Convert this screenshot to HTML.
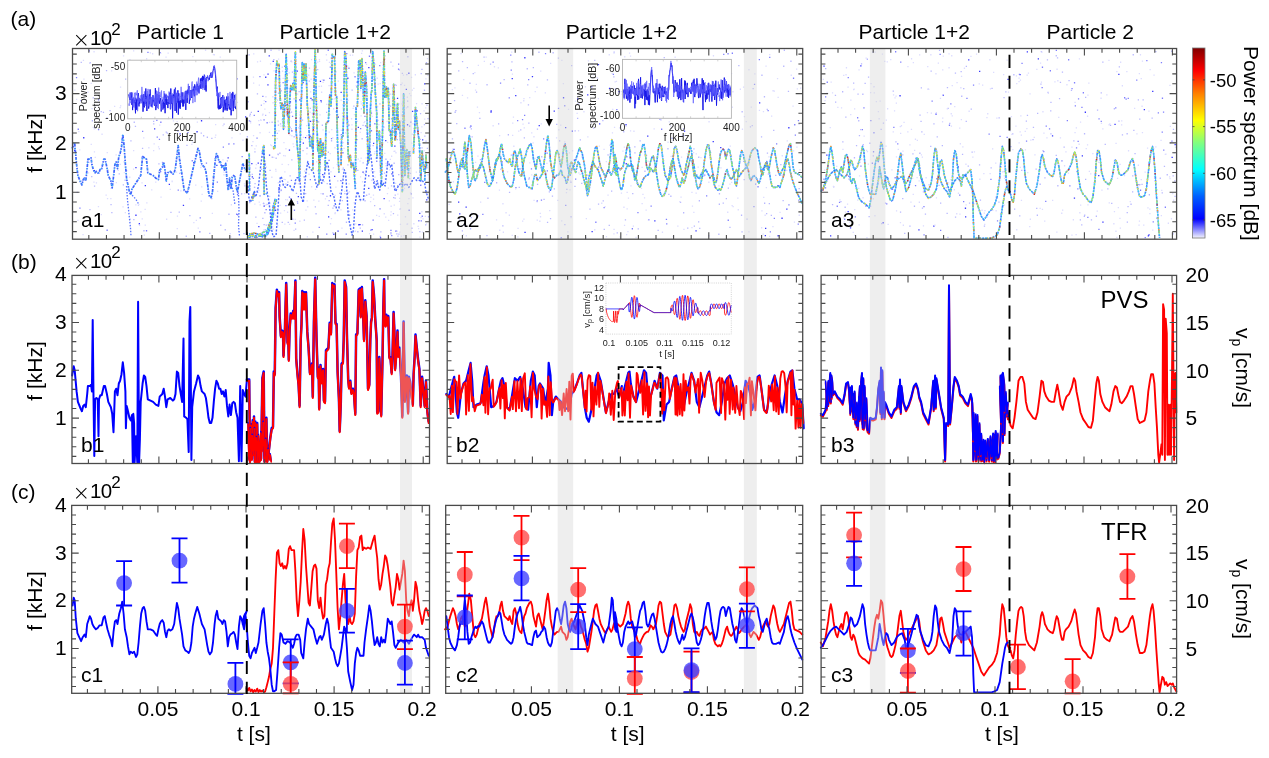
<!DOCTYPE html>
<html><head><meta charset="utf-8"><title>Figure</title>
<style>html,body{margin:0;padding:0;background:#fff;overflow:hidden}svg{display:block}</style>
</head><body>
<svg width="1269" height="758" viewBox="0 0 1269 758" font-family='"Liberation Sans", Arial, Helvetica, sans-serif'><rect width="1269" height="758" fill="#fff"/>
<path d="M196.4 131.1h1.3v1.3h-1.3zM257.6 162.5h1.3v1.3h-1.3zM416.9 127.4h1.3v1.3h-1.3zM74.0 150.0h1.3v1.3h-1.3zM328.0 216.3h1.3v1.3h-1.3zM419.1 212.7h1.3v1.3h-1.3zM411.9 110.8h1.3v1.3h-1.3zM379.9 237.2h1.3v1.3h-1.3zM200.9 120.1h1.3v1.3h-1.3zM288.8 149.5h1.3v1.3h-1.3zM268.6 55.3h1.3v1.3h-1.3zM135.3 167.0h1.3v1.3h-1.3zM245.0 116.2h1.3v1.3h-1.3zM207.4 64.5h1.3v1.3h-1.3zM83.1 137.1h1.3v1.3h-1.3zM285.1 104.8h1.3v1.3h-1.3zM216.2 164.7h1.3v1.3h-1.3zM391.3 173.2h1.3v1.3h-1.3zM193.2 162.1h1.3v1.3h-1.3zM135.3 214.6h1.3v1.3h-1.3zM319.8 80.7h1.3v1.3h-1.3zM395.0 84.8h1.3v1.3h-1.3zM349.0 155.8h1.3v1.3h-1.3zM274.9 209.6h1.3v1.3h-1.3zM356.6 81.5h1.3v1.3h-1.3zM154.0 128.2h1.3v1.3h-1.3zM368.1 175.2h1.3v1.3h-1.3zM93.8 170.0h1.3v1.3h-1.3zM291.2 130.2h1.3v1.3h-1.3zM302.7 142.5h1.3v1.3h-1.3zM179.4 133.3h1.3v1.3h-1.3zM138.7 223.1h1.3v1.3h-1.3zM227.5 157.3h1.3v1.3h-1.3zM156.7 78.9h1.3v1.3h-1.3zM267.3 84.3h1.3v1.3h-1.3zM182.8 204.8h1.3v1.3h-1.3zM368.2 66.9h1.3v1.3h-1.3zM302.5 81.9h1.3v1.3h-1.3zM304.9 137.0h1.3v1.3h-1.3zM156.1 64.4h1.3v1.3h-1.3zM168.7 183.7h1.3v1.3h-1.3zM144.7 185.0h1.3v1.3h-1.3z" fill="#3838ff"/>
<path d="M88.7 50.3h1.3v1.3h-1.3zM205.8 162.4h1.3v1.3h-1.3zM348.3 67.6h1.3v1.3h-1.3zM292.1 83.0h1.3v1.3h-1.3zM141.2 115.2h1.3v1.3h-1.3zM142.1 88.5h1.3v1.3h-1.3zM97.9 129.0h1.3v1.3h-1.3zM173.2 84.5h1.3v1.3h-1.3zM142.0 130.8h1.3v1.3h-1.3zM195.6 86.1h1.3v1.3h-1.3zM348.9 214.4h1.3v1.3h-1.3zM106.5 229.6h1.3v1.3h-1.3zM199.2 231.3h1.3v1.3h-1.3zM379.1 149.2h1.3v1.3h-1.3zM98.0 99.3h1.3v1.3h-1.3zM236.6 78.3h1.3v1.3h-1.3zM259.3 75.9h1.3v1.3h-1.3zM397.4 184.9h1.3v1.3h-1.3zM329.7 66.5h1.3v1.3h-1.3zM376.1 160.6h1.3v1.3h-1.3zM147.3 51.7h1.3v1.3h-1.3zM191.6 160.1h1.3v1.3h-1.3zM236.0 213.6h1.3v1.3h-1.3zM370.8 130.1h1.3v1.3h-1.3zM237.1 214.1h1.3v1.3h-1.3zM156.2 119.7h1.3v1.3h-1.3zM368.8 55.6h1.3v1.3h-1.3zM314.5 98.1h1.3v1.3h-1.3zM330.9 137.9h1.3v1.3h-1.3zM160.0 171.0h1.3v1.3h-1.3zM216.7 181.5h1.3v1.3h-1.3zM222.7 146.5h1.3v1.3h-1.3zM340.7 134.0h1.3v1.3h-1.3zM379.4 208.3h1.3v1.3h-1.3zM320.7 101.3h1.3v1.3h-1.3zM75.9 77.0h1.3v1.3h-1.3zM201.9 69.7h1.3v1.3h-1.3zM265.5 209.0h1.3v1.3h-1.3zM355.7 167.9h1.3v1.3h-1.3zM322.4 193.3h1.3v1.3h-1.3zM158.8 138.8h1.3v1.3h-1.3zM256.4 137.4h1.3v1.3h-1.3zM303.6 176.3h1.3v1.3h-1.3zM156.6 136.5h1.3v1.3h-1.3zM131.5 101.1h1.3v1.3h-1.3zM74.0 148.3h1.3v1.3h-1.3zM79.3 207.4h1.3v1.3h-1.3zM228.3 143.3h1.3v1.3h-1.3zM241.5 156.0h1.3v1.3h-1.3zM187.3 131.9h1.3v1.3h-1.3zM323.2 79.6h1.3v1.3h-1.3zM365.0 61.9h1.3v1.3h-1.3zM77.6 128.6h1.3v1.3h-1.3zM137.7 63.8h1.3v1.3h-1.3zM159.6 52.0h1.3v1.3h-1.3zM160.2 121.6h1.3v1.3h-1.3zM342.3 152.1h1.3v1.3h-1.3zM272.2 134.9h1.3v1.3h-1.3zM262.9 202.8h1.3v1.3h-1.3zM134.5 95.0h1.3v1.3h-1.3zM145.0 115.4h1.3v1.3h-1.3zM233.2 143.3h1.3v1.3h-1.3zM329.0 77.8h1.3v1.3h-1.3zM199.6 217.2h1.3v1.3h-1.3zM177.6 189.5h1.3v1.3h-1.3zM390.3 229.8h1.3v1.3h-1.3zM280.5 189.6h1.3v1.3h-1.3zM410.2 121.5h1.3v1.3h-1.3zM398.0 63.5h1.3v1.3h-1.3zM282.5 81.9h1.3v1.3h-1.3zM145.9 230.1h1.3v1.3h-1.3zM268.1 203.0h1.3v1.3h-1.3zM327.6 49.6h1.3v1.3h-1.3zM163.7 95.3h1.3v1.3h-1.3zM346.1 53.0h1.3v1.3h-1.3zM236.9 194.0h1.3v1.3h-1.3zM245.8 164.3h1.3v1.3h-1.3zM237.7 192.6h1.3v1.3h-1.3zM262.7 178.7h1.3v1.3h-1.3zM360.0 127.9h1.3v1.3h-1.3zM291.9 115.7h1.3v1.3h-1.3zM290.8 179.7h1.3v1.3h-1.3zM265.1 101.0h1.3v1.3h-1.3z" fill="#8080ff"/>
<path d="M287.1 121.1h1.3v1.3h-1.3zM407.1 106.3h1.3v1.3h-1.3zM372.6 78.9h1.3v1.3h-1.3zM359.6 227.4h1.3v1.3h-1.3zM220.0 95.6h1.3v1.3h-1.3zM326.0 111.8h1.3v1.3h-1.3zM246.7 136.1h1.3v1.3h-1.3zM246.9 80.6h1.3v1.3h-1.3zM105.9 69.9h1.3v1.3h-1.3zM425.4 140.5h1.3v1.3h-1.3zM228.0 143.6h1.3v1.3h-1.3zM427.9 216.1h1.3v1.3h-1.3zM92.6 97.3h1.3v1.3h-1.3zM342.6 167.5h1.3v1.3h-1.3zM166.6 132.4h1.3v1.3h-1.3zM330.9 140.1h1.3v1.3h-1.3zM328.5 199.9h1.3v1.3h-1.3zM369.9 52.6h1.3v1.3h-1.3zM141.1 156.8h1.3v1.3h-1.3zM399.9 145.4h1.3v1.3h-1.3zM214.1 158.0h1.3v1.3h-1.3zM194.9 154.4h1.3v1.3h-1.3zM88.2 161.8h1.3v1.3h-1.3zM385.3 158.6h1.3v1.3h-1.3zM255.2 216.5h1.3v1.3h-1.3zM110.9 185.0h1.3v1.3h-1.3zM277.8 124.4h1.3v1.3h-1.3zM133.7 88.1h1.3v1.3h-1.3zM364.3 95.8h1.3v1.3h-1.3zM291.2 159.2h1.3v1.3h-1.3zM420.6 72.9h1.3v1.3h-1.3zM91.7 120.1h1.3v1.3h-1.3zM246.5 182.6h1.3v1.3h-1.3zM302.4 150.0h1.3v1.3h-1.3zM181.6 179.3h1.3v1.3h-1.3zM366.0 194.6h1.3v1.3h-1.3zM211.2 137.7h1.3v1.3h-1.3zM126.0 169.9h1.3v1.3h-1.3zM406.2 73.9h1.3v1.3h-1.3zM425.0 224.2h1.3v1.3h-1.3zM203.0 135.1h1.3v1.3h-1.3zM339.1 192.8h1.3v1.3h-1.3zM158.7 78.8h1.3v1.3h-1.3zM133.6 121.6h1.3v1.3h-1.3zM179.1 172.8h1.3v1.3h-1.3zM297.0 202.6h1.3v1.3h-1.3zM234.2 115.6h1.3v1.3h-1.3zM241.0 193.3h1.3v1.3h-1.3zM244.2 185.2h1.3v1.3h-1.3zM279.2 152.6h1.3v1.3h-1.3zM130.3 140.2h1.3v1.3h-1.3zM211.1 197.9h1.3v1.3h-1.3zM223.3 92.6h1.3v1.3h-1.3zM392.8 213.0h1.3v1.3h-1.3zM93.9 185.5h1.3v1.3h-1.3zM262.9 203.0h1.3v1.3h-1.3zM228.3 213.6h1.3v1.3h-1.3zM201.0 160.7h1.3v1.3h-1.3zM191.1 62.6h1.3v1.3h-1.3zM426.3 104.4h1.3v1.3h-1.3zM421.3 68.8h1.3v1.3h-1.3zM206.7 136.6h1.3v1.3h-1.3zM263.5 224.0h1.3v1.3h-1.3zM210.6 109.8h1.3v1.3h-1.3zM269.4 169.7h1.3v1.3h-1.3zM357.2 231.1h1.3v1.3h-1.3zM243.3 233.0h1.3v1.3h-1.3zM254.4 183.0h1.3v1.3h-1.3zM332.3 207.4h1.3v1.3h-1.3zM287.6 221.7h1.3v1.3h-1.3zM361.5 138.1h1.3v1.3h-1.3zM89.6 62.1h1.3v1.3h-1.3zM89.3 209.0h1.3v1.3h-1.3zM178.1 97.2h1.3v1.3h-1.3zM270.4 49.6h1.3v1.3h-1.3zM189.2 215.0h1.3v1.3h-1.3zM106.3 117.2h1.3v1.3h-1.3zM384.5 55.2h1.3v1.3h-1.3zM266.4 203.7h1.3v1.3h-1.3zM398.1 173.9h1.3v1.3h-1.3zM413.6 115.5h1.3v1.3h-1.3zM220.1 224.6h1.3v1.3h-1.3zM179.6 159.7h1.3v1.3h-1.3zM80.6 61.7h1.3v1.3h-1.3zM344.2 192.9h1.3v1.3h-1.3zM179.2 93.4h1.3v1.3h-1.3zM118.6 173.3h1.3v1.3h-1.3zM177.3 130.7h1.3v1.3h-1.3zM390.9 128.7h1.3v1.3h-1.3zM407.0 100.5h1.3v1.3h-1.3zM161.8 161.7h1.3v1.3h-1.3zM343.3 88.5h1.3v1.3h-1.3zM223.4 123.4h1.3v1.3h-1.3zM369.0 109.0h1.3v1.3h-1.3zM133.2 218.9h1.3v1.3h-1.3zM264.6 229.0h1.3v1.3h-1.3zM289.5 126.6h1.3v1.3h-1.3zM178.6 211.4h1.3v1.3h-1.3zM368.5 193.4h1.3v1.3h-1.3zM176.6 92.1h1.3v1.3h-1.3zM317.1 69.0h1.3v1.3h-1.3zM122.7 184.3h1.3v1.3h-1.3zM159.3 67.4h1.3v1.3h-1.3zM291.8 71.5h1.3v1.3h-1.3zM165.6 131.4h1.3v1.3h-1.3zM364.4 200.1h1.3v1.3h-1.3zM331.9 98.4h1.3v1.3h-1.3zM286.0 107.0h1.3v1.3h-1.3zM200.6 132.4h1.3v1.3h-1.3zM301.9 119.5h1.3v1.3h-1.3zM273.2 58.9h1.3v1.3h-1.3zM341.1 180.3h1.3v1.3h-1.3zM170.3 211.7h1.3v1.3h-1.3zM291.0 217.4h1.3v1.3h-1.3zM185.6 235.6h1.3v1.3h-1.3zM224.1 165.2h1.3v1.3h-1.3zM393.5 162.6h1.3v1.3h-1.3zM226.7 160.3h1.3v1.3h-1.3zM374.0 205.0h1.3v1.3h-1.3zM100.6 110.9h1.3v1.3h-1.3zM389.1 134.7h1.3v1.3h-1.3zM162.6 134.3h1.3v1.3h-1.3zM345.8 221.6h1.3v1.3h-1.3zM124.5 179.6h1.3v1.3h-1.3zM235.6 188.1h1.3v1.3h-1.3zM186.3 144.8h1.3v1.3h-1.3zM76.6 191.8h1.3v1.3h-1.3zM102.8 111.8h1.3v1.3h-1.3zM111.2 211.9h1.3v1.3h-1.3zM391.1 118.1h1.3v1.3h-1.3zM397.3 235.4h1.3v1.3h-1.3zM158.3 163.3h1.3v1.3h-1.3zM141.9 147.7h1.3v1.3h-1.3zM317.9 159.0h1.3v1.3h-1.3zM224.6 229.1h1.3v1.3h-1.3zM230.1 107.5h1.3v1.3h-1.3zM362.2 104.4h1.3v1.3h-1.3zM186.4 111.6h1.3v1.3h-1.3zM109.4 109.9h1.3v1.3h-1.3zM414.0 110.2h1.3v1.3h-1.3zM309.7 107.7h1.3v1.3h-1.3zM305.0 192.9h1.3v1.3h-1.3zM209.1 232.8h1.3v1.3h-1.3zM407.2 56.1h1.3v1.3h-1.3zM143.3 230.1h1.3v1.3h-1.3zM296.8 201.0h1.3v1.3h-1.3zM277.4 153.4h1.3v1.3h-1.3zM327.6 204.8h1.3v1.3h-1.3zM134.8 125.7h1.3v1.3h-1.3zM247.5 101.1h1.3v1.3h-1.3zM91.1 176.0h1.3v1.3h-1.3zM335.5 111.1h1.3v1.3h-1.3zM110.4 203.9h1.3v1.3h-1.3zM80.0 100.0h1.3v1.3h-1.3zM351.5 89.4h1.3v1.3h-1.3zM125.0 78.4h1.3v1.3h-1.3zM248.5 54.2h1.3v1.3h-1.3zM251.2 145.0h1.3v1.3h-1.3zM153.1 123.2h1.3v1.3h-1.3zM153.0 120.8h1.3v1.3h-1.3zM222.9 71.7h1.3v1.3h-1.3zM249.9 120.7h1.3v1.3h-1.3zM425.8 62.0h1.3v1.3h-1.3zM417.9 156.8h1.3v1.3h-1.3zM318.0 121.3h1.3v1.3h-1.3z" fill="#b8b8ff"/>
<path d="M275.8 130.0h1.3v1.3h-1.3zM146.2 202.2h1.3v1.3h-1.3zM305.0 79.6h1.3v1.3h-1.3zM189.4 96.4h1.3v1.3h-1.3zM426.8 57.9h1.3v1.3h-1.3zM312.6 135.2h1.3v1.3h-1.3zM308.0 74.5h1.3v1.3h-1.3zM421.8 231.5h1.3v1.3h-1.3zM391.9 108.5h1.3v1.3h-1.3zM227.8 61.7h1.3v1.3h-1.3zM219.6 56.4h1.3v1.3h-1.3zM363.4 173.0h1.3v1.3h-1.3zM376.6 77.6h1.3v1.3h-1.3zM234.8 80.5h1.3v1.3h-1.3zM364.5 195.4h1.3v1.3h-1.3zM101.4 133.6h1.3v1.3h-1.3zM211.7 212.7h1.3v1.3h-1.3zM158.7 148.1h1.3v1.3h-1.3zM222.3 159.3h1.3v1.3h-1.3zM330.8 218.0h1.3v1.3h-1.3zM223.3 171.4h1.3v1.3h-1.3zM127.5 94.0h1.3v1.3h-1.3zM316.9 170.1h1.3v1.3h-1.3zM367.4 139.4h1.3v1.3h-1.3zM414.6 131.2h1.3v1.3h-1.3zM397.2 193.4h1.3v1.3h-1.3zM421.4 103.1h1.3v1.3h-1.3zM123.2 161.2h1.3v1.3h-1.3zM337.0 180.0h1.3v1.3h-1.3zM223.3 174.1h1.3v1.3h-1.3zM167.4 117.9h1.3v1.3h-1.3zM295.6 88.8h1.3v1.3h-1.3zM383.6 213.1h1.3v1.3h-1.3zM319.7 144.6h1.3v1.3h-1.3zM242.3 139.6h1.3v1.3h-1.3zM354.7 230.6h1.3v1.3h-1.3zM328.8 61.8h1.3v1.3h-1.3zM187.3 188.5h1.3v1.3h-1.3zM106.9 197.9h1.3v1.3h-1.3zM151.1 189.3h1.3v1.3h-1.3zM144.5 208.7h1.3v1.3h-1.3zM258.6 201.5h1.3v1.3h-1.3zM318.8 58.9h1.3v1.3h-1.3zM378.2 124.0h1.3v1.3h-1.3zM133.9 79.1h1.3v1.3h-1.3zM124.7 212.0h1.3v1.3h-1.3zM289.5 185.1h1.3v1.3h-1.3zM135.2 204.2h1.3v1.3h-1.3zM403.9 84.7h1.3v1.3h-1.3zM275.4 232.4h1.3v1.3h-1.3zM91.4 107.9h1.3v1.3h-1.3zM90.6 82.7h1.3v1.3h-1.3zM201.0 84.3h1.3v1.3h-1.3zM217.0 190.7h1.3v1.3h-1.3zM175.9 171.4h1.3v1.3h-1.3zM195.7 219.8h1.3v1.3h-1.3zM129.1 176.6h1.3v1.3h-1.3zM107.4 169.1h1.3v1.3h-1.3zM361.0 52.7h1.3v1.3h-1.3zM193.2 221.9h1.3v1.3h-1.3zM200.2 166.9h1.3v1.3h-1.3zM82.8 59.8h1.3v1.3h-1.3zM78.2 131.0h1.3v1.3h-1.3zM294.6 218.7h1.3v1.3h-1.3zM192.2 56.0h1.3v1.3h-1.3zM115.7 181.9h1.3v1.3h-1.3zM360.5 157.6h1.3v1.3h-1.3zM340.6 129.8h1.3v1.3h-1.3zM326.1 168.5h1.3v1.3h-1.3zM377.7 119.7h1.3v1.3h-1.3zM114.0 105.7h1.3v1.3h-1.3zM289.3 134.2h1.3v1.3h-1.3zM310.5 78.6h1.3v1.3h-1.3zM148.2 147.1h1.3v1.3h-1.3zM272.8 228.4h1.3v1.3h-1.3zM312.2 231.5h1.3v1.3h-1.3zM207.9 195.2h1.3v1.3h-1.3zM307.1 206.1h1.3v1.3h-1.3zM320.8 85.6h1.3v1.3h-1.3zM379.4 161.8h1.3v1.3h-1.3zM363.5 121.9h1.3v1.3h-1.3zM423.5 150.0h1.3v1.3h-1.3zM306.2 135.0h1.3v1.3h-1.3zM312.3 143.6h1.3v1.3h-1.3zM384.3 58.5h1.3v1.3h-1.3zM366.5 152.9h1.3v1.3h-1.3zM392.2 65.5h1.3v1.3h-1.3zM340.3 209.2h1.3v1.3h-1.3zM212.8 53.9h1.3v1.3h-1.3zM297.7 183.1h1.3v1.3h-1.3zM153.5 143.3h1.3v1.3h-1.3zM180.2 190.2h1.3v1.3h-1.3zM285.3 53.9h1.3v1.3h-1.3zM349.7 54.6h1.3v1.3h-1.3zM425.1 107.2h1.3v1.3h-1.3zM160.1 52.7h1.3v1.3h-1.3zM87.9 172.2h1.3v1.3h-1.3zM157.9 146.2h1.3v1.3h-1.3zM269.0 195.7h1.3v1.3h-1.3zM143.7 234.5h1.3v1.3h-1.3zM330.2 57.4h1.3v1.3h-1.3zM408.5 209.0h1.3v1.3h-1.3zM384.1 152.7h1.3v1.3h-1.3zM246.4 233.0h1.3v1.3h-1.3zM306.7 236.1h1.3v1.3h-1.3zM155.1 181.5h1.3v1.3h-1.3zM243.8 183.2h1.3v1.3h-1.3zM359.7 200.1h1.3v1.3h-1.3zM335.2 186.4h1.3v1.3h-1.3zM355.6 85.0h1.3v1.3h-1.3zM299.6 151.0h1.3v1.3h-1.3zM399.0 197.7h1.3v1.3h-1.3zM378.6 215.8h1.3v1.3h-1.3zM401.5 82.4h1.3v1.3h-1.3zM159.1 124.5h1.3v1.3h-1.3zM171.5 180.9h1.3v1.3h-1.3zM389.0 169.3h1.3v1.3h-1.3zM361.9 181.1h1.3v1.3h-1.3zM284.8 126.1h1.3v1.3h-1.3zM96.5 64.2h1.3v1.3h-1.3zM168.6 78.5h1.3v1.3h-1.3zM93.3 181.5h1.3v1.3h-1.3zM263.1 188.9h1.3v1.3h-1.3zM170.5 77.7h1.3v1.3h-1.3zM133.0 50.2h1.3v1.3h-1.3zM344.1 117.3h1.3v1.3h-1.3zM129.5 218.6h1.3v1.3h-1.3zM310.9 58.9h1.3v1.3h-1.3zM133.0 150.0h1.3v1.3h-1.3zM94.5 104.9h1.3v1.3h-1.3zM342.4 107.3h1.3v1.3h-1.3zM98.6 172.0h1.3v1.3h-1.3zM373.9 170.9h1.3v1.3h-1.3zM160.4 196.4h1.3v1.3h-1.3zM276.8 99.6h1.3v1.3h-1.3zM90.6 143.8h1.3v1.3h-1.3zM191.8 141.6h1.3v1.3h-1.3zM389.7 158.7h1.3v1.3h-1.3zM137.8 204.6h1.3v1.3h-1.3zM193.8 66.6h1.3v1.3h-1.3zM227.9 82.8h1.3v1.3h-1.3zM141.6 218.3h1.3v1.3h-1.3zM270.9 145.0h1.3v1.3h-1.3zM282.5 77.8h1.3v1.3h-1.3zM277.9 58.5h1.3v1.3h-1.3zM123.7 172.0h1.3v1.3h-1.3zM194.1 91.6h1.3v1.3h-1.3zM280.0 212.4h1.3v1.3h-1.3zM169.6 188.8h1.3v1.3h-1.3zM74.2 89.5h1.3v1.3h-1.3zM276.4 87.8h1.3v1.3h-1.3zM83.3 78.5h1.3v1.3h-1.3zM411.2 142.6h1.3v1.3h-1.3zM176.8 215.5h1.3v1.3h-1.3zM224.8 70.4h1.3v1.3h-1.3zM270.6 227.4h1.3v1.3h-1.3zM402.2 105.6h1.3v1.3h-1.3zM255.7 163.9h1.3v1.3h-1.3zM97.8 205.9h1.3v1.3h-1.3zM187.3 79.2h1.3v1.3h-1.3zM299.2 220.6h1.3v1.3h-1.3zM415.9 103.0h1.3v1.3h-1.3zM326.1 59.5h1.3v1.3h-1.3zM263.1 163.6h1.3v1.3h-1.3zM386.5 120.7h1.3v1.3h-1.3zM399.2 208.6h1.3v1.3h-1.3zM295.6 143.4h1.3v1.3h-1.3zM153.0 150.0h1.3v1.3h-1.3zM321.7 79.2h1.3v1.3h-1.3zM399.8 208.1h1.3v1.3h-1.3zM156.4 62.2h1.3v1.3h-1.3zM363.8 98.6h1.3v1.3h-1.3zM167.3 63.6h1.3v1.3h-1.3zM227.4 97.2h1.3v1.3h-1.3zM391.0 155.6h1.3v1.3h-1.3zM360.7 103.2h1.3v1.3h-1.3zM275.1 168.8h1.3v1.3h-1.3zM387.0 141.8h1.3v1.3h-1.3zM165.1 79.5h1.3v1.3h-1.3zM365.8 76.6h1.3v1.3h-1.3zM170.2 70.4h1.3v1.3h-1.3zM93.6 128.3h1.3v1.3h-1.3zM119.5 107.0h1.3v1.3h-1.3zM288.9 223.8h1.3v1.3h-1.3zM330.2 62.9h1.3v1.3h-1.3zM374.3 176.4h1.3v1.3h-1.3zM423.4 110.3h1.3v1.3h-1.3zM81.0 180.0h1.3v1.3h-1.3zM158.4 170.7h1.3v1.3h-1.3zM110.4 187.7h1.3v1.3h-1.3zM263.8 163.8h1.3v1.3h-1.3zM348.4 183.3h1.3v1.3h-1.3zM311.4 170.0h1.3v1.3h-1.3zM426.0 63.3h1.3v1.3h-1.3zM382.7 60.9h1.3v1.3h-1.3zM229.6 232.9h1.3v1.3h-1.3zM280.2 190.3h1.3v1.3h-1.3zM111.0 70.3h1.3v1.3h-1.3zM395.0 182.8h1.3v1.3h-1.3zM231.3 137.2h1.3v1.3h-1.3zM380.0 61.9h1.3v1.3h-1.3zM95.8 182.2h1.3v1.3h-1.3zM353.9 176.9h1.3v1.3h-1.3zM214.2 171.1h1.3v1.3h-1.3zM76.0 98.7h1.3v1.3h-1.3zM393.4 115.4h1.3v1.3h-1.3zM403.3 234.9h1.3v1.3h-1.3zM306.2 153.2h1.3v1.3h-1.3zM376.0 128.6h1.3v1.3h-1.3zM372.8 194.5h1.3v1.3h-1.3zM191.2 143.8h1.3v1.3h-1.3zM210.4 63.9h1.3v1.3h-1.3zM421.2 211.1h1.3v1.3h-1.3zM192.0 89.6h1.3v1.3h-1.3zM189.0 198.2h1.3v1.3h-1.3zM79.1 149.2h1.3v1.3h-1.3zM120.0 105.2h1.3v1.3h-1.3zM94.6 156.8h1.3v1.3h-1.3zM380.0 136.0h1.3v1.3h-1.3zM288.9 87.7h1.3v1.3h-1.3zM119.9 86.5h1.3v1.3h-1.3zM264.3 204.7h1.3v1.3h-1.3zM347.1 65.4h1.3v1.3h-1.3zM177.8 99.1h1.3v1.3h-1.3zM419.4 236.4h1.3v1.3h-1.3zM372.9 233.4h1.3v1.3h-1.3zM283.3 141.9h1.3v1.3h-1.3zM172.8 120.2h1.3v1.3h-1.3zM258.3 189.6h1.3v1.3h-1.3zM140.2 211.3h1.3v1.3h-1.3zM330.3 171.1h1.3v1.3h-1.3zM87.3 91.6h1.3v1.3h-1.3zM278.4 49.6h1.3v1.3h-1.3zM92.6 126.8h1.3v1.3h-1.3zM348.8 191.1h1.3v1.3h-1.3zM236.8 101.7h1.3v1.3h-1.3zM122.9 55.3h1.3v1.3h-1.3zM355.1 223.3h1.3v1.3h-1.3zM215.1 134.5h1.3v1.3h-1.3zM402.9 189.2h1.3v1.3h-1.3zM106.6 151.9h1.3v1.3h-1.3zM341.3 227.5h1.3v1.3h-1.3zM238.0 230.5h1.3v1.3h-1.3zM197.6 227.5h1.3v1.3h-1.3zM96.3 75.6h1.3v1.3h-1.3zM402.8 74.4h1.3v1.3h-1.3zM256.9 61.3h1.3v1.3h-1.3zM390.1 93.7h1.3v1.3h-1.3zM215.0 123.9h1.3v1.3h-1.3zM89.0 62.6h1.3v1.3h-1.3zM325.7 54.1h1.3v1.3h-1.3zM208.9 80.8h1.3v1.3h-1.3zM401.7 140.1h1.3v1.3h-1.3zM424.1 118.5h1.3v1.3h-1.3zM105.5 194.4h1.3v1.3h-1.3zM239.6 133.2h1.3v1.3h-1.3zM182.4 100.5h1.3v1.3h-1.3zM187.2 107.4h1.3v1.3h-1.3zM230.3 236.2h1.3v1.3h-1.3zM319.4 114.3h1.3v1.3h-1.3zM272.4 102.1h1.3v1.3h-1.3zM141.4 182.3h1.3v1.3h-1.3zM412.3 197.2h1.3v1.3h-1.3zM146.0 58.1h1.3v1.3h-1.3zM370.7 170.1h1.3v1.3h-1.3zM397.8 185.3h1.3v1.3h-1.3zM385.4 165.1h1.3v1.3h-1.3zM420.4 216.9h1.3v1.3h-1.3zM213.7 54.1h1.3v1.3h-1.3zM221.1 72.7h1.3v1.3h-1.3zM263.4 74.2h1.3v1.3h-1.3zM133.5 79.1h1.3v1.3h-1.3zM119.6 163.7h1.3v1.3h-1.3zM277.6 120.9h1.3v1.3h-1.3zM397.1 214.4h1.3v1.3h-1.3zM407.2 156.8h1.3v1.3h-1.3zM200.6 200.4h1.3v1.3h-1.3zM77.3 219.7h1.3v1.3h-1.3zM196.7 121.4h1.3v1.3h-1.3zM93.8 151.3h1.3v1.3h-1.3zM110.2 198.0h1.3v1.3h-1.3zM176.5 120.9h1.3v1.3h-1.3zM243.9 193.0h1.3v1.3h-1.3zM285.0 199.0h1.3v1.3h-1.3zM230.7 204.1h1.3v1.3h-1.3zM167.5 52.4h1.3v1.3h-1.3zM214.6 136.7h1.3v1.3h-1.3zM82.4 233.9h1.3v1.3h-1.3zM258.1 119.9h1.3v1.3h-1.3zM392.9 131.7h1.3v1.3h-1.3zM399.1 231.4h1.3v1.3h-1.3zM276.6 137.9h1.3v1.3h-1.3zM166.9 112.3h1.3v1.3h-1.3zM344.1 190.8h1.3v1.3h-1.3zM253.7 186.8h1.3v1.3h-1.3zM393.6 204.5h1.3v1.3h-1.3zM352.0 54.5h1.3v1.3h-1.3zM177.4 66.6h1.3v1.3h-1.3zM406.5 223.6h1.3v1.3h-1.3zM132.9 168.4h1.3v1.3h-1.3zM190.9 65.0h1.3v1.3h-1.3zM351.3 128.6h1.3v1.3h-1.3zM318.7 147.7h1.3v1.3h-1.3zM165.7 84.4h1.3v1.3h-1.3zM205.1 92.7h1.3v1.3h-1.3zM171.5 180.5h1.3v1.3h-1.3zM341.7 168.8h1.3v1.3h-1.3zM195.1 184.5h1.3v1.3h-1.3zM359.9 176.2h1.3v1.3h-1.3zM306.1 124.9h1.3v1.3h-1.3zM334.4 213.0h1.3v1.3h-1.3zM201.5 193.8h1.3v1.3h-1.3zM279.4 204.8h1.3v1.3h-1.3zM305.3 209.5h1.3v1.3h-1.3zM253.1 53.2h1.3v1.3h-1.3zM138.8 112.4h1.3v1.3h-1.3zM176.6 228.0h1.3v1.3h-1.3zM200.0 118.0h1.3v1.3h-1.3zM166.0 218.6h1.3v1.3h-1.3zM149.7 52.2h1.3v1.3h-1.3zM411.6 133.6h1.3v1.3h-1.3zM200.5 165.0h1.3v1.3h-1.3zM256.4 222.8h1.3v1.3h-1.3zM269.9 63.3h1.3v1.3h-1.3zM271.9 226.0h1.3v1.3h-1.3zM238.3 202.0h1.3v1.3h-1.3zM152.0 53.1h1.3v1.3h-1.3zM366.8 164.5h1.3v1.3h-1.3zM427.5 174.1h1.3v1.3h-1.3zM90.2 224.7h1.3v1.3h-1.3zM343.4 147.8h1.3v1.3h-1.3zM314.9 59.2h1.3v1.3h-1.3zM211.9 91.1h1.3v1.3h-1.3zM165.4 56.4h1.3v1.3h-1.3zM350.9 118.1h1.3v1.3h-1.3zM100.7 214.0h1.3v1.3h-1.3zM342.7 141.9h1.3v1.3h-1.3zM341.5 150.0h1.3v1.3h-1.3zM138.2 92.2h1.3v1.3h-1.3zM201.1 186.3h1.3v1.3h-1.3zM222.4 124.9h1.3v1.3h-1.3zM143.1 137.2h1.3v1.3h-1.3zM134.9 68.8h1.3v1.3h-1.3zM144.6 224.5h1.3v1.3h-1.3zM263.6 99.9h1.3v1.3h-1.3zM406.9 223.3h1.3v1.3h-1.3zM129.3 59.1h1.3v1.3h-1.3zM122.4 206.2h1.3v1.3h-1.3zM247.8 176.3h1.3v1.3h-1.3zM361.7 50.2h1.3v1.3h-1.3zM115.5 154.3h1.3v1.3h-1.3zM368.4 132.3h1.3v1.3h-1.3zM138.9 224.6h1.3v1.3h-1.3zM93.4 51.1h1.3v1.3h-1.3zM212.0 176.1h1.3v1.3h-1.3zM352.1 209.2h1.3v1.3h-1.3zM117.6 169.8h1.3v1.3h-1.3zM359.6 131.8h1.3v1.3h-1.3zM204.9 49.6h1.3v1.3h-1.3zM219.3 97.5h1.3v1.3h-1.3z" fill="#dcdcff"/>
<path d="M453.3 148.7h1.3v1.3h-1.3zM515.1 94.9h1.3v1.3h-1.3zM786.2 208.5h1.3v1.3h-1.3zM695.4 230.2h1.3v1.3h-1.3zM459.1 213.3h1.3v1.3h-1.3zM531.8 75.9h1.3v1.3h-1.3zM458.0 201.4h1.3v1.3h-1.3zM625.6 163.1h1.3v1.3h-1.3zM538.6 124.9h1.3v1.3h-1.3zM608.9 87.7h1.3v1.3h-1.3zM759.0 102.3h1.3v1.3h-1.3zM654.2 220.2h1.3v1.3h-1.3zM618.4 91.0h1.3v1.3h-1.3zM740.9 172.2h1.3v1.3h-1.3zM647.1 135.5h1.3v1.3h-1.3zM565.0 126.9h1.3v1.3h-1.3zM641.4 63.8h1.3v1.3h-1.3zM625.4 124.0h1.3v1.3h-1.3zM553.6 110.5h1.3v1.3h-1.3zM573.8 159.4h1.3v1.3h-1.3zM764.7 234.9h1.3v1.3h-1.3zM511.6 78.0h1.3v1.3h-1.3zM524.4 231.7h1.3v1.3h-1.3zM597.8 63.9h1.3v1.3h-1.3zM720.1 147.0h1.3v1.3h-1.3zM587.1 94.2h1.3v1.3h-1.3zM501.3 161.3h1.3v1.3h-1.3zM524.2 57.1h1.3v1.3h-1.3zM599.0 123.2h1.3v1.3h-1.3zM470.2 125.4h1.3v1.3h-1.3zM562.9 97.1h1.3v1.3h-1.3zM777.5 235.1h1.3v1.3h-1.3zM699.8 71.7h1.3v1.3h-1.3zM490.4 111.5h1.3v1.3h-1.3zM490.5 110.3h1.3v1.3h-1.3zM577.1 98.2h1.3v1.3h-1.3zM571.7 130.4h1.3v1.3h-1.3zM683.9 130.4h1.3v1.3h-1.3zM765.0 227.8h1.3v1.3h-1.3zM781.4 217.6h1.3v1.3h-1.3zM788.2 127.1h1.3v1.3h-1.3zM465.5 206.4h1.3v1.3h-1.3zM712.6 141.0h1.3v1.3h-1.3zM591.5 230.9h1.3v1.3h-1.3z" fill="#3838ff"/>
<path d="M678.8 165.0h1.3v1.3h-1.3zM794.1 124.1h1.3v1.3h-1.3zM515.3 186.9h1.3v1.3h-1.3zM564.1 105.1h1.3v1.3h-1.3zM753.9 83.8h1.3v1.3h-1.3zM661.0 128.6h1.3v1.3h-1.3zM658.6 104.6h1.3v1.3h-1.3zM692.0 159.2h1.3v1.3h-1.3zM560.6 237.1h1.3v1.3h-1.3zM603.5 206.9h1.3v1.3h-1.3zM687.4 87.5h1.3v1.3h-1.3zM653.8 108.9h1.3v1.3h-1.3zM794.7 134.4h1.3v1.3h-1.3zM727.4 53.1h1.3v1.3h-1.3zM727.6 219.6h1.3v1.3h-1.3zM777.2 185.1h1.3v1.3h-1.3zM726.1 75.9h1.3v1.3h-1.3zM543.0 138.3h1.3v1.3h-1.3zM616.2 109.0h1.3v1.3h-1.3zM666.1 223.2h1.3v1.3h-1.3zM723.1 53.8h1.3v1.3h-1.3zM573.4 165.8h1.3v1.3h-1.3zM704.5 98.2h1.3v1.3h-1.3zM769.7 231.3h1.3v1.3h-1.3zM690.0 85.0h1.3v1.3h-1.3zM629.7 156.3h1.3v1.3h-1.3zM797.6 223.5h1.3v1.3h-1.3zM591.1 86.1h1.3v1.3h-1.3zM517.0 120.0h1.3v1.3h-1.3zM463.9 224.1h1.3v1.3h-1.3zM707.2 94.2h1.3v1.3h-1.3zM598.1 166.5h1.3v1.3h-1.3zM639.2 63.1h1.3v1.3h-1.3zM482.2 213.8h1.3v1.3h-1.3zM693.0 102.6h1.3v1.3h-1.3zM797.8 120.0h1.3v1.3h-1.3zM595.2 221.6h1.3v1.3h-1.3zM557.9 107.8h1.3v1.3h-1.3zM575.0 178.5h1.3v1.3h-1.3zM565.1 204.7h1.3v1.3h-1.3zM743.4 160.8h1.3v1.3h-1.3zM528.0 79.0h1.3v1.3h-1.3zM669.4 86.6h1.3v1.3h-1.3zM650.5 205.4h1.3v1.3h-1.3zM731.7 52.6h1.3v1.3h-1.3zM648.1 219.1h1.3v1.3h-1.3zM773.7 217.8h1.3v1.3h-1.3zM519.3 168.2h1.3v1.3h-1.3zM758.7 58.9h1.3v1.3h-1.3zM755.0 183.4h1.3v1.3h-1.3zM698.8 86.4h1.3v1.3h-1.3zM536.6 200.3h1.3v1.3h-1.3zM546.5 152.4h1.3v1.3h-1.3zM776.0 143.3h1.3v1.3h-1.3zM631.7 228.1h1.3v1.3h-1.3zM540.8 199.4h1.3v1.3h-1.3zM727.4 94.2h1.3v1.3h-1.3zM508.6 97.3h1.3v1.3h-1.3zM524.0 114.7h1.3v1.3h-1.3zM544.9 53.0h1.3v1.3h-1.3zM704.1 174.5h1.3v1.3h-1.3zM530.8 168.2h1.3v1.3h-1.3zM540.5 174.9h1.3v1.3h-1.3zM769.1 56.7h1.3v1.3h-1.3zM792.9 77.6h1.3v1.3h-1.3zM788.3 204.2h1.3v1.3h-1.3zM492.5 61.4h1.3v1.3h-1.3zM484.1 181.8h1.3v1.3h-1.3zM684.3 92.9h1.3v1.3h-1.3zM499.9 82.4h1.3v1.3h-1.3zM510.1 54.5h1.3v1.3h-1.3zM767.5 109.9h1.3v1.3h-1.3zM510.6 69.4h1.3v1.3h-1.3zM626.2 156.1h1.3v1.3h-1.3zM637.3 212.0h1.3v1.3h-1.3zM546.7 170.3h1.3v1.3h-1.3zM753.3 206.0h1.3v1.3h-1.3zM665.8 218.8h1.3v1.3h-1.3zM757.4 186.1h1.3v1.3h-1.3zM612.7 73.7h1.3v1.3h-1.3zM521.9 118.9h1.3v1.3h-1.3zM587.3 188.7h1.3v1.3h-1.3zM706.0 195.2h1.3v1.3h-1.3zM464.3 127.6h1.3v1.3h-1.3z" fill="#8080ff"/>
<path d="M727.9 67.2h1.3v1.3h-1.3zM681.8 135.3h1.3v1.3h-1.3zM697.9 108.7h1.3v1.3h-1.3zM589.3 208.4h1.3v1.3h-1.3zM670.2 195.6h1.3v1.3h-1.3zM715.6 71.6h1.3v1.3h-1.3zM510.7 154.5h1.3v1.3h-1.3zM675.2 71.4h1.3v1.3h-1.3zM479.8 158.9h1.3v1.3h-1.3zM660.3 119.3h1.3v1.3h-1.3zM768.7 203.0h1.3v1.3h-1.3zM461.7 230.2h1.3v1.3h-1.3zM702.3 62.4h1.3v1.3h-1.3zM546.9 221.7h1.3v1.3h-1.3zM453.9 100.0h1.3v1.3h-1.3zM469.3 82.6h1.3v1.3h-1.3zM650.0 74.2h1.3v1.3h-1.3zM766.0 213.0h1.3v1.3h-1.3zM538.3 51.6h1.3v1.3h-1.3zM767.7 173.4h1.3v1.3h-1.3zM770.7 214.7h1.3v1.3h-1.3zM699.1 227.8h1.3v1.3h-1.3zM507.7 134.1h1.3v1.3h-1.3zM698.1 156.6h1.3v1.3h-1.3zM700.1 83.1h1.3v1.3h-1.3zM664.9 191.4h1.3v1.3h-1.3zM729.3 226.7h1.3v1.3h-1.3zM571.0 65.0h1.3v1.3h-1.3zM730.4 82.0h1.3v1.3h-1.3zM783.1 65.6h1.3v1.3h-1.3zM645.7 108.0h1.3v1.3h-1.3zM746.4 218.5h1.3v1.3h-1.3zM790.2 146.4h1.3v1.3h-1.3zM528.2 178.5h1.3v1.3h-1.3zM602.2 120.0h1.3v1.3h-1.3zM634.9 79.5h1.3v1.3h-1.3zM766.6 108.8h1.3v1.3h-1.3zM761.3 74.6h1.3v1.3h-1.3zM469.9 228.1h1.3v1.3h-1.3zM722.6 202.4h1.3v1.3h-1.3zM718.8 193.1h1.3v1.3h-1.3zM703.1 62.7h1.3v1.3h-1.3zM613.5 51.5h1.3v1.3h-1.3zM673.5 166.6h1.3v1.3h-1.3zM781.5 174.5h1.3v1.3h-1.3zM552.5 52.1h1.3v1.3h-1.3zM473.9 219.5h1.3v1.3h-1.3zM616.6 232.2h1.3v1.3h-1.3zM634.4 72.8h1.3v1.3h-1.3zM683.8 135.0h1.3v1.3h-1.3zM713.9 85.1h1.3v1.3h-1.3zM461.9 60.9h1.3v1.3h-1.3zM579.7 139.3h1.3v1.3h-1.3zM668.2 193.8h1.3v1.3h-1.3zM773.1 129.8h1.3v1.3h-1.3zM574.3 185.8h1.3v1.3h-1.3zM602.6 200.2h1.3v1.3h-1.3zM763.8 96.1h1.3v1.3h-1.3zM577.0 117.7h1.3v1.3h-1.3zM632.1 193.0h1.3v1.3h-1.3zM698.0 221.2h1.3v1.3h-1.3zM698.7 200.1h1.3v1.3h-1.3zM520.1 129.3h1.3v1.3h-1.3zM790.3 60.6h1.3v1.3h-1.3zM511.3 61.2h1.3v1.3h-1.3zM486.4 84.1h1.3v1.3h-1.3zM527.1 84.2h1.3v1.3h-1.3zM508.9 191.7h1.3v1.3h-1.3zM782.5 199.9h1.3v1.3h-1.3zM634.2 146.3h1.3v1.3h-1.3zM797.6 172.9h1.3v1.3h-1.3zM451.8 138.2h1.3v1.3h-1.3zM503.5 79.0h1.3v1.3h-1.3zM672.8 235.9h1.3v1.3h-1.3zM738.2 65.0h1.3v1.3h-1.3zM581.1 182.8h1.3v1.3h-1.3zM798.0 199.6h1.3v1.3h-1.3zM665.5 104.0h1.3v1.3h-1.3zM638.5 105.5h1.3v1.3h-1.3zM586.4 174.6h1.3v1.3h-1.3zM518.6 186.8h1.3v1.3h-1.3zM698.0 83.3h1.3v1.3h-1.3zM718.7 203.6h1.3v1.3h-1.3zM454.5 111.6h1.3v1.3h-1.3zM677.7 69.4h1.3v1.3h-1.3zM766.8 152.4h1.3v1.3h-1.3zM564.2 223.9h1.3v1.3h-1.3zM645.9 154.7h1.3v1.3h-1.3zM549.9 217.9h1.3v1.3h-1.3zM613.2 76.3h1.3v1.3h-1.3zM541.1 156.1h1.3v1.3h-1.3zM749.8 126.3h1.3v1.3h-1.3zM472.6 72.9h1.3v1.3h-1.3zM693.3 148.3h1.3v1.3h-1.3zM556.1 123.7h1.3v1.3h-1.3zM683.0 212.1h1.3v1.3h-1.3zM783.7 49.6h1.3v1.3h-1.3zM764.0 202.6h1.3v1.3h-1.3zM459.0 218.2h1.3v1.3h-1.3zM614.8 88.3h1.3v1.3h-1.3zM693.7 225.5h1.3v1.3h-1.3zM475.9 91.4h1.3v1.3h-1.3zM656.2 92.5h1.3v1.3h-1.3zM775.1 174.7h1.3v1.3h-1.3zM464.0 162.1h1.3v1.3h-1.3zM548.7 191.3h1.3v1.3h-1.3zM611.0 190.4h1.3v1.3h-1.3zM644.3 170.6h1.3v1.3h-1.3zM725.7 198.0h1.3v1.3h-1.3zM623.1 131.1h1.3v1.3h-1.3zM557.8 57.4h1.3v1.3h-1.3zM667.3 148.1h1.3v1.3h-1.3zM469.6 126.6h1.3v1.3h-1.3zM498.0 123.3h1.3v1.3h-1.3zM663.6 56.9h1.3v1.3h-1.3zM677.4 60.5h1.3v1.3h-1.3zM760.9 136.3h1.3v1.3h-1.3zM642.0 80.3h1.3v1.3h-1.3zM523.7 137.3h1.3v1.3h-1.3zM752.5 87.9h1.3v1.3h-1.3zM473.7 179.3h1.3v1.3h-1.3zM700.5 99.9h1.3v1.3h-1.3zM502.2 225.3h1.3v1.3h-1.3zM455.2 110.0h1.3v1.3h-1.3zM477.4 215.1h1.3v1.3h-1.3zM496.0 182.1h1.3v1.3h-1.3zM527.8 104.3h1.3v1.3h-1.3zM546.8 79.3h1.3v1.3h-1.3zM532.7 67.0h1.3v1.3h-1.3zM456.1 123.0h1.3v1.3h-1.3zM593.1 127.5h1.3v1.3h-1.3zM740.9 214.6h1.3v1.3h-1.3zM627.0 107.4h1.3v1.3h-1.3zM528.7 177.2h1.3v1.3h-1.3zM448.3 151.6h1.3v1.3h-1.3zM741.4 231.3h1.3v1.3h-1.3zM570.4 215.9h1.3v1.3h-1.3zM636.5 94.0h1.3v1.3h-1.3zM536.9 183.8h1.3v1.3h-1.3zM740.5 156.0h1.3v1.3h-1.3zM730.8 73.0h1.3v1.3h-1.3zM596.0 168.0h1.3v1.3h-1.3zM639.5 140.2h1.3v1.3h-1.3zM718.2 233.6h1.3v1.3h-1.3zM470.7 217.0h1.3v1.3h-1.3zM679.9 166.4h1.3v1.3h-1.3zM489.9 63.5h1.3v1.3h-1.3zM727.7 187.5h1.3v1.3h-1.3zM590.0 181.9h1.3v1.3h-1.3zM528.2 122.4h1.3v1.3h-1.3zM679.9 201.7h1.3v1.3h-1.3zM673.2 116.0h1.3v1.3h-1.3zM566.2 188.7h1.3v1.3h-1.3zM625.4 125.2h1.3v1.3h-1.3zM637.6 228.2h1.3v1.3h-1.3zM486.3 234.9h1.3v1.3h-1.3zM787.8 90.7h1.3v1.3h-1.3zM697.2 82.9h1.3v1.3h-1.3zM687.1 227.4h1.3v1.3h-1.3zM500.3 168.6h1.3v1.3h-1.3zM743.6 179.0h1.3v1.3h-1.3zM682.9 128.2h1.3v1.3h-1.3zM798.5 188.0h1.3v1.3h-1.3zM708.1 235.2h1.3v1.3h-1.3zM536.5 201.0h1.3v1.3h-1.3zM729.3 78.0h1.3v1.3h-1.3zM483.4 56.4h1.3v1.3h-1.3zM780.2 164.0h1.3v1.3h-1.3zM707.9 117.1h1.3v1.3h-1.3zM597.9 203.4h1.3v1.3h-1.3zM570.3 181.6h1.3v1.3h-1.3zM608.6 224.8h1.3v1.3h-1.3zM710.4 162.4h1.3v1.3h-1.3zM470.7 128.2h1.3v1.3h-1.3zM603.6 228.7h1.3v1.3h-1.3zM693.3 175.6h1.3v1.3h-1.3zM536.8 128.5h1.3v1.3h-1.3zM479.2 117.7h1.3v1.3h-1.3zM703.2 175.1h1.3v1.3h-1.3zM671.4 137.6h1.3v1.3h-1.3zM471.5 136.3h1.3v1.3h-1.3zM487.3 197.6h1.3v1.3h-1.3zM551.8 195.4h1.3v1.3h-1.3zM594.1 59.7h1.3v1.3h-1.3zM607.4 154.3h1.3v1.3h-1.3zM458.1 70.2h1.3v1.3h-1.3zM624.8 219.2h1.3v1.3h-1.3zM553.7 188.3h1.3v1.3h-1.3zM574.5 130.3h1.3v1.3h-1.3zM634.3 152.3h1.3v1.3h-1.3zM526.6 68.1h1.3v1.3h-1.3zM559.0 140.3h1.3v1.3h-1.3zM657.5 229.8h1.3v1.3h-1.3zM659.1 118.7h1.3v1.3h-1.3zM663.0 160.1h1.3v1.3h-1.3zM466.7 66.9h1.3v1.3h-1.3zM543.4 198.8h1.3v1.3h-1.3zM751.6 125.0h1.3v1.3h-1.3zM741.5 111.1h1.3v1.3h-1.3z" fill="#b8b8ff"/>
<path d="M607.7 154.6h1.3v1.3h-1.3zM612.4 144.8h1.3v1.3h-1.3zM513.2 145.6h1.3v1.3h-1.3zM480.0 201.5h1.3v1.3h-1.3zM462.8 233.9h1.3v1.3h-1.3zM611.8 132.2h1.3v1.3h-1.3zM631.3 169.7h1.3v1.3h-1.3zM800.2 236.4h1.3v1.3h-1.3zM550.0 62.7h1.3v1.3h-1.3zM522.0 220.4h1.3v1.3h-1.3zM478.8 111.9h1.3v1.3h-1.3zM483.7 60.7h1.3v1.3h-1.3zM523.1 100.1h1.3v1.3h-1.3zM731.6 106.6h1.3v1.3h-1.3zM522.4 123.5h1.3v1.3h-1.3zM674.6 68.3h1.3v1.3h-1.3zM523.3 98.0h1.3v1.3h-1.3zM786.6 140.3h1.3v1.3h-1.3zM515.0 188.3h1.3v1.3h-1.3zM517.4 227.8h1.3v1.3h-1.3zM696.7 97.7h1.3v1.3h-1.3zM645.5 209.5h1.3v1.3h-1.3zM762.5 233.5h1.3v1.3h-1.3zM460.4 52.9h1.3v1.3h-1.3zM672.6 140.0h1.3v1.3h-1.3zM640.8 187.8h1.3v1.3h-1.3zM708.2 181.6h1.3v1.3h-1.3zM771.0 115.5h1.3v1.3h-1.3zM727.1 211.6h1.3v1.3h-1.3zM668.6 121.3h1.3v1.3h-1.3zM662.9 64.6h1.3v1.3h-1.3zM798.6 214.6h1.3v1.3h-1.3zM585.1 187.5h1.3v1.3h-1.3zM712.8 55.1h1.3v1.3h-1.3zM617.8 92.7h1.3v1.3h-1.3zM623.5 164.8h1.3v1.3h-1.3zM762.8 110.9h1.3v1.3h-1.3zM518.1 130.4h1.3v1.3h-1.3zM623.3 206.6h1.3v1.3h-1.3zM523.6 127.2h1.3v1.3h-1.3zM622.3 108.7h1.3v1.3h-1.3zM608.6 54.1h1.3v1.3h-1.3zM670.1 133.3h1.3v1.3h-1.3zM679.2 201.0h1.3v1.3h-1.3zM689.6 86.9h1.3v1.3h-1.3zM511.1 51.5h1.3v1.3h-1.3zM570.0 180.4h1.3v1.3h-1.3zM608.1 166.9h1.3v1.3h-1.3zM581.0 156.3h1.3v1.3h-1.3zM677.9 88.0h1.3v1.3h-1.3zM736.9 169.9h1.3v1.3h-1.3zM523.3 218.4h1.3v1.3h-1.3zM793.0 150.3h1.3v1.3h-1.3zM561.1 220.3h1.3v1.3h-1.3zM642.3 193.7h1.3v1.3h-1.3zM630.3 185.3h1.3v1.3h-1.3zM691.3 227.0h1.3v1.3h-1.3zM633.9 104.0h1.3v1.3h-1.3zM673.5 147.6h1.3v1.3h-1.3zM748.3 231.3h1.3v1.3h-1.3zM650.3 87.2h1.3v1.3h-1.3zM730.8 155.2h1.3v1.3h-1.3zM691.9 61.9h1.3v1.3h-1.3zM594.1 229.1h1.3v1.3h-1.3zM601.1 202.6h1.3v1.3h-1.3zM706.0 72.5h1.3v1.3h-1.3zM536.4 86.6h1.3v1.3h-1.3zM670.9 169.3h1.3v1.3h-1.3zM748.5 164.3h1.3v1.3h-1.3zM530.1 188.5h1.3v1.3h-1.3zM773.7 90.4h1.3v1.3h-1.3zM741.8 128.6h1.3v1.3h-1.3zM492.5 125.1h1.3v1.3h-1.3zM454.3 87.2h1.3v1.3h-1.3zM626.5 191.8h1.3v1.3h-1.3zM485.5 56.5h1.3v1.3h-1.3zM513.1 87.8h1.3v1.3h-1.3zM717.9 110.8h1.3v1.3h-1.3zM629.9 130.2h1.3v1.3h-1.3zM452.7 181.1h1.3v1.3h-1.3zM512.0 134.7h1.3v1.3h-1.3zM628.9 52.4h1.3v1.3h-1.3zM731.0 181.8h1.3v1.3h-1.3zM670.2 125.4h1.3v1.3h-1.3zM626.0 233.9h1.3v1.3h-1.3zM539.2 220.6h1.3v1.3h-1.3zM764.5 214.6h1.3v1.3h-1.3zM680.9 156.4h1.3v1.3h-1.3zM585.5 237.2h1.3v1.3h-1.3zM695.5 192.5h1.3v1.3h-1.3zM456.1 165.0h1.3v1.3h-1.3zM536.6 219.5h1.3v1.3h-1.3zM627.3 231.0h1.3v1.3h-1.3zM799.3 169.3h1.3v1.3h-1.3zM474.9 161.7h1.3v1.3h-1.3zM614.5 81.2h1.3v1.3h-1.3zM663.7 60.5h1.3v1.3h-1.3zM596.5 148.4h1.3v1.3h-1.3zM577.0 103.1h1.3v1.3h-1.3zM645.9 102.7h1.3v1.3h-1.3zM463.1 78.9h1.3v1.3h-1.3zM585.7 218.0h1.3v1.3h-1.3zM465.7 235.1h1.3v1.3h-1.3zM632.7 225.4h1.3v1.3h-1.3zM613.3 233.2h1.3v1.3h-1.3zM661.1 71.1h1.3v1.3h-1.3zM653.5 128.2h1.3v1.3h-1.3zM635.4 236.8h1.3v1.3h-1.3zM763.1 196.7h1.3v1.3h-1.3zM574.8 100.5h1.3v1.3h-1.3zM647.4 160.6h1.3v1.3h-1.3zM793.8 221.4h1.3v1.3h-1.3zM686.7 152.9h1.3v1.3h-1.3zM569.3 189.3h1.3v1.3h-1.3zM474.2 72.0h1.3v1.3h-1.3zM597.8 97.9h1.3v1.3h-1.3zM578.2 172.2h1.3v1.3h-1.3zM562.9 152.5h1.3v1.3h-1.3zM477.3 155.4h1.3v1.3h-1.3zM689.9 105.6h1.3v1.3h-1.3zM474.9 89.5h1.3v1.3h-1.3zM476.8 106.5h1.3v1.3h-1.3zM489.4 182.6h1.3v1.3h-1.3zM772.3 225.9h1.3v1.3h-1.3zM560.1 124.5h1.3v1.3h-1.3zM584.8 86.1h1.3v1.3h-1.3zM729.4 151.0h1.3v1.3h-1.3zM646.7 82.6h1.3v1.3h-1.3zM630.0 151.6h1.3v1.3h-1.3zM789.1 171.7h1.3v1.3h-1.3zM470.6 152.1h1.3v1.3h-1.3zM477.7 64.8h1.3v1.3h-1.3zM765.4 65.4h1.3v1.3h-1.3zM498.8 189.5h1.3v1.3h-1.3zM534.6 90.9h1.3v1.3h-1.3zM567.2 231.2h1.3v1.3h-1.3zM622.3 150.4h1.3v1.3h-1.3zM739.7 174.6h1.3v1.3h-1.3zM732.5 206.0h1.3v1.3h-1.3zM786.1 169.7h1.3v1.3h-1.3zM596.4 76.9h1.3v1.3h-1.3zM488.5 171.1h1.3v1.3h-1.3zM531.1 184.1h1.3v1.3h-1.3zM641.5 202.9h1.3v1.3h-1.3zM539.9 216.1h1.3v1.3h-1.3zM568.8 152.2h1.3v1.3h-1.3zM729.3 183.4h1.3v1.3h-1.3zM539.6 212.7h1.3v1.3h-1.3zM636.7 77.8h1.3v1.3h-1.3zM448.5 203.7h1.3v1.3h-1.3zM700.9 67.7h1.3v1.3h-1.3zM613.4 228.8h1.3v1.3h-1.3zM750.6 106.5h1.3v1.3h-1.3zM739.7 88.6h1.3v1.3h-1.3zM633.6 79.1h1.3v1.3h-1.3zM555.9 137.2h1.3v1.3h-1.3zM587.2 136.2h1.3v1.3h-1.3zM781.6 155.1h1.3v1.3h-1.3zM497.7 67.2h1.3v1.3h-1.3zM591.6 63.1h1.3v1.3h-1.3zM598.7 145.5h1.3v1.3h-1.3zM589.4 180.9h1.3v1.3h-1.3zM726.8 173.4h1.3v1.3h-1.3zM627.8 197.5h1.3v1.3h-1.3zM663.8 79.2h1.3v1.3h-1.3zM624.6 76.1h1.3v1.3h-1.3zM796.3 146.4h1.3v1.3h-1.3zM742.9 86.5h1.3v1.3h-1.3zM534.3 157.7h1.3v1.3h-1.3zM611.5 72.8h1.3v1.3h-1.3zM495.9 219.2h1.3v1.3h-1.3zM769.0 235.7h1.3v1.3h-1.3zM660.3 72.5h1.3v1.3h-1.3zM511.6 234.8h1.3v1.3h-1.3zM680.4 107.2h1.3v1.3h-1.3zM708.4 121.1h1.3v1.3h-1.3zM649.0 82.1h1.3v1.3h-1.3zM674.5 56.6h1.3v1.3h-1.3zM499.1 229.6h1.3v1.3h-1.3zM613.9 126.7h1.3v1.3h-1.3zM691.3 191.8h1.3v1.3h-1.3zM619.5 236.2h1.3v1.3h-1.3zM647.8 219.4h1.3v1.3h-1.3zM633.3 130.6h1.3v1.3h-1.3zM561.2 59.8h1.3v1.3h-1.3zM765.7 186.9h1.3v1.3h-1.3zM713.4 106.7h1.3v1.3h-1.3zM472.2 220.5h1.3v1.3h-1.3zM732.3 91.1h1.3v1.3h-1.3zM727.7 72.7h1.3v1.3h-1.3zM623.9 224.8h1.3v1.3h-1.3zM743.8 116.0h1.3v1.3h-1.3zM508.7 214.6h1.3v1.3h-1.3zM704.2 108.2h1.3v1.3h-1.3zM531.1 174.2h1.3v1.3h-1.3zM579.5 173.8h1.3v1.3h-1.3zM673.9 66.4h1.3v1.3h-1.3zM603.4 148.7h1.3v1.3h-1.3zM680.4 196.5h1.3v1.3h-1.3zM626.5 208.2h1.3v1.3h-1.3zM723.2 80.5h1.3v1.3h-1.3zM531.1 132.2h1.3v1.3h-1.3zM620.7 91.0h1.3v1.3h-1.3zM624.1 56.1h1.3v1.3h-1.3zM700.3 157.0h1.3v1.3h-1.3zM768.3 156.3h1.3v1.3h-1.3zM655.8 66.1h1.3v1.3h-1.3zM691.8 205.5h1.3v1.3h-1.3zM620.8 192.4h1.3v1.3h-1.3zM499.0 135.0h1.3v1.3h-1.3zM461.8 94.7h1.3v1.3h-1.3zM799.6 192.8h1.3v1.3h-1.3zM529.1 97.0h1.3v1.3h-1.3zM533.3 136.1h1.3v1.3h-1.3zM576.5 112.8h1.3v1.3h-1.3zM693.2 211.8h1.3v1.3h-1.3zM745.6 121.0h1.3v1.3h-1.3zM605.8 235.9h1.3v1.3h-1.3zM540.6 123.3h1.3v1.3h-1.3zM718.3 185.3h1.3v1.3h-1.3zM558.2 129.1h1.3v1.3h-1.3zM520.3 102.1h1.3v1.3h-1.3zM591.1 122.0h1.3v1.3h-1.3zM670.5 155.7h1.3v1.3h-1.3zM792.4 105.5h1.3v1.3h-1.3zM772.4 90.1h1.3v1.3h-1.3zM683.3 228.8h1.3v1.3h-1.3zM583.3 111.1h1.3v1.3h-1.3zM615.8 80.8h1.3v1.3h-1.3zM597.1 77.8h1.3v1.3h-1.3zM695.6 153.3h1.3v1.3h-1.3zM622.9 159.5h1.3v1.3h-1.3zM570.5 216.9h1.3v1.3h-1.3zM613.6 165.0h1.3v1.3h-1.3zM576.0 157.6h1.3v1.3h-1.3zM720.3 167.3h1.3v1.3h-1.3zM532.5 142.2h1.3v1.3h-1.3zM641.5 166.7h1.3v1.3h-1.3zM700.7 180.0h1.3v1.3h-1.3zM667.4 141.6h1.3v1.3h-1.3zM578.4 103.1h1.3v1.3h-1.3zM562.7 82.9h1.3v1.3h-1.3zM607.4 194.4h1.3v1.3h-1.3zM505.4 212.1h1.3v1.3h-1.3zM466.9 97.2h1.3v1.3h-1.3zM729.1 123.1h1.3v1.3h-1.3zM565.8 192.0h1.3v1.3h-1.3zM697.5 166.4h1.3v1.3h-1.3zM452.8 159.4h1.3v1.3h-1.3zM790.6 74.6h1.3v1.3h-1.3zM549.0 186.8h1.3v1.3h-1.3zM557.1 199.7h1.3v1.3h-1.3zM548.2 123.0h1.3v1.3h-1.3zM693.0 152.0h1.3v1.3h-1.3zM777.5 96.7h1.3v1.3h-1.3zM647.8 76.5h1.3v1.3h-1.3zM544.7 92.2h1.3v1.3h-1.3zM475.7 83.8h1.3v1.3h-1.3zM800.0 87.5h1.3v1.3h-1.3zM618.9 127.3h1.3v1.3h-1.3zM587.8 60.3h1.3v1.3h-1.3zM779.4 211.8h1.3v1.3h-1.3zM604.4 206.0h1.3v1.3h-1.3zM714.0 107.7h1.3v1.3h-1.3zM451.7 88.9h1.3v1.3h-1.3zM451.9 148.5h1.3v1.3h-1.3zM731.5 204.9h1.3v1.3h-1.3zM796.0 68.4h1.3v1.3h-1.3zM769.1 53.9h1.3v1.3h-1.3zM710.3 152.0h1.3v1.3h-1.3zM758.8 109.7h1.3v1.3h-1.3zM512.8 116.5h1.3v1.3h-1.3zM675.3 89.3h1.3v1.3h-1.3zM761.3 210.2h1.3v1.3h-1.3zM529.2 162.2h1.3v1.3h-1.3zM629.9 55.5h1.3v1.3h-1.3zM605.7 160.9h1.3v1.3h-1.3zM776.9 78.0h1.3v1.3h-1.3zM754.2 73.3h1.3v1.3h-1.3zM621.4 93.4h1.3v1.3h-1.3zM677.2 225.5h1.3v1.3h-1.3zM729.6 145.5h1.3v1.3h-1.3zM470.9 212.8h1.3v1.3h-1.3zM643.9 197.2h1.3v1.3h-1.3zM533.4 199.7h1.3v1.3h-1.3zM720.1 152.6h1.3v1.3h-1.3zM512.1 122.4h1.3v1.3h-1.3zM796.7 88.3h1.3v1.3h-1.3zM567.9 108.7h1.3v1.3h-1.3zM546.3 162.7h1.3v1.3h-1.3zM511.8 73.5h1.3v1.3h-1.3zM517.2 236.2h1.3v1.3h-1.3zM592.1 77.0h1.3v1.3h-1.3zM609.2 144.6h1.3v1.3h-1.3zM652.5 103.0h1.3v1.3h-1.3zM549.1 209.9h1.3v1.3h-1.3zM593.3 74.3h1.3v1.3h-1.3zM737.6 209.1h1.3v1.3h-1.3zM640.7 68.2h1.3v1.3h-1.3zM612.1 108.8h1.3v1.3h-1.3zM661.8 231.6h1.3v1.3h-1.3zM798.4 123.7h1.3v1.3h-1.3zM677.4 181.1h1.3v1.3h-1.3zM679.6 90.4h1.3v1.3h-1.3zM506.9 171.3h1.3v1.3h-1.3zM709.9 97.1h1.3v1.3h-1.3zM613.4 52.5h1.3v1.3h-1.3zM571.9 150.1h1.3v1.3h-1.3zM627.1 72.9h1.3v1.3h-1.3zM493.8 66.1h1.3v1.3h-1.3zM748.3 69.1h1.3v1.3h-1.3zM502.7 231.6h1.3v1.3h-1.3zM591.5 164.4h1.3v1.3h-1.3zM502.3 203.1h1.3v1.3h-1.3zM699.6 78.9h1.3v1.3h-1.3zM789.1 170.2h1.3v1.3h-1.3zM540.1 70.5h1.3v1.3h-1.3zM564.1 141.3h1.3v1.3h-1.3zM761.0 227.1h1.3v1.3h-1.3zM577.9 130.1h1.3v1.3h-1.3zM623.7 146.4h1.3v1.3h-1.3zM688.0 65.5h1.3v1.3h-1.3zM737.2 197.5h1.3v1.3h-1.3z" fill="#dcdcff"/>
<path d="M964.8 207.6h1.3v1.3h-1.3zM942.7 94.8h1.3v1.3h-1.3zM1174.5 144.0h1.3v1.3h-1.3zM1081.7 155.2h1.3v1.3h-1.3zM1118.2 73.8h1.3v1.3h-1.3zM860.2 65.3h1.3v1.3h-1.3zM968.1 59.2h1.3v1.3h-1.3zM933.2 225.4h1.3v1.3h-1.3zM1143.7 108.9h1.3v1.3h-1.3zM1102.3 221.4h1.3v1.3h-1.3zM823.4 65.5h1.3v1.3h-1.3zM979.0 70.8h1.3v1.3h-1.3zM847.5 210.9h1.3v1.3h-1.3zM1148.4 234.2h1.3v1.3h-1.3zM957.6 166.3h1.3v1.3h-1.3zM830.0 235.3h1.3v1.3h-1.3zM1051.9 135.2h1.3v1.3h-1.3zM826.2 154.5h1.3v1.3h-1.3zM1084.7 111.6h1.3v1.3h-1.3zM899.4 95.1h1.3v1.3h-1.3zM1073.8 197.4h1.3v1.3h-1.3zM935.4 113.5h1.3v1.3h-1.3zM1037.7 58.3h1.3v1.3h-1.3zM1007.4 78.8h1.3v1.3h-1.3zM1026.7 51.2h1.3v1.3h-1.3zM849.9 227.2h1.3v1.3h-1.3zM965.0 216.2h1.3v1.3h-1.3zM1020.1 148.3h1.3v1.3h-1.3zM918.3 229.3h1.3v1.3h-1.3zM1114.4 123.8h1.3v1.3h-1.3zM1147.7 235.2h1.3v1.3h-1.3zM1171.5 156.7h1.3v1.3h-1.3zM1019.4 74.0h1.3v1.3h-1.3zM1152.1 90.7h1.3v1.3h-1.3zM882.5 222.1h1.3v1.3h-1.3zM1098.1 175.0h1.3v1.3h-1.3z" fill="#3838ff"/>
<path d="M873.3 132.1h1.3v1.3h-1.3zM861.7 128.9h1.3v1.3h-1.3zM932.3 166.1h1.3v1.3h-1.3zM1068.0 59.1h1.3v1.3h-1.3zM959.1 194.4h1.3v1.3h-1.3zM1156.2 217.4h1.3v1.3h-1.3zM1100.6 120.7h1.3v1.3h-1.3zM936.2 178.1h1.3v1.3h-1.3zM963.0 201.0h1.3v1.3h-1.3zM1081.3 106.8h1.3v1.3h-1.3zM826.6 81.6h1.3v1.3h-1.3zM1074.7 105.2h1.3v1.3h-1.3zM825.0 96.3h1.3v1.3h-1.3zM1171.3 140.5h1.3v1.3h-1.3zM999.4 135.8h1.3v1.3h-1.3zM848.0 175.6h1.3v1.3h-1.3zM863.3 107.2h1.3v1.3h-1.3zM860.3 165.4h1.3v1.3h-1.3zM948.8 124.6h1.3v1.3h-1.3zM950.2 103.3h1.3v1.3h-1.3zM871.7 162.6h1.3v1.3h-1.3zM1163.1 149.5h1.3v1.3h-1.3zM1071.4 87.9h1.3v1.3h-1.3zM1160.8 61.9h1.3v1.3h-1.3zM1061.3 160.3h1.3v1.3h-1.3zM988.5 133.5h1.3v1.3h-1.3zM893.2 126.7h1.3v1.3h-1.3zM872.9 151.1h1.3v1.3h-1.3zM936.5 159.7h1.3v1.3h-1.3zM1136.1 79.4h1.3v1.3h-1.3zM996.9 220.2h1.3v1.3h-1.3zM1125.5 98.4h1.3v1.3h-1.3zM836.6 205.6h1.3v1.3h-1.3zM824.9 187.3h1.3v1.3h-1.3zM940.0 229.7h1.3v1.3h-1.3zM914.9 184.9h1.3v1.3h-1.3zM1144.6 236.9h1.3v1.3h-1.3zM854.7 216.3h1.3v1.3h-1.3zM1073.9 82.1h1.3v1.3h-1.3zM1082.7 92.1h1.3v1.3h-1.3zM1041.8 66.6h1.3v1.3h-1.3zM972.9 84.4h1.3v1.3h-1.3zM847.6 77.0h1.3v1.3h-1.3zM844.0 218.6h1.3v1.3h-1.3zM1043.1 151.0h1.3v1.3h-1.3zM990.3 178.7h1.3v1.3h-1.3zM1138.3 183.9h1.3v1.3h-1.3zM1127.6 97.7h1.3v1.3h-1.3zM891.9 188.7h1.3v1.3h-1.3zM1006.5 136.7h1.3v1.3h-1.3zM1098.4 118.3h1.3v1.3h-1.3zM1161.8 97.6h1.3v1.3h-1.3zM1098.3 228.7h1.3v1.3h-1.3zM895.0 51.1h1.3v1.3h-1.3zM1139.9 189.6h1.3v1.3h-1.3zM838.9 201.8h1.3v1.3h-1.3zM1049.7 70.1h1.3v1.3h-1.3zM1041.5 87.0h1.3v1.3h-1.3zM1115.1 107.3h1.3v1.3h-1.3zM1055.7 49.7h1.3v1.3h-1.3zM931.5 100.4h1.3v1.3h-1.3zM939.5 53.7h1.3v1.3h-1.3zM966.3 97.8h1.3v1.3h-1.3zM1077.2 188.2h1.3v1.3h-1.3zM1066.7 120.0h1.3v1.3h-1.3zM1025.9 140.4h1.3v1.3h-1.3zM1018.8 73.8h1.3v1.3h-1.3zM1069.2 185.2h1.3v1.3h-1.3zM894.5 177.1h1.3v1.3h-1.3zM923.3 206.0h1.3v1.3h-1.3zM1146.2 60.0h1.3v1.3h-1.3zM900.1 61.4h1.3v1.3h-1.3zM857.0 117.1h1.3v1.3h-1.3zM1152.6 221.2h1.3v1.3h-1.3zM1045.1 200.7h1.3v1.3h-1.3zM1048.9 128.2h1.3v1.3h-1.3zM886.1 203.2h1.3v1.3h-1.3zM1045.6 125.4h1.3v1.3h-1.3zM1087.2 216.8h1.3v1.3h-1.3zM897.1 143.3h1.3v1.3h-1.3zM1161.6 131.4h1.3v1.3h-1.3zM1124.0 97.1h1.3v1.3h-1.3zM1157.7 112.2h1.3v1.3h-1.3zM1162.9 111.4h1.3v1.3h-1.3zM1164.7 206.6h1.3v1.3h-1.3zM923.4 234.2h1.3v1.3h-1.3zM1077.5 140.7h1.3v1.3h-1.3zM823.4 178.6h1.3v1.3h-1.3zM1076.4 170.9h1.3v1.3h-1.3zM1021.4 62.8h1.3v1.3h-1.3zM1077.9 98.3h1.3v1.3h-1.3zM870.2 119.9h1.3v1.3h-1.3zM1075.9 147.3h1.3v1.3h-1.3z" fill="#8080ff"/>
<path d="M872.3 51.5h1.3v1.3h-1.3zM848.3 178.4h1.3v1.3h-1.3zM1109.9 124.7h1.3v1.3h-1.3zM1032.4 139.0h1.3v1.3h-1.3zM1166.6 174.1h1.3v1.3h-1.3zM862.2 93.6h1.3v1.3h-1.3zM831.9 203.9h1.3v1.3h-1.3zM1005.2 91.2h1.3v1.3h-1.3zM835.0 101.4h1.3v1.3h-1.3zM1046.8 59.3h1.3v1.3h-1.3zM881.1 223.0h1.3v1.3h-1.3zM990.5 167.2h1.3v1.3h-1.3zM924.8 213.4h1.3v1.3h-1.3zM1070.8 89.7h1.3v1.3h-1.3zM868.5 215.9h1.3v1.3h-1.3zM1161.6 192.2h1.3v1.3h-1.3zM1026.8 114.7h1.3v1.3h-1.3zM961.1 95.6h1.3v1.3h-1.3zM942.5 94.2h1.3v1.3h-1.3zM1155.2 50.9h1.3v1.3h-1.3zM920.7 87.3h1.3v1.3h-1.3zM1068.4 80.0h1.3v1.3h-1.3zM1036.1 207.7h1.3v1.3h-1.3zM945.6 186.9h1.3v1.3h-1.3zM998.5 117.2h1.3v1.3h-1.3zM967.6 165.5h1.3v1.3h-1.3zM965.6 120.8h1.3v1.3h-1.3zM1130.4 203.6h1.3v1.3h-1.3zM1127.4 205.9h1.3v1.3h-1.3zM1132.6 54.1h1.3v1.3h-1.3zM1159.6 177.6h1.3v1.3h-1.3zM971.5 151.4h1.3v1.3h-1.3zM1151.5 117.5h1.3v1.3h-1.3zM1042.4 150.1h1.3v1.3h-1.3zM1085.0 96.8h1.3v1.3h-1.3zM1025.7 120.5h1.3v1.3h-1.3zM947.3 236.7h1.3v1.3h-1.3zM963.1 88.0h1.3v1.3h-1.3zM1059.8 81.7h1.3v1.3h-1.3zM921.8 207.4h1.3v1.3h-1.3zM983.8 225.4h1.3v1.3h-1.3zM1039.5 183.6h1.3v1.3h-1.3zM970.6 108.5h1.3v1.3h-1.3zM865.0 205.6h1.3v1.3h-1.3zM1014.0 208.5h1.3v1.3h-1.3zM922.8 191.3h1.3v1.3h-1.3zM1174.4 195.8h1.3v1.3h-1.3zM991.4 87.7h1.3v1.3h-1.3zM1063.5 146.5h1.3v1.3h-1.3zM919.2 152.6h1.3v1.3h-1.3zM1132.1 175.2h1.3v1.3h-1.3zM927.5 88.5h1.3v1.3h-1.3zM853.0 82.5h1.3v1.3h-1.3zM1084.1 214.4h1.3v1.3h-1.3zM1126.7 221.5h1.3v1.3h-1.3zM1113.7 108.1h1.3v1.3h-1.3zM933.3 123.2h1.3v1.3h-1.3zM1171.1 50.6h1.3v1.3h-1.3zM947.5 107.7h1.3v1.3h-1.3zM860.1 129.0h1.3v1.3h-1.3zM880.5 128.7h1.3v1.3h-1.3zM938.4 184.7h1.3v1.3h-1.3zM1133.2 129.7h1.3v1.3h-1.3zM1032.8 126.7h1.3v1.3h-1.3zM884.9 177.6h1.3v1.3h-1.3zM979.8 199.4h1.3v1.3h-1.3zM895.3 141.2h1.3v1.3h-1.3zM954.8 72.4h1.3v1.3h-1.3zM842.0 91.1h1.3v1.3h-1.3zM938.9 49.7h1.3v1.3h-1.3zM1003.6 171.0h1.3v1.3h-1.3zM884.9 202.5h1.3v1.3h-1.3zM858.8 134.9h1.3v1.3h-1.3zM1061.8 71.5h1.3v1.3h-1.3zM869.9 205.7h1.3v1.3h-1.3zM871.8 179.3h1.3v1.3h-1.3zM1050.1 110.2h1.3v1.3h-1.3zM1137.7 99.2h1.3v1.3h-1.3zM1107.2 188.2h1.3v1.3h-1.3zM1111.1 202.8h1.3v1.3h-1.3zM936.6 136.2h1.3v1.3h-1.3zM1050.3 133.2h1.3v1.3h-1.3zM1163.8 165.8h1.3v1.3h-1.3zM853.8 157.1h1.3v1.3h-1.3zM1139.2 184.0h1.3v1.3h-1.3zM965.7 65.8h1.3v1.3h-1.3zM1019.1 215.2h1.3v1.3h-1.3zM1118.3 120.4h1.3v1.3h-1.3zM978.9 164.3h1.3v1.3h-1.3zM869.2 142.6h1.3v1.3h-1.3zM1047.4 91.8h1.3v1.3h-1.3zM902.1 154.3h1.3v1.3h-1.3zM1090.8 219.2h1.3v1.3h-1.3zM941.7 144.9h1.3v1.3h-1.3zM1055.6 55.1h1.3v1.3h-1.3zM855.9 144.9h1.3v1.3h-1.3zM1104.6 143.7h1.3v1.3h-1.3zM1083.7 215.8h1.3v1.3h-1.3zM1055.6 154.8h1.3v1.3h-1.3zM919.4 114.5h1.3v1.3h-1.3zM1102.2 61.5h1.3v1.3h-1.3zM1172.5 233.3h1.3v1.3h-1.3zM860.9 63.3h1.3v1.3h-1.3zM902.1 197.9h1.3v1.3h-1.3zM1003.4 96.9h1.3v1.3h-1.3zM995.4 196.5h1.3v1.3h-1.3zM904.1 232.8h1.3v1.3h-1.3zM1126.5 133.1h1.3v1.3h-1.3zM1174.2 180.3h1.3v1.3h-1.3zM940.0 202.5h1.3v1.3h-1.3zM882.8 122.5h1.3v1.3h-1.3zM867.9 76.5h1.3v1.3h-1.3zM1083.9 133.1h1.3v1.3h-1.3zM930.1 145.7h1.3v1.3h-1.3zM825.0 67.9h1.3v1.3h-1.3zM1153.0 148.2h1.3v1.3h-1.3zM1081.1 224.2h1.3v1.3h-1.3zM840.3 200.9h1.3v1.3h-1.3zM866.7 58.6h1.3v1.3h-1.3zM1050.3 101.7h1.3v1.3h-1.3zM1142.5 99.3h1.3v1.3h-1.3zM930.5 70.5h1.3v1.3h-1.3zM1007.2 188.2h1.3v1.3h-1.3zM1141.4 183.7h1.3v1.3h-1.3zM1044.3 177.2h1.3v1.3h-1.3zM954.9 216.5h1.3v1.3h-1.3zM1021.1 169.7h1.3v1.3h-1.3zM960.5 70.9h1.3v1.3h-1.3zM1172.5 175.2h1.3v1.3h-1.3zM1040.7 50.9h1.3v1.3h-1.3zM946.5 212.7h1.3v1.3h-1.3zM1040.3 83.5h1.3v1.3h-1.3zM1056.9 57.3h1.3v1.3h-1.3zM909.3 225.5h1.3v1.3h-1.3zM1057.2 185.1h1.3v1.3h-1.3zM921.2 131.3h1.3v1.3h-1.3zM961.9 153.7h1.3v1.3h-1.3zM912.3 153.3h1.3v1.3h-1.3zM899.3 170.9h1.3v1.3h-1.3zM834.8 94.8h1.3v1.3h-1.3zM1154.6 168.6h1.3v1.3h-1.3zM1126.6 211.9h1.3v1.3h-1.3zM899.9 211.5h1.3v1.3h-1.3zM946.8 86.9h1.3v1.3h-1.3zM1079.7 219.2h1.3v1.3h-1.3zM1085.0 178.8h1.3v1.3h-1.3zM1073.2 140.3h1.3v1.3h-1.3zM872.7 155.2h1.3v1.3h-1.3zM1095.7 215.6h1.3v1.3h-1.3zM913.8 205.6h1.3v1.3h-1.3zM862.6 144.1h1.3v1.3h-1.3zM892.6 90.4h1.3v1.3h-1.3zM1036.7 214.6h1.3v1.3h-1.3zM968.9 202.4h1.3v1.3h-1.3zM857.4 93.4h1.3v1.3h-1.3zM1096.9 109.5h1.3v1.3h-1.3zM1172.8 128.8h1.3v1.3h-1.3zM1132.0 191.2h1.3v1.3h-1.3zM842.2 141.2h1.3v1.3h-1.3zM949.1 122.8h1.3v1.3h-1.3zM920.4 120.8h1.3v1.3h-1.3zM998.3 201.4h1.3v1.3h-1.3zM1118.7 66.3h1.3v1.3h-1.3zM1148.7 194.1h1.3v1.3h-1.3zM1035.5 168.4h1.3v1.3h-1.3zM1139.1 118.4h1.3v1.3h-1.3zM1100.6 92.3h1.3v1.3h-1.3zM1121.8 134.3h1.3v1.3h-1.3zM864.5 82.7h1.3v1.3h-1.3zM1134.4 152.9h1.3v1.3h-1.3zM1012.1 133.2h1.3v1.3h-1.3zM833.1 186.2h1.3v1.3h-1.3zM858.1 120.1h1.3v1.3h-1.3zM1058.9 98.0h1.3v1.3h-1.3zM999.9 213.5h1.3v1.3h-1.3zM844.5 206.6h1.3v1.3h-1.3zM1010.3 145.9h1.3v1.3h-1.3zM845.2 116.4h1.3v1.3h-1.3zM1013.2 74.1h1.3v1.3h-1.3zM1037.0 112.8h1.3v1.3h-1.3z" fill="#b8b8ff"/>
<path d="M989.5 172.9h1.3v1.3h-1.3zM918.7 201.6h1.3v1.3h-1.3zM1034.3 154.3h1.3v1.3h-1.3zM1141.8 60.5h1.3v1.3h-1.3zM843.5 221.3h1.3v1.3h-1.3zM854.1 234.8h1.3v1.3h-1.3zM832.8 185.8h1.3v1.3h-1.3zM950.2 179.0h1.3v1.3h-1.3zM1002.5 201.6h1.3v1.3h-1.3zM1016.1 82.9h1.3v1.3h-1.3zM895.7 102.4h1.3v1.3h-1.3zM1160.4 139.8h1.3v1.3h-1.3zM888.8 190.0h1.3v1.3h-1.3zM824.4 99.9h1.3v1.3h-1.3zM836.1 165.7h1.3v1.3h-1.3zM935.8 197.3h1.3v1.3h-1.3zM1047.7 92.6h1.3v1.3h-1.3zM1155.2 146.2h1.3v1.3h-1.3zM912.0 177.8h1.3v1.3h-1.3zM907.2 131.2h1.3v1.3h-1.3zM1019.7 166.8h1.3v1.3h-1.3zM1029.7 218.6h1.3v1.3h-1.3zM1072.7 219.1h1.3v1.3h-1.3zM1138.8 220.4h1.3v1.3h-1.3zM946.7 108.1h1.3v1.3h-1.3zM1065.3 151.2h1.3v1.3h-1.3zM866.0 149.8h1.3v1.3h-1.3zM854.0 108.2h1.3v1.3h-1.3zM1090.1 173.3h1.3v1.3h-1.3zM951.1 55.1h1.3v1.3h-1.3zM978.6 83.2h1.3v1.3h-1.3zM899.8 222.0h1.3v1.3h-1.3zM984.3 209.9h1.3v1.3h-1.3zM902.3 150.5h1.3v1.3h-1.3zM961.5 175.9h1.3v1.3h-1.3zM1165.3 153.5h1.3v1.3h-1.3zM870.0 91.9h1.3v1.3h-1.3zM910.9 58.1h1.3v1.3h-1.3zM922.8 225.2h1.3v1.3h-1.3zM959.3 213.4h1.3v1.3h-1.3zM935.3 73.1h1.3v1.3h-1.3zM1119.5 163.7h1.3v1.3h-1.3zM894.4 97.3h1.3v1.3h-1.3zM1006.5 59.4h1.3v1.3h-1.3zM887.0 108.1h1.3v1.3h-1.3zM1036.2 68.7h1.3v1.3h-1.3zM1011.3 133.7h1.3v1.3h-1.3zM1052.0 199.8h1.3v1.3h-1.3zM1046.3 137.2h1.3v1.3h-1.3zM959.1 127.4h1.3v1.3h-1.3zM1074.4 101.8h1.3v1.3h-1.3zM995.5 210.1h1.3v1.3h-1.3zM965.3 163.6h1.3v1.3h-1.3zM1063.9 165.1h1.3v1.3h-1.3zM1161.1 189.7h1.3v1.3h-1.3zM831.9 92.3h1.3v1.3h-1.3zM989.8 88.3h1.3v1.3h-1.3zM907.3 65.9h1.3v1.3h-1.3zM1158.3 234.7h1.3v1.3h-1.3zM1148.0 162.1h1.3v1.3h-1.3zM826.4 92.4h1.3v1.3h-1.3zM1080.0 204.5h1.3v1.3h-1.3zM941.9 121.1h1.3v1.3h-1.3zM903.4 121.8h1.3v1.3h-1.3zM866.8 151.0h1.3v1.3h-1.3zM858.1 187.8h1.3v1.3h-1.3zM883.0 152.4h1.3v1.3h-1.3zM951.6 115.2h1.3v1.3h-1.3zM926.8 111.9h1.3v1.3h-1.3zM962.2 146.3h1.3v1.3h-1.3zM910.3 201.5h1.3v1.3h-1.3zM891.3 169.3h1.3v1.3h-1.3zM1030.2 139.4h1.3v1.3h-1.3zM986.3 117.0h1.3v1.3h-1.3zM1087.3 94.4h1.3v1.3h-1.3zM1078.5 143.6h1.3v1.3h-1.3zM930.2 54.1h1.3v1.3h-1.3zM1100.8 122.8h1.3v1.3h-1.3zM1140.6 77.9h1.3v1.3h-1.3zM995.1 162.4h1.3v1.3h-1.3zM873.6 92.3h1.3v1.3h-1.3zM1143.1 224.4h1.3v1.3h-1.3zM951.6 84.9h1.3v1.3h-1.3zM1092.2 153.0h1.3v1.3h-1.3zM914.0 149.7h1.3v1.3h-1.3zM1117.7 207.0h1.3v1.3h-1.3zM975.9 53.5h1.3v1.3h-1.3zM1146.9 147.5h1.3v1.3h-1.3zM1119.3 217.7h1.3v1.3h-1.3zM1139.8 54.1h1.3v1.3h-1.3zM1008.3 166.3h1.3v1.3h-1.3zM899.6 126.0h1.3v1.3h-1.3zM1085.6 147.9h1.3v1.3h-1.3zM1061.1 212.6h1.3v1.3h-1.3zM865.5 57.5h1.3v1.3h-1.3zM1113.8 210.9h1.3v1.3h-1.3zM900.8 125.1h1.3v1.3h-1.3zM921.7 156.4h1.3v1.3h-1.3zM1087.3 204.2h1.3v1.3h-1.3zM881.8 53.4h1.3v1.3h-1.3zM948.4 67.1h1.3v1.3h-1.3zM968.5 110.6h1.3v1.3h-1.3zM1012.2 148.9h1.3v1.3h-1.3zM1141.4 105.6h1.3v1.3h-1.3zM934.3 224.4h1.3v1.3h-1.3zM974.1 203.3h1.3v1.3h-1.3zM1160.7 214.9h1.3v1.3h-1.3zM845.8 67.1h1.3v1.3h-1.3zM1138.4 224.5h1.3v1.3h-1.3zM1059.8 137.3h1.3v1.3h-1.3zM1071.3 234.4h1.3v1.3h-1.3zM1042.3 111.1h1.3v1.3h-1.3zM960.2 87.1h1.3v1.3h-1.3zM1144.5 171.5h1.3v1.3h-1.3zM904.3 186.6h1.3v1.3h-1.3zM1153.3 163.8h1.3v1.3h-1.3zM1018.4 77.4h1.3v1.3h-1.3zM879.5 100.5h1.3v1.3h-1.3zM892.6 131.2h1.3v1.3h-1.3zM886.6 61.2h1.3v1.3h-1.3zM1147.3 207.2h1.3v1.3h-1.3zM850.2 99.4h1.3v1.3h-1.3zM1054.3 81.2h1.3v1.3h-1.3zM1169.7 125.8h1.3v1.3h-1.3zM918.5 180.2h1.3v1.3h-1.3zM912.6 193.7h1.3v1.3h-1.3zM902.7 224.6h1.3v1.3h-1.3zM1067.8 172.4h1.3v1.3h-1.3zM979.2 178.6h1.3v1.3h-1.3zM1078.8 58.3h1.3v1.3h-1.3zM845.4 74.1h1.3v1.3h-1.3zM843.1 74.8h1.3v1.3h-1.3zM1075.5 234.0h1.3v1.3h-1.3zM1169.4 178.0h1.3v1.3h-1.3zM872.7 198.1h1.3v1.3h-1.3zM853.0 89.0h1.3v1.3h-1.3zM1086.9 115.6h1.3v1.3h-1.3zM870.4 82.9h1.3v1.3h-1.3zM989.2 59.1h1.3v1.3h-1.3zM1093.0 181.9h1.3v1.3h-1.3zM1169.0 176.3h1.3v1.3h-1.3zM843.2 217.2h1.3v1.3h-1.3zM1096.7 158.4h1.3v1.3h-1.3zM992.1 209.6h1.3v1.3h-1.3zM1015.3 125.5h1.3v1.3h-1.3zM1029.1 226.0h1.3v1.3h-1.3zM992.0 148.2h1.3v1.3h-1.3zM1040.8 81.5h1.3v1.3h-1.3zM1169.8 142.7h1.3v1.3h-1.3zM1149.5 68.9h1.3v1.3h-1.3zM1100.4 97.6h1.3v1.3h-1.3zM1020.7 134.4h1.3v1.3h-1.3zM983.2 172.9h1.3v1.3h-1.3zM824.0 169.5h1.3v1.3h-1.3zM1127.9 150.1h1.3v1.3h-1.3zM873.2 86.3h1.3v1.3h-1.3zM884.1 60.7h1.3v1.3h-1.3zM858.9 175.2h1.3v1.3h-1.3zM920.8 154.2h1.3v1.3h-1.3zM895.4 95.4h1.3v1.3h-1.3zM1096.6 210.4h1.3v1.3h-1.3zM1024.6 130.8h1.3v1.3h-1.3zM1115.4 142.7h1.3v1.3h-1.3zM993.0 71.8h1.3v1.3h-1.3zM999.1 165.1h1.3v1.3h-1.3zM852.6 231.7h1.3v1.3h-1.3zM874.5 51.4h1.3v1.3h-1.3zM1136.3 133.3h1.3v1.3h-1.3zM1088.2 82.4h1.3v1.3h-1.3zM1041.8 208.7h1.3v1.3h-1.3zM1020.8 199.7h1.3v1.3h-1.3zM1121.0 124.2h1.3v1.3h-1.3zM1102.2 128.2h1.3v1.3h-1.3zM928.1 184.1h1.3v1.3h-1.3zM1101.3 189.5h1.3v1.3h-1.3zM1027.8 72.5h1.3v1.3h-1.3zM861.0 158.4h1.3v1.3h-1.3zM916.7 139.7h1.3v1.3h-1.3zM1062.0 209.4h1.3v1.3h-1.3zM874.3 215.1h1.3v1.3h-1.3zM1041.4 51.5h1.3v1.3h-1.3zM1086.9 144.3h1.3v1.3h-1.3zM863.5 135.4h1.3v1.3h-1.3zM953.7 189.1h1.3v1.3h-1.3zM1075.7 127.3h1.3v1.3h-1.3zM1137.7 164.6h1.3v1.3h-1.3zM1003.0 74.0h1.3v1.3h-1.3zM859.6 161.6h1.3v1.3h-1.3zM1019.8 79.5h1.3v1.3h-1.3zM973.8 151.2h1.3v1.3h-1.3zM1149.3 213.0h1.3v1.3h-1.3zM965.5 204.3h1.3v1.3h-1.3zM942.6 55.4h1.3v1.3h-1.3zM1003.9 177.7h1.3v1.3h-1.3zM1056.4 68.6h1.3v1.3h-1.3zM1129.6 201.0h1.3v1.3h-1.3zM1116.9 177.8h1.3v1.3h-1.3zM972.2 156.4h1.3v1.3h-1.3zM984.1 223.7h1.3v1.3h-1.3zM1079.9 121.4h1.3v1.3h-1.3zM1007.4 201.7h1.3v1.3h-1.3zM1109.2 123.2h1.3v1.3h-1.3zM1170.8 218.1h1.3v1.3h-1.3zM950.6 113.1h1.3v1.3h-1.3zM1113.5 160.4h1.3v1.3h-1.3zM1007.8 91.4h1.3v1.3h-1.3zM877.7 111.0h1.3v1.3h-1.3zM1026.5 74.5h1.3v1.3h-1.3zM829.6 127.0h1.3v1.3h-1.3zM1027.1 171.9h1.3v1.3h-1.3zM1033.6 136.7h1.3v1.3h-1.3zM1018.4 81.0h1.3v1.3h-1.3zM959.7 143.1h1.3v1.3h-1.3zM1116.2 236.7h1.3v1.3h-1.3zM1009.7 130.2h1.3v1.3h-1.3zM1041.1 51.5h1.3v1.3h-1.3zM1058.1 116.8h1.3v1.3h-1.3zM927.1 66.0h1.3v1.3h-1.3zM1018.5 142.3h1.3v1.3h-1.3zM850.1 113.9h1.3v1.3h-1.3zM1138.7 73.0h1.3v1.3h-1.3zM981.4 209.6h1.3v1.3h-1.3zM830.5 81.5h1.3v1.3h-1.3zM840.9 107.2h1.3v1.3h-1.3zM950.8 125.4h1.3v1.3h-1.3zM1164.7 153.8h1.3v1.3h-1.3zM1003.7 175.3h1.3v1.3h-1.3zM873.5 85.9h1.3v1.3h-1.3zM1126.2 71.0h1.3v1.3h-1.3zM858.5 224.3h1.3v1.3h-1.3zM897.6 148.8h1.3v1.3h-1.3zM867.7 163.5h1.3v1.3h-1.3zM960.9 75.7h1.3v1.3h-1.3zM1066.3 84.1h1.3v1.3h-1.3zM1107.5 182.3h1.3v1.3h-1.3zM1020.2 115.3h1.3v1.3h-1.3zM1003.8 204.4h1.3v1.3h-1.3zM1039.5 207.7h1.3v1.3h-1.3zM1026.2 127.9h1.3v1.3h-1.3zM885.4 145.5h1.3v1.3h-1.3zM1015.8 75.2h1.3v1.3h-1.3zM954.1 105.9h1.3v1.3h-1.3zM1001.9 171.2h1.3v1.3h-1.3zM1173.6 152.1h1.3v1.3h-1.3zM862.4 197.1h1.3v1.3h-1.3zM1115.3 230.6h1.3v1.3h-1.3zM996.2 117.5h1.3v1.3h-1.3zM1088.7 170.8h1.3v1.3h-1.3zM957.8 192.6h1.3v1.3h-1.3zM982.0 84.4h1.3v1.3h-1.3zM887.5 223.8h1.3v1.3h-1.3zM1010.8 116.0h1.3v1.3h-1.3zM1172.1 192.9h1.3v1.3h-1.3zM900.0 132.7h1.3v1.3h-1.3zM1108.3 59.7h1.3v1.3h-1.3zM1071.3 146.4h1.3v1.3h-1.3zM1148.3 110.4h1.3v1.3h-1.3zM1038.3 169.4h1.3v1.3h-1.3zM875.7 100.9h1.3v1.3h-1.3zM970.3 55.7h1.3v1.3h-1.3zM837.2 106.7h1.3v1.3h-1.3zM939.8 97.8h1.3v1.3h-1.3zM1044.1 220.5h1.3v1.3h-1.3zM846.9 203.5h1.3v1.3h-1.3zM1167.7 222.6h1.3v1.3h-1.3zM1074.4 131.9h1.3v1.3h-1.3zM895.8 156.3h1.3v1.3h-1.3zM847.4 86.5h1.3v1.3h-1.3zM1108.6 202.2h1.3v1.3h-1.3zM1079.2 212.1h1.3v1.3h-1.3zM839.3 199.2h1.3v1.3h-1.3zM1169.3 84.8h1.3v1.3h-1.3zM910.8 128.7h1.3v1.3h-1.3zM1039.9 62.4h1.3v1.3h-1.3zM930.7 112.5h1.3v1.3h-1.3zM853.5 88.4h1.3v1.3h-1.3zM942.1 117.4h1.3v1.3h-1.3zM1152.1 229.4h1.3v1.3h-1.3zM1121.1 120.2h1.3v1.3h-1.3zM1121.7 85.1h1.3v1.3h-1.3zM1156.6 189.1h1.3v1.3h-1.3zM885.7 119.4h1.3v1.3h-1.3zM1106.2 94.2h1.3v1.3h-1.3zM878.5 118.1h1.3v1.3h-1.3zM842.3 148.7h1.3v1.3h-1.3zM1043.3 132.4h1.3v1.3h-1.3zM937.7 62.5h1.3v1.3h-1.3zM1019.5 131.2h1.3v1.3h-1.3zM1029.4 93.2h1.3v1.3h-1.3zM857.1 199.5h1.3v1.3h-1.3zM960.7 118.9h1.3v1.3h-1.3zM1016.1 229.1h1.3v1.3h-1.3zM956.1 213.1h1.3v1.3h-1.3zM860.4 199.7h1.3v1.3h-1.3zM886.3 190.7h1.3v1.3h-1.3zM1119.7 227.5h1.3v1.3h-1.3zM854.1 209.0h1.3v1.3h-1.3zM1024.8 149.3h1.3v1.3h-1.3zM948.4 53.3h1.3v1.3h-1.3zM987.1 113.1h1.3v1.3h-1.3zM1141.8 132.0h1.3v1.3h-1.3zM1174.8 146.6h1.3v1.3h-1.3zM1153.4 74.5h1.3v1.3h-1.3zM893.9 110.3h1.3v1.3h-1.3zM849.1 221.5h1.3v1.3h-1.3zM1149.2 208.4h1.3v1.3h-1.3zM963.8 67.6h1.3v1.3h-1.3zM903.2 182.4h1.3v1.3h-1.3zM916.5 177.0h1.3v1.3h-1.3zM1057.2 80.1h1.3v1.3h-1.3zM858.4 69.3h1.3v1.3h-1.3zM1140.6 179.0h1.3v1.3h-1.3zM1123.9 175.0h1.3v1.3h-1.3zM923.6 133.8h1.3v1.3h-1.3zM986.3 216.7h1.3v1.3h-1.3zM956.4 82.0h1.3v1.3h-1.3zM983.7 212.4h1.3v1.3h-1.3zM1134.0 107.8h1.3v1.3h-1.3zM1056.2 231.5h1.3v1.3h-1.3zM1116.2 71.0h1.3v1.3h-1.3zM895.9 210.2h1.3v1.3h-1.3zM878.8 152.8h1.3v1.3h-1.3zM822.7 78.7h1.3v1.3h-1.3zM844.8 211.4h1.3v1.3h-1.3zM942.1 69.2h1.3v1.3h-1.3zM890.1 58.9h1.3v1.3h-1.3zM892.9 94.3h1.3v1.3h-1.3zM914.8 138.6h1.3v1.3h-1.3zM866.3 237.1h1.3v1.3h-1.3zM912.7 61.9h1.3v1.3h-1.3zM1098.1 161.7h1.3v1.3h-1.3zM928.1 88.7h1.3v1.3h-1.3zM1120.0 61.6h1.3v1.3h-1.3zM1173.0 199.6h1.3v1.3h-1.3zM1113.2 223.1h1.3v1.3h-1.3zM935.7 112.0h1.3v1.3h-1.3zM1108.5 124.1h1.3v1.3h-1.3zM909.3 144.3h1.3v1.3h-1.3zM925.5 177.1h1.3v1.3h-1.3zM919.0 54.2h1.3v1.3h-1.3zM948.0 182.3h1.3v1.3h-1.3z" fill="#dcdcff"/>
<path d="M289.8 101.2h1.3v1.3h-1.3zM303.2 78.3h1.3v1.3h-1.3zM405.7 88.7h1.3v1.3h-1.3zM297.7 196.0h1.3v1.3h-1.3zM371.4 228.9h1.3v1.3h-1.3zM265.1 76.6h1.3v1.3h-1.3zM375.8 157.4h1.3v1.3h-1.3zM267.4 73.5h1.3v1.3h-1.3zM320.3 99.9h1.3v1.3h-1.3zM361.7 230.5h1.3v1.3h-1.3zM381.6 141.8h1.3v1.3h-1.3zM251.2 163.0h1.3v1.3h-1.3zM408.2 72.6h1.3v1.3h-1.3zM296.6 70.4h1.3v1.3h-1.3zM379.0 152.9h1.3v1.3h-1.3zM396.9 97.8h1.3v1.3h-1.3zM406.9 124.1h1.3v1.3h-1.3zM409.1 151.0h1.3v1.3h-1.3zM394.2 145.5h1.3v1.3h-1.3zM257.6 110.8h1.3v1.3h-1.3zM274.9 114.6h1.3v1.3h-1.3zM272.6 60.7h1.3v1.3h-1.3zM329.8 195.1h1.3v1.3h-1.3zM310.3 97.7h1.3v1.3h-1.3zM362.4 171.5h1.3v1.3h-1.3zM268.9 154.4h1.3v1.3h-1.3zM309.4 135.7h1.3v1.3h-1.3zM340.5 91.8h1.3v1.3h-1.3zM337.7 116.5h1.3v1.3h-1.3zM322.1 174.0h1.3v1.3h-1.3zM278.3 189.2h1.3v1.3h-1.3zM334.0 175.8h1.3v1.3h-1.3zM416.5 110.3h1.3v1.3h-1.3zM357.7 126.7h1.3v1.3h-1.3zM333.2 233.6h1.3v1.3h-1.3zM251.7 176.3h1.3v1.3h-1.3zM278.3 187.3h1.3v1.3h-1.3zM359.9 73.7h1.3v1.3h-1.3zM426.1 199.3h1.3v1.3h-1.3zM356.0 139.0h1.3v1.3h-1.3zM392.9 113.3h1.3v1.3h-1.3zM358.2 224.1h1.3v1.3h-1.3zM424.1 83.3h1.3v1.3h-1.3zM402.4 146.6h1.3v1.3h-1.3zM368.1 187.7h1.3v1.3h-1.3zM373.0 142.7h1.3v1.3h-1.3zM299.2 99.2h1.3v1.3h-1.3zM311.6 99.2h1.3v1.3h-1.3zM422.0 139.3h1.3v1.3h-1.3zM337.4 230.4h1.3v1.3h-1.3zM383.5 198.0h1.3v1.3h-1.3zM356.5 86.3h1.3v1.3h-1.3zM302.0 200.5h1.3v1.3h-1.3zM359.4 223.9h1.3v1.3h-1.3zM263.5 205.5h1.3v1.3h-1.3zM309.9 120.7h1.3v1.3h-1.3zM385.1 140.0h1.3v1.3h-1.3zM347.2 77.6h1.3v1.3h-1.3zM258.2 225.9h1.3v1.3h-1.3zM395.4 230.4h1.3v1.3h-1.3z" fill="#3838ff"/>
<path d="M290.3 198.1h1.3v1.3h-1.3zM347.1 192.4h1.3v1.3h-1.3zM336.4 126.5h1.3v1.3h-1.3zM300.2 134.3h1.3v1.3h-1.3zM379.1 65.0h1.3v1.3h-1.3zM420.6 220.3h1.3v1.3h-1.3zM306.4 147.4h1.3v1.3h-1.3zM259.4 195.2h1.3v1.3h-1.3zM373.8 180.9h1.3v1.3h-1.3zM420.1 184.6h1.3v1.3h-1.3zM293.8 209.6h1.3v1.3h-1.3zM409.0 125.5h1.3v1.3h-1.3zM340.1 180.0h1.3v1.3h-1.3zM411.1 180.3h1.3v1.3h-1.3zM394.7 124.1h1.3v1.3h-1.3zM252.7 177.8h1.3v1.3h-1.3zM370.8 112.4h1.3v1.3h-1.3zM364.9 125.2h1.3v1.3h-1.3zM263.6 146.7h1.3v1.3h-1.3zM286.8 68.5h1.3v1.3h-1.3zM386.8 162.6h1.3v1.3h-1.3zM367.1 138.3h1.3v1.3h-1.3zM348.2 124.4h1.3v1.3h-1.3zM284.0 65.6h1.3v1.3h-1.3zM408.5 209.8h1.3v1.3h-1.3zM421.6 215.6h1.3v1.3h-1.3zM248.7 120.3h1.3v1.3h-1.3zM253.6 114.8h1.3v1.3h-1.3zM262.2 95.8h1.3v1.3h-1.3zM370.2 229.4h1.3v1.3h-1.3zM288.8 196.5h1.3v1.3h-1.3zM331.5 67.4h1.3v1.3h-1.3zM309.7 178.9h1.3v1.3h-1.3zM418.2 220.1h1.3v1.3h-1.3zM410.6 193.2h1.3v1.3h-1.3zM288.9 108.9h1.3v1.3h-1.3zM294.6 222.4h1.3v1.3h-1.3zM285.3 205.0h1.3v1.3h-1.3zM364.3 115.7h1.3v1.3h-1.3zM326.1 233.4h1.3v1.3h-1.3zM266.5 122.1h1.3v1.3h-1.3zM328.4 159.8h1.3v1.3h-1.3zM391.1 235.0h1.3v1.3h-1.3zM345.6 233.4h1.3v1.3h-1.3zM354.4 76.1h1.3v1.3h-1.3zM318.6 226.7h1.3v1.3h-1.3zM263.4 119.3h1.3v1.3h-1.3zM397.9 68.6h1.3v1.3h-1.3zM374.2 123.1h1.3v1.3h-1.3zM372.5 219.4h1.3v1.3h-1.3zM333.5 205.3h1.3v1.3h-1.3z" fill="#8080ff"/>
<path d="M290.5 60.6h1.3v1.3h-1.3zM358.9 66.0h1.3v1.3h-1.3zM270.5 224.2h1.3v1.3h-1.3zM347.4 120.7h1.3v1.3h-1.3zM321.7 124.6h1.3v1.3h-1.3zM317.4 236.1h1.3v1.3h-1.3zM426.7 147.8h1.3v1.3h-1.3zM280.5 90.1h1.3v1.3h-1.3zM394.5 197.5h1.3v1.3h-1.3zM393.0 197.0h1.3v1.3h-1.3zM398.7 69.2h1.3v1.3h-1.3zM425.0 192.0h1.3v1.3h-1.3zM353.2 105.5h1.3v1.3h-1.3zM277.9 92.6h1.3v1.3h-1.3zM390.3 61.4h1.3v1.3h-1.3zM304.5 67.4h1.3v1.3h-1.3zM303.7 219.4h1.3v1.3h-1.3zM380.2 231.2h1.3v1.3h-1.3zM394.6 194.5h1.3v1.3h-1.3zM327.7 151.6h1.3v1.3h-1.3zM395.1 188.1h1.3v1.3h-1.3zM290.6 128.2h1.3v1.3h-1.3zM249.1 115.3h1.3v1.3h-1.3zM295.0 228.4h1.3v1.3h-1.3zM298.5 90.9h1.3v1.3h-1.3zM265.0 114.7h1.3v1.3h-1.3zM256.8 93.2h1.3v1.3h-1.3zM357.2 169.8h1.3v1.3h-1.3zM392.0 119.8h1.3v1.3h-1.3zM279.3 185.6h1.3v1.3h-1.3zM411.5 231.7h1.3v1.3h-1.3zM293.5 136.1h1.3v1.3h-1.3zM379.6 235.8h1.3v1.3h-1.3zM314.7 206.3h1.3v1.3h-1.3zM383.2 126.4h1.3v1.3h-1.3zM274.3 207.1h1.3v1.3h-1.3zM287.2 181.5h1.3v1.3h-1.3zM362.4 124.7h1.3v1.3h-1.3zM383.9 172.5h1.3v1.3h-1.3zM251.6 173.8h1.3v1.3h-1.3zM391.8 117.9h1.3v1.3h-1.3zM249.6 113.6h1.3v1.3h-1.3zM315.4 213.1h1.3v1.3h-1.3zM372.4 171.1h1.3v1.3h-1.3zM337.0 113.9h1.3v1.3h-1.3zM281.6 221.7h1.3v1.3h-1.3zM289.5 175.2h1.3v1.3h-1.3zM380.6 153.5h1.3v1.3h-1.3zM372.5 145.0h1.3v1.3h-1.3zM427.4 118.0h1.3v1.3h-1.3zM423.8 89.6h1.3v1.3h-1.3zM360.7 108.3h1.3v1.3h-1.3zM396.2 233.2h1.3v1.3h-1.3zM301.1 82.9h1.3v1.3h-1.3zM398.3 233.4h1.3v1.3h-1.3zM400.3 83.9h1.3v1.3h-1.3zM265.6 224.4h1.3v1.3h-1.3zM293.5 98.3h1.3v1.3h-1.3zM379.3 103.2h1.3v1.3h-1.3zM263.3 186.5h1.3v1.3h-1.3zM419.2 230.9h1.3v1.3h-1.3zM276.7 132.8h1.3v1.3h-1.3zM361.9 224.2h1.3v1.3h-1.3zM295.8 192.8h1.3v1.3h-1.3zM344.3 104.0h1.3v1.3h-1.3zM388.7 102.0h1.3v1.3h-1.3zM295.0 182.6h1.3v1.3h-1.3zM250.7 111.7h1.3v1.3h-1.3zM258.7 124.1h1.3v1.3h-1.3zM308.6 80.4h1.3v1.3h-1.3zM342.4 104.3h1.3v1.3h-1.3zM390.9 185.3h1.3v1.3h-1.3zM388.0 127.3h1.3v1.3h-1.3zM411.3 227.6h1.3v1.3h-1.3zM390.3 232.1h1.3v1.3h-1.3zM421.9 150.9h1.3v1.3h-1.3zM421.4 147.3h1.3v1.3h-1.3zM350.1 224.1h1.3v1.3h-1.3zM264.8 163.1h1.3v1.3h-1.3zM398.1 103.3h1.3v1.3h-1.3zM316.9 121.1h1.3v1.3h-1.3zM347.3 164.3h1.3v1.3h-1.3zM257.1 191.7h1.3v1.3h-1.3zM278.4 66.5h1.3v1.3h-1.3zM390.3 233.2h1.3v1.3h-1.3zM287.1 87.8h1.3v1.3h-1.3zM277.6 153.9h1.3v1.3h-1.3zM271.5 121.6h1.3v1.3h-1.3zM419.9 112.9h1.3v1.3h-1.3zM362.5 162.3h1.3v1.3h-1.3zM424.2 135.5h1.3v1.3h-1.3zM326.6 183.0h1.3v1.3h-1.3zM394.4 187.7h1.3v1.3h-1.3zM341.7 199.9h1.3v1.3h-1.3zM260.9 168.7h1.3v1.3h-1.3zM262.2 217.7h1.3v1.3h-1.3zM279.9 123.2h1.3v1.3h-1.3zM409.8 172.8h1.3v1.3h-1.3zM264.2 212.1h1.3v1.3h-1.3zM275.5 157.6h1.3v1.3h-1.3zM393.9 121.5h1.3v1.3h-1.3zM423.8 123.9h1.3v1.3h-1.3zM299.3 126.0h1.3v1.3h-1.3zM401.7 72.7h1.3v1.3h-1.3zM355.6 144.9h1.3v1.3h-1.3zM335.1 71.1h1.3v1.3h-1.3zM326.3 195.7h1.3v1.3h-1.3zM322.8 175.8h1.3v1.3h-1.3zM419.7 138.7h1.3v1.3h-1.3zM308.8 67.4h1.3v1.3h-1.3zM332.3 232.3h1.3v1.3h-1.3zM348.4 210.7h1.3v1.3h-1.3zM396.7 139.0h1.3v1.3h-1.3zM300.1 107.7h1.3v1.3h-1.3zM292.1 218.6h1.3v1.3h-1.3zM342.9 79.4h1.3v1.3h-1.3zM254.3 151.2h1.3v1.3h-1.3zM254.0 186.8h1.3v1.3h-1.3zM393.4 131.6h1.3v1.3h-1.3zM271.6 156.6h1.3v1.3h-1.3zM249.1 201.9h1.3v1.3h-1.3zM409.9 167.5h1.3v1.3h-1.3zM409.1 178.0h1.3v1.3h-1.3zM383.8 95.9h1.3v1.3h-1.3zM290.9 111.4h1.3v1.3h-1.3zM396.2 133.4h1.3v1.3h-1.3zM389.9 105.4h1.3v1.3h-1.3zM260.7 104.6h1.3v1.3h-1.3z" fill="#b8b8ff"/>
<path d="M277.7 182.1h1.3v1.3h-1.3zM334.2 98.2h1.3v1.3h-1.3zM393.4 150.7h1.3v1.3h-1.3zM353.4 72.3h1.3v1.3h-1.3zM427.6 190.7h1.3v1.3h-1.3zM337.6 80.5h1.3v1.3h-1.3zM314.3 87.4h1.3v1.3h-1.3zM281.6 66.6h1.3v1.3h-1.3zM422.4 218.2h1.3v1.3h-1.3zM385.3 162.8h1.3v1.3h-1.3zM270.0 144.3h1.3v1.3h-1.3zM284.2 223.4h1.3v1.3h-1.3zM252.8 76.5h1.3v1.3h-1.3zM357.6 158.5h1.3v1.3h-1.3zM414.9 121.4h1.3v1.3h-1.3zM371.0 179.6h1.3v1.3h-1.3zM420.5 132.0h1.3v1.3h-1.3zM421.1 164.5h1.3v1.3h-1.3zM260.5 119.8h1.3v1.3h-1.3zM293.4 229.7h1.3v1.3h-1.3zM398.9 200.8h1.3v1.3h-1.3zM356.2 135.4h1.3v1.3h-1.3zM400.9 114.5h1.3v1.3h-1.3zM354.9 174.0h1.3v1.3h-1.3zM328.4 84.9h1.3v1.3h-1.3zM366.0 82.4h1.3v1.3h-1.3zM376.0 214.7h1.3v1.3h-1.3zM376.1 104.8h1.3v1.3h-1.3zM338.6 157.2h1.3v1.3h-1.3zM265.7 166.4h1.3v1.3h-1.3zM373.9 153.1h1.3v1.3h-1.3zM259.5 204.2h1.3v1.3h-1.3zM311.9 116.3h1.3v1.3h-1.3zM359.9 63.5h1.3v1.3h-1.3zM326.1 103.7h1.3v1.3h-1.3zM334.3 147.1h1.3v1.3h-1.3zM408.3 198.0h1.3v1.3h-1.3zM384.5 178.2h1.3v1.3h-1.3zM413.0 128.3h1.3v1.3h-1.3zM396.5 230.6h1.3v1.3h-1.3zM318.4 85.7h1.3v1.3h-1.3zM262.3 113.6h1.3v1.3h-1.3zM308.4 173.6h1.3v1.3h-1.3zM370.6 95.4h1.3v1.3h-1.3zM297.9 127.1h1.3v1.3h-1.3zM332.1 137.3h1.3v1.3h-1.3zM297.0 93.4h1.3v1.3h-1.3zM254.2 203.4h1.3v1.3h-1.3zM374.8 63.4h1.3v1.3h-1.3zM255.1 167.6h1.3v1.3h-1.3zM291.2 61.3h1.3v1.3h-1.3zM390.5 205.6h1.3v1.3h-1.3zM347.3 99.8h1.3v1.3h-1.3zM399.8 223.8h1.3v1.3h-1.3zM409.9 192.2h1.3v1.3h-1.3zM281.9 70.6h1.3v1.3h-1.3zM311.6 112.7h1.3v1.3h-1.3zM337.1 180.5h1.3v1.3h-1.3zM276.5 78.4h1.3v1.3h-1.3zM344.9 132.3h1.3v1.3h-1.3zM311.4 154.3h1.3v1.3h-1.3zM277.2 210.6h1.3v1.3h-1.3zM388.0 219.8h1.3v1.3h-1.3zM417.5 225.8h1.3v1.3h-1.3zM250.0 122.3h1.3v1.3h-1.3zM357.3 193.8h1.3v1.3h-1.3zM277.1 224.8h1.3v1.3h-1.3zM406.7 96.6h1.3v1.3h-1.3zM347.9 197.3h1.3v1.3h-1.3zM321.0 91.6h1.3v1.3h-1.3zM252.9 134.9h1.3v1.3h-1.3zM267.3 224.2h1.3v1.3h-1.3zM291.2 135.1h1.3v1.3h-1.3zM386.8 193.0h1.3v1.3h-1.3zM336.1 107.0h1.3v1.3h-1.3zM330.6 66.3h1.3v1.3h-1.3zM353.6 202.1h1.3v1.3h-1.3zM318.9 60.7h1.3v1.3h-1.3zM352.7 162.0h1.3v1.3h-1.3zM283.4 100.2h1.3v1.3h-1.3zM331.1 128.9h1.3v1.3h-1.3zM355.7 182.7h1.3v1.3h-1.3zM388.7 200.3h1.3v1.3h-1.3zM283.8 210.0h1.3v1.3h-1.3zM261.9 114.5h1.3v1.3h-1.3zM285.3 148.1h1.3v1.3h-1.3zM273.4 70.2h1.3v1.3h-1.3zM322.5 81.8h1.3v1.3h-1.3zM365.9 63.7h1.3v1.3h-1.3zM355.0 138.5h1.3v1.3h-1.3zM421.2 126.2h1.3v1.3h-1.3zM340.5 99.6h1.3v1.3h-1.3zM287.8 163.9h1.3v1.3h-1.3zM275.3 170.5h1.3v1.3h-1.3zM287.8 79.8h1.3v1.3h-1.3zM268.8 131.7h1.3v1.3h-1.3zM284.6 183.8h1.3v1.3h-1.3zM263.3 102.9h1.3v1.3h-1.3zM265.3 96.1h1.3v1.3h-1.3zM395.3 152.1h1.3v1.3h-1.3zM412.4 123.3h1.3v1.3h-1.3zM254.2 148.2h1.3v1.3h-1.3zM414.7 74.1h1.3v1.3h-1.3zM387.7 187.4h1.3v1.3h-1.3zM277.5 120.3h1.3v1.3h-1.3zM366.1 128.9h1.3v1.3h-1.3zM306.5 200.3h1.3v1.3h-1.3zM404.3 119.6h1.3v1.3h-1.3zM298.4 165.2h1.3v1.3h-1.3zM370.3 196.7h1.3v1.3h-1.3zM391.0 168.4h1.3v1.3h-1.3zM390.2 214.4h1.3v1.3h-1.3zM374.3 151.0h1.3v1.3h-1.3zM365.9 136.2h1.3v1.3h-1.3zM362.6 79.7h1.3v1.3h-1.3zM301.2 138.9h1.3v1.3h-1.3zM322.4 129.3h1.3v1.3h-1.3zM268.9 121.8h1.3v1.3h-1.3zM360.5 115.3h1.3v1.3h-1.3zM416.5 122.4h1.3v1.3h-1.3zM395.3 109.3h1.3v1.3h-1.3zM392.6 90.7h1.3v1.3h-1.3zM347.8 210.4h1.3v1.3h-1.3zM359.9 89.9h1.3v1.3h-1.3zM390.5 211.3h1.3v1.3h-1.3zM302.8 136.7h1.3v1.3h-1.3zM427.3 74.8h1.3v1.3h-1.3zM413.3 141.6h1.3v1.3h-1.3zM389.2 93.1h1.3v1.3h-1.3zM424.7 215.8h1.3v1.3h-1.3zM411.7 89.5h1.3v1.3h-1.3zM269.7 202.4h1.3v1.3h-1.3zM351.3 124.3h1.3v1.3h-1.3zM319.7 138.0h1.3v1.3h-1.3zM281.6 112.8h1.3v1.3h-1.3zM288.5 72.2h1.3v1.3h-1.3zM295.1 122.4h1.3v1.3h-1.3zM309.5 111.6h1.3v1.3h-1.3zM366.4 143.8h1.3v1.3h-1.3zM371.5 115.8h1.3v1.3h-1.3zM382.2 154.6h1.3v1.3h-1.3zM368.9 232.9h1.3v1.3h-1.3zM410.9 76.8h1.3v1.3h-1.3zM403.8 173.9h1.3v1.3h-1.3zM268.8 111.9h1.3v1.3h-1.3zM284.6 155.2h1.3v1.3h-1.3zM339.9 158.1h1.3v1.3h-1.3zM323.5 181.0h1.3v1.3h-1.3zM283.4 178.7h1.3v1.3h-1.3zM415.7 171.4h1.3v1.3h-1.3zM336.5 163.8h1.3v1.3h-1.3zM281.4 119.2h1.3v1.3h-1.3zM355.1 187.6h1.3v1.3h-1.3zM263.2 229.3h1.3v1.3h-1.3zM334.6 212.1h1.3v1.3h-1.3zM278.3 130.3h1.3v1.3h-1.3zM281.5 163.7h1.3v1.3h-1.3zM328.6 131.5h1.3v1.3h-1.3zM365.5 157.2h1.3v1.3h-1.3zM333.9 74.9h1.3v1.3h-1.3zM320.4 193.0h1.3v1.3h-1.3zM319.7 176.1h1.3v1.3h-1.3zM385.1 216.5h1.3v1.3h-1.3zM333.0 108.1h1.3v1.3h-1.3zM324.8 198.2h1.3v1.3h-1.3zM313.2 199.5h1.3v1.3h-1.3zM299.0 139.0h1.3v1.3h-1.3zM264.2 108.5h1.3v1.3h-1.3zM288.9 105.9h1.3v1.3h-1.3zM273.1 156.8h1.3v1.3h-1.3zM284.2 171.3h1.3v1.3h-1.3zM392.7 130.7h1.3v1.3h-1.3zM355.8 165.8h1.3v1.3h-1.3zM425.9 223.2h1.3v1.3h-1.3zM345.1 82.6h1.3v1.3h-1.3zM375.0 185.7h1.3v1.3h-1.3zM352.5 107.8h1.3v1.3h-1.3zM377.5 83.4h1.3v1.3h-1.3zM400.7 128.8h1.3v1.3h-1.3zM372.9 198.4h1.3v1.3h-1.3zM310.4 144.0h1.3v1.3h-1.3zM293.1 146.0h1.3v1.3h-1.3zM401.2 103.2h1.3v1.3h-1.3zM364.6 173.3h1.3v1.3h-1.3zM294.9 67.1h1.3v1.3h-1.3zM366.4 99.6h1.3v1.3h-1.3zM362.3 95.7h1.3v1.3h-1.3zM401.6 115.5h1.3v1.3h-1.3zM400.6 120.3h1.3v1.3h-1.3zM405.8 107.2h1.3v1.3h-1.3zM249.6 167.2h1.3v1.3h-1.3zM391.9 87.8h1.3v1.3h-1.3zM329.6 152.9h1.3v1.3h-1.3zM341.4 137.1h1.3v1.3h-1.3zM274.6 214.5h1.3v1.3h-1.3zM255.6 145.2h1.3v1.3h-1.3zM292.5 143.3h1.3v1.3h-1.3zM260.0 119.2h1.3v1.3h-1.3zM310.0 91.1h1.3v1.3h-1.3zM394.2 150.6h1.3v1.3h-1.3zM407.2 202.9h1.3v1.3h-1.3zM402.7 157.5h1.3v1.3h-1.3zM316.1 161.1h1.3v1.3h-1.3zM369.9 201.0h1.3v1.3h-1.3zM302.5 80.3h1.3v1.3h-1.3zM285.3 183.0h1.3v1.3h-1.3zM358.2 83.6h1.3v1.3h-1.3zM410.2 95.0h1.3v1.3h-1.3zM400.7 235.6h1.3v1.3h-1.3zM364.1 121.0h1.3v1.3h-1.3zM303.9 170.4h1.3v1.3h-1.3zM377.0 106.0h1.3v1.3h-1.3zM329.4 114.0h1.3v1.3h-1.3zM262.0 174.5h1.3v1.3h-1.3zM311.0 186.1h1.3v1.3h-1.3zM334.5 194.8h1.3v1.3h-1.3zM401.7 125.1h1.3v1.3h-1.3zM403.9 187.8h1.3v1.3h-1.3zM379.6 82.9h1.3v1.3h-1.3zM347.0 94.5h1.3v1.3h-1.3zM345.0 175.8h1.3v1.3h-1.3zM329.9 223.1h1.3v1.3h-1.3zM284.7 179.0h1.3v1.3h-1.3zM259.8 60.6h1.3v1.3h-1.3zM265.6 204.3h1.3v1.3h-1.3zM286.7 199.3h1.3v1.3h-1.3zM326.9 123.0h1.3v1.3h-1.3zM418.0 227.9h1.3v1.3h-1.3zM397.3 103.7h1.3v1.3h-1.3zM272.2 96.1h1.3v1.3h-1.3zM394.9 84.7h1.3v1.3h-1.3zM314.9 188.7h1.3v1.3h-1.3zM312.6 100.4h1.3v1.3h-1.3zM420.7 164.6h1.3v1.3h-1.3zM280.3 125.4h1.3v1.3h-1.3zM317.1 61.5h1.3v1.3h-1.3zM271.2 176.6h1.3v1.3h-1.3zM252.9 194.4h1.3v1.3h-1.3zM253.0 82.5h1.3v1.3h-1.3zM353.8 113.9h1.3v1.3h-1.3zM413.2 87.7h1.3v1.3h-1.3zM359.4 160.4h1.3v1.3h-1.3zM376.3 134.6h1.3v1.3h-1.3zM340.2 134.9h1.3v1.3h-1.3zM360.4 101.2h1.3v1.3h-1.3zM425.3 78.2h1.3v1.3h-1.3zM341.8 112.7h1.3v1.3h-1.3zM342.8 100.6h1.3v1.3h-1.3zM286.9 211.6h1.3v1.3h-1.3zM420.9 164.4h1.3v1.3h-1.3zM356.7 120.7h1.3v1.3h-1.3zM347.5 213.4h1.3v1.3h-1.3zM413.2 223.1h1.3v1.3h-1.3zM408.9 93.0h1.3v1.3h-1.3zM332.8 167.3h1.3v1.3h-1.3zM404.8 216.1h1.3v1.3h-1.3zM252.3 140.9h1.3v1.3h-1.3zM259.4 132.1h1.3v1.3h-1.3zM258.7 84.4h1.3v1.3h-1.3zM318.2 200.5h1.3v1.3h-1.3zM283.0 155.0h1.3v1.3h-1.3z" fill="#dcdcff"/>
<path d="M72.1 148.3L74.7 142.9L76.6 164.6L77.9 175.5L80.6 182.3L81.9 185.0L83.2 179.6L84.5 178.2L85.8 181.0L87.2 167.4L87.9 159.2L89.8 159.2L91.1 157.8L91.9 164.6L93.5 170.1L95.1 172.8L96.4 171.4L97.7 172.8L99.0 172.8L100.3 168.7L101.7 168.7L103.8 159.2L105.1 159.2L106.9 167.4L108.3 175.5L110.9 181.0L112.2 187.8L114.9 164.6L116.2 161.9L117.5 168.7L118.8 156.5L120.1 153.7L121.5 146.9L122.8 134.7L124.1 145.6L125.4 164.6L126.7 179.6L128.0 185.0L129.4 191.8L130.7 194.6L132.0 189.1L140.7 175.5L142.6 156.5L146.5 159.2L147.8 172.8L150.5 174.2L153.1 175.5L155.8 178.2L158.4 179.6L159.7 170.1L162.3 167.4L163.7 161.9L165.0 170.1L166.3 181.0L167.6 172.8L170.3 171.4L172.9 174.2L174.2 172.8L175.5 167.4L178.2 145.6L179.5 159.2L180.8 167.4L182.1 175.5L184.2 190.5L186.1 191.8L187.4 193.2L194.0 164.6L196.1 156.5L198.0 148.3L199.3 151.0L200.6 159.2L201.9 164.6L204.6 167.4L205.9 171.4L207.2 181.0L208.5 191.8L209.8 197.3L211.2 197.3L212.5 191.8L213.8 175.5L215.1 161.9L216.4 153.7L217.8 156.5L219.1 161.9L220.4 161.9L221.7 167.4L223.0 164.6L224.4 170.1L225.7 163.3L227.0 179.6L228.3 190.5L229.6 178.2L230.9 189.1L232.3 176.9L233.6 175.5L234.9 176.9L236.2 186.4L237.5 191.8L242.8 163.3L244.1 167.4L245.5 170.1" stroke="#2a50ff" stroke-width="1.7" fill="none" stroke-linejoin="round" stroke-dasharray="3 1.2 1.5 1" opacity="0.9"/>
<path d="M72.1 148.3L74.7 142.9L76.6 164.6L77.9 175.5L80.6 182.3L81.9 185.0L83.2 179.6L84.5 178.2L85.8 181.0L87.2 167.4L87.9 159.2L89.8 159.2L91.1 157.8L91.9 164.6L93.5 170.1L95.1 172.8L96.4 171.4L97.7 172.8L99.0 172.8L100.3 168.7L101.7 168.7L103.8 159.2L105.1 159.2L106.9 167.4L108.3 175.5L110.9 181.0L112.2 187.8L114.9 164.6L116.2 161.9L117.5 168.7L118.8 156.5L120.1 153.7L121.5 146.9L122.8 134.7L124.1 145.6L125.4 164.6L126.7 179.6L128.0 185.0L129.4 191.8L130.7 194.6L132.0 189.1L140.7 175.5L142.6 156.5L146.5 159.2L147.8 172.8L150.5 174.2L153.1 175.5L155.8 178.2L158.4 179.6L159.7 170.1L162.3 167.4L163.7 161.9L165.0 170.1L166.3 181.0L167.6 172.8L170.3 171.4L172.9 174.2L174.2 172.8L175.5 167.4L178.2 145.6L179.5 159.2L180.8 167.4L182.1 175.5L184.2 190.5L186.1 191.8L187.4 193.2L194.0 164.6L196.1 156.5L198.0 148.3L199.3 151.0L200.6 159.2L201.9 164.6L204.6 167.4L205.9 171.4L207.2 181.0L208.5 191.8L209.8 197.3L211.2 197.3L212.5 191.8L213.8 175.5L215.1 161.9L216.4 153.7L217.8 156.5L219.1 161.9L220.4 161.9L221.7 167.4L223.0 164.6L224.4 170.1L225.7 163.3L227.0 179.6L228.3 190.5L229.6 178.2L230.9 189.1L232.3 176.9L233.6 175.5L234.9 176.9L236.2 186.4L237.5 191.8L242.8 163.3L244.1 167.4L245.5 170.1" stroke="#40d0f0" stroke-width="0.8" fill="none" stroke-dasharray="1.5 4"/>
<path d="M249.2 153.7L249.6 191.1" stroke="#2a58ff" stroke-width="1.7" fill="none" stroke-linejoin="round" stroke-dasharray="3 1 2 0.8" opacity="0.85"/>
<path d="M249.2 153.7L249.6 191.1" stroke="#34e2ee" stroke-width="0.9" fill="none" stroke-linejoin="round" stroke-dasharray="2.5 1.5 1.5 1"/>
<path d="M248.6 153.1h1.3v1.3h-1.3zM248.6 157.0h1.3v1.3h-1.3zM248.7 161.0h1.3v1.3h-1.3zM248.7 164.9h1.3v1.3h-1.3zM248.8 170.8h1.3v1.3h-1.3z" fill="#98f060"/>
<path d="M248.8 174.7h1.3v1.3h-1.3z" fill="#f0e830"/>
<path d="M252.7 195.9L252.8 200.8" stroke="#2a58ff" stroke-width="1.7" fill="none" stroke-linejoin="round" stroke-dasharray="3 1 2 0.8" opacity="0.85"/>
<path d="M252.7 195.9L252.8 200.8" stroke="#34e2ee" stroke-width="0.9" fill="none" stroke-linejoin="round" stroke-dasharray="2.5 1.5 1.5 1"/>
<path d="M252.0 195.3h1.3v1.3h-1.3zM252.1 198.5h1.3v1.3h-1.3z" fill="#f0e830"/>
<path d="M252.1 196.9h1.3v1.3h-1.3z" fill="#ff9020"/>
<path d="M253.9 197.3L254.0 191.8" stroke="#2a58ff" stroke-width="1.7" fill="none" stroke-linejoin="round" stroke-dasharray="3 1 2 0.8" opacity="0.85"/>
<path d="M253.9 197.3L254.0 191.8" stroke="#34e2ee" stroke-width="0.9" fill="none" stroke-linejoin="round" stroke-dasharray="2.5 1.5 1.5 1"/>
<path d="M253.3 194.9h1.3v1.3h-1.3z" fill="#f0e830"/>
<path d="M253.3 193.0h1.3v1.3h-1.3z" fill="#ff9020"/>
<path d="M262.4 152.4L263.7 145.6L264.2 195.1" stroke="#2a58ff" stroke-width="1.7" fill="none" stroke-linejoin="round" stroke-dasharray="3 1 2 0.8" opacity="0.85"/>
<path d="M262.4 152.4L263.7 145.6L264.2 195.1" stroke="#34e2ee" stroke-width="0.9" fill="none" stroke-linejoin="round" stroke-dasharray="2.5 1.5 1.5 1"/>
<path d="M263.1 150.9h1.3v1.3h-1.3zM263.2 158.8h1.3v1.3h-1.3zM263.2 160.8h1.3v1.3h-1.3zM263.3 170.7h1.3v1.3h-1.3zM263.4 174.6h1.3v1.3h-1.3zM263.4 182.6h1.3v1.3h-1.3zM263.5 186.5h1.3v1.3h-1.3z" fill="#98f060"/>
<path d="M262.4 148.3h1.3v1.3h-1.3zM263.1 144.9h1.3v1.3h-1.3zM263.2 156.8h1.3v1.3h-1.3zM263.2 162.8h1.3v1.3h-1.3zM263.3 166.7h1.3v1.3h-1.3zM263.3 172.7h1.3v1.3h-1.3zM263.4 176.6h1.3v1.3h-1.3zM263.5 188.5h1.3v1.3h-1.3zM263.5 192.5h1.3v1.3h-1.3z" fill="#f0e830"/>
<path d="M263.4 180.6h1.3v1.3h-1.3z" fill="#ff9020"/>
<path d="M266.4 194.3L266.4 193.2" stroke="#2a58ff" stroke-width="1.7" fill="none" stroke-linejoin="round" stroke-dasharray="3 1 2 0.8" opacity="0.85"/>
<path d="M266.4 194.3L266.4 193.2" stroke="#34e2ee" stroke-width="0.9" fill="none" stroke-linejoin="round" stroke-dasharray="2.5 1.5 1.5 1"/>
<path d="M273.7 148.9L273.8 145.6L274.8 148.3L275.6 80.3L276.9 61.2L278.3 66.7L279.1 63.9L279.6 88.4L280.9 108.8L282.2 103.4L283.0 104.8L283.5 129.3L284.9 102.0L286.2 54.4L287.0 83.0L287.5 115.6L288.3 112.9L288.8 133.3L289.6 102.0L290.7 85.7L292.0 89.8L293.3 83.0L294.1 89.8L295.4 51.7L296.2 132.0L297.5 148.3L298.6 159.2L299.6 181.0L300.7 112.9L301.5 96.6L302.3 62.6L303.3 80.3L304.1 63.9L304.9 80.3L306.0 63.9L307.3 104.8L308.6 121.1L309.9 146.9L311.2 145.6" stroke="#2a58ff" stroke-width="1.7" fill="none" stroke-linejoin="round" stroke-dasharray="3 1 2 0.8" opacity="0.85"/>
<path d="M273.7 148.9L273.8 145.6L274.8 148.3L275.6 80.3L276.9 61.2L278.3 66.7L279.1 63.9L279.6 88.4L280.9 108.8L282.2 103.4L283.0 104.8L283.5 129.3L284.9 102.0L286.2 54.4L287.0 83.0L287.5 115.6L288.3 112.9L288.8 133.3L289.6 102.0L290.7 85.7L292.0 89.8L293.3 83.0L294.1 89.8L295.4 51.7L296.2 132.0L297.5 148.3L298.6 159.2L299.6 181.0L300.7 112.9L301.5 96.6L302.3 62.6L303.3 80.3L304.1 63.9L304.9 80.3L306.0 63.9L307.3 104.8L308.6 121.1L309.9 146.9L311.2 145.6" stroke="#34e2ee" stroke-width="0.9" fill="none" stroke-linejoin="round" stroke-dasharray="2.5 1.5 1.5 1"/>
<path d="M274.2 147.7h1.3v1.3h-1.3zM274.3 139.9h1.3v1.3h-1.3zM274.4 130.2h1.3v1.3h-1.3zM274.5 122.4h1.3v1.3h-1.3zM274.5 116.6h1.3v1.3h-1.3zM274.6 110.7h1.3v1.3h-1.3zM274.6 108.8h1.3v1.3h-1.3zM274.7 102.9h1.3v1.3h-1.3zM274.7 99.1h1.3v1.3h-1.3zM274.9 87.4h1.3v1.3h-1.3zM274.9 85.5h1.3v1.3h-1.3zM275.0 79.6h1.3v1.3h-1.3zM275.2 75.8h1.3v1.3h-1.3zM275.8 68.2h1.3v1.3h-1.3zM276.7 62.4h1.3v1.3h-1.3zM278.8 80.3h1.3v1.3h-1.3zM279.2 91.5h1.3v1.3h-1.3zM279.3 93.4h1.3v1.3h-1.3zM279.4 95.2h1.3v1.3h-1.3zM279.6 98.9h1.3v1.3h-1.3zM279.9 102.6h1.3v1.3h-1.3zM282.5 111.7h1.3v1.3h-1.3zM282.6 115.4h1.3v1.3h-1.3zM282.7 121.1h1.3v1.3h-1.3zM283.1 124.7h1.3v1.3h-1.3zM283.2 122.8h1.3v1.3h-1.3zM284.2 101.4h1.3v1.3h-1.3zM284.4 93.5h1.3v1.3h-1.3zM284.5 91.5h1.3v1.3h-1.3zM284.7 83.5h1.3v1.3h-1.3zM285.1 67.7h1.3v1.3h-1.3zM285.6 55.7h1.3v1.3h-1.3zM285.8 63.3h1.3v1.3h-1.3zM286.2 76.6h1.3v1.3h-1.3zM286.5 95.8h1.3v1.3h-1.3zM286.6 99.6h1.3v1.3h-1.3zM286.6 101.6h1.3v1.3h-1.3zM286.7 105.4h1.3v1.3h-1.3zM287.2 113.6h1.3v1.3h-1.3zM287.8 119.7h1.3v1.3h-1.3zM287.9 121.6h1.3v1.3h-1.3zM287.9 123.4h1.3v1.3h-1.3zM288.1 129.0h1.3v1.3h-1.3zM288.4 124.9h1.3v1.3h-1.3zM288.5 119.0h1.3v1.3h-1.3zM289.3 96.0h1.3v1.3h-1.3zM290.4 86.4h1.3v1.3h-1.3zM292.3 84.0h1.3v1.3h-1.3zM293.4 89.1h1.3v1.3h-1.3zM294.0 72.0h1.3v1.3h-1.3zM294.2 66.3h1.3v1.3h-1.3zM294.4 62.5h1.3v1.3h-1.3zM294.8 53.0h1.3v1.3h-1.3zM294.9 66.7h1.3v1.3h-1.3zM294.9 68.7h1.3v1.3h-1.3zM295.0 72.6h1.3v1.3h-1.3zM295.1 84.3h1.3v1.3h-1.3zM295.1 90.2h1.3v1.3h-1.3zM295.2 94.1h1.3v1.3h-1.3zM295.3 103.9h1.3v1.3h-1.3zM295.3 109.8h1.3v1.3h-1.3zM295.4 111.7h1.3v1.3h-1.3zM295.4 113.7h1.3v1.3h-1.3zM295.4 115.7h1.3v1.3h-1.3zM296.4 142.2h1.3v1.3h-1.3zM296.7 145.8h1.3v1.3h-1.3zM297.2 151.3h1.3v1.3h-1.3zM298.1 162.5h1.3v1.3h-1.3zM298.2 164.5h1.3v1.3h-1.3zM298.3 166.5h1.3v1.3h-1.3zM298.7 174.4h1.3v1.3h-1.3zM299.3 160.9h1.3v1.3h-1.3zM299.3 157.0h1.3v1.3h-1.3zM299.4 151.2h1.3v1.3h-1.3zM299.5 147.3h1.3v1.3h-1.3zM299.5 145.3h1.3v1.3h-1.3zM299.6 139.5h1.3v1.3h-1.3zM299.6 137.5h1.3v1.3h-1.3zM299.7 131.7h1.3v1.3h-1.3zM299.9 123.9h1.3v1.3h-1.3zM300.3 106.8h1.3v1.3h-1.3zM301.2 78.9h1.3v1.3h-1.3zM301.3 75.2h1.3v1.3h-1.3zM301.4 73.3h1.3v1.3h-1.3zM301.4 69.5h1.3v1.3h-1.3zM301.5 65.7h1.3v1.3h-1.3zM301.9 65.9h1.3v1.3h-1.3zM302.2 71.8h1.3v1.3h-1.3zM302.4 75.7h1.3v1.3h-1.3zM302.6 77.7h1.3v1.3h-1.3zM302.9 76.0h1.3v1.3h-1.3zM302.9 74.2h1.3v1.3h-1.3zM303.8 70.6h1.3v1.3h-1.3zM303.9 72.4h1.3v1.3h-1.3zM304.3 79.6h1.3v1.3h-1.3zM304.4 77.8h1.3v1.3h-1.3zM304.7 72.4h1.3v1.3h-1.3zM305.4 65.2h1.3v1.3h-1.3zM305.5 69.1h1.3v1.3h-1.3zM305.6 71.1h1.3v1.3h-1.3zM306.2 90.5h1.3v1.3h-1.3zM306.4 98.3h1.3v1.3h-1.3zM306.9 107.7h1.3v1.3h-1.3zM308.3 126.4h1.3v1.3h-1.3zM309.1 142.3h1.3v1.3h-1.3zM309.2 144.3h1.3v1.3h-1.3z" fill="#98f060"/>
<path d="M273.1 146.6h1.3v1.3h-1.3zM274.3 137.9h1.3v1.3h-1.3zM274.3 136.0h1.3v1.3h-1.3zM274.5 120.4h1.3v1.3h-1.3zM274.5 118.5h1.3v1.3h-1.3zM274.7 104.9h1.3v1.3h-1.3zM274.7 101.0h1.3v1.3h-1.3zM274.9 83.5h1.3v1.3h-1.3zM274.9 81.6h1.3v1.3h-1.3zM276.3 60.6h1.3v1.3h-1.3zM277.6 66.0h1.3v1.3h-1.3zM278.4 63.3h1.3v1.3h-1.3zM278.5 68.9h1.3v1.3h-1.3zM278.7 76.5h1.3v1.3h-1.3zM278.8 84.0h1.3v1.3h-1.3zM282.4 107.9h1.3v1.3h-1.3zM282.6 113.5h1.3v1.3h-1.3zM282.8 126.7h1.3v1.3h-1.3zM283.4 118.9h1.3v1.3h-1.3zM284.3 97.4h1.3v1.3h-1.3zM284.5 89.5h1.3v1.3h-1.3zM284.8 79.6h1.3v1.3h-1.3zM285.2 63.7h1.3v1.3h-1.3zM286.1 74.7h1.3v1.3h-1.3zM286.2 78.5h1.3v1.3h-1.3zM286.5 93.9h1.3v1.3h-1.3zM286.6 97.7h1.3v1.3h-1.3zM286.7 107.3h1.3v1.3h-1.3zM288.0 125.3h1.3v1.3h-1.3zM288.3 126.8h1.3v1.3h-1.3zM288.4 122.9h1.3v1.3h-1.3zM288.6 115.1h1.3v1.3h-1.3zM288.8 109.2h1.3v1.3h-1.3zM288.8 107.3h1.3v1.3h-1.3zM288.9 105.3h1.3v1.3h-1.3zM292.0 85.7h1.3v1.3h-1.3zM292.8 84.0h1.3v1.3h-1.3zM293.5 87.2h1.3v1.3h-1.3zM293.6 85.3h1.3v1.3h-1.3zM293.8 77.7h1.3v1.3h-1.3zM294.8 51.0h1.3v1.3h-1.3zM294.8 58.9h1.3v1.3h-1.3zM295.0 74.5h1.3v1.3h-1.3zM295.0 78.5h1.3v1.3h-1.3zM295.0 80.4h1.3v1.3h-1.3zM295.1 88.3h1.3v1.3h-1.3zM295.2 96.1h1.3v1.3h-1.3zM295.2 98.0h1.3v1.3h-1.3zM296.1 138.6h1.3v1.3h-1.3zM297.4 153.1h1.3v1.3h-1.3zM297.7 156.7h1.3v1.3h-1.3zM298.0 160.5h1.3v1.3h-1.3zM298.5 170.4h1.3v1.3h-1.3zM299.2 164.8h1.3v1.3h-1.3zM299.9 122.0h1.3v1.3h-1.3zM300.0 114.2h1.3v1.3h-1.3zM300.0 112.3h1.3v1.3h-1.3zM300.1 110.5h1.3v1.3h-1.3zM301.1 82.7h1.3v1.3h-1.3zM302.0 67.8h1.3v1.3h-1.3zM302.1 69.8h1.3v1.3h-1.3zM303.2 68.7h1.3v1.3h-1.3zM304.5 76.0h1.3v1.3h-1.3zM305.3 63.3h1.3v1.3h-1.3zM305.6 73.0h1.3v1.3h-1.3zM305.8 76.9h1.3v1.3h-1.3zM306.0 84.7h1.3v1.3h-1.3zM306.1 88.6h1.3v1.3h-1.3zM306.3 92.5h1.3v1.3h-1.3zM306.3 94.4h1.3v1.3h-1.3zM306.6 102.2h1.3v1.3h-1.3zM306.8 105.9h1.3v1.3h-1.3zM307.1 109.6h1.3v1.3h-1.3zM307.2 111.4h1.3v1.3h-1.3zM307.5 115.0h1.3v1.3h-1.3zM307.8 118.6h1.3v1.3h-1.3zM308.0 120.4h1.3v1.3h-1.3z" fill="#f0e830"/>
<path d="M273.1 148.2h1.3v1.3h-1.3zM274.6 112.7h1.3v1.3h-1.3zM274.8 95.2h1.3v1.3h-1.3zM274.8 91.3h1.3v1.3h-1.3zM277.2 64.2h1.3v1.3h-1.3zM278.0 64.7h1.3v1.3h-1.3zM278.8 82.1h1.3v1.3h-1.3zM278.9 87.8h1.3v1.3h-1.3zM279.0 89.6h1.3v1.3h-1.3zM279.5 97.1h1.3v1.3h-1.3zM281.1 104.6h1.3v1.3h-1.3zM281.6 102.8h1.3v1.3h-1.3zM283.5 115.0h1.3v1.3h-1.3zM283.7 111.1h1.3v1.3h-1.3zM284.0 105.3h1.3v1.3h-1.3zM286.3 84.3h1.3v1.3h-1.3zM287.8 117.8h1.3v1.3h-1.3zM290.0 85.1h1.3v1.3h-1.3zM294.9 60.8h1.3v1.3h-1.3zM294.9 62.8h1.3v1.3h-1.3zM295.2 92.2h1.3v1.3h-1.3zM295.5 123.5h1.3v1.3h-1.3zM296.0 136.8h1.3v1.3h-1.3zM299.0 180.3h1.3v1.3h-1.3zM299.2 168.6h1.3v1.3h-1.3zM299.3 158.9h1.3v1.3h-1.3zM299.5 149.2h1.3v1.3h-1.3zM299.9 120.1h1.3v1.3h-1.3zM300.0 116.2h1.3v1.3h-1.3zM300.4 105.0h1.3v1.3h-1.3zM300.8 96.0h1.3v1.3h-1.3zM300.9 94.1h1.3v1.3h-1.3zM302.8 77.8h1.3v1.3h-1.3zM303.0 72.4h1.3v1.3h-1.3zM303.6 65.1h1.3v1.3h-1.3zM303.6 66.9h1.3v1.3h-1.3zM305.4 67.2h1.3v1.3h-1.3z" fill="#ff9020"/>
<path d="M275.4 73.9h1.3v1.3h-1.3zM278.6 70.8h1.3v1.3h-1.3zM286.7 103.5h1.3v1.3h-1.3zM286.8 109.2h1.3v1.3h-1.3zM286.8 111.2h1.3v1.3h-1.3zM286.8 113.1h1.3v1.3h-1.3zM288.2 132.7h1.3v1.3h-1.3zM288.7 111.2h1.3v1.3h-1.3zM289.7 90.5h1.3v1.3h-1.3zM295.4 117.6h1.3v1.3h-1.3zM295.5 129.4h1.3v1.3h-1.3zM302.3 73.7h1.3v1.3h-1.3zM307.4 113.2h1.3v1.3h-1.3zM308.8 136.4h1.3v1.3h-1.3z" fill="#e83018"/>
<path d="M311.5 142.9L312.0 137.4L312.3 149.6" stroke="#2a58ff" stroke-width="1.7" fill="none" stroke-linejoin="round" stroke-dasharray="3 1 2 0.8" opacity="0.85"/>
<path d="M311.5 142.9L312.0 137.4L312.3 149.6" stroke="#34e2ee" stroke-width="0.9" fill="none" stroke-linejoin="round" stroke-dasharray="2.5 1.5 1.5 1"/>
<path d="M311.5 140.2h1.3v1.3h-1.3zM311.5 142.0h1.3v1.3h-1.3z" fill="#98f060"/>
<path d="M311.2 138.6h1.3v1.3h-1.3zM311.6 147.2h1.3v1.3h-1.3z" fill="#f0e830"/>
<path d="M312.8 169.7L313.9 93.9L315.2 49.5L316.5 110.2L317.8 151.0L318.6 141.5L319.2 183.7L320.5 138.8L321.8 156.5L323.1 142.9L323.4 155.6" stroke="#2a58ff" stroke-width="1.7" fill="none" stroke-linejoin="round" stroke-dasharray="3 1 2 0.8" opacity="0.85"/>
<path d="M312.8 169.7L313.9 93.9L315.2 49.5L316.5 110.2L317.8 151.0L318.6 141.5L319.2 183.7L320.5 138.8L321.8 156.5L323.1 142.9L323.4 155.6" stroke="#34e2ee" stroke-width="0.9" fill="none" stroke-linejoin="round" stroke-dasharray="2.5 1.5 1.5 1"/>
<path d="M312.8 125.1h1.3v1.3h-1.3zM312.9 119.2h1.3v1.3h-1.3zM312.9 117.2h1.3v1.3h-1.3zM313.0 111.2h1.3v1.3h-1.3zM313.0 107.2h1.3v1.3h-1.3zM313.1 105.2h1.3v1.3h-1.3zM313.1 101.2h1.3v1.3h-1.3zM313.1 99.2h1.3v1.3h-1.3zM313.3 91.3h1.3v1.3h-1.3zM313.6 81.7h1.3v1.3h-1.3zM313.9 72.0h1.3v1.3h-1.3zM314.0 66.2h1.3v1.3h-1.3zM314.1 62.4h1.3v1.3h-1.3zM314.6 50.8h1.3v1.3h-1.3zM314.7 56.7h1.3v1.3h-1.3zM314.9 64.5h1.3v1.3h-1.3zM315.0 68.4h1.3v1.3h-1.3zM315.0 70.4h1.3v1.3h-1.3zM315.3 84.1h1.3v1.3h-1.3zM315.5 93.9h1.3v1.3h-1.3zM315.8 107.6h1.3v1.3h-1.3zM316.0 113.4h1.3v1.3h-1.3zM316.4 127.1h1.3v1.3h-1.3zM316.6 130.9h1.3v1.3h-1.3zM316.7 136.8h1.3v1.3h-1.3zM316.8 138.7h1.3v1.3h-1.3zM316.9 142.6h1.3v1.3h-1.3zM317.1 146.5h1.3v1.3h-1.3zM317.5 146.6h1.3v1.3h-1.3zM317.8 142.8h1.3v1.3h-1.3zM318.0 146.6h1.3v1.3h-1.3zM318.1 148.5h1.3v1.3h-1.3zM318.1 150.4h1.3v1.3h-1.3zM318.1 152.4h1.3v1.3h-1.3zM318.2 158.1h1.3v1.3h-1.3zM318.3 163.9h1.3v1.3h-1.3zM318.3 165.8h1.3v1.3h-1.3zM318.4 171.5h1.3v1.3h-1.3zM318.9 169.4h1.3v1.3h-1.3zM319.0 167.4h1.3v1.3h-1.3zM319.1 163.5h1.3v1.3h-1.3zM319.4 151.8h1.3v1.3h-1.3zM319.5 147.9h1.3v1.3h-1.3zM319.6 145.9h1.3v1.3h-1.3zM319.7 144.0h1.3v1.3h-1.3zM320.6 148.0h1.3v1.3h-1.3zM320.9 151.9h1.3v1.3h-1.3zM321.0 153.9h1.3v1.3h-1.3zM321.1 155.8h1.3v1.3h-1.3zM321.3 153.9h1.3v1.3h-1.3z" fill="#98f060"/>
<path d="M312.2 169.0h1.3v1.3h-1.3zM312.2 167.0h1.3v1.3h-1.3zM312.4 157.1h1.3v1.3h-1.3zM312.4 155.1h1.3v1.3h-1.3zM312.6 139.1h1.3v1.3h-1.3zM312.6 137.1h1.3v1.3h-1.3zM312.7 135.1h1.3v1.3h-1.3zM312.7 131.1h1.3v1.3h-1.3zM312.8 123.2h1.3v1.3h-1.3zM312.9 115.2h1.3v1.3h-1.3zM313.2 97.2h1.3v1.3h-1.3zM313.5 83.6h1.3v1.3h-1.3zM313.8 73.9h1.3v1.3h-1.3zM314.4 52.7h1.3v1.3h-1.3zM314.5 48.9h1.3v1.3h-1.3zM314.6 52.8h1.3v1.3h-1.3zM314.7 54.7h1.3v1.3h-1.3zM314.8 58.6h1.3v1.3h-1.3zM315.6 97.8h1.3v1.3h-1.3zM315.7 99.8h1.3v1.3h-1.3zM315.8 105.6h1.3v1.3h-1.3zM315.9 111.5h1.3v1.3h-1.3zM316.1 115.4h1.3v1.3h-1.3zM316.1 117.3h1.3v1.3h-1.3zM316.2 121.2h1.3v1.3h-1.3zM316.3 123.2h1.3v1.3h-1.3zM318.0 140.9h1.3v1.3h-1.3zM318.2 161.9h1.3v1.3h-1.3zM318.3 167.7h1.3v1.3h-1.3zM318.5 179.2h1.3v1.3h-1.3zM318.5 183.0h1.3v1.3h-1.3zM318.6 181.1h1.3v1.3h-1.3zM319.5 149.8h1.3v1.3h-1.3zM321.9 148.0h1.3v1.3h-1.3zM322.1 146.1h1.3v1.3h-1.3z" fill="#f0e830"/>
<path d="M312.5 145.1h1.3v1.3h-1.3zM312.8 121.2h1.3v1.3h-1.3zM313.5 85.5h1.3v1.3h-1.3zM313.7 77.8h1.3v1.3h-1.3zM313.9 70.1h1.3v1.3h-1.3zM314.0 68.1h1.3v1.3h-1.3zM314.9 66.5h1.3v1.3h-1.3zM316.4 125.1h1.3v1.3h-1.3zM318.0 142.8h1.3v1.3h-1.3zM318.2 160.0h1.3v1.3h-1.3zM319.8 138.1h1.3v1.3h-1.3zM320.3 144.0h1.3v1.3h-1.3zM320.7 149.9h1.3v1.3h-1.3zM322.5 142.2h1.3v1.3h-1.3zM322.7 151.3h1.3v1.3h-1.3z" fill="#ff9020"/>
<path d="M312.3 163.1h1.3v1.3h-1.3zM312.4 153.1h1.3v1.3h-1.3zM312.7 129.1h1.3v1.3h-1.3zM313.0 113.2h1.3v1.3h-1.3zM315.9 109.6h1.3v1.3h-1.3zM318.0 144.7h1.3v1.3h-1.3zM319.1 161.6h1.3v1.3h-1.3z" fill="#e83018"/>
<path d="M325.1 169.7L326.0 123.8L327.1 122.5L328.4 121.1L329.7 95.2L331.0 106.1L332.3 54.4L333.7 57.1L334.5 55.8L335.5 95.2L336.6 96.6L337.6 145.6L338.9 172.8" stroke="#2a58ff" stroke-width="1.7" fill="none" stroke-linejoin="round" stroke-dasharray="3 1 2 0.8" opacity="0.85"/>
<path d="M325.1 169.7L326.0 123.8L327.1 122.5L328.4 121.1L329.7 95.2L331.0 106.1L332.3 54.4L333.7 57.1L334.5 55.8L335.5 95.2L336.6 96.6L337.6 145.6L338.9 172.8" stroke="#34e2ee" stroke-width="0.9" fill="none" stroke-linejoin="round" stroke-dasharray="2.5 1.5 1.5 1"/>
<path d="M324.6 163.0h1.3v1.3h-1.3zM324.6 161.0h1.3v1.3h-1.3zM324.9 149.1h1.3v1.3h-1.3zM324.9 145.1h1.3v1.3h-1.3zM325.0 141.1h1.3v1.3h-1.3zM325.2 129.1h1.3v1.3h-1.3zM325.3 125.2h1.3v1.3h-1.3zM328.0 114.5h1.3v1.3h-1.3zM328.1 112.5h1.3v1.3h-1.3zM328.7 102.5h1.3v1.3h-1.3zM329.5 98.2h1.3v1.3h-1.3zM329.7 100.0h1.3v1.3h-1.3zM330.6 97.5h1.3v1.3h-1.3zM330.8 89.6h1.3v1.3h-1.3zM331.0 81.6h1.3v1.3h-1.3zM331.3 69.7h1.3v1.3h-1.3zM331.4 63.7h1.3v1.3h-1.3zM331.7 53.8h1.3v1.3h-1.3zM333.9 59.1h1.3v1.3h-1.3zM334.1 67.0h1.3v1.3h-1.3zM334.2 70.9h1.3v1.3h-1.3zM334.4 76.8h1.3v1.3h-1.3zM334.4 78.8h1.3v1.3h-1.3zM334.7 88.7h1.3v1.3h-1.3zM334.8 92.6h1.3v1.3h-1.3zM336.0 97.9h1.3v1.3h-1.3zM336.0 99.9h1.3v1.3h-1.3zM336.1 105.7h1.3v1.3h-1.3zM336.4 117.5h1.3v1.3h-1.3zM336.4 119.5h1.3v1.3h-1.3zM336.6 125.3h1.3v1.3h-1.3zM336.6 127.3h1.3v1.3h-1.3zM336.7 131.2h1.3v1.3h-1.3zM336.8 139.1h1.3v1.3h-1.3zM337.1 146.9h1.3v1.3h-1.3zM337.4 154.7h1.3v1.3h-1.3zM337.8 162.4h1.3v1.3h-1.3zM338.1 168.3h1.3v1.3h-1.3z" fill="#98f060"/>
<path d="M324.5 167.0h1.3v1.3h-1.3zM324.8 151.1h1.3v1.3h-1.3zM325.0 143.1h1.3v1.3h-1.3zM325.1 137.1h1.3v1.3h-1.3zM325.3 127.2h1.3v1.3h-1.3zM325.4 123.2h1.3v1.3h-1.3zM328.5 106.5h1.3v1.3h-1.3zM328.9 98.6h1.3v1.3h-1.3zM329.3 96.4h1.3v1.3h-1.3zM330.2 103.7h1.3v1.3h-1.3zM330.4 103.5h1.3v1.3h-1.3zM330.9 85.6h1.3v1.3h-1.3zM331.2 73.7h1.3v1.3h-1.3zM331.4 65.7h1.3v1.3h-1.3zM331.5 61.7h1.3v1.3h-1.3zM334.1 65.0h1.3v1.3h-1.3zM334.2 68.9h1.3v1.3h-1.3zM334.5 80.8h1.3v1.3h-1.3zM336.0 101.8h1.3v1.3h-1.3zM336.5 123.4h1.3v1.3h-1.3zM337.7 160.5h1.3v1.3h-1.3zM338.2 170.2h1.3v1.3h-1.3z" fill="#f0e830"/>
<path d="M324.8 153.1h1.3v1.3h-1.3zM326.4 121.8h1.3v1.3h-1.3zM328.6 104.5h1.3v1.3h-1.3zM330.8 87.6h1.3v1.3h-1.3zM331.6 57.7h1.3v1.3h-1.3zM333.9 57.1h1.3v1.3h-1.3zM334.3 74.9h1.3v1.3h-1.3zM334.7 86.7h1.3v1.3h-1.3zM334.8 90.6h1.3v1.3h-1.3zM334.9 94.6h1.3v1.3h-1.3zM336.3 115.5h1.3v1.3h-1.3zM336.5 121.4h1.3v1.3h-1.3zM337.4 152.7h1.3v1.3h-1.3zM338.0 166.3h1.3v1.3h-1.3z" fill="#ff9020"/>
<path d="M329.0 96.6h1.3v1.3h-1.3zM336.2 107.7h1.3v1.3h-1.3z" fill="#e83018"/>
<path d="M341.1 164.7L341.6 137.4L342.9 136.1L343.7 112.9L344.7 51.7L346.1 58.5L346.9 106.1L348.2 153.7L349.0 161.9L350.3 155.1L351.3 167.4L352.9 163.3L354.0 168.7L355.3 189.1" stroke="#2a58ff" stroke-width="1.7" fill="none" stroke-linejoin="round" stroke-dasharray="3 1 2 0.8" opacity="0.85"/>
<path d="M341.1 164.7L341.6 137.4L342.9 136.1L343.7 112.9L344.7 51.7L346.1 58.5L346.9 106.1L348.2 153.7L349.0 161.9L350.3 155.1L351.3 167.4L352.9 163.3L354.0 168.7L355.3 189.1" stroke="#34e2ee" stroke-width="0.9" fill="none" stroke-linejoin="round" stroke-dasharray="2.5 1.5 1.5 1"/>
<path d="M342.3 135.4h1.3v1.3h-1.3zM342.5 127.7h1.3v1.3h-1.3zM342.8 120.0h1.3v1.3h-1.3zM342.8 118.1h1.3v1.3h-1.3zM343.1 108.3h1.3v1.3h-1.3zM343.4 92.5h1.3v1.3h-1.3zM343.5 88.6h1.3v1.3h-1.3zM343.5 86.6h1.3v1.3h-1.3zM343.6 78.7h1.3v1.3h-1.3zM343.7 74.8h1.3v1.3h-1.3zM343.8 66.8h1.3v1.3h-1.3zM343.9 60.9h1.3v1.3h-1.3zM345.5 61.8h1.3v1.3h-1.3zM345.6 69.8h1.3v1.3h-1.3zM345.7 77.7h1.3v1.3h-1.3zM345.8 79.7h1.3v1.3h-1.3zM345.8 83.6h1.3v1.3h-1.3zM345.9 85.6h1.3v1.3h-1.3zM346.2 105.5h1.3v1.3h-1.3zM346.3 107.5h1.3v1.3h-1.3zM346.3 109.4h1.3v1.3h-1.3zM346.4 113.4h1.3v1.3h-1.3zM346.9 131.3h1.3v1.3h-1.3zM347.0 133.3h1.3v1.3h-1.3zM347.0 135.2h1.3v1.3h-1.3zM347.1 139.2h1.3v1.3h-1.3zM347.4 149.1h1.3v1.3h-1.3zM347.5 151.1h1.3v1.3h-1.3zM347.5 153.1h1.3v1.3h-1.3zM349.8 156.2h1.3v1.3h-1.3zM350.7 166.7h1.3v1.3h-1.3zM353.0 166.3h1.3v1.3h-1.3zM354.1 179.2h1.3v1.3h-1.3z" fill="#98f060"/>
<path d="M340.7 150.4h1.3v1.3h-1.3zM340.7 146.5h1.3v1.3h-1.3zM340.9 138.7h1.3v1.3h-1.3zM343.0 114.2h1.3v1.3h-1.3zM343.0 112.3h1.3v1.3h-1.3zM343.2 102.4h1.3v1.3h-1.3zM343.3 96.5h1.3v1.3h-1.3zM343.4 90.6h1.3v1.3h-1.3zM343.6 82.7h1.3v1.3h-1.3zM343.7 72.8h1.3v1.3h-1.3zM343.8 68.8h1.3v1.3h-1.3zM343.9 64.9h1.3v1.3h-1.3zM344.0 55.0h1.3v1.3h-1.3zM344.8 54.5h1.3v1.3h-1.3zM345.5 59.8h1.3v1.3h-1.3zM345.6 71.7h1.3v1.3h-1.3zM345.9 87.6h1.3v1.3h-1.3zM346.0 93.6h1.3v1.3h-1.3zM346.0 95.6h1.3v1.3h-1.3zM346.2 103.5h1.3v1.3h-1.3zM346.7 123.3h1.3v1.3h-1.3zM347.4 147.1h1.3v1.3h-1.3zM348.2 159.6h1.3v1.3h-1.3zM348.3 161.3h1.3v1.3h-1.3zM349.9 158.0h1.3v1.3h-1.3zM350.1 159.7h1.3v1.3h-1.3zM350.5 165.0h1.3v1.3h-1.3zM353.5 169.9h1.3v1.3h-1.3zM353.7 173.6h1.3v1.3h-1.3z" fill="#f0e830"/>
<path d="M340.4 164.1h1.3v1.3h-1.3zM340.5 160.2h1.3v1.3h-1.3zM340.6 154.3h1.3v1.3h-1.3zM340.6 152.4h1.3v1.3h-1.3zM344.4 52.7h1.3v1.3h-1.3zM345.6 67.8h1.3v1.3h-1.3zM346.9 129.3h1.3v1.3h-1.3zM347.3 143.2h1.3v1.3h-1.3zM347.8 156.4h1.3v1.3h-1.3zM348.7 159.6h1.3v1.3h-1.3zM349.0 157.9h1.3v1.3h-1.3zM349.6 154.5h1.3v1.3h-1.3zM350.4 163.2h1.3v1.3h-1.3zM351.2 165.3h1.3v1.3h-1.3z" fill="#ff9020"/>
<path d="M345.6 65.8h1.3v1.3h-1.3zM346.5 117.4h1.3v1.3h-1.3z" fill="#e83018"/>
<path d="M355.5 171.5L356.1 107.5L357.4 106.1L358.7 61.2L360.1 59.9L360.8 88.4L361.9 58.5L363.2 88.4L364.0 112.9L365.3 72.1L366.6 88.4L368.0 163.3L369.3 159.2L370.3 112.9L371.1 93.9L371.9 89.8L372.7 51.7L374.0 66.7L375.4 93.9L376.7 112.9L377.0 158.6" stroke="#2a58ff" stroke-width="1.7" fill="none" stroke-linejoin="round" stroke-dasharray="3 1 2 0.8" opacity="0.85"/>
<path d="M355.5 171.5L356.1 107.5L357.4 106.1L358.7 61.2L360.1 59.9L360.8 88.4L361.9 58.5L363.2 88.4L364.0 112.9L365.3 72.1L366.6 88.4L368.0 163.3L369.3 159.2L370.3 112.9L371.1 93.9L371.9 89.8L372.7 51.7L374.0 66.7L375.4 93.9L376.7 112.9L377.0 158.6" stroke="#34e2ee" stroke-width="0.9" fill="none" stroke-linejoin="round" stroke-dasharray="2.5 1.5 1.5 1"/>
<path d="M354.9 167.0h1.3v1.3h-1.3zM355.0 157.3h1.3v1.3h-1.3zM355.0 151.5h1.3v1.3h-1.3zM355.1 139.8h1.3v1.3h-1.3zM355.2 135.9h1.3v1.3h-1.3zM355.3 124.3h1.3v1.3h-1.3zM355.3 122.4h1.3v1.3h-1.3zM355.4 114.6h1.3v1.3h-1.3zM355.4 112.7h1.3v1.3h-1.3zM357.1 95.7h1.3v1.3h-1.3zM357.3 87.9h1.3v1.3h-1.3zM357.3 86.0h1.3v1.3h-1.3zM357.7 74.2h1.3v1.3h-1.3zM357.7 72.3h1.3v1.3h-1.3zM358.0 64.5h1.3v1.3h-1.3zM359.5 61.1h1.3v1.3h-1.3zM359.6 64.9h1.3v1.3h-1.3zM359.9 76.4h1.3v1.3h-1.3zM360.0 80.2h1.3v1.3h-1.3zM360.0 82.1h1.3v1.3h-1.3zM360.3 83.8h1.3v1.3h-1.3zM360.5 77.8h1.3v1.3h-1.3zM360.7 73.8h1.3v1.3h-1.3zM361.2 59.8h1.3v1.3h-1.3zM361.5 63.8h1.3v1.3h-1.3zM362.9 97.2h1.3v1.3h-1.3zM362.9 99.1h1.3v1.3h-1.3zM363.3 110.4h1.3v1.3h-1.3zM363.4 110.3h1.3v1.3h-1.3zM363.7 100.6h1.3v1.3h-1.3zM363.8 98.7h1.3v1.3h-1.3zM364.4 81.2h1.3v1.3h-1.3zM364.6 75.3h1.3v1.3h-1.3zM365.9 86.0h1.3v1.3h-1.3zM366.1 91.7h1.3v1.3h-1.3zM366.5 117.3h1.3v1.3h-1.3zM366.6 119.3h1.3v1.3h-1.3zM366.6 123.2h1.3v1.3h-1.3zM366.7 129.1h1.3v1.3h-1.3zM366.9 137.0h1.3v1.3h-1.3zM367.0 146.9h1.3v1.3h-1.3zM367.1 150.8h1.3v1.3h-1.3zM368.7 156.6h1.3v1.3h-1.3zM368.9 148.9h1.3v1.3h-1.3zM368.9 147.0h1.3v1.3h-1.3zM369.1 139.3h1.3v1.3h-1.3zM369.2 135.4h1.3v1.3h-1.3zM369.3 127.7h1.3v1.3h-1.3zM369.6 116.1h1.3v1.3h-1.3zM369.7 112.3h1.3v1.3h-1.3zM369.8 110.4h1.3v1.3h-1.3zM370.7 91.9h1.3v1.3h-1.3zM371.0 90.5h1.3v1.3h-1.3zM371.3 87.2h1.3v1.3h-1.3zM371.4 85.3h1.3v1.3h-1.3zM371.4 83.4h1.3v1.3h-1.3zM371.6 72.0h1.3v1.3h-1.3zM371.8 66.3h1.3v1.3h-1.3zM371.8 62.5h1.3v1.3h-1.3zM372.4 54.8h1.3v1.3h-1.3zM373.2 64.1h1.3v1.3h-1.3zM373.6 69.9h1.3v1.3h-1.3zM373.8 73.8h1.3v1.3h-1.3zM373.9 75.7h1.3v1.3h-1.3zM374.0 79.6h1.3v1.3h-1.3zM374.4 87.4h1.3v1.3h-1.3zM374.6 91.3h1.3v1.3h-1.3zM375.1 98.9h1.3v1.3h-1.3zM375.2 100.8h1.3v1.3h-1.3zM375.8 108.5h1.3v1.3h-1.3zM376.0 112.3h1.3v1.3h-1.3zM376.0 114.3h1.3v1.3h-1.3zM376.1 122.2h1.3v1.3h-1.3zM376.1 124.2h1.3v1.3h-1.3zM376.1 126.2h1.3v1.3h-1.3zM376.2 140.1h1.3v1.3h-1.3z" fill="#98f060"/>
<path d="M354.8 170.9h1.3v1.3h-1.3zM355.0 155.4h1.3v1.3h-1.3zM355.0 153.4h1.3v1.3h-1.3zM355.1 145.7h1.3v1.3h-1.3zM355.1 137.9h1.3v1.3h-1.3zM355.3 126.2h1.3v1.3h-1.3zM355.4 116.5h1.3v1.3h-1.3zM356.8 103.5h1.3v1.3h-1.3zM357.0 97.7h1.3v1.3h-1.3zM357.2 89.9h1.3v1.3h-1.3zM357.8 70.3h1.3v1.3h-1.3zM359.4 59.2h1.3v1.3h-1.3zM359.7 70.6h1.3v1.3h-1.3zM359.8 72.5h1.3v1.3h-1.3zM359.9 78.3h1.3v1.3h-1.3zM360.1 84.0h1.3v1.3h-1.3zM360.8 71.8h1.3v1.3h-1.3zM360.8 69.8h1.3v1.3h-1.3zM360.9 67.8h1.3v1.3h-1.3zM361.0 63.8h1.3v1.3h-1.3zM361.1 61.8h1.3v1.3h-1.3zM361.2 57.9h1.3v1.3h-1.3zM361.8 69.8h1.3v1.3h-1.3zM362.1 77.8h1.3v1.3h-1.3zM362.4 83.8h1.3v1.3h-1.3zM362.5 85.8h1.3v1.3h-1.3zM362.8 93.4h1.3v1.3h-1.3zM363.0 101.0h1.3v1.3h-1.3zM363.1 104.7h1.3v1.3h-1.3zM363.2 108.5h1.3v1.3h-1.3zM363.5 108.4h1.3v1.3h-1.3zM363.6 104.5h1.3v1.3h-1.3zM363.9 96.7h1.3v1.3h-1.3zM364.8 73.3h1.3v1.3h-1.3zM366.1 95.7h1.3v1.3h-1.3zM366.5 115.4h1.3v1.3h-1.3zM366.7 125.2h1.3v1.3h-1.3zM367.0 142.9h1.3v1.3h-1.3zM367.1 148.8h1.3v1.3h-1.3zM367.2 154.7h1.3v1.3h-1.3zM367.2 158.7h1.3v1.3h-1.3zM367.3 160.7h1.3v1.3h-1.3zM367.8 161.3h1.3v1.3h-1.3zM368.8 150.8h1.3v1.3h-1.3zM369.1 137.3h1.3v1.3h-1.3zM369.3 131.6h1.3v1.3h-1.3zM369.6 114.2h1.3v1.3h-1.3zM370.2 100.8h1.3v1.3h-1.3zM371.7 70.1h1.3v1.3h-1.3zM371.8 64.4h1.3v1.3h-1.3zM372.7 58.5h1.3v1.3h-1.3zM372.9 60.4h1.3v1.3h-1.3zM374.8 95.1h1.3v1.3h-1.3zM375.5 104.7h1.3v1.3h-1.3zM376.1 128.2h1.3v1.3h-1.3zM376.2 144.0h1.3v1.3h-1.3zM376.3 153.9h1.3v1.3h-1.3z" fill="#f0e830"/>
<path d="M354.8 168.9h1.3v1.3h-1.3zM355.2 134.0h1.3v1.3h-1.3zM355.2 132.1h1.3v1.3h-1.3zM355.2 128.2h1.3v1.3h-1.3zM356.8 105.5h1.3v1.3h-1.3zM357.2 91.8h1.3v1.3h-1.3zM359.8 74.5h1.3v1.3h-1.3zM360.1 85.9h1.3v1.3h-1.3zM361.6 65.8h1.3v1.3h-1.3zM362.0 75.8h1.3v1.3h-1.3zM362.2 79.8h1.3v1.3h-1.3zM363.4 112.3h1.3v1.3h-1.3zM364.4 79.2h1.3v1.3h-1.3zM366.5 113.4h1.3v1.3h-1.3zM366.9 141.0h1.3v1.3h-1.3zM369.4 125.8h1.3v1.3h-1.3zM369.5 120.0h1.3v1.3h-1.3zM371.7 68.2h1.3v1.3h-1.3zM371.9 56.8h1.3v1.3h-1.3zM373.4 66.0h1.3v1.3h-1.3zM374.2 83.5h1.3v1.3h-1.3zM376.2 130.1h1.3v1.3h-1.3z" fill="#ff9020"/>
<path d="M363.9 94.8h1.3v1.3h-1.3zM364.1 90.9h1.3v1.3h-1.3zM364.3 83.1h1.3v1.3h-1.3zM365.6 82.3h1.3v1.3h-1.3z" fill="#e83018"/>
<path d="M379.2 140.6L379.3 130.6L380.3 156.0" stroke="#2a58ff" stroke-width="1.7" fill="none" stroke-linejoin="round" stroke-dasharray="3 1 2 0.8" opacity="0.85"/>
<path d="M379.2 140.6L379.3 130.6L380.3 156.0" stroke="#34e2ee" stroke-width="0.9" fill="none" stroke-linejoin="round" stroke-dasharray="2.5 1.5 1.5 1"/>
<path d="M378.6 136.0h1.3v1.3h-1.3zM378.6 132.0h1.3v1.3h-1.3zM378.7 130.0h1.3v1.3h-1.3zM379.1 139.7h1.3v1.3h-1.3zM379.2 143.6h1.3v1.3h-1.3z" fill="#98f060"/>
<path d="M378.5 140.0h1.3v1.3h-1.3zM378.7 131.9h1.3v1.3h-1.3zM379.1 141.7h1.3v1.3h-1.3z" fill="#f0e830"/>
<path d="M379.4 147.5h1.3v1.3h-1.3z" fill="#e83018"/>
<path d="M380.4 156.5L380.8 175.8" stroke="#2a58ff" stroke-width="1.7" fill="none" stroke-linejoin="round" stroke-dasharray="3 1 2 0.8" opacity="0.85"/>
<path d="M380.4 156.5L380.8 175.8" stroke="#34e2ee" stroke-width="0.9" fill="none" stroke-linejoin="round" stroke-dasharray="2.5 1.5 1.5 1"/>
<path d="M379.8 159.7h1.3v1.3h-1.3zM380.0 169.4h1.3v1.3h-1.3z" fill="#98f060"/>
<path d="M379.9 163.6h1.3v1.3h-1.3zM380.1 171.3h1.3v1.3h-1.3z" fill="#f0e830"/>
<path d="M379.8 157.8h1.3v1.3h-1.3zM379.9 165.5h1.3v1.3h-1.3z" fill="#e83018"/>
<path d="M381.3 185.8L382.5 133.3L383.3 81.6L384.1 50.3L384.6 96.6L385.6 98.0L386.4 87.1L387.2 96.6L388.3 88.4L389.3 130.6L390.4 130.6L391.7 146.9L392.5 129.3L393.6 84.4L394.4 103.4L395.1 140.6" stroke="#2a58ff" stroke-width="1.7" fill="none" stroke-linejoin="round" stroke-dasharray="3 1 2 0.8" opacity="0.85"/>
<path d="M381.3 185.8L382.5 133.3L383.3 81.6L384.1 50.3L384.6 96.6L385.6 98.0L386.4 87.1L387.2 96.6L388.3 88.4L389.3 130.6L390.4 130.6L391.7 146.9L392.5 129.3L393.6 84.4L394.4 103.4L395.1 140.6" stroke="#34e2ee" stroke-width="0.9" fill="none" stroke-linejoin="round" stroke-dasharray="2.5 1.5 1.5 1"/>
<path d="M380.6 185.2h1.3v1.3h-1.3zM380.7 181.3h1.3v1.3h-1.3zM380.8 177.4h1.3v1.3h-1.3zM381.1 165.7h1.3v1.3h-1.3zM381.4 150.2h1.3v1.3h-1.3zM381.5 146.3h1.3v1.3h-1.3zM381.8 134.6h1.3v1.3h-1.3zM381.8 132.7h1.3v1.3h-1.3zM381.9 130.7h1.3v1.3h-1.3zM382.0 122.7h1.3v1.3h-1.3zM382.1 112.8h1.3v1.3h-1.3zM382.2 110.8h1.3v1.3h-1.3zM382.2 108.8h1.3v1.3h-1.3zM382.3 102.9h1.3v1.3h-1.3zM382.3 100.9h1.3v1.3h-1.3zM382.3 98.9h1.3v1.3h-1.3zM382.4 96.9h1.3v1.3h-1.3zM382.4 92.9h1.3v1.3h-1.3zM382.5 88.9h1.3v1.3h-1.3zM382.6 81.0h1.3v1.3h-1.3zM382.8 73.2h1.3v1.3h-1.3zM382.9 69.2h1.3v1.3h-1.3zM383.2 59.5h1.3v1.3h-1.3zM383.2 57.5h1.3v1.3h-1.3zM383.3 53.6h1.3v1.3h-1.3zM383.5 53.5h1.3v1.3h-1.3zM383.6 63.2h1.3v1.3h-1.3zM383.6 65.1h1.3v1.3h-1.3zM383.7 76.7h1.3v1.3h-1.3zM383.8 82.5h1.3v1.3h-1.3zM383.8 84.4h1.3v1.3h-1.3zM383.9 92.1h1.3v1.3h-1.3zM385.1 95.5h1.3v1.3h-1.3zM385.3 93.7h1.3v1.3h-1.3zM385.7 88.2h1.3v1.3h-1.3zM385.8 86.4h1.3v1.3h-1.3zM386.1 90.2h1.3v1.3h-1.3zM387.0 92.7h1.3v1.3h-1.3zM387.4 89.4h1.3v1.3h-1.3zM387.8 95.5h1.3v1.3h-1.3zM387.9 99.3h1.3v1.3h-1.3zM388.2 110.8h1.3v1.3h-1.3zM388.4 116.5h1.3v1.3h-1.3zM388.6 126.1h1.3v1.3h-1.3zM388.7 130.0h1.3v1.3h-1.3zM390.5 139.0h1.3v1.3h-1.3zM390.9 144.5h1.3v1.3h-1.3zM391.2 144.3h1.3v1.3h-1.3zM391.4 138.4h1.3v1.3h-1.3zM391.5 136.5h1.3v1.3h-1.3zM391.7 132.5h1.3v1.3h-1.3zM392.1 118.8h1.3v1.3h-1.3zM392.2 113.0h1.3v1.3h-1.3zM392.5 103.2h1.3v1.3h-1.3zM392.6 97.4h1.3v1.3h-1.3zM392.7 93.5h1.3v1.3h-1.3zM392.9 83.7h1.3v1.3h-1.3zM393.1 89.4h1.3v1.3h-1.3zM393.5 97.0h1.3v1.3h-1.3zM393.7 102.8h1.3v1.3h-1.3zM393.8 108.6h1.3v1.3h-1.3zM393.9 114.5h1.3v1.3h-1.3zM394.2 128.2h1.3v1.3h-1.3zM394.3 132.2h1.3v1.3h-1.3z" fill="#98f060"/>
<path d="M380.8 175.5h1.3v1.3h-1.3zM381.3 154.1h1.3v1.3h-1.3zM381.4 152.1h1.3v1.3h-1.3zM381.6 142.4h1.3v1.3h-1.3zM382.1 116.8h1.3v1.3h-1.3zM382.6 83.0h1.3v1.3h-1.3zM382.9 71.2h1.3v1.3h-1.3zM383.4 51.6h1.3v1.3h-1.3zM383.5 55.5h1.3v1.3h-1.3zM383.6 67.0h1.3v1.3h-1.3zM383.7 70.9h1.3v1.3h-1.3zM383.7 72.8h1.3v1.3h-1.3zM383.9 88.2h1.3v1.3h-1.3zM385.4 91.9h1.3v1.3h-1.3zM385.5 90.1h1.3v1.3h-1.3zM386.6 96.0h1.3v1.3h-1.3zM387.8 93.5h1.3v1.3h-1.3zM388.0 101.2h1.3v1.3h-1.3zM388.0 103.1h1.3v1.3h-1.3zM388.3 112.7h1.3v1.3h-1.3zM388.4 118.5h1.3v1.3h-1.3zM388.5 120.4h1.3v1.3h-1.3zM388.5 124.2h1.3v1.3h-1.3zM388.6 128.0h1.3v1.3h-1.3zM390.6 140.9h1.3v1.3h-1.3zM391.2 142.4h1.3v1.3h-1.3zM391.3 140.4h1.3v1.3h-1.3zM391.6 134.5h1.3v1.3h-1.3zM391.9 124.7h1.3v1.3h-1.3zM392.0 122.7h1.3v1.3h-1.3zM392.1 116.9h1.3v1.3h-1.3zM392.3 109.1h1.3v1.3h-1.3zM392.4 105.2h1.3v1.3h-1.3zM392.5 101.3h1.3v1.3h-1.3zM392.5 99.3h1.3v1.3h-1.3zM392.7 91.5h1.3v1.3h-1.3zM392.8 89.6h1.3v1.3h-1.3zM393.1 87.5h1.3v1.3h-1.3zM393.4 95.1h1.3v1.3h-1.3zM393.8 106.7h1.3v1.3h-1.3zM393.9 110.6h1.3v1.3h-1.3zM394.1 120.4h1.3v1.3h-1.3zM394.1 124.3h1.3v1.3h-1.3zM394.4 136.1h1.3v1.3h-1.3z" fill="#f0e830"/>
<path d="M381.0 169.6h1.3v1.3h-1.3zM382.2 106.8h1.3v1.3h-1.3zM382.3 104.8h1.3v1.3h-1.3zM383.1 61.4h1.3v1.3h-1.3zM383.5 57.4h1.3v1.3h-1.3zM383.5 61.3h1.3v1.3h-1.3zM383.7 74.7h1.3v1.3h-1.3zM386.4 94.0h1.3v1.3h-1.3zM387.2 91.1h1.3v1.3h-1.3zM389.9 131.8h1.3v1.3h-1.3zM390.8 142.7h1.3v1.3h-1.3zM392.3 111.0h1.3v1.3h-1.3zM392.4 107.1h1.3v1.3h-1.3zM393.0 85.6h1.3v1.3h-1.3zM393.3 93.2h1.3v1.3h-1.3zM393.5 98.9h1.3v1.3h-1.3zM394.3 130.2h1.3v1.3h-1.3z" fill="#ff9020"/>
<path d="M381.6 144.4h1.3v1.3h-1.3zM382.0 120.8h1.3v1.3h-1.3zM383.1 63.4h1.3v1.3h-1.3zM383.5 59.3h1.3v1.3h-1.3zM385.9 88.3h1.3v1.3h-1.3zM393.2 91.3h1.3v1.3h-1.3z" fill="#e83018"/>
<path d="M395.3 140.4L396.2 129.3L397.5 103.4L398.3 129.3L399.6 121.1L400.9 146.9L402.0 183.2" stroke="#2a58ff" stroke-width="1.7" fill="none" stroke-linejoin="round" stroke-dasharray="3 1 2 0.8" opacity="0.85"/>
<path d="M395.3 140.4L396.2 129.3L397.5 103.4L398.3 129.3L399.6 121.1L400.9 146.9L402.0 183.2" stroke="#34e2ee" stroke-width="0.9" fill="none" stroke-linejoin="round" stroke-dasharray="2.5 1.5 1.5 1"/>
<path d="M396.1 118.7h1.3v1.3h-1.3zM396.2 116.7h1.3v1.3h-1.3zM396.4 112.7h1.3v1.3h-1.3zM396.7 106.7h1.3v1.3h-1.3zM396.9 102.8h1.3v1.3h-1.3zM396.9 104.7h1.3v1.3h-1.3zM397.0 106.7h1.3v1.3h-1.3zM397.1 108.7h1.3v1.3h-1.3zM397.1 110.7h1.3v1.3h-1.3zM398.2 125.3h1.3v1.3h-1.3zM398.7 122.1h1.3v1.3h-1.3zM399.1 122.4h1.3v1.3h-1.3zM399.3 126.4h1.3v1.3h-1.3zM400.4 150.1h1.3v1.3h-1.3zM400.5 153.9h1.3v1.3h-1.3zM400.6 155.8h1.3v1.3h-1.3zM401.1 173.0h1.3v1.3h-1.3z" fill="#98f060"/>
<path d="M394.7 139.8h1.3v1.3h-1.3zM395.9 122.6h1.3v1.3h-1.3zM396.0 120.7h1.3v1.3h-1.3zM397.2 112.7h1.3v1.3h-1.3zM397.5 122.6h1.3v1.3h-1.3zM399.4 128.4h1.3v1.3h-1.3zM399.7 134.4h1.3v1.3h-1.3zM399.8 136.4h1.3v1.3h-1.3zM399.9 138.3h1.3v1.3h-1.3zM400.0 140.3h1.3v1.3h-1.3zM400.6 157.7h1.3v1.3h-1.3zM401.0 171.1h1.3v1.3h-1.3zM401.2 176.8h1.3v1.3h-1.3z" fill="#f0e830"/>
<path d="M394.8 137.9h1.3v1.3h-1.3zM395.6 128.6h1.3v1.3h-1.3zM395.8 124.6h1.3v1.3h-1.3zM397.3 116.7h1.3v1.3h-1.3zM397.4 118.7h1.3v1.3h-1.3zM399.0 120.4h1.3v1.3h-1.3zM399.2 124.4h1.3v1.3h-1.3z" fill="#ff9020"/>
<path d="M395.0 136.1h1.3v1.3h-1.3zM397.6 126.6h1.3v1.3h-1.3zM400.9 165.4h1.3v1.3h-1.3zM401.1 174.9h1.3v1.3h-1.3zM401.3 180.6h1.3v1.3h-1.3z" fill="#e83018"/>
<path d="M402.3 191.8L403.6 93.9L404.9 175.5L405.7 153.7L406.8 149.7L407.5 169.9" stroke="#2a58ff" stroke-width="1.7" fill="none" stroke-linejoin="round" stroke-dasharray="3 1 2 0.8" opacity="0.85"/>
<path d="M402.3 191.8L403.6 93.9L404.9 175.5L405.7 153.7L406.8 149.7L407.5 169.9" stroke="#34e2ee" stroke-width="0.9" fill="none" stroke-linejoin="round" stroke-dasharray="2.5 1.5 1.5 1"/>
<path d="M401.6 191.2h1.3v1.3h-1.3zM401.9 173.2h1.3v1.3h-1.3zM402.0 165.2h1.3v1.3h-1.3zM402.0 161.2h1.3v1.3h-1.3zM402.1 155.2h1.3v1.3h-1.3zM402.3 143.2h1.3v1.3h-1.3zM402.3 141.2h1.3v1.3h-1.3zM402.4 133.2h1.3v1.3h-1.3zM402.5 127.2h1.3v1.3h-1.3zM402.6 115.2h1.3v1.3h-1.3zM402.7 109.2h1.3v1.3h-1.3zM403.0 95.2h1.3v1.3h-1.3zM403.1 101.2h1.3v1.3h-1.3zM403.1 105.2h1.3v1.3h-1.3zM403.3 117.1h1.3v1.3h-1.3zM403.5 129.1h1.3v1.3h-1.3zM403.8 145.0h1.3v1.3h-1.3zM403.9 151.0h1.3v1.3h-1.3zM403.9 155.0h1.3v1.3h-1.3zM404.1 162.9h1.3v1.3h-1.3zM404.3 172.9h1.3v1.3h-1.3zM404.4 170.9h1.3v1.3h-1.3zM406.1 149.0h1.3v1.3h-1.3zM406.4 158.2h1.3v1.3h-1.3z" fill="#98f060"/>
<path d="M401.7 187.2h1.3v1.3h-1.3zM401.7 183.2h1.3v1.3h-1.3zM401.8 179.2h1.3v1.3h-1.3zM401.8 177.2h1.3v1.3h-1.3zM402.5 123.2h1.3v1.3h-1.3zM402.6 117.2h1.3v1.3h-1.3zM402.8 105.2h1.3v1.3h-1.3zM403.0 99.2h1.3v1.3h-1.3zM403.1 103.2h1.3v1.3h-1.3zM403.4 119.1h1.3v1.3h-1.3zM403.4 123.1h1.3v1.3h-1.3zM403.6 137.0h1.3v1.3h-1.3zM403.8 147.0h1.3v1.3h-1.3zM403.9 153.0h1.3v1.3h-1.3zM404.0 156.9h1.3v1.3h-1.3zM404.2 172.9h1.3v1.3h-1.3zM404.5 168.9h1.3v1.3h-1.3zM404.8 161.0h1.3v1.3h-1.3zM404.8 159.0h1.3v1.3h-1.3zM405.4 151.7h1.3v1.3h-1.3zM406.4 156.4h1.3v1.3h-1.3zM406.5 160.0h1.3v1.3h-1.3z" fill="#f0e830"/>
<path d="M401.9 171.2h1.3v1.3h-1.3zM402.3 137.2h1.3v1.3h-1.3zM402.4 135.2h1.3v1.3h-1.3zM403.3 115.1h1.3v1.3h-1.3zM403.5 127.1h1.3v1.3h-1.3zM404.1 164.9h1.3v1.3h-1.3zM404.6 165.0h1.3v1.3h-1.3zM406.7 167.4h1.3v1.3h-1.3z" fill="#ff9020"/>
<path d="M402.2 147.2h1.3v1.3h-1.3zM402.5 129.2h1.3v1.3h-1.3z" fill="#e83018"/>
<path d="M408.3 177.8L408.9 151.0L410.2 156.5" stroke="#2a58ff" stroke-width="1.7" fill="none" stroke-linejoin="round" stroke-dasharray="3 1 2 0.8" opacity="0.85"/>
<path d="M408.3 177.8L408.9 151.0L410.2 156.5" stroke="#34e2ee" stroke-width="0.9" fill="none" stroke-linejoin="round" stroke-dasharray="2.5 1.5 1.5 1"/>
<path d="M407.6 177.1h1.3v1.3h-1.3zM407.7 175.2h1.3v1.3h-1.3zM407.9 165.7h1.3v1.3h-1.3zM408.0 161.8h1.3v1.3h-1.3z" fill="#98f060"/>
<path d="M407.9 163.7h1.3v1.3h-1.3zM408.0 159.9h1.3v1.3h-1.3zM408.1 158.0h1.3v1.3h-1.3z" fill="#f0e830"/>
<path d="M407.7 173.3h1.3v1.3h-1.3zM408.1 156.1h1.3v1.3h-1.3zM408.2 152.3h1.3v1.3h-1.3z" fill="#ff9020"/>
<path d="M413.5 153.4L413.6 148.3L414.7 129.3L415.5 107.5L416.8 121.1L418.1 133.3L419.4 142.9L420.7 181.0L422.1 151.0L423.4 164.6L424.0 171.9" stroke="#2a58ff" stroke-width="1.7" fill="none" stroke-linejoin="round" stroke-dasharray="3 1 2 0.8" opacity="0.85"/>
<path d="M413.5 153.4L413.6 148.3L414.7 129.3L415.5 107.5L416.8 121.1L418.1 133.3L419.4 142.9L420.7 181.0L422.1 151.0L423.4 164.6L424.0 171.9" stroke="#34e2ee" stroke-width="0.9" fill="none" stroke-linejoin="round" stroke-dasharray="2.5 1.5 1.5 1"/>
<path d="M413.2 143.8h1.3v1.3h-1.3zM413.3 141.9h1.3v1.3h-1.3zM413.4 140.0h1.3v1.3h-1.3zM413.5 138.1h1.3v1.3h-1.3zM414.0 128.6h1.3v1.3h-1.3zM414.1 126.6h1.3v1.3h-1.3zM414.5 114.8h1.3v1.3h-1.3zM414.6 112.8h1.3v1.3h-1.3zM414.8 106.8h1.3v1.3h-1.3zM415.8 116.6h1.3v1.3h-1.3zM416.3 122.2h1.3v1.3h-1.3zM418.2 138.4h1.3v1.3h-1.3zM418.5 140.3h1.3v1.3h-1.3zM418.8 142.2h1.3v1.3h-1.3zM419.4 159.4h1.3v1.3h-1.3zM420.0 178.4h1.3v1.3h-1.3zM421.2 154.4h1.3v1.3h-1.3zM421.4 150.4h1.3v1.3h-1.3zM423.0 167.6h1.3v1.3h-1.3z" fill="#98f060"/>
<path d="M412.8 152.7h1.3v1.3h-1.3zM413.0 147.7h1.3v1.3h-1.3zM413.7 134.3h1.3v1.3h-1.3zM416.5 123.9h1.3v1.3h-1.3zM416.9 127.4h1.3v1.3h-1.3zM419.2 153.6h1.3v1.3h-1.3zM419.3 157.5h1.3v1.3h-1.3zM419.4 161.3h1.3v1.3h-1.3zM419.7 168.9h1.3v1.3h-1.3zM419.8 170.8h1.3v1.3h-1.3zM420.0 176.5h1.3v1.3h-1.3zM420.8 164.3h1.3v1.3h-1.3zM422.2 158.2h1.3v1.3h-1.3zM422.9 165.8h1.3v1.3h-1.3z" fill="#f0e830"/>
<path d="M412.9 149.3h1.3v1.3h-1.3zM413.6 136.2h1.3v1.3h-1.3zM414.7 108.8h1.3v1.3h-1.3zM415.9 118.5h1.3v1.3h-1.3zM419.6 165.1h1.3v1.3h-1.3zM421.1 156.4h1.3v1.3h-1.3zM421.3 152.4h1.3v1.3h-1.3zM421.8 154.3h1.3v1.3h-1.3z" fill="#ff9020"/>
<path d="M417.3 130.9h1.3v1.3h-1.3zM417.5 132.7h1.3v1.3h-1.3zM420.4 174.3h1.3v1.3h-1.3zM421.1 158.4h1.3v1.3h-1.3z" fill="#e83018"/>
<path d="M424.7 180.7L426.0 155.1L426.6 168.3" stroke="#2a58ff" stroke-width="1.7" fill="none" stroke-linejoin="round" stroke-dasharray="3 1 2 0.8" opacity="0.85"/>
<path d="M424.7 180.7L426.0 155.1L426.6 168.3" stroke="#34e2ee" stroke-width="0.9" fill="none" stroke-linejoin="round" stroke-dasharray="2.5 1.5 1.5 1"/>
<path d="M424.6 170.2h1.3v1.3h-1.3zM425.3 156.4h1.3v1.3h-1.3zM425.4 156.3h1.3v1.3h-1.3zM425.5 158.2h1.3v1.3h-1.3z" fill="#98f060"/>
<path d="M424.5 172.2h1.3v1.3h-1.3zM424.9 164.3h1.3v1.3h-1.3zM425.2 158.4h1.3v1.3h-1.3zM425.4 154.5h1.3v1.3h-1.3zM425.6 160.1h1.3v1.3h-1.3z" fill="#f0e830"/>
<path d="M424.8 166.3h1.3v1.3h-1.3z" fill="#e83018"/>
<path d="M248.0 237.0L252.0 235.5L256.0 236.8L260.0 235.0L264.0 236.5L267.0 234.0L270.0 228.0L272.0 218.0L274.0 206.0L276.0 199.0" stroke="#2a58ff" stroke-width="3.0" fill="none" stroke-linejoin="round" stroke-dasharray="3 1 2 0.8" opacity="0.85"/>
<path d="M248.0 237.0L252.0 235.5L256.0 236.8L260.0 235.0L264.0 236.5L267.0 234.0L270.0 228.0L272.0 218.0L274.0 206.0L276.0 199.0" stroke="#34e2ee" stroke-width="1.6" fill="none" stroke-linejoin="round" stroke-dasharray="2.5 1.5 1.5 1"/>
<path d="M247.3 236.3h1.3v1.3h-1.3zM250.0 235.3h1.3v1.3h-1.3zM258.0 234.9h1.3v1.3h-1.3zM259.4 234.3h1.3v1.3h-1.3zM260.7 234.8h1.3v1.3h-1.3zM263.4 235.8h1.3v1.3h-1.3zM269.7 225.7h1.3v1.3h-1.3zM270.0 224.0h1.3v1.3h-1.3zM270.4 222.3h1.3v1.3h-1.3zM270.7 220.7h1.3v1.3h-1.3zM271.6 215.6h1.3v1.3h-1.3zM272.8 208.8h1.3v1.3h-1.3zM274.9 200.1h1.3v1.3h-1.3z" fill="#98f060"/>
<path d="M248.7 235.8h1.3v1.3h-1.3zM251.3 234.8h1.3v1.3h-1.3zM252.7 235.3h1.3v1.3h-1.3zM269.4 227.3h1.3v1.3h-1.3zM272.5 210.5h1.3v1.3h-1.3zM273.9 203.6h1.3v1.3h-1.3zM274.4 201.8h1.3v1.3h-1.3z" fill="#f0e830"/>
<path d="M255.3 236.2h1.3v1.3h-1.3zM273.1 207.1h1.3v1.3h-1.3z" fill="#ff9020"/>
<path d="M249.0 234.0L254.0 233.0L259.0 234.5L263.0 232.5L267.0 231.0L270.0 222.0" stroke="#2a58ff" stroke-width="1.6" fill="none" stroke-linejoin="round" stroke-dasharray="3 1 2 0.8" opacity="0.85"/>
<path d="M249.0 234.0L254.0 233.0L259.0 234.5L263.0 232.5L267.0 231.0L270.0 222.0" stroke="#34e2ee" stroke-width="0.9" fill="none" stroke-linejoin="round" stroke-dasharray="2.5 1.5 1.5 1"/>
<path d="M262.4 231.8h1.3v1.3h-1.3zM263.7 231.3h1.3v1.3h-1.3zM266.4 230.3h1.3v1.3h-1.3zM267.6 226.8h1.3v1.3h-1.3z" fill="#98f060"/>
<path d="M250.0 233.0h1.3v1.3h-1.3zM253.3 232.3h1.3v1.3h-1.3zM258.4 233.8h1.3v1.3h-1.3zM259.7 233.2h1.3v1.3h-1.3zM268.8 223.2h1.3v1.3h-1.3z" fill="#f0e830"/>
<path d="M251.7 232.7h1.3v1.3h-1.3zM268.2 224.9h1.3v1.3h-1.3z" fill="#ff9020"/>
<path d="M255.0 232.8h1.3v1.3h-1.3z" fill="#e83018"/>
<path d="M247.9 186.0L249.2 199.7L250.6 202.4L251.9 196.9L253.2 194.2L254.5 191.5L255.8 196.9L257.2 191.5L258.5 186.0L260.6 166.9L262.4 153.3L263.7 150.5L265.1 166.9L266.4 186.0L267.7 195.6L269.0 202.4L270.3 213.3L271.7 229.7L273.0 236.5L274.3 236.5L276.1 235.2L277.5 216.1L279.1 191.5L280.4 176.5L281.7 177.8L283.5 186.0L285.4 187.4L287.5 184.7L290.1 186.0L292.8 191.5L294.1 187.4L295.4 180.6L296.7 177.8L298.6 177.8L300.2 183.3L301.2 196.9L303.3 202.4L304.6 186.0L306.0 172.4L307.8 161.5L309.1 166.9L311.2 169.6L313.4 172.4L315.2 180.6L317.0 187.4L319.2 180.6L320.5 179.2L321.8 183.3L323.9 177.8L325.8 166.9L327.1 161.5L328.4 166.9L329.7 180.6L331.0 191.5L333.7 195.6L335.0 202.4L336.3 207.9L337.6 210.6L338.9 207.9L340.3 199.7L341.6 191.5L342.9 180.6L344.2 169.6L345.5 172.4L346.9 191.5L348.2 216.1L350.3 227.0L352.1 235.2L353.5 229.7L354.8 207.9L356.1 196.9L357.4 191.5L358.7 194.2L360.1 199.7L361.4 199.7L363.5 199.7L364.5 186.0L366.1 172.4L368.0 158.7L369.3 147.8L370.6 153.3L371.9 164.2L373.2 177.8L374.6 188.8L375.9 186.0L377.2 180.6L378.5 187.4L379.8 190.1L381.2 180.6L382.5 186.0L383.8 183.3L385.1 186.0L386.4 175.1L387.8 161.5L389.1 164.2L390.4 166.9L391.7 164.2L393.0 175.1L394.4 188.8L395.7 191.5L398.3 186.0L400.9 183.3L403.6 186.0L406.2 183.3L408.9 187.4L411.5 181.9L414.1 177.8L416.8 180.6L418.1 177.8L419.4 180.6L422.1 180.6L424.7 183.3L426.0 191.5L428.7 199.7" stroke="#3a5cff" stroke-width="1.4" fill="none" stroke-linejoin="round" stroke-dasharray="2 1.5" opacity="0.9"/>
<path d="M445.0 172.4L447.6 169.6L450.3 158.7L452.9 150.5L454.2 153.3L455.6 158.7L456.9 166.9L458.2 172.4L459.5 169.6L460.8 161.5L462.2 158.7L463.5 164.2L464.8 169.6L466.1 161.5L468.2 145.1L469.3 135.5L470.9 142.3L472.7 164.2L474.0 177.8L475.3 180.6L476.7 177.8L478.0 172.4L479.3 166.9L480.6 164.2L481.9 161.5L483.3 153.3L484.6 145.1L485.9 139.6L487.2 147.8L488.5 158.7L489.9 169.6L491.2 175.1L492.5 180.6L493.8 175.1L495.1 164.2L496.5 158.7L497.8 158.7L499.1 156.0L500.4 147.8L501.7 143.7L503.0 153.3L504.4 158.7L505.7 160.1L507.0 161.5L508.3 162.8L509.6 158.7L511.0 164.2L512.3 166.9L513.6 153.3L514.9 150.5L516.2 156.0L517.6 166.9L518.9 172.4L520.2 175.1L521.5 176.5L522.8 166.9L524.2 158.7L525.5 156.0L526.8 150.5L528.1 147.8L529.4 145.1L530.8 143.7L532.1 147.8L533.4 158.7L534.7 164.2L536.0 169.6L537.3 158.7L538.7 156.0L540.0 161.5L541.3 166.9L542.6 172.4L543.9 164.2L545.3 153.3L546.6 142.3L547.9 135.5L549.2 145.1L550.5 161.5L551.9 169.6L553.2 175.1L554.5 177.8L555.8 176.5L557.1 175.1L558.5 175.1L559.8 172.4L561.1 169.6L562.4 175.1L563.7 176.5L565.1 177.8L566.4 183.3L567.7 180.6L569.0 172.4L570.3 164.2L571.6 161.5L573.0 166.9L574.3 169.6L575.6 172.4L576.9 166.9L578.2 161.5L579.6 164.2L580.9 169.6L582.2 172.4L583.5 177.8L584.8 183.3L586.2 187.4L587.5 195.6L588.8 191.5L590.1 183.3L591.4 175.1L592.8 164.2L594.1 153.3L595.4 147.8L596.7 146.4L598.0 153.3L599.4 161.5L600.7 166.9L602.0 169.6L603.3 172.4L604.6 175.1L605.9 176.5L607.3 172.4L608.6 169.6L609.9 172.4L611.2 175.1L612.5 172.4L613.9 166.9L615.2 164.2L615.0 165.5L617.6 166.9L620.3 169.6L622.9 166.9L625.6 156.0L626.9 147.8L628.2 143.7L629.5 147.8L630.8 161.5L632.2 169.6L633.5 172.4L634.8 175.1L636.1 177.8L637.4 183.3L638.7 186.0L640.1 187.4L641.4 183.3L642.7 180.6L644.0 177.8L645.3 176.5L646.7 175.1L648.0 175.1L649.3 172.4L650.6 168.3L651.9 169.6L653.3 172.4L654.6 169.6L655.9 166.9L657.2 158.7L658.5 147.8L659.9 143.7L661.2 145.1L662.5 156.0L663.8 166.9L665.1 175.1L666.5 177.8L667.8 180.6L669.1 179.2L670.4 177.8L671.7 169.6L673.0 158.7L674.4 147.8L675.7 146.4L677.0 150.5L678.3 158.7L679.6 164.2L681.0 169.6L682.3 172.4L683.6 175.1L684.9 172.4L686.2 164.2L687.6 158.7L688.9 153.3L690.2 146.4L691.5 150.5L692.8 166.9L694.2 175.1L695.5 176.5L696.8 175.1L698.1 177.8L699.4 179.2L700.8 175.1L702.1 172.4L703.4 172.4L704.7 171.0L706.0 169.6L707.3 172.4L708.7 175.1L710.0 177.8L711.3 176.5L712.6 175.1L713.9 183.3L715.3 187.4L716.6 188.8L717.9 190.1L719.2 188.8L720.5 190.1L721.9 187.4L723.2 183.3L724.5 177.8L725.8 172.4L727.1 169.6L728.5 175.1L729.8 177.8L731.1 179.2L732.4 177.8L733.7 175.1L735.1 172.4L736.4 169.6L737.7 172.4L739.0 176.5L740.3 175.1L741.6 172.4L744.3 169.6L746.9 166.9L748.2 169.6L749.6 177.8L750.9 180.6L752.2 177.8L753.5 175.1L754.8 176.5L756.2 177.8L757.5 180.6L758.8 183.3L760.1 180.6L761.4 175.1L762.8 169.6L764.1 166.9L765.4 164.2L766.7 166.9L768.0 169.6L769.4 166.9L770.7 158.7L772.0 153.3L773.3 147.8L774.6 150.5L775.9 158.7L777.3 166.9L778.6 172.4L779.9 175.1L781.2 172.4L782.5 169.6L783.9 166.9L785.2 161.5L786.5 156.0L787.8 150.5L789.1 145.1L790.5 143.7L791.8 153.3L793.1 166.9L794.4 172.4L797.1 173.7L799.7 175.1L802.3 177.8" stroke="#2a58ff" stroke-width="1.6" fill="none" stroke-linejoin="round" stroke-dasharray="3 1 2 0.8" opacity="0.85"/>
<path d="M445.0 172.4L447.6 169.6L450.3 158.7L452.9 150.5L454.2 153.3L455.6 158.7L456.9 166.9L458.2 172.4L459.5 169.6L460.8 161.5L462.2 158.7L463.5 164.2L464.8 169.6L466.1 161.5L468.2 145.1L469.3 135.5L470.9 142.3L472.7 164.2L474.0 177.8L475.3 180.6L476.7 177.8L478.0 172.4L479.3 166.9L480.6 164.2L481.9 161.5L483.3 153.3L484.6 145.1L485.9 139.6L487.2 147.8L488.5 158.7L489.9 169.6L491.2 175.1L492.5 180.6L493.8 175.1L495.1 164.2L496.5 158.7L497.8 158.7L499.1 156.0L500.4 147.8L501.7 143.7L503.0 153.3L504.4 158.7L505.7 160.1L507.0 161.5L508.3 162.8L509.6 158.7L511.0 164.2L512.3 166.9L513.6 153.3L514.9 150.5L516.2 156.0L517.6 166.9L518.9 172.4L520.2 175.1L521.5 176.5L522.8 166.9L524.2 158.7L525.5 156.0L526.8 150.5L528.1 147.8L529.4 145.1L530.8 143.7L532.1 147.8L533.4 158.7L534.7 164.2L536.0 169.6L537.3 158.7L538.7 156.0L540.0 161.5L541.3 166.9L542.6 172.4L543.9 164.2L545.3 153.3L546.6 142.3L547.9 135.5L549.2 145.1L550.5 161.5L551.9 169.6L553.2 175.1L554.5 177.8L555.8 176.5L557.1 175.1L558.5 175.1L559.8 172.4L561.1 169.6L562.4 175.1L563.7 176.5L565.1 177.8L566.4 183.3L567.7 180.6L569.0 172.4L570.3 164.2L571.6 161.5L573.0 166.9L574.3 169.6L575.6 172.4L576.9 166.9L578.2 161.5L579.6 164.2L580.9 169.6L582.2 172.4L583.5 177.8L584.8 183.3L586.2 187.4L587.5 195.6L588.8 191.5L590.1 183.3L591.4 175.1L592.8 164.2L594.1 153.3L595.4 147.8L596.7 146.4L598.0 153.3L599.4 161.5L600.7 166.9L602.0 169.6L603.3 172.4L604.6 175.1L605.9 176.5L607.3 172.4L608.6 169.6L609.9 172.4L611.2 175.1L612.5 172.4L613.9 166.9L615.2 164.2L615.0 165.5L617.6 166.9L620.3 169.6L622.9 166.9L625.6 156.0L626.9 147.8L628.2 143.7L629.5 147.8L630.8 161.5L632.2 169.6L633.5 172.4L634.8 175.1L636.1 177.8L637.4 183.3L638.7 186.0L640.1 187.4L641.4 183.3L642.7 180.6L644.0 177.8L645.3 176.5L646.7 175.1L648.0 175.1L649.3 172.4L650.6 168.3L651.9 169.6L653.3 172.4L654.6 169.6L655.9 166.9L657.2 158.7L658.5 147.8L659.9 143.7L661.2 145.1L662.5 156.0L663.8 166.9L665.1 175.1L666.5 177.8L667.8 180.6L669.1 179.2L670.4 177.8L671.7 169.6L673.0 158.7L674.4 147.8L675.7 146.4L677.0 150.5L678.3 158.7L679.6 164.2L681.0 169.6L682.3 172.4L683.6 175.1L684.9 172.4L686.2 164.2L687.6 158.7L688.9 153.3L690.2 146.4L691.5 150.5L692.8 166.9L694.2 175.1L695.5 176.5L696.8 175.1L698.1 177.8L699.4 179.2L700.8 175.1L702.1 172.4L703.4 172.4L704.7 171.0L706.0 169.6L707.3 172.4L708.7 175.1L710.0 177.8L711.3 176.5L712.6 175.1L713.9 183.3L715.3 187.4L716.6 188.8L717.9 190.1L719.2 188.8L720.5 190.1L721.9 187.4L723.2 183.3L724.5 177.8L725.8 172.4L727.1 169.6L728.5 175.1L729.8 177.8L731.1 179.2L732.4 177.8L733.7 175.1L735.1 172.4L736.4 169.6L737.7 172.4L739.0 176.5L740.3 175.1L741.6 172.4L744.3 169.6L746.9 166.9L748.2 169.6L749.6 177.8L750.9 180.6L752.2 177.8L753.5 175.1L754.8 176.5L756.2 177.8L757.5 180.6L758.8 183.3L760.1 180.6L761.4 175.1L762.8 169.6L764.1 166.9L765.4 164.2L766.7 166.9L768.0 169.6L769.4 166.9L770.7 158.7L772.0 153.3L773.3 147.8L774.6 150.5L775.9 158.7L777.3 166.9L778.6 172.4L779.9 175.1L781.2 172.4L782.5 169.6L783.9 166.9L785.2 161.5L786.5 156.0L787.8 150.5L789.1 145.1L790.5 143.7L791.8 153.3L793.1 166.9L794.4 172.4L797.1 173.7L799.7 175.1L802.3 177.8" stroke="#34e2ee" stroke-width="1.0" fill="none" stroke-linejoin="round" stroke-dasharray="2.5 1.5 1.5 1"/>
<path d="M447.4 167.2h1.3v1.3h-1.3zM454.5 156.3h1.3v1.3h-1.3zM455.4 161.4h1.3v1.3h-1.3zM459.9 162.4h1.3v1.3h-1.3zM462.8 163.5h1.3v1.3h-1.3zM463.7 167.2h1.3v1.3h-1.3zM464.9 164.1h1.3v1.3h-1.3zM465.7 159.0h1.3v1.3h-1.3zM465.9 157.2h1.3v1.3h-1.3zM466.4 153.5h1.3v1.3h-1.3zM469.4 138.3h1.3v1.3h-1.3zM470.5 145.7h1.3v1.3h-1.3zM470.9 149.6h1.3v1.3h-1.3zM471.4 155.6h1.3v1.3h-1.3zM471.9 161.5h1.3v1.3h-1.3zM472.2 165.5h1.3v1.3h-1.3zM473.4 177.2h1.3v1.3h-1.3zM476.0 177.2h1.3v1.3h-1.3zM476.5 175.4h1.3v1.3h-1.3zM478.7 166.3h1.3v1.3h-1.3zM482.1 155.9h1.3v1.3h-1.3zM483.1 149.3h1.3v1.3h-1.3zM487.9 158.1h1.3v1.3h-1.3zM490.1 172.6h1.3v1.3h-1.3zM491.8 179.9h1.3v1.3h-1.3zM492.3 178.1h1.3v1.3h-1.3zM493.8 169.0h1.3v1.3h-1.3zM495.4 159.9h1.3v1.3h-1.3zM497.8 156.7h1.3v1.3h-1.3zM498.7 153.7h1.3v1.3h-1.3zM499.5 148.8h1.3v1.3h-1.3zM499.8 147.2h1.3v1.3h-1.3zM501.3 145.0h1.3v1.3h-1.3zM501.6 146.9h1.3v1.3h-1.3zM508.1 160.8h1.3v1.3h-1.3zM509.4 159.9h1.3v1.3h-1.3zM511.8 164.3h1.3v1.3h-1.3zM512.6 156.5h1.3v1.3h-1.3zM515.6 155.3h1.3v1.3h-1.3zM520.9 175.8h1.3v1.3h-1.3zM522.2 166.3h1.3v1.3h-1.3zM522.5 164.6h1.3v1.3h-1.3zM523.2 159.7h1.3v1.3h-1.3zM523.5 158.1h1.3v1.3h-1.3zM526.8 148.5h1.3v1.3h-1.3zM528.1 145.8h1.3v1.3h-1.3zM535.6 167.2h1.3v1.3h-1.3zM535.8 165.4h1.3v1.3h-1.3zM536.3 161.7h1.3v1.3h-1.3zM536.5 159.9h1.3v1.3h-1.3zM538.5 157.2h1.3v1.3h-1.3zM543.5 161.7h1.3v1.3h-1.3zM545.3 147.2h1.3v1.3h-1.3zM545.9 141.7h1.3v1.3h-1.3zM549.2 151.7h1.3v1.3h-1.3zM549.7 159.0h1.3v1.3h-1.3zM551.6 170.8h1.3v1.3h-1.3zM553.2 175.8h1.3v1.3h-1.3zM558.5 173.1h1.3v1.3h-1.3zM561.3 172.6h1.3v1.3h-1.3zM568.4 171.7h1.3v1.3h-1.3zM568.6 170.1h1.3v1.3h-1.3zM568.9 168.4h1.3v1.3h-1.3zM571.9 164.4h1.3v1.3h-1.3zM573.0 167.6h1.3v1.3h-1.3zM575.0 171.7h1.3v1.3h-1.3zM579.4 165.4h1.3v1.3h-1.3zM580.2 169.0h1.3v1.3h-1.3zM582.4 175.4h1.3v1.3h-1.3zM584.2 182.6h1.3v1.3h-1.3zM585.1 185.4h1.3v1.3h-1.3zM585.5 186.7h1.3v1.3h-1.3zM585.8 188.4h1.3v1.3h-1.3zM588.4 189.2h1.3v1.3h-1.3zM590.5 176.1h1.3v1.3h-1.3zM591.0 172.6h1.3v1.3h-1.3zM591.2 170.8h1.3v1.3h-1.3zM591.4 169.0h1.3v1.3h-1.3zM591.7 167.2h1.3v1.3h-1.3zM592.8 158.1h1.3v1.3h-1.3zM593.2 154.4h1.3v1.3h-1.3zM596.7 149.2h1.3v1.3h-1.3zM598.4 159.2h1.3v1.3h-1.3zM604.0 174.5h1.3v1.3h-1.3zM610.6 174.5h1.3v1.3h-1.3zM612.8 168.1h1.3v1.3h-1.3zM622.7 164.4h1.3v1.3h-1.3zM623.6 160.8h1.3v1.3h-1.3zM624.5 157.2h1.3v1.3h-1.3zM626.7 145.8h1.3v1.3h-1.3zM627.5 143.1h1.3v1.3h-1.3zM628.0 144.4h1.3v1.3h-1.3zM629.1 149.1h1.3v1.3h-1.3zM631.5 169.0h1.3v1.3h-1.3zM636.8 182.6h1.3v1.3h-1.3zM639.4 186.7h1.3v1.3h-1.3zM640.3 184.0h1.3v1.3h-1.3zM649.1 170.4h1.3v1.3h-1.3zM649.5 169.0h1.3v1.3h-1.3zM650.0 167.6h1.3v1.3h-1.3zM651.3 169.0h1.3v1.3h-1.3zM653.9 169.0h1.3v1.3h-1.3zM654.6 167.6h1.3v1.3h-1.3zM656.8 156.3h1.3v1.3h-1.3zM657.4 150.8h1.3v1.3h-1.3zM658.3 145.8h1.3v1.3h-1.3zM658.8 144.4h1.3v1.3h-1.3zM662.5 160.8h1.3v1.3h-1.3zM662.9 164.4h1.3v1.3h-1.3zM663.2 166.3h1.3v1.3h-1.3zM667.1 179.9h1.3v1.3h-1.3zM668.4 178.5h1.3v1.3h-1.3zM670.0 175.5h1.3v1.3h-1.3zM671.1 169.0h1.3v1.3h-1.3zM675.0 145.8h1.3v1.3h-1.3zM677.4 156.4h1.3v1.3h-1.3zM679.9 167.2h1.3v1.3h-1.3zM682.3 173.1h1.3v1.3h-1.3zM685.3 165.2h1.3v1.3h-1.3zM686.5 159.9h1.3v1.3h-1.3zM687.8 154.4h1.3v1.3h-1.3zM689.5 145.8h1.3v1.3h-1.3zM691.5 157.2h1.3v1.3h-1.3zM691.7 160.8h1.3v1.3h-1.3zM692.5 167.9h1.3v1.3h-1.3zM693.5 174.5h1.3v1.3h-1.3zM699.7 175.8h1.3v1.3h-1.3zM710.7 175.8h1.3v1.3h-1.3zM712.0 174.5h1.3v1.3h-1.3zM712.5 177.7h1.3v1.3h-1.3zM713.0 181.0h1.3v1.3h-1.3zM713.3 182.6h1.3v1.3h-1.3zM715.9 188.1h1.3v1.3h-1.3zM718.6 188.1h1.3v1.3h-1.3zM719.9 189.5h1.3v1.3h-1.3zM721.6 185.4h1.3v1.3h-1.3zM722.5 182.6h1.3v1.3h-1.3zM723.4 179.0h1.3v1.3h-1.3zM724.3 175.4h1.3v1.3h-1.3zM725.8 170.4h1.3v1.3h-1.3zM727.8 174.5h1.3v1.3h-1.3zM729.1 177.2h1.3v1.3h-1.3zM735.7 169.0h1.3v1.3h-1.3zM736.4 170.4h1.3v1.3h-1.3zM743.6 169.0h1.3v1.3h-1.3zM748.4 173.9h1.3v1.3h-1.3zM748.7 175.5h1.3v1.3h-1.3zM748.9 177.2h1.3v1.3h-1.3zM758.1 182.6h1.3v1.3h-1.3zM765.4 164.9h1.3v1.3h-1.3zM767.4 169.0h1.3v1.3h-1.3zM769.2 163.0h1.3v1.3h-1.3zM770.0 158.1h1.3v1.3h-1.3zM774.0 149.9h1.3v1.3h-1.3zM774.2 151.5h1.3v1.3h-1.3zM775.3 158.1h1.3v1.3h-1.3zM777.1 168.1h1.3v1.3h-1.3zM782.6 167.6h1.3v1.3h-1.3zM783.2 166.3h1.3v1.3h-1.3zM783.7 164.4h1.3v1.3h-1.3zM784.5 160.8h1.3v1.3h-1.3zM789.8 143.1h1.3v1.3h-1.3zM795.1 172.4h1.3v1.3h-1.3zM797.7 173.8h1.3v1.3h-1.3zM800.4 175.8h1.3v1.3h-1.3z" fill="#98f060"/>
<path d="M449.2 159.9h1.3v1.3h-1.3zM450.7 154.8h1.3v1.3h-1.3zM451.7 151.5h1.3v1.3h-1.3zM455.7 163.0h1.3v1.3h-1.3zM456.7 168.1h1.3v1.3h-1.3zM460.8 159.4h1.3v1.3h-1.3zM462.4 161.7h1.3v1.3h-1.3zM464.7 165.7h1.3v1.3h-1.3zM470.2 141.7h1.3v1.3h-1.3zM470.7 147.7h1.3v1.3h-1.3zM472.6 169.4h1.3v1.3h-1.3zM473.2 175.2h1.3v1.3h-1.3zM476.9 173.5h1.3v1.3h-1.3zM477.3 171.7h1.3v1.3h-1.3zM480.6 162.2h1.3v1.3h-1.3zM482.3 154.3h1.3v1.3h-1.3zM482.9 151.0h1.3v1.3h-1.3zM485.5 140.6h1.3v1.3h-1.3zM487.7 156.3h1.3v1.3h-1.3zM494.3 165.4h1.3v1.3h-1.3zM497.1 158.1h1.3v1.3h-1.3zM498.4 155.3h1.3v1.3h-1.3zM499.0 152.1h1.3v1.3h-1.3zM505.0 159.4h1.3v1.3h-1.3zM507.7 162.2h1.3v1.3h-1.3zM508.6 159.4h1.3v1.3h-1.3zM509.0 158.1h1.3v1.3h-1.3zM509.9 161.7h1.3v1.3h-1.3zM511.0 164.9h1.3v1.3h-1.3zM512.4 158.5h1.3v1.3h-1.3zM516.5 162.6h1.3v1.3h-1.3zM516.7 164.4h1.3v1.3h-1.3zM519.5 174.5h1.3v1.3h-1.3zM523.0 161.4h1.3v1.3h-1.3zM524.8 155.3h1.3v1.3h-1.3zM531.6 149.0h1.3v1.3h-1.3zM543.7 159.9h1.3v1.3h-1.3zM544.2 156.3h1.3v1.3h-1.3zM544.4 154.4h1.3v1.3h-1.3zM545.5 145.3h1.3v1.3h-1.3zM547.5 136.8h1.3v1.3h-1.3zM550.2 162.4h1.3v1.3h-1.3zM550.9 167.4h1.3v1.3h-1.3zM563.1 175.8h1.3v1.3h-1.3zM566.4 181.3h1.3v1.3h-1.3zM569.2 166.8h1.3v1.3h-1.3zM570.3 162.2h1.3v1.3h-1.3zM574.3 170.4h1.3v1.3h-1.3zM576.7 164.4h1.3v1.3h-1.3zM583.3 179.0h1.3v1.3h-1.3zM584.6 184.0h1.3v1.3h-1.3zM587.3 193.6h1.3v1.3h-1.3zM588.7 187.6h1.3v1.3h-1.3zM589.2 184.3h1.3v1.3h-1.3zM590.8 174.5h1.3v1.3h-1.3zM591.9 165.4h1.3v1.3h-1.3zM592.5 159.9h1.3v1.3h-1.3zM593.0 156.3h1.3v1.3h-1.3zM593.4 152.6h1.3v1.3h-1.3zM597.4 152.6h1.3v1.3h-1.3zM597.9 155.9h1.3v1.3h-1.3zM599.6 164.4h1.3v1.3h-1.3zM600.0 166.3h1.3v1.3h-1.3zM602.0 170.4h1.3v1.3h-1.3zM612.3 169.9h1.3v1.3h-1.3zM619.6 169.0h1.3v1.3h-1.3zM624.9 155.3h1.3v1.3h-1.3zM634.1 174.5h1.3v1.3h-1.3zM635.5 177.2h1.3v1.3h-1.3zM635.9 179.0h1.3v1.3h-1.3zM638.1 185.4h1.3v1.3h-1.3zM640.7 182.6h1.3v1.3h-1.3zM648.7 171.7h1.3v1.3h-1.3zM653.3 170.4h1.3v1.3h-1.3zM660.7 146.2h1.3v1.3h-1.3zM661.0 148.1h1.3v1.3h-1.3zM661.2 149.9h1.3v1.3h-1.3zM662.3 159.0h1.3v1.3h-1.3zM664.0 171.2h1.3v1.3h-1.3zM664.5 174.5h1.3v1.3h-1.3zM669.8 177.2h1.3v1.3h-1.3zM671.3 167.2h1.3v1.3h-1.3zM672.0 161.7h1.3v1.3h-1.3zM672.2 159.9h1.3v1.3h-1.3zM673.1 152.6h1.3v1.3h-1.3zM673.3 150.8h1.3v1.3h-1.3zM673.5 149.0h1.3v1.3h-1.3zM675.9 148.5h1.3v1.3h-1.3zM676.9 153.2h1.3v1.3h-1.3zM680.3 169.0h1.3v1.3h-1.3zM685.1 166.8h1.3v1.3h-1.3zM686.0 161.7h1.3v1.3h-1.3zM688.2 152.6h1.3v1.3h-1.3zM688.9 149.2h1.3v1.3h-1.3zM692.7 169.5h1.3v1.3h-1.3zM693.2 172.8h1.3v1.3h-1.3zM694.8 175.8h1.3v1.3h-1.3zM720.6 188.1h1.3v1.3h-1.3zM732.4 175.8h1.3v1.3h-1.3zM735.1 170.4h1.3v1.3h-1.3zM737.5 173.1h1.3v1.3h-1.3zM741.0 171.7h1.3v1.3h-1.3zM763.4 166.3h1.3v1.3h-1.3zM766.7 167.6h1.3v1.3h-1.3zM769.0 164.6h1.3v1.3h-1.3zM780.6 171.7h1.3v1.3h-1.3zM786.3 153.5h1.3v1.3h-1.3zM790.9 150.7h1.3v1.3h-1.3zM793.3 169.9h1.3v1.3h-1.3z" fill="#f0e830"/>
<path d="M449.6 158.1h1.3v1.3h-1.3zM452.9 151.2h1.3v1.3h-1.3zM456.0 164.6h1.3v1.3h-1.3zM457.1 169.9h1.3v1.3h-1.3zM461.5 158.1h1.3v1.3h-1.3zM468.0 140.6h1.3v1.3h-1.3zM472.4 167.4h1.3v1.3h-1.3zM477.8 169.9h1.3v1.3h-1.3zM485.2 139.0h1.3v1.3h-1.3zM487.2 152.6h1.3v1.3h-1.3zM488.3 161.7h1.3v1.3h-1.3zM488.8 165.4h1.3v1.3h-1.3zM489.0 167.2h1.3v1.3h-1.3zM489.6 170.8h1.3v1.3h-1.3zM513.0 152.6h1.3v1.3h-1.3zM515.8 157.2h1.3v1.3h-1.3zM521.1 173.9h1.3v1.3h-1.3zM521.4 172.0h1.3v1.3h-1.3zM521.9 168.2h1.3v1.3h-1.3zM522.7 163.0h1.3v1.3h-1.3zM534.5 165.4h1.3v1.3h-1.3zM538.9 159.0h1.3v1.3h-1.3zM550.4 164.1h1.3v1.3h-1.3zM550.7 165.7h1.3v1.3h-1.3zM567.6 176.6h1.3v1.3h-1.3zM571.4 162.6h1.3v1.3h-1.3zM572.3 166.3h1.3v1.3h-1.3zM590.3 177.7h1.3v1.3h-1.3zM596.1 145.8h1.3v1.3h-1.3zM598.2 157.5h1.3v1.3h-1.3zM599.1 162.6h1.3v1.3h-1.3zM601.3 169.0h1.3v1.3h-1.3zM605.7 174.5h1.3v1.3h-1.3zM620.9 167.6h1.3v1.3h-1.3zM631.0 165.7h1.3v1.3h-1.3zM643.4 177.2h1.3v1.3h-1.3zM670.8 170.6h1.3v1.3h-1.3zM671.5 165.4h1.3v1.3h-1.3zM672.6 156.3h1.3v1.3h-1.3zM672.8 154.4h1.3v1.3h-1.3zM683.0 174.5h1.3v1.3h-1.3zM683.6 173.1h1.3v1.3h-1.3zM684.8 168.4h1.3v1.3h-1.3zM691.3 155.3h1.3v1.3h-1.3zM692.0 164.4h1.3v1.3h-1.3zM712.2 176.1h1.3v1.3h-1.3zM714.2 185.4h1.3v1.3h-1.3zM730.4 178.5h1.3v1.3h-1.3zM737.9 174.5h1.3v1.3h-1.3zM742.3 170.4h1.3v1.3h-1.3zM747.6 169.0h1.3v1.3h-1.3zM756.8 179.9h1.3v1.3h-1.3zM761.7 170.8h1.3v1.3h-1.3zM770.9 154.4h1.3v1.3h-1.3zM772.7 147.2h1.3v1.3h-1.3zM775.0 156.4h1.3v1.3h-1.3zM776.6 166.3h1.3v1.3h-1.3zM777.9 171.7h1.3v1.3h-1.3zM788.5 144.4h1.3v1.3h-1.3zM790.6 148.8h1.3v1.3h-1.3z" fill="#ff9020"/>
<path d="M466.9 149.9h1.3v1.3h-1.3zM467.1 148.1h1.3v1.3h-1.3zM489.2 169.0h1.3v1.3h-1.3zM501.9 148.8h1.3v1.3h-1.3zM542.0 171.7h1.3v1.3h-1.3zM544.8 150.8h1.3v1.3h-1.3zM549.5 155.3h1.3v1.3h-1.3zM553.8 177.2h1.3v1.3h-1.3zM580.9 170.4h1.3v1.3h-1.3zM626.2 147.2h1.3v1.3h-1.3zM627.1 144.4h1.3v1.3h-1.3zM629.8 156.9h1.3v1.3h-1.3zM633.5 173.1h1.3v1.3h-1.3zM655.2 166.3h1.3v1.3h-1.3zM657.7 149.0h1.3v1.3h-1.3zM659.2 143.1h1.3v1.3h-1.3zM687.3 156.3h1.3v1.3h-1.3zM688.6 150.9h1.3v1.3h-1.3zM691.9 162.6h1.3v1.3h-1.3zM709.3 177.2h1.3v1.3h-1.3zM724.7 173.5h1.3v1.3h-1.3zM747.9 170.6h1.3v1.3h-1.3zM750.9 178.5h1.3v1.3h-1.3zM777.5 169.9h1.3v1.3h-1.3zM787.6 148.1h1.3v1.3h-1.3zM790.1 145.0h1.3v1.3h-1.3z" fill="#e83018"/>
<path d="M446.3 158.7L447.6 169.6L449.0 180.6L450.3 186.0L452.9 191.5L455.0 194.2L456.9 188.8L458.2 180.6L459.5 169.6L460.8 164.2L462.2 166.9L463.5 156.0L464.8 142.3L466.1 153.3L467.4 175.1L468.7 187.4L470.1 186.0L471.4 180.6L472.7 176.5L474.0 172.4L475.3 169.6L476.7 171.0L478.0 169.1L479.3 169.6L480.6 166.9L481.9 164.2L483.3 166.9L484.6 172.4L485.9 177.8L487.2 183.3L488.5 186.0L489.9 186.0L491.2 183.3L492.5 180.6L493.8 172.4L495.1 166.9L496.5 161.5L497.8 158.7L499.1 154.6L500.4 156.0L501.7 164.2L503.0 172.4L504.4 177.8L505.7 180.6L507.0 183.3L508.3 184.7L509.6 186.0L511.0 187.4L512.3 186.0L513.6 180.6L514.9 169.6L516.2 161.5L517.6 156.0L518.9 153.3L520.2 149.2L521.5 156.0L522.8 166.9L524.2 175.1L525.5 180.6L526.8 186.0L528.1 187.4L529.4 187.4L532.1 188.8L533.4 180.6L534.7 175.1L536.0 173.7L537.3 180.6L538.7 179.2L540.0 177.8L541.3 175.1L542.6 173.7L543.9 169.6L545.3 172.4L546.6 180.6L547.9 186.0L549.2 188.8L550.5 190.1L551.9 186.0L553.2 175.1L554.5 164.2L555.8 153.3L557.1 150.5L558.5 153.3L559.8 161.5L561.1 166.9L562.4 158.7L563.7 147.8L565.1 143.7L566.4 150.5L567.7 166.9L569.0 172.4L570.3 175.1L571.6 169.6L574.3 164.2L576.9 156.0L579.6 147.8L582.2 153.3L584.8 166.9L586.2 180.6L587.5 188.8L588.8 177.8L590.1 172.4L591.4 166.9L592.8 161.5L595.4 166.9L598.0 169.6L600.7 177.8L603.3 186.0L604.6 180.6L605.9 175.1L607.3 172.4L608.6 169.6L610.7 153.3L611.8 139.6L612.8 142.3L613.9 161.5L615.2 172.4L616.5 175.1L615.0 154.6L616.3 161.5L617.6 172.4L619.0 180.6L620.3 187.4L621.6 190.1L622.9 186.0L624.2 175.1L625.6 169.6L626.9 166.9L628.2 164.2L629.5 166.9L630.8 165.5L632.2 164.2L633.5 169.6L634.8 180.6L636.1 177.8L637.4 169.6L638.7 161.5L640.1 153.3L641.4 150.5L642.7 145.1L644.0 143.7L645.3 153.3L646.7 166.9L648.0 169.6L649.3 166.9L650.6 161.5L651.9 157.4L653.3 156.0L654.6 161.5L655.9 169.6L657.2 177.8L658.5 186.0L659.9 191.5L661.2 195.6L662.5 196.4L663.8 195.6L665.1 192.8L666.5 188.8L667.8 183.3L669.1 175.1L670.4 166.9L671.7 161.5L673.0 158.7L674.4 166.9L675.7 175.1L677.0 180.6L678.3 184.7L679.6 187.4L681.0 183.3L682.3 177.8L683.6 183.3L684.9 180.6L686.2 175.1L687.6 169.6L688.9 164.2L690.2 158.7L691.5 156.0L692.8 160.1L694.2 166.9L695.5 177.8L696.8 186.0L698.1 188.8L699.4 187.4L700.8 183.3L702.1 177.8L703.4 169.6L704.7 158.7L706.0 150.5L707.3 145.1L708.7 145.1L710.0 153.3L711.3 164.2L712.6 172.4L713.9 177.8L715.3 183.3L716.6 180.6L717.9 172.4L719.2 161.5L720.5 153.3L721.9 150.0L723.2 149.2L724.5 150.5L725.8 158.7L727.1 153.3L728.5 149.2L729.8 150.5L731.1 158.7L732.4 166.9L733.7 172.4L735.1 183.3L736.4 186.0L737.7 177.8L739.0 166.9L740.3 156.0L741.6 150.5L743.0 153.3L744.3 158.7L745.6 164.2L746.9 166.9L748.2 164.2L749.6 158.7L750.9 153.3L752.2 150.5L754.8 147.8L757.5 150.5L758.8 158.7L760.1 164.2L761.4 172.4L762.8 175.1L764.1 169.6L765.4 164.2L766.7 161.5L768.0 166.9L769.4 172.4L770.7 180.6L772.0 186.0L773.3 187.4L775.9 187.4L778.6 186.0L779.9 187.4L781.2 183.3L783.9 175.1L785.2 166.9L786.5 161.5L787.8 158.7L789.1 164.2L790.5 172.4L791.8 177.8L794.4 186.0L797.1 192.8L799.7 198.3L802.3 203.8" stroke="#2a58ff" stroke-width="1.6" fill="none" stroke-linejoin="round" stroke-dasharray="3 1 2 0.8" opacity="0.85"/>
<path d="M446.3 158.7L447.6 169.6L449.0 180.6L450.3 186.0L452.9 191.5L455.0 194.2L456.9 188.8L458.2 180.6L459.5 169.6L460.8 164.2L462.2 166.9L463.5 156.0L464.8 142.3L466.1 153.3L467.4 175.1L468.7 187.4L470.1 186.0L471.4 180.6L472.7 176.5L474.0 172.4L475.3 169.6L476.7 171.0L478.0 169.1L479.3 169.6L480.6 166.9L481.9 164.2L483.3 166.9L484.6 172.4L485.9 177.8L487.2 183.3L488.5 186.0L489.9 186.0L491.2 183.3L492.5 180.6L493.8 172.4L495.1 166.9L496.5 161.5L497.8 158.7L499.1 154.6L500.4 156.0L501.7 164.2L503.0 172.4L504.4 177.8L505.7 180.6L507.0 183.3L508.3 184.7L509.6 186.0L511.0 187.4L512.3 186.0L513.6 180.6L514.9 169.6L516.2 161.5L517.6 156.0L518.9 153.3L520.2 149.2L521.5 156.0L522.8 166.9L524.2 175.1L525.5 180.6L526.8 186.0L528.1 187.4L529.4 187.4L532.1 188.8L533.4 180.6L534.7 175.1L536.0 173.7L537.3 180.6L538.7 179.2L540.0 177.8L541.3 175.1L542.6 173.7L543.9 169.6L545.3 172.4L546.6 180.6L547.9 186.0L549.2 188.8L550.5 190.1L551.9 186.0L553.2 175.1L554.5 164.2L555.8 153.3L557.1 150.5L558.5 153.3L559.8 161.5L561.1 166.9L562.4 158.7L563.7 147.8L565.1 143.7L566.4 150.5L567.7 166.9L569.0 172.4L570.3 175.1L571.6 169.6L574.3 164.2L576.9 156.0L579.6 147.8L582.2 153.3L584.8 166.9L586.2 180.6L587.5 188.8L588.8 177.8L590.1 172.4L591.4 166.9L592.8 161.5L595.4 166.9L598.0 169.6L600.7 177.8L603.3 186.0L604.6 180.6L605.9 175.1L607.3 172.4L608.6 169.6L610.7 153.3L611.8 139.6L612.8 142.3L613.9 161.5L615.2 172.4L616.5 175.1L615.0 154.6L616.3 161.5L617.6 172.4L619.0 180.6L620.3 187.4L621.6 190.1L622.9 186.0L624.2 175.1L625.6 169.6L626.9 166.9L628.2 164.2L629.5 166.9L630.8 165.5L632.2 164.2L633.5 169.6L634.8 180.6L636.1 177.8L637.4 169.6L638.7 161.5L640.1 153.3L641.4 150.5L642.7 145.1L644.0 143.7L645.3 153.3L646.7 166.9L648.0 169.6L649.3 166.9L650.6 161.5L651.9 157.4L653.3 156.0L654.6 161.5L655.9 169.6L657.2 177.8L658.5 186.0L659.9 191.5L661.2 195.6L662.5 196.4L663.8 195.6L665.1 192.8L666.5 188.8L667.8 183.3L669.1 175.1L670.4 166.9L671.7 161.5L673.0 158.7L674.4 166.9L675.7 175.1L677.0 180.6L678.3 184.7L679.6 187.4L681.0 183.3L682.3 177.8L683.6 183.3L684.9 180.6L686.2 175.1L687.6 169.6L688.9 164.2L690.2 158.7L691.5 156.0L692.8 160.1L694.2 166.9L695.5 177.8L696.8 186.0L698.1 188.8L699.4 187.4L700.8 183.3L702.1 177.8L703.4 169.6L704.7 158.7L706.0 150.5L707.3 145.1L708.7 145.1L710.0 153.3L711.3 164.2L712.6 172.4L713.9 177.8L715.3 183.3L716.6 180.6L717.9 172.4L719.2 161.5L720.5 153.3L721.9 150.0L723.2 149.2L724.5 150.5L725.8 158.7L727.1 153.3L728.5 149.2L729.8 150.5L731.1 158.7L732.4 166.9L733.7 172.4L735.1 183.3L736.4 186.0L737.7 177.8L739.0 166.9L740.3 156.0L741.6 150.5L743.0 153.3L744.3 158.7L745.6 164.2L746.9 166.9L748.2 164.2L749.6 158.7L750.9 153.3L752.2 150.5L754.8 147.8L757.5 150.5L758.8 158.7L760.1 164.2L761.4 172.4L762.8 175.1L764.1 169.6L765.4 164.2L766.7 161.5L768.0 166.9L769.4 172.4L770.7 180.6L772.0 186.0L773.3 187.4L775.9 187.4L778.6 186.0L779.9 187.4L781.2 183.3L783.9 175.1L785.2 166.9L786.5 161.5L787.8 158.7L789.1 164.2L790.5 172.4L791.8 177.8L794.4 186.0L797.1 192.8L799.7 198.3L802.3 203.8" stroke="#34e2ee" stroke-width="1.0" fill="none" stroke-linejoin="round" stroke-dasharray="2.5 1.5 1.5 1"/>
<path d="M445.7 158.1h1.3v1.3h-1.3zM446.3 163.5h1.3v1.3h-1.3zM446.8 167.2h1.3v1.3h-1.3zM447.0 169.0h1.3v1.3h-1.3zM447.4 172.6h1.3v1.3h-1.3zM449.2 183.6h1.3v1.3h-1.3zM449.6 185.4h1.3v1.3h-1.3zM453.3 192.2h1.3v1.3h-1.3zM455.0 191.7h1.3v1.3h-1.3zM458.2 174.5h1.3v1.3h-1.3zM463.8 145.6h1.3v1.3h-1.3zM464.1 141.7h1.3v1.3h-1.3zM464.4 143.5h1.3v1.3h-1.3zM464.8 147.2h1.3v1.3h-1.3zM465.2 150.8h1.3v1.3h-1.3zM465.9 160.6h1.3v1.3h-1.3zM466.3 166.5h1.3v1.3h-1.3zM466.4 168.5h1.3v1.3h-1.3zM466.8 174.5h1.3v1.3h-1.3zM467.0 176.2h1.3v1.3h-1.3zM471.2 178.5h1.3v1.3h-1.3zM472.1 175.8h1.3v1.3h-1.3zM472.5 174.5h1.3v1.3h-1.3zM472.9 173.1h1.3v1.3h-1.3zM473.4 171.7h1.3v1.3h-1.3zM474.0 170.4h1.3v1.3h-1.3zM476.7 169.4h1.3v1.3h-1.3zM477.3 168.4h1.3v1.3h-1.3zM481.3 163.5h1.3v1.3h-1.3zM481.9 164.9h1.3v1.3h-1.3zM483.0 168.1h1.3v1.3h-1.3zM486.6 182.6h1.3v1.3h-1.3zM489.9 184.0h1.3v1.3h-1.3zM493.2 171.7h1.3v1.3h-1.3zM493.6 169.9h1.3v1.3h-1.3zM496.5 159.4h1.3v1.3h-1.3zM497.1 158.1h1.3v1.3h-1.3zM502.8 173.5h1.3v1.3h-1.3zM504.4 178.5h1.3v1.3h-1.3zM511.6 185.4h1.3v1.3h-1.3zM513.8 172.6h1.3v1.3h-1.3zM514.1 170.8h1.3v1.3h-1.3zM514.5 167.4h1.3v1.3h-1.3zM515.1 164.1h1.3v1.3h-1.3zM518.2 152.6h1.3v1.3h-1.3zM518.7 151.2h1.3v1.3h-1.3zM519.5 148.5h1.3v1.3h-1.3zM521.5 160.8h1.3v1.3h-1.3zM531.9 184.8h1.3v1.3h-1.3zM532.2 183.2h1.3v1.3h-1.3zM532.5 181.6h1.3v1.3h-1.3zM540.0 175.8h1.3v1.3h-1.3zM542.0 173.1h1.3v1.3h-1.3zM543.3 169.0h1.3v1.3h-1.3zM545.7 178.3h1.3v1.3h-1.3zM546.4 181.7h1.3v1.3h-1.3zM547.9 186.7h1.3v1.3h-1.3zM550.8 186.7h1.3v1.3h-1.3zM551.4 183.6h1.3v1.3h-1.3zM553.4 167.2h1.3v1.3h-1.3zM553.8 163.5h1.3v1.3h-1.3zM554.1 161.7h1.3v1.3h-1.3zM554.3 159.9h1.3v1.3h-1.3zM554.9 154.4h1.3v1.3h-1.3zM555.2 152.6h1.3v1.3h-1.3zM557.1 151.2h1.3v1.3h-1.3zM561.0 163.0h1.3v1.3h-1.3zM561.2 161.4h1.3v1.3h-1.3zM561.8 158.1h1.3v1.3h-1.3zM562.6 150.8h1.3v1.3h-1.3zM562.9 149.0h1.3v1.3h-1.3zM563.1 147.2h1.3v1.3h-1.3zM565.1 146.5h1.3v1.3h-1.3zM565.4 148.2h1.3v1.3h-1.3zM566.2 155.3h1.3v1.3h-1.3zM566.3 157.2h1.3v1.3h-1.3zM566.5 159.0h1.3v1.3h-1.3zM566.6 160.8h1.3v1.3h-1.3zM569.0 173.1h1.3v1.3h-1.3zM578.9 147.2h1.3v1.3h-1.3zM579.6 148.5h1.3v1.3h-1.3zM584.8 172.1h1.3v1.3h-1.3zM587.1 186.3h1.3v1.3h-1.3zM587.7 180.8h1.3v1.3h-1.3zM591.7 162.6h1.3v1.3h-1.3zM593.4 163.5h1.3v1.3h-1.3zM601.1 180.5h1.3v1.3h-1.3zM602.7 185.4h1.3v1.3h-1.3zM603.1 183.6h1.3v1.3h-1.3zM606.6 171.7h1.3v1.3h-1.3zM608.2 167.2h1.3v1.3h-1.3zM608.4 165.4h1.3v1.3h-1.3zM609.1 159.9h1.3v1.3h-1.3zM609.6 156.3h1.3v1.3h-1.3zM612.4 145.5h1.3v1.3h-1.3zM612.6 149.3h1.3v1.3h-1.3zM612.7 151.2h1.3v1.3h-1.3zM613.2 160.8h1.3v1.3h-1.3zM613.4 162.6h1.3v1.3h-1.3zM614.5 171.7h1.3v1.3h-1.3zM615.2 173.1h1.3v1.3h-1.3zM615.9 174.5h1.3v1.3h-1.3zM615.7 172.6h1.3v1.3h-1.3zM615.2 165.1h1.3v1.3h-1.3zM614.9 161.4h1.3v1.3h-1.3zM614.8 159.6h1.3v1.3h-1.3zM615.0 157.4h1.3v1.3h-1.3zM615.3 159.1h1.3v1.3h-1.3zM616.3 166.3h1.3v1.3h-1.3zM617.5 175.0h1.3v1.3h-1.3zM619.0 183.3h1.3v1.3h-1.3zM623.4 176.3h1.3v1.3h-1.3zM624.5 170.8h1.3v1.3h-1.3zM626.2 166.3h1.3v1.3h-1.3zM627.5 163.5h1.3v1.3h-1.3zM632.4 167.2h1.3v1.3h-1.3zM633.3 172.6h1.3v1.3h-1.3zM633.9 178.1h1.3v1.3h-1.3zM635.5 177.2h1.3v1.3h-1.3zM635.7 175.5h1.3v1.3h-1.3zM637.6 164.1h1.3v1.3h-1.3zM638.6 157.5h1.3v1.3h-1.3zM639.4 152.6h1.3v1.3h-1.3zM640.7 149.9h1.3v1.3h-1.3zM641.2 148.1h1.3v1.3h-1.3zM644.2 148.8h1.3v1.3h-1.3zM645.1 156.5h1.3v1.3h-1.3zM645.3 158.5h1.3v1.3h-1.3zM645.4 160.4h1.3v1.3h-1.3zM646.0 166.3h1.3v1.3h-1.3zM648.0 167.6h1.3v1.3h-1.3zM649.5 162.6h1.3v1.3h-1.3zM650.4 159.4h1.3v1.3h-1.3zM652.6 155.3h1.3v1.3h-1.3zM654.2 162.4h1.3v1.3h-1.3zM655.2 169.0h1.3v1.3h-1.3zM656.6 177.2h1.3v1.3h-1.3zM657.6 183.7h1.3v1.3h-1.3zM661.8 195.7h1.3v1.3h-1.3zM663.8 193.6h1.3v1.3h-1.3zM664.9 190.8h1.3v1.3h-1.3zM667.1 182.6h1.3v1.3h-1.3zM667.9 177.7h1.3v1.3h-1.3zM670.6 162.6h1.3v1.3h-1.3zM671.1 160.8h1.3v1.3h-1.3zM672.7 159.7h1.3v1.3h-1.3zM674.2 169.5h1.3v1.3h-1.3zM675.5 176.3h1.3v1.3h-1.3zM675.9 178.1h1.3v1.3h-1.3zM678.3 185.4h1.3v1.3h-1.3zM680.8 180.8h1.3v1.3h-1.3zM681.2 179.0h1.3v1.3h-1.3zM682.5 180.8h1.3v1.3h-1.3zM683.6 181.3h1.3v1.3h-1.3zM685.2 176.3h1.3v1.3h-1.3zM686.5 170.8h1.3v1.3h-1.3zM687.3 167.2h1.3v1.3h-1.3zM688.7 161.7h1.3v1.3h-1.3zM690.2 156.7h1.3v1.3h-1.3zM691.3 156.7h1.3v1.3h-1.3zM693.2 164.6h1.3v1.3h-1.3zM694.6 175.4h1.3v1.3h-1.3zM696.1 185.4h1.3v1.3h-1.3zM701.4 177.2h1.3v1.3h-1.3zM702.2 172.3h1.3v1.3h-1.3zM702.7 169.0h1.3v1.3h-1.3zM704.9 153.2h1.3v1.3h-1.3zM705.8 148.1h1.3v1.3h-1.3zM708.8 149.3h1.3v1.3h-1.3zM709.1 151.0h1.3v1.3h-1.3zM709.3 152.6h1.3v1.3h-1.3zM715.3 181.3h1.3v1.3h-1.3zM717.3 171.7h1.3v1.3h-1.3zM717.7 168.1h1.3v1.3h-1.3zM717.9 166.3h1.3v1.3h-1.3zM725.2 158.1h1.3v1.3h-1.3zM729.1 149.9h1.3v1.3h-1.3zM729.4 151.5h1.3v1.3h-1.3zM730.4 158.1h1.3v1.3h-1.3zM731.0 161.4h1.3v1.3h-1.3zM731.2 163.0h1.3v1.3h-1.3zM731.5 164.6h1.3v1.3h-1.3zM733.5 175.4h1.3v1.3h-1.3zM734.4 182.6h1.3v1.3h-1.3zM737.3 175.4h1.3v1.3h-1.3zM738.1 168.1h1.3v1.3h-1.3zM739.2 159.0h1.3v1.3h-1.3zM739.5 157.2h1.3v1.3h-1.3zM743.6 158.1h1.3v1.3h-1.3zM744.1 159.9h1.3v1.3h-1.3zM749.8 154.4h1.3v1.3h-1.3zM754.2 147.2h1.3v1.3h-1.3zM760.0 166.8h1.3v1.3h-1.3zM760.8 171.7h1.3v1.3h-1.3zM762.1 174.5h1.3v1.3h-1.3zM762.5 172.6h1.3v1.3h-1.3zM768.3 169.9h1.3v1.3h-1.3zM768.7 171.7h1.3v1.3h-1.3zM770.5 181.7h1.3v1.3h-1.3zM771.3 185.4h1.3v1.3h-1.3zM772.7 186.7h1.3v1.3h-1.3zM774.0 186.7h1.3v1.3h-1.3zM776.6 186.1h1.3v1.3h-1.3zM780.6 182.6h1.3v1.3h-1.3zM783.5 172.8h1.3v1.3h-1.3zM787.2 158.1h1.3v1.3h-1.3zM789.8 171.7h1.3v1.3h-1.3zM791.1 177.2h1.3v1.3h-1.3zM793.2 183.7h1.3v1.3h-1.3zM796.4 192.2h1.3v1.3h-1.3zM799.0 197.7h1.3v1.3h-1.3zM801.0 201.8h1.3v1.3h-1.3z" fill="#98f060"/>
<path d="M446.1 161.7h1.3v1.3h-1.3zM450.9 188.1h1.3v1.3h-1.3zM452.3 190.8h1.3v1.3h-1.3zM454.4 193.6h1.3v1.3h-1.3zM457.0 183.2h1.3v1.3h-1.3zM458.6 170.8h1.3v1.3h-1.3zM458.9 169.0h1.3v1.3h-1.3zM460.8 164.9h1.3v1.3h-1.3zM463.0 153.4h1.3v1.3h-1.3zM464.6 145.3h1.3v1.3h-1.3zM471.6 177.2h1.3v1.3h-1.3zM484.4 173.5h1.3v1.3h-1.3zM484.8 175.4h1.3v1.3h-1.3zM487.2 184.0h1.3v1.3h-1.3zM492.9 173.4h1.3v1.3h-1.3zM494.0 168.1h1.3v1.3h-1.3zM497.6 156.7h1.3v1.3h-1.3zM500.6 160.3h1.3v1.3h-1.3zM501.9 168.4h1.3v1.3h-1.3zM510.3 186.7h1.3v1.3h-1.3zM520.5 153.6h1.3v1.3h-1.3zM521.3 159.0h1.3v1.3h-1.3zM523.0 171.2h1.3v1.3h-1.3zM530.1 187.4h1.3v1.3h-1.3zM534.1 174.5h1.3v1.3h-1.3zM536.7 179.9h1.3v1.3h-1.3zM542.4 171.7h1.3v1.3h-1.3zM542.9 170.4h1.3v1.3h-1.3zM544.0 170.4h1.3v1.3h-1.3zM545.9 179.9h1.3v1.3h-1.3zM553.0 170.8h1.3v1.3h-1.3zM554.5 158.1h1.3v1.3h-1.3zM554.7 156.3h1.3v1.3h-1.3zM555.8 151.2h1.3v1.3h-1.3zM558.3 155.9h1.3v1.3h-1.3zM558.9 159.2h1.3v1.3h-1.3zM561.5 159.7h1.3v1.3h-1.3zM566.0 153.5h1.3v1.3h-1.3zM570.1 172.6h1.3v1.3h-1.3zM574.2 161.9h1.3v1.3h-1.3zM584.6 170.2h1.3v1.3h-1.3zM584.9 174.1h1.3v1.3h-1.3zM585.1 176.0h1.3v1.3h-1.3zM585.8 181.6h1.3v1.3h-1.3zM587.3 184.5h1.3v1.3h-1.3zM587.5 182.6h1.3v1.3h-1.3zM587.9 179.0h1.3v1.3h-1.3zM589.0 173.5h1.3v1.3h-1.3zM594.7 166.3h1.3v1.3h-1.3zM596.1 167.6h1.3v1.3h-1.3zM604.0 179.9h1.3v1.3h-1.3zM611.1 139.0h1.3v1.3h-1.3zM613.0 157.0h1.3v1.3h-1.3zM613.1 158.9h1.3v1.3h-1.3zM614.5 155.8h1.3v1.3h-1.3zM619.3 185.0h1.3v1.3h-1.3zM622.7 181.7h1.3v1.3h-1.3zM623.6 174.5h1.3v1.3h-1.3zM638.9 155.9h1.3v1.3h-1.3zM644.9 154.6h1.3v1.3h-1.3zM653.5 159.0h1.3v1.3h-1.3zM655.0 167.4h1.3v1.3h-1.3zM655.5 170.6h1.3v1.3h-1.3zM657.9 185.4h1.3v1.3h-1.3zM663.2 194.9h1.3v1.3h-1.3zM665.4 189.5h1.3v1.3h-1.3zM667.4 181.0h1.3v1.3h-1.3zM668.2 176.1h1.3v1.3h-1.3zM669.8 166.3h1.3v1.3h-1.3zM670.2 164.4h1.3v1.3h-1.3zM679.9 184.0h1.3v1.3h-1.3zM681.6 177.2h1.3v1.3h-1.3zM683.0 182.6h1.3v1.3h-1.3zM685.6 174.5h1.3v1.3h-1.3zM688.2 163.5h1.3v1.3h-1.3zM694.2 171.7h1.3v1.3h-1.3zM694.4 173.5h1.3v1.3h-1.3zM695.4 180.5h1.3v1.3h-1.3zM701.0 179.0h1.3v1.3h-1.3zM702.5 170.6h1.3v1.3h-1.3zM703.0 167.2h1.3v1.3h-1.3zM703.4 163.5h1.3v1.3h-1.3zM704.1 158.1h1.3v1.3h-1.3zM705.4 149.9h1.3v1.3h-1.3zM706.3 146.2h1.3v1.3h-1.3zM708.0 144.4h1.3v1.3h-1.3zM709.6 154.4h1.3v1.3h-1.3zM709.8 156.3h1.3v1.3h-1.3zM710.0 158.1h1.3v1.3h-1.3zM710.7 163.5h1.3v1.3h-1.3zM714.2 180.8h1.3v1.3h-1.3zM716.7 175.0h1.3v1.3h-1.3zM718.8 159.2h1.3v1.3h-1.3zM719.1 157.5h1.3v1.3h-1.3zM724.9 156.4h1.3v1.3h-1.3zM726.5 152.6h1.3v1.3h-1.3zM729.9 154.8h1.3v1.3h-1.3zM732.6 169.9h1.3v1.3h-1.3zM733.7 177.2h1.3v1.3h-1.3zM735.1 184.0h1.3v1.3h-1.3zM736.0 183.7h1.3v1.3h-1.3zM737.0 177.2h1.3v1.3h-1.3zM737.5 173.5h1.3v1.3h-1.3zM737.7 171.7h1.3v1.3h-1.3zM744.5 161.7h1.3v1.3h-1.3zM746.9 164.9h1.3v1.3h-1.3zM747.6 163.5h1.3v1.3h-1.3zM748.5 159.9h1.3v1.3h-1.3zM750.2 152.6h1.3v1.3h-1.3zM759.5 163.5h1.3v1.3h-1.3zM764.7 163.5h1.3v1.3h-1.3zM770.9 183.6h1.3v1.3h-1.3zM781.1 181.0h1.3v1.3h-1.3zM781.6 179.4h1.3v1.3h-1.3zM783.7 171.2h1.3v1.3h-1.3zM784.3 167.9h1.3v1.3h-1.3zM785.4 162.6h1.3v1.3h-1.3zM788.5 163.5h1.3v1.3h-1.3zM788.8 165.2h1.3v1.3h-1.3z" fill="#f0e830"/>
<path d="M447.2 170.8h1.3v1.3h-1.3zM448.7 181.7h1.3v1.3h-1.3zM456.5 186.5h1.3v1.3h-1.3zM465.0 149.0h1.3v1.3h-1.3zM466.1 162.5h1.3v1.3h-1.3zM469.4 185.4h1.3v1.3h-1.3zM474.7 169.0h1.3v1.3h-1.3zM478.7 169.0h1.3v1.3h-1.3zM494.9 164.4h1.3v1.3h-1.3zM502.1 170.1h1.3v1.3h-1.3zM505.0 179.9h1.3v1.3h-1.3zM506.4 182.6h1.3v1.3h-1.3zM513.4 176.3h1.3v1.3h-1.3zM514.8 165.7h1.3v1.3h-1.3zM516.0 159.0h1.3v1.3h-1.3zM535.7 174.8h1.3v1.3h-1.3zM546.8 183.6h1.3v1.3h-1.3zM552.3 176.3h1.3v1.3h-1.3zM552.5 174.5h1.3v1.3h-1.3zM558.1 154.3h1.3v1.3h-1.3zM560.0 164.4h1.3v1.3h-1.3zM562.0 156.3h1.3v1.3h-1.3zM571.0 169.0h1.3v1.3h-1.3zM580.2 149.9h1.3v1.3h-1.3zM583.1 160.4h1.3v1.3h-1.3zM590.3 168.1h1.3v1.3h-1.3zM594.1 164.9h1.3v1.3h-1.3zM597.9 170.6h1.3v1.3h-1.3zM600.0 177.2h1.3v1.3h-1.3zM604.9 176.3h1.3v1.3h-1.3zM608.6 163.5h1.3v1.3h-1.3zM608.9 161.7h1.3v1.3h-1.3zM614.1 168.1h1.3v1.3h-1.3zM622.9 179.9h1.3v1.3h-1.3zM636.2 172.3h1.3v1.3h-1.3zM637.3 165.7h1.3v1.3h-1.3zM638.1 160.8h1.3v1.3h-1.3zM649.1 164.4h1.3v1.3h-1.3zM653.0 157.2h1.3v1.3h-1.3zM658.8 189.0h1.3v1.3h-1.3zM669.5 167.9h1.3v1.3h-1.3zM673.5 164.6h1.3v1.3h-1.3zM677.7 184.0h1.3v1.3h-1.3zM684.3 179.9h1.3v1.3h-1.3zM692.2 159.4h1.3v1.3h-1.3zM692.5 161.1h1.3v1.3h-1.3zM699.2 185.4h1.3v1.3h-1.3zM699.7 184.0h1.3v1.3h-1.3zM703.8 159.9h1.3v1.3h-1.3zM710.9 165.2h1.3v1.3h-1.3zM711.2 166.8h1.3v1.3h-1.3zM716.2 178.3h1.3v1.3h-1.3zM716.5 176.6h1.3v1.3h-1.3zM719.6 154.3h1.3v1.3h-1.3zM724.1 151.5h1.3v1.3h-1.3zM726.0 154.4h1.3v1.3h-1.3zM733.3 173.5h1.3v1.3h-1.3zM736.2 182.1h1.3v1.3h-1.3zM736.8 178.8h1.3v1.3h-1.3zM741.0 149.9h1.3v1.3h-1.3zM749.4 156.3h1.3v1.3h-1.3zM752.9 148.5h1.3v1.3h-1.3zM760.5 170.1h1.3v1.3h-1.3zM761.4 173.1h1.3v1.3h-1.3zM765.4 162.2h1.3v1.3h-1.3zM766.9 164.4h1.3v1.3h-1.3zM782.7 176.1h1.3v1.3h-1.3zM783.2 174.5h1.3v1.3h-1.3zM785.9 160.8h1.3v1.3h-1.3zM786.5 159.4h1.3v1.3h-1.3zM790.3 173.5h1.3v1.3h-1.3zM790.7 175.4h1.3v1.3h-1.3zM791.7 178.8h1.3v1.3h-1.3zM792.7 182.1h1.3v1.3h-1.3zM797.1 193.6h1.3v1.3h-1.3z" fill="#ff9020"/>
<path d="M448.3 179.9h1.3v1.3h-1.3zM458.0 176.3h1.3v1.3h-1.3zM536.4 178.2h1.3v1.3h-1.3zM544.9 173.4h1.3v1.3h-1.3zM563.5 145.8h1.3v1.3h-1.3zM564.7 144.8h1.3v1.3h-1.3zM590.8 166.3h1.3v1.3h-1.3zM607.3 170.4h1.3v1.3h-1.3zM615.7 160.8h1.3v1.3h-1.3zM637.0 167.4h1.3v1.3h-1.3zM640.1 151.2h1.3v1.3h-1.3zM645.6 162.4h1.3v1.3h-1.3zM645.8 164.3h1.3v1.3h-1.3zM665.8 188.1h1.3v1.3h-1.3zM687.8 165.4h1.3v1.3h-1.3zM712.4 173.5h1.3v1.3h-1.3zM722.5 148.5h1.3v1.3h-1.3zM724.4 153.2h1.3v1.3h-1.3z" fill="#e83018"/>
<path d="M822.9 190.1L825.6 180.6L828.2 164.2L829.5 153.3L830.8 146.4L832.2 153.3L833.5 164.2L834.8 172.4L836.1 177.8L837.4 180.6L838.7 175.1L840.1 169.6L841.4 166.9L842.7 172.4L844.0 164.2L845.3 156.0L846.7 154.6L848.0 158.7L849.3 169.6L850.6 180.6L851.9 183.3L853.3 177.8L854.6 180.6L855.9 186.0L857.2 191.5L858.5 196.9L859.9 199.7L862.5 202.4L865.1 203.8L867.8 206.5L869.1 207.9L870.4 202.4L871.7 191.5L873.0 180.6L874.4 169.6L875.7 161.5L877.0 157.4L878.3 161.5L879.6 153.3L881.0 142.3L882.3 145.1L883.6 158.7L884.9 175.1L886.2 186.0L887.6 191.5L888.9 195.6L890.2 199.7L891.5 201.0L892.8 199.7L894.2 194.2L895.5 188.8L896.8 180.6L898.1 169.6L899.4 158.7L900.8 153.3L902.1 164.2L903.4 175.1L904.7 180.6L906.0 183.3L907.3 181.9L908.7 177.8L910.0 175.1L911.3 172.4L912.6 169.6L913.9 166.9L915.3 164.2L916.6 161.5L917.9 158.7L919.2 164.2L920.5 175.1L923.2 186.0L925.8 194.2L928.5 198.3L931.1 196.9L933.7 194.2L936.4 188.8L937.7 180.6L939.0 172.4L940.3 161.5L941.6 160.1L943.0 166.9L944.3 175.1L946.9 183.3L949.6 191.5L952.2 186.0L954.8 180.6L957.5 177.8L960.1 180.6L961.4 186.0L962.8 175.1L965.4 175.1L968.0 180.6L970.7 186.0L973.3 191.5L975.9 199.7L978.6 207.9L981.2 216.1L983.9 220.1L986.5 216.1L989.1 212.0L991.8 209.2L994.4 205.1L997.1 196.9L999.7 177.8L1001.0 158.7L1002.3 146.4L1003.7 150.5L1005.0 164.2L1006.3 180.6L1007.6 188.8L1008.9 191.5L1010.3 191.5L1009.2 192.8L1010.6 194.2L1011.9 199.7L1013.2 202.4L1014.5 194.2L1015.8 177.8L1017.2 164.2L1018.5 153.3L1019.8 150.5L1021.1 149.2L1022.4 150.5L1023.7 158.7L1025.1 175.1L1026.4 183.3L1029.0 188.8L1031.7 191.5L1034.3 194.2L1036.9 186.0L1039.6 169.6L1040.9 158.7L1042.2 154.6L1043.5 158.7L1044.9 166.9L1046.2 169.6L1047.5 172.4L1050.1 175.1L1052.8 176.5L1054.1 172.4L1055.4 164.2L1056.7 158.7L1058.0 161.5L1059.4 169.6L1060.7 177.8L1062.0 183.3L1063.3 183.3L1064.6 175.1L1066.0 172.4L1068.6 169.6L1071.2 164.2L1073.4 156.0L1074.7 151.9L1076.0 156.0L1077.3 166.9L1078.6 177.8L1080.5 188.8L1083.1 194.2L1085.8 196.9L1088.4 201.0L1091.0 202.4L1092.9 196.9L1095.0 180.6L1096.3 161.5L1097.6 150.5L1098.9 150.5L1100.3 158.7L1101.6 172.4L1104.2 180.6L1106.9 183.3L1109.5 184.7L1112.1 177.8L1114.0 166.9L1115.3 160.1L1116.9 161.5L1118.7 172.4L1120.1 175.1L1122.7 175.1L1125.3 172.4L1128.0 169.6L1130.6 161.5L1132.5 158.7L1134.0 164.2L1135.9 177.8L1137.7 188.8L1139.8 196.9L1142.5 196.9L1144.6 195.6L1146.4 188.8L1148.3 172.4L1149.9 158.7L1151.2 150.5L1152.5 146.4L1153.6 153.3L1154.9 169.6L1156.2 191.5L1157.5 210.6L1158.8 229.7L1159.6 237.9" stroke="#2a58ff" stroke-width="1.6" fill="none" stroke-linejoin="round" stroke-dasharray="3 1 2 0.8" opacity="0.85"/>
<path d="M822.9 190.1L825.6 180.6L828.2 164.2L829.5 153.3L830.8 146.4L832.2 153.3L833.5 164.2L834.8 172.4L836.1 177.8L837.4 180.6L838.7 175.1L840.1 169.6L841.4 166.9L842.7 172.4L844.0 164.2L845.3 156.0L846.7 154.6L848.0 158.7L849.3 169.6L850.6 180.6L851.9 183.3L853.3 177.8L854.6 180.6L855.9 186.0L857.2 191.5L858.5 196.9L859.9 199.7L862.5 202.4L865.1 203.8L867.8 206.5L869.1 207.9L870.4 202.4L871.7 191.5L873.0 180.6L874.4 169.6L875.7 161.5L877.0 157.4L878.3 161.5L879.6 153.3L881.0 142.3L882.3 145.1L883.6 158.7L884.9 175.1L886.2 186.0L887.6 191.5L888.9 195.6L890.2 199.7L891.5 201.0L892.8 199.7L894.2 194.2L895.5 188.8L896.8 180.6L898.1 169.6L899.4 158.7L900.8 153.3L902.1 164.2L903.4 175.1L904.7 180.6L906.0 183.3L907.3 181.9L908.7 177.8L910.0 175.1L911.3 172.4L912.6 169.6L913.9 166.9L915.3 164.2L916.6 161.5L917.9 158.7L919.2 164.2L920.5 175.1L923.2 186.0L925.8 194.2L928.5 198.3L931.1 196.9L933.7 194.2L936.4 188.8L937.7 180.6L939.0 172.4L940.3 161.5L941.6 160.1L943.0 166.9L944.3 175.1L946.9 183.3L949.6 191.5L952.2 186.0L954.8 180.6L957.5 177.8L960.1 180.6L961.4 186.0L962.8 175.1L965.4 175.1L968.0 180.6L970.7 186.0L973.3 191.5L975.9 199.7L978.6 207.9L981.2 216.1L983.9 220.1L986.5 216.1L989.1 212.0L991.8 209.2L994.4 205.1L997.1 196.9L999.7 177.8L1001.0 158.7L1002.3 146.4L1003.7 150.5L1005.0 164.2L1006.3 180.6L1007.6 188.8L1008.9 191.5L1010.3 191.5L1009.2 192.8L1010.6 194.2L1011.9 199.7L1013.2 202.4L1014.5 194.2L1015.8 177.8L1017.2 164.2L1018.5 153.3L1019.8 150.5L1021.1 149.2L1022.4 150.5L1023.7 158.7L1025.1 175.1L1026.4 183.3L1029.0 188.8L1031.7 191.5L1034.3 194.2L1036.9 186.0L1039.6 169.6L1040.9 158.7L1042.2 154.6L1043.5 158.7L1044.9 166.9L1046.2 169.6L1047.5 172.4L1050.1 175.1L1052.8 176.5L1054.1 172.4L1055.4 164.2L1056.7 158.7L1058.0 161.5L1059.4 169.6L1060.7 177.8L1062.0 183.3L1063.3 183.3L1064.6 175.1L1066.0 172.4L1068.6 169.6L1071.2 164.2L1073.4 156.0L1074.7 151.9L1076.0 156.0L1077.3 166.9L1078.6 177.8L1080.5 188.8L1083.1 194.2L1085.8 196.9L1088.4 201.0L1091.0 202.4L1092.9 196.9L1095.0 180.6L1096.3 161.5L1097.6 150.5L1098.9 150.5L1100.3 158.7L1101.6 172.4L1104.2 180.6L1106.9 183.3L1109.5 184.7L1112.1 177.8L1114.0 166.9L1115.3 160.1L1116.9 161.5L1118.7 172.4L1120.1 175.1L1122.7 175.1L1125.3 172.4L1128.0 169.6L1130.6 161.5L1132.5 158.7L1134.0 164.2L1135.9 177.8L1137.7 188.8L1139.8 196.9L1142.5 196.9L1144.6 195.6L1146.4 188.8L1148.3 172.4L1149.9 158.7L1151.2 150.5L1152.5 146.4L1153.6 153.3L1154.9 169.6L1156.2 191.5L1157.5 210.6L1158.8 229.7L1159.6 237.9" stroke="#34e2ee" stroke-width="1.0" fill="none" stroke-linejoin="round" stroke-dasharray="2.5 1.5 1.5 1"/>
<path d="M823.3 185.6h1.3v1.3h-1.3zM826.1 172.6h1.3v1.3h-1.3zM826.4 170.8h1.3v1.3h-1.3zM827.0 167.2h1.3v1.3h-1.3zM829.2 150.9h1.3v1.3h-1.3zM831.5 152.6h1.3v1.3h-1.3zM833.3 166.8h1.3v1.3h-1.3zM835.5 177.2h1.3v1.3h-1.3zM836.1 178.5h1.3v1.3h-1.3zM836.8 179.9h1.3v1.3h-1.3zM838.1 174.5h1.3v1.3h-1.3zM840.1 167.6h1.3v1.3h-1.3zM841.2 168.1h1.3v1.3h-1.3zM841.6 169.9h1.3v1.3h-1.3zM842.1 171.7h1.3v1.3h-1.3zM842.6 168.4h1.3v1.3h-1.3zM842.8 166.8h1.3v1.3h-1.3zM844.4 157.0h1.3v1.3h-1.3zM844.7 155.3h1.3v1.3h-1.3zM848.9 170.8h1.3v1.3h-1.3zM849.8 178.1h1.3v1.3h-1.3zM851.3 182.6h1.3v1.3h-1.3zM853.3 178.5h1.3v1.3h-1.3zM853.9 179.9h1.3v1.3h-1.3zM854.4 181.7h1.3v1.3h-1.3zM856.1 189.0h1.3v1.3h-1.3zM856.6 190.8h1.3v1.3h-1.3zM859.2 199.0h1.3v1.3h-1.3zM869.3 203.6h1.3v1.3h-1.3zM871.7 185.4h1.3v1.3h-1.3zM872.4 179.9h1.3v1.3h-1.3zM874.2 165.7h1.3v1.3h-1.3zM875.5 159.4h1.3v1.3h-1.3zM876.4 156.7h1.3v1.3h-1.3zM877.2 159.4h1.3v1.3h-1.3zM878.5 155.9h1.3v1.3h-1.3zM882.8 156.1h1.3v1.3h-1.3zM883.8 169.0h1.3v1.3h-1.3zM885.4 183.6h1.3v1.3h-1.3zM885.6 185.4h1.3v1.3h-1.3zM886.9 190.8h1.3v1.3h-1.3zM887.3 192.2h1.3v1.3h-1.3zM888.2 194.9h1.3v1.3h-1.3zM888.7 196.3h1.3v1.3h-1.3zM889.5 199.0h1.3v1.3h-1.3zM895.9 181.6h1.3v1.3h-1.3zM896.1 179.9h1.3v1.3h-1.3zM901.4 163.5h1.3v1.3h-1.3zM902.5 172.6h1.3v1.3h-1.3zM902.7 174.5h1.3v1.3h-1.3zM905.4 182.6h1.3v1.3h-1.3zM913.3 166.3h1.3v1.3h-1.3zM914.0 164.9h1.3v1.3h-1.3zM915.9 160.8h1.3v1.3h-1.3zM917.7 159.9h1.3v1.3h-1.3zM918.1 161.7h1.3v1.3h-1.3zM926.0 194.9h1.3v1.3h-1.3zM933.1 193.6h1.3v1.3h-1.3zM934.4 190.8h1.3v1.3h-1.3zM939.2 164.4h1.3v1.3h-1.3zM942.3 166.3h1.3v1.3h-1.3zM943.1 171.2h1.3v1.3h-1.3zM944.7 177.7h1.3v1.3h-1.3zM950.2 188.1h1.3v1.3h-1.3zM960.3 183.6h1.3v1.3h-1.3zM961.7 178.1h1.3v1.3h-1.3zM962.1 174.5h1.3v1.3h-1.3zM966.7 178.5h1.3v1.3h-1.3zM977.4 205.6h1.3v1.3h-1.3zM977.9 207.2h1.3v1.3h-1.3zM991.1 208.6h1.3v1.3h-1.3zM993.8 204.5h1.3v1.3h-1.3zM997.5 188.6h1.3v1.3h-1.3zM1000.1 161.9h1.3v1.3h-1.3zM1000.2 160.0h1.3v1.3h-1.3zM1001.1 151.1h1.3v1.3h-1.3zM1002.1 147.2h1.3v1.3h-1.3zM1002.6 148.5h1.3v1.3h-1.3zM1003.6 155.7h1.3v1.3h-1.3zM1003.8 157.7h1.3v1.3h-1.3zM1004.9 170.8h1.3v1.3h-1.3zM1005.1 172.6h1.3v1.3h-1.3zM1005.2 174.5h1.3v1.3h-1.3zM1008.6 192.2h1.3v1.3h-1.3zM1011.9 200.4h1.3v1.3h-1.3zM1012.8 200.1h1.3v1.3h-1.3zM1013.1 198.5h1.3v1.3h-1.3zM1015.9 169.4h1.3v1.3h-1.3zM1016.3 165.5h1.3v1.3h-1.3zM1017.4 156.3h1.3v1.3h-1.3zM1021.8 149.9h1.3v1.3h-1.3zM1022.0 151.5h1.3v1.3h-1.3zM1022.3 153.2h1.3v1.3h-1.3zM1024.3 172.6h1.3v1.3h-1.3zM1025.5 181.0h1.3v1.3h-1.3zM1029.7 189.5h1.3v1.3h-1.3zM1034.7 190.3h1.3v1.3h-1.3zM1038.6 170.8h1.3v1.3h-1.3zM1039.1 167.2h1.3v1.3h-1.3zM1042.9 158.1h1.3v1.3h-1.3zM1043.4 161.4h1.3v1.3h-1.3zM1043.9 164.6h1.3v1.3h-1.3zM1049.5 174.5h1.3v1.3h-1.3zM1054.8 163.5h1.3v1.3h-1.3zM1055.2 161.7h1.3v1.3h-1.3zM1056.7 159.4h1.3v1.3h-1.3zM1058.5 167.4h1.3v1.3h-1.3zM1059.2 172.3h1.3v1.3h-1.3zM1060.9 180.8h1.3v1.3h-1.3zM1065.3 171.7h1.3v1.3h-1.3zM1071.0 161.9h1.3v1.3h-1.3zM1071.4 160.3h1.3v1.3h-1.3zM1073.6 152.6h1.3v1.3h-1.3zM1074.0 151.2h1.3v1.3h-1.3zM1074.9 154.0h1.3v1.3h-1.3zM1075.8 159.0h1.3v1.3h-1.3zM1076.4 164.4h1.3v1.3h-1.3zM1077.3 171.7h1.3v1.3h-1.3zM1078.0 177.2h1.3v1.3h-1.3zM1078.3 179.0h1.3v1.3h-1.3zM1078.9 182.6h1.3v1.3h-1.3zM1079.8 188.1h1.3v1.3h-1.3zM1080.5 189.5h1.3v1.3h-1.3zM1082.5 193.6h1.3v1.3h-1.3zM1086.0 197.7h1.3v1.3h-1.3zM1091.0 199.9h1.3v1.3h-1.3zM1091.6 198.1h1.3v1.3h-1.3zM1092.2 196.3h1.3v1.3h-1.3zM1092.7 192.7h1.3v1.3h-1.3zM1093.6 185.4h1.3v1.3h-1.3zM1094.3 179.9h1.3v1.3h-1.3zM1095.0 170.4h1.3v1.3h-1.3zM1095.1 168.4h1.3v1.3h-1.3zM1095.5 162.7h1.3v1.3h-1.3zM1095.7 160.8h1.3v1.3h-1.3zM1098.8 153.2h1.3v1.3h-1.3zM1100.0 162.0h1.3v1.3h-1.3zM1100.2 163.9h1.3v1.3h-1.3zM1100.9 171.7h1.3v1.3h-1.3zM1101.5 173.4h1.3v1.3h-1.3zM1104.9 181.3h1.3v1.3h-1.3zM1107.5 183.3h1.3v1.3h-1.3zM1108.8 184.0h1.3v1.3h-1.3zM1110.2 180.6h1.3v1.3h-1.3zM1110.8 178.9h1.3v1.3h-1.3zM1112.7 169.9h1.3v1.3h-1.3zM1113.3 166.3h1.3v1.3h-1.3zM1116.5 162.6h1.3v1.3h-1.3zM1117.5 168.1h1.3v1.3h-1.3zM1118.1 171.7h1.3v1.3h-1.3zM1118.7 173.1h1.3v1.3h-1.3zM1124.7 171.7h1.3v1.3h-1.3zM1127.3 169.0h1.3v1.3h-1.3zM1128.4 165.7h1.3v1.3h-1.3zM1129.4 162.4h1.3v1.3h-1.3zM1131.8 158.1h1.3v1.3h-1.3zM1133.9 167.4h1.3v1.3h-1.3zM1134.2 169.4h1.3v1.3h-1.3zM1135.2 177.2h1.3v1.3h-1.3zM1135.5 179.0h1.3v1.3h-1.3zM1136.2 182.6h1.3v1.3h-1.3zM1141.8 196.3h1.3v1.3h-1.3zM1147.0 177.2h1.3v1.3h-1.3zM1147.2 175.4h1.3v1.3h-1.3zM1149.0 160.0h1.3v1.3h-1.3zM1149.7 154.8h1.3v1.3h-1.3zM1151.4 147.2h1.3v1.3h-1.3zM1152.6 150.9h1.3v1.3h-1.3zM1154.1 167.2h1.3v1.3h-1.3zM1155.1 182.9h1.3v1.3h-1.3zM1155.4 188.8h1.3v1.3h-1.3zM1155.6 190.8h1.3v1.3h-1.3zM1156.3 202.3h1.3v1.3h-1.3zM1157.7 221.4h1.3v1.3h-1.3zM1157.8 223.3h1.3v1.3h-1.3zM1158.3 230.7h1.3v1.3h-1.3z" fill="#98f060"/>
<path d="M822.8 187.6h1.3v1.3h-1.3zM824.4 181.8h1.3v1.3h-1.3zM827.5 163.5h1.3v1.3h-1.3zM827.8 161.7h1.3v1.3h-1.3zM828.0 159.9h1.3v1.3h-1.3zM831.9 156.3h1.3v1.3h-1.3zM832.2 158.1h1.3v1.3h-1.3zM838.5 172.6h1.3v1.3h-1.3zM839.4 169.0h1.3v1.3h-1.3zM842.3 170.1h1.3v1.3h-1.3zM864.5 203.1h1.3v1.3h-1.3zM880.1 143.5h1.3v1.3h-1.3zM881.0 143.1h1.3v1.3h-1.3zM882.4 152.2h1.3v1.3h-1.3zM883.4 163.5h1.3v1.3h-1.3zM886.5 189.0h1.3v1.3h-1.3zM887.8 193.6h1.3v1.3h-1.3zM899.7 154.4h1.3v1.3h-1.3zM903.6 178.1h1.3v1.3h-1.3zM904.7 181.3h1.3v1.3h-1.3zM907.6 178.5h1.3v1.3h-1.3zM909.3 174.5h1.3v1.3h-1.3zM915.3 162.2h1.3v1.3h-1.3zM918.6 163.5h1.3v1.3h-1.3zM918.8 165.4h1.3v1.3h-1.3zM920.8 178.1h1.3v1.3h-1.3zM922.1 183.6h1.3v1.3h-1.3zM923.1 187.0h1.3v1.3h-1.3zM924.6 191.9h1.3v1.3h-1.3zM927.8 197.7h1.3v1.3h-1.3zM930.4 196.3h1.3v1.3h-1.3zM933.7 192.2h1.3v1.3h-1.3zM937.8 175.0h1.3v1.3h-1.3zM939.5 162.6h1.3v1.3h-1.3zM941.3 161.1h1.3v1.3h-1.3zM942.0 164.6h1.3v1.3h-1.3zM942.6 167.9h1.3v1.3h-1.3zM943.6 174.5h1.3v1.3h-1.3zM949.6 189.5h1.3v1.3h-1.3zM960.8 185.4h1.3v1.3h-1.3zM961.2 181.7h1.3v1.3h-1.3zM966.1 177.2h1.3v1.3h-1.3zM968.7 182.6h1.3v1.3h-1.3zM972.0 189.5h1.3v1.3h-1.3zM974.2 195.7h1.3v1.3h-1.3zM976.4 202.3h1.3v1.3h-1.3zM976.9 203.9h1.3v1.3h-1.3zM979.0 210.5h1.3v1.3h-1.3zM997.7 186.7h1.3v1.3h-1.3zM998.3 182.9h1.3v1.3h-1.3zM999.6 169.5h1.3v1.3h-1.3zM999.7 167.6h1.3v1.3h-1.3zM1000.4 158.1h1.3v1.3h-1.3zM1000.9 152.8h1.3v1.3h-1.3zM1001.3 149.3h1.3v1.3h-1.3zM1003.0 149.9h1.3v1.3h-1.3zM1013.3 196.8h1.3v1.3h-1.3zM1013.6 195.2h1.3v1.3h-1.3zM1014.3 188.1h1.3v1.3h-1.3zM1014.7 182.6h1.3v1.3h-1.3zM1015.2 177.2h1.3v1.3h-1.3zM1020.5 148.5h1.3v1.3h-1.3zM1023.5 163.5h1.3v1.3h-1.3zM1027.1 185.4h1.3v1.3h-1.3zM1042.4 156.7h1.3v1.3h-1.3zM1044.2 166.3h1.3v1.3h-1.3zM1052.6 174.5h1.3v1.3h-1.3zM1057.4 160.8h1.3v1.3h-1.3zM1057.7 162.4h1.3v1.3h-1.3zM1059.8 175.5h1.3v1.3h-1.3zM1061.4 182.6h1.3v1.3h-1.3zM1063.7 176.1h1.3v1.3h-1.3zM1066.6 170.4h1.3v1.3h-1.3zM1072.3 157.0h1.3v1.3h-1.3zM1072.7 155.3h1.3v1.3h-1.3zM1074.5 152.6h1.3v1.3h-1.3zM1076.9 168.1h1.3v1.3h-1.3zM1081.8 192.2h1.3v1.3h-1.3zM1085.1 196.3h1.3v1.3h-1.3zM1087.7 200.4h1.3v1.3h-1.3zM1094.1 181.7h1.3v1.3h-1.3zM1094.6 176.1h1.3v1.3h-1.3zM1095.4 164.6h1.3v1.3h-1.3zM1096.8 151.7h1.3v1.3h-1.3zM1098.3 149.9h1.3v1.3h-1.3zM1100.4 165.9h1.3v1.3h-1.3zM1103.6 179.9h1.3v1.3h-1.3zM1109.5 182.3h1.3v1.3h-1.3zM1115.4 160.1h1.3v1.3h-1.3zM1117.8 169.9h1.3v1.3h-1.3zM1126.0 170.4h1.3v1.3h-1.3zM1135.8 180.8h1.3v1.3h-1.3zM1137.1 188.1h1.3v1.3h-1.3zM1138.8 194.7h1.3v1.3h-1.3zM1145.8 188.1h1.3v1.3h-1.3zM1146.6 180.8h1.3v1.3h-1.3zM1146.8 179.0h1.3v1.3h-1.3zM1147.4 173.5h1.3v1.3h-1.3zM1148.1 167.8h1.3v1.3h-1.3zM1148.3 165.9h1.3v1.3h-1.3zM1149.2 158.1h1.3v1.3h-1.3zM1153.6 161.7h1.3v1.3h-1.3zM1155.0 180.9h1.3v1.3h-1.3zM1156.2 200.4h1.3v1.3h-1.3zM1156.7 208.0h1.3v1.3h-1.3zM1157.4 217.6h1.3v1.3h-1.3zM1158.5 232.3h1.3v1.3h-1.3z" fill="#f0e830"/>
<path d="M825.8 174.5h1.3v1.3h-1.3zM826.7 169.0h1.3v1.3h-1.3zM830.2 145.8h1.3v1.3h-1.3zM834.1 171.7h1.3v1.3h-1.3zM837.2 178.1h1.3v1.3h-1.3zM843.4 163.5h1.3v1.3h-1.3zM847.3 158.1h1.3v1.3h-1.3zM847.6 159.9h1.3v1.3h-1.3zM870.2 198.1h1.3v1.3h-1.3zM871.5 187.2h1.3v1.3h-1.3zM876.8 158.1h1.3v1.3h-1.3zM878.2 157.5h1.3v1.3h-1.3zM879.4 149.0h1.3v1.3h-1.3zM884.5 176.3h1.3v1.3h-1.3zM893.5 193.6h1.3v1.3h-1.3zM896.6 176.3h1.3v1.3h-1.3zM897.2 170.8h1.3v1.3h-1.3zM898.8 158.1h1.3v1.3h-1.3zM900.3 154.4h1.3v1.3h-1.3zM911.3 170.4h1.3v1.3h-1.3zM914.6 163.5h1.3v1.3h-1.3zM919.9 174.5h1.3v1.3h-1.3zM920.3 176.3h1.3v1.3h-1.3zM931.8 194.9h1.3v1.3h-1.3zM936.8 181.6h1.3v1.3h-1.3zM937.0 179.9h1.3v1.3h-1.3zM937.3 178.3h1.3v1.3h-1.3zM946.3 182.6h1.3v1.3h-1.3zM959.5 179.9h1.3v1.3h-1.3zM999.0 177.2h1.3v1.3h-1.3zM1003.4 153.8h1.3v1.3h-1.3zM1006.2 183.2h1.3v1.3h-1.3zM1006.7 186.5h1.3v1.3h-1.3zM1011.2 199.0h1.3v1.3h-1.3zM1012.5 201.8h1.3v1.3h-1.3zM1016.7 161.7h1.3v1.3h-1.3zM1024.4 174.5h1.3v1.3h-1.3zM1034.2 191.9h1.3v1.3h-1.3zM1043.1 159.7h1.3v1.3h-1.3zM1050.8 175.1h1.3v1.3h-1.3zM1062.7 182.6h1.3v1.3h-1.3zM1063.5 177.7h1.3v1.3h-1.3zM1073.1 154.0h1.3v1.3h-1.3zM1075.3 155.3h1.3v1.3h-1.3zM1076.0 160.8h1.3v1.3h-1.3zM1094.9 172.3h1.3v1.3h-1.3zM1096.1 157.2h1.3v1.3h-1.3zM1100.7 169.8h1.3v1.3h-1.3zM1128.9 164.1h1.3v1.3h-1.3zM1132.9 161.7h1.3v1.3h-1.3zM1135.0 175.2h1.3v1.3h-1.3zM1136.5 184.5h1.3v1.3h-1.3zM1145.3 189.8h1.3v1.3h-1.3zM1153.8 163.5h1.3v1.3h-1.3zM1155.7 192.7h1.3v1.3h-1.3zM1156.9 209.9h1.3v1.3h-1.3zM1158.2 229.1h1.3v1.3h-1.3z" fill="#ff9020"/>
<path d="M822.3 189.5h1.3v1.3h-1.3zM827.2 165.4h1.3v1.3h-1.3zM846.9 156.7h1.3v1.3h-1.3zM847.8 161.7h1.3v1.3h-1.3zM848.7 169.0h1.3v1.3h-1.3zM907.1 179.9h1.3v1.3h-1.3zM908.7 175.8h1.3v1.3h-1.3zM937.6 176.6h1.3v1.3h-1.3zM975.8 200.7h1.3v1.3h-1.3zM1005.9 181.6h1.3v1.3h-1.3zM1013.9 193.6h1.3v1.3h-1.3zM1033.7 193.6h1.3v1.3h-1.3zM1068.0 169.0h1.3v1.3h-1.3zM1095.9 159.0h1.3v1.3h-1.3zM1112.4 171.7h1.3v1.3h-1.3zM1148.5 163.9h1.3v1.3h-1.3zM1149.5 156.4h1.3v1.3h-1.3zM1150.5 149.9h1.3v1.3h-1.3zM1153.4 158.1h1.3v1.3h-1.3zM1154.5 173.0h1.3v1.3h-1.3zM1156.5 204.2h1.3v1.3h-1.3z" fill="#e83018"/>
<path d="M820.8 191.5L822.9 188.8L825.6 183.3L828.2 177.8L830.8 173.7L833.5 171.0L836.1 169.6L838.7 172.4L841.4 175.1L844.0 177.8L846.7 175.1L849.3 166.9L850.6 160.1L851.9 161.5L853.3 166.9L854.6 169.6L857.2 166.9L859.9 158.7L862.5 146.4L863.8 150.5L865.1 166.9L866.5 177.8L867.8 186.0L869.1 191.5L870.4 194.2L873.0 194.2L875.7 194.2L878.3 180.6L879.6 166.9L881.0 175.1L882.3 183.3L883.6 188.8L884.9 180.6L886.2 176.5L887.6 177.8L888.9 183.3L891.5 188.8L894.2 186.0L896.8 180.6L899.4 177.8L902.1 176.5L904.7 183.3L906.0 191.5L908.7 187.4L911.3 177.8L913.9 166.9L916.6 157.4L917.9 158.7L919.2 169.6L920.5 175.1L923.2 183.3L925.8 188.8L928.5 190.1L931.1 183.3L932.4 175.1L933.7 158.7L935.1 147.8L936.4 150.5L937.7 164.2L939.0 175.1L941.6 183.3L944.3 188.8L946.9 191.5L949.6 196.9L952.2 183.3L953.5 158.7L954.8 150.5L956.2 153.3L957.5 166.9L958.8 175.1L960.1 177.8L962.8 177.8L965.4 175.1L968.0 172.4L970.7 169.6L972.0 180.6L972.8 196.9L973.3 218.8L974.1 237.9L975.9 238.2L978.6 237.9L981.2 238.2L983.9 238.2L986.5 238.2L989.1 238.2L991.8 238.2L994.4 236.5L997.1 235.2L999.7 227.0L1002.3 207.9L1003.7 199.7L1005.0 191.5L1006.3 187.4L1007.6 186.0" stroke="#2a58ff" stroke-width="1.6" fill="none" stroke-linejoin="round" stroke-dasharray="3 1 2 0.8" opacity="0.85"/>
<path d="M820.8 191.5L822.9 188.8L825.6 183.3L828.2 177.8L830.8 173.7L833.5 171.0L836.1 169.6L838.7 172.4L841.4 175.1L844.0 177.8L846.7 175.1L849.3 166.9L850.6 160.1L851.9 161.5L853.3 166.9L854.6 169.6L857.2 166.9L859.9 158.7L862.5 146.4L863.8 150.5L865.1 166.9L866.5 177.8L867.8 186.0L869.1 191.5L870.4 194.2L873.0 194.2L875.7 194.2L878.3 180.6L879.6 166.9L881.0 175.1L882.3 183.3L883.6 188.8L884.9 180.6L886.2 176.5L887.6 177.8L888.9 183.3L891.5 188.8L894.2 186.0L896.8 180.6L899.4 177.8L902.1 176.5L904.7 183.3L906.0 191.5L908.7 187.4L911.3 177.8L913.9 166.9L916.6 157.4L917.9 158.7L919.2 169.6L920.5 175.1L923.2 183.3L925.8 188.8L928.5 190.1L931.1 183.3L932.4 175.1L933.7 158.7L935.1 147.8L936.4 150.5L937.7 164.2L939.0 175.1L941.6 183.3L944.3 188.8L946.9 191.5L949.6 196.9L952.2 183.3L953.5 158.7L954.8 150.5L956.2 153.3L957.5 166.9L958.8 175.1L960.1 177.8L962.8 177.8L965.4 175.1L968.0 172.4L970.7 169.6L972.0 180.6L972.8 196.9L973.3 218.8L974.1 237.9L975.9 238.2L978.6 237.9L981.2 238.2L983.9 238.2L986.5 238.2L989.1 238.2L991.8 238.2L994.4 236.5L997.1 235.2L999.7 227.0L1002.3 207.9L1003.7 199.7L1005.0 191.5L1006.3 187.4L1007.6 186.0" stroke="#34e2ee" stroke-width="1.0" fill="none" stroke-linejoin="round" stroke-dasharray="2.5 1.5 1.5 1"/>
<path d="M825.6 181.3h1.3v1.3h-1.3zM828.4 175.8h1.3v1.3h-1.3zM836.8 170.4h1.3v1.3h-1.3zM842.1 175.8h1.3v1.3h-1.3zM843.4 177.2h1.3v1.3h-1.3zM847.1 171.2h1.3v1.3h-1.3zM848.1 167.9h1.3v1.3h-1.3zM850.0 159.4h1.3v1.3h-1.3zM851.7 162.6h1.3v1.3h-1.3zM859.2 158.1h1.3v1.3h-1.3zM861.5 147.5h1.3v1.3h-1.3zM863.2 149.9h1.3v1.3h-1.3zM864.3 164.4h1.3v1.3h-1.3zM864.5 166.3h1.3v1.3h-1.3zM864.7 168.1h1.3v1.3h-1.3zM871.1 193.6h1.3v1.3h-1.3zM875.8 189.7h1.3v1.3h-1.3zM876.2 187.7h1.3v1.3h-1.3zM877.9 178.0h1.3v1.3h-1.3zM878.4 172.1h1.3v1.3h-1.3zM880.6 176.1h1.3v1.3h-1.3zM881.6 182.6h1.3v1.3h-1.3zM882.1 184.5h1.3v1.3h-1.3zM904.1 182.6h1.3v1.3h-1.3zM904.6 185.9h1.3v1.3h-1.3zM910.7 177.2h1.3v1.3h-1.3zM911.5 173.5h1.3v1.3h-1.3zM912.0 171.7h1.3v1.3h-1.3zM917.3 158.1h1.3v1.3h-1.3zM917.7 161.7h1.3v1.3h-1.3zM918.1 165.4h1.3v1.3h-1.3zM918.6 169.0h1.3v1.3h-1.3zM919.9 174.5h1.3v1.3h-1.3zM920.4 176.1h1.3v1.3h-1.3zM926.5 188.8h1.3v1.3h-1.3zM930.4 182.6h1.3v1.3h-1.3zM931.8 174.5h1.3v1.3h-1.3zM931.9 172.6h1.3v1.3h-1.3zM932.6 163.5h1.3v1.3h-1.3zM933.7 152.6h1.3v1.3h-1.3zM936.3 155.7h1.3v1.3h-1.3zM936.7 159.6h1.3v1.3h-1.3zM936.9 161.6h1.3v1.3h-1.3zM939.4 177.7h1.3v1.3h-1.3zM947.6 193.6h1.3v1.3h-1.3zM949.3 194.3h1.3v1.3h-1.3zM951.2 184.6h1.3v1.3h-1.3zM951.8 178.9h1.3v1.3h-1.3zM952.1 173.2h1.3v1.3h-1.3zM955.7 154.6h1.3v1.3h-1.3zM957.6 171.2h1.3v1.3h-1.3zM959.5 177.2h1.3v1.3h-1.3zM960.8 177.2h1.3v1.3h-1.3zM967.4 171.7h1.3v1.3h-1.3zM971.3 179.9h1.3v1.3h-1.3zM972.2 198.3h1.3v1.3h-1.3zM972.2 200.3h1.3v1.3h-1.3zM972.4 206.2h1.3v1.3h-1.3zM972.5 210.2h1.3v1.3h-1.3zM972.5 212.2h1.3v1.3h-1.3zM973.1 227.7h1.3v1.3h-1.3zM991.1 237.5h1.3v1.3h-1.3zM998.0 229.6h1.3v1.3h-1.3zM1000.9 212.9h1.3v1.3h-1.3zM1002.5 202.3h1.3v1.3h-1.3zM1002.7 200.7h1.3v1.3h-1.3z" fill="#98f060"/>
<path d="M822.9 186.7h1.3v1.3h-1.3zM824.2 184.0h1.3v1.3h-1.3zM829.3 174.5h1.3v1.3h-1.3zM849.0 164.6h1.3v1.3h-1.3zM849.3 162.9h1.3v1.3h-1.3zM851.3 160.8h1.3v1.3h-1.3zM856.6 166.3h1.3v1.3h-1.3zM857.1 164.6h1.3v1.3h-1.3zM858.1 161.4h1.3v1.3h-1.3zM860.3 152.8h1.3v1.3h-1.3zM861.1 149.3h1.3v1.3h-1.3zM865.1 171.7h1.3v1.3h-1.3zM865.4 173.5h1.3v1.3h-1.3zM866.3 180.5h1.3v1.3h-1.3zM877.7 179.9h1.3v1.3h-1.3zM879.5 169.5h1.3v1.3h-1.3zM881.1 179.4h1.3v1.3h-1.3zM881.4 181.0h1.3v1.3h-1.3zM883.2 186.5h1.3v1.3h-1.3zM887.8 180.8h1.3v1.3h-1.3zM888.9 184.0h1.3v1.3h-1.3zM890.2 186.7h1.3v1.3h-1.3zM894.2 184.0h1.3v1.3h-1.3zM901.4 175.8h1.3v1.3h-1.3zM906.3 189.5h1.3v1.3h-1.3zM907.1 188.1h1.3v1.3h-1.3zM911.1 175.4h1.3v1.3h-1.3zM927.8 189.5h1.3v1.3h-1.3zM932.2 169.0h1.3v1.3h-1.3zM932.5 165.4h1.3v1.3h-1.3zM933.5 154.4h1.3v1.3h-1.3zM935.9 151.8h1.3v1.3h-1.3zM936.1 153.8h1.3v1.3h-1.3zM938.4 174.5h1.3v1.3h-1.3zM940.5 181.0h1.3v1.3h-1.3zM942.3 185.4h1.3v1.3h-1.3zM943.0 186.7h1.3v1.3h-1.3zM950.0 190.4h1.3v1.3h-1.3zM951.9 177.0h1.3v1.3h-1.3zM956.5 162.4h1.3v1.3h-1.3zM968.7 170.4h1.3v1.3h-1.3zM970.0 169.0h1.3v1.3h-1.3zM971.6 185.4h1.3v1.3h-1.3zM972.0 194.5h1.3v1.3h-1.3zM973.0 225.8h1.3v1.3h-1.3zM975.3 237.5h1.3v1.3h-1.3zM979.3 237.4h1.3v1.3h-1.3zM987.2 237.5h1.3v1.3h-1.3zM999.8 220.6h1.3v1.3h-1.3zM1003.0 199.0h1.3v1.3h-1.3zM1003.3 197.4h1.3v1.3h-1.3zM1005.2 188.1h1.3v1.3h-1.3z" fill="#f0e830"/>
<path d="M822.3 188.1h1.3v1.3h-1.3zM846.0 174.5h1.3v1.3h-1.3zM864.2 162.6h1.3v1.3h-1.3zM869.8 193.6h1.3v1.3h-1.3zM873.7 193.6h1.3v1.3h-1.3zM896.1 179.9h1.3v1.3h-1.3zM929.1 186.1h1.3v1.3h-1.3zM935.1 148.5h1.3v1.3h-1.3zM952.9 158.1h1.3v1.3h-1.3zM958.8 175.8h1.3v1.3h-1.3zM971.7 187.2h1.3v1.3h-1.3zM972.3 204.2h1.3v1.3h-1.3zM972.8 222.0h1.3v1.3h-1.3zM973.1 229.6h1.3v1.3h-1.3zM992.5 236.7h1.3v1.3h-1.3zM996.4 234.5h1.3v1.3h-1.3zM1004.1 192.5h1.3v1.3h-1.3z" fill="#ff9020"/>
<path d="M866.9 183.7h1.3v1.3h-1.3zM884.3 179.9h1.3v1.3h-1.3zM908.0 186.7h1.3v1.3h-1.3zM971.9 190.8h1.3v1.3h-1.3zM989.8 237.5h1.3v1.3h-1.3zM999.0 226.3h1.3v1.3h-1.3zM1003.8 194.1h1.3v1.3h-1.3z" fill="#e83018"/>
<path d="M126.5 186.0L127.5 200.0L129.0 214.0L130.5 228.0L131.0 236.0" stroke="#3a5cff" stroke-width="1.3" fill="none" stroke-dasharray="1.5 1.5" opacity="0.85"/>
<path d="M130.0 193.0L134.0 197.0L137.0 201.0L139.0 205.0" stroke="#3a5cff" stroke-width="1.3" fill="none" stroke-dasharray="1.5 1.5" opacity="0.85"/>
<path d="M238.5 195.0L239.0 210.0L238.5 225.0L239.5 236.0" stroke="#3a5cff" stroke-width="1.3" fill="none" stroke-dasharray="1.5 1.5" opacity="0.85"/>
<path d="M230.0 182.0L233.0 190.0L235.0 205.0" stroke="#3a5cff" stroke-width="1.3" fill="none" stroke-dasharray="1.5 1.5" opacity="0.85"/>
<path d="M72.1 375.5L73.7 366.3L74.7 370.3L76.6 391.4L77.9 401.9L80.6 408.5L81.9 411.2L83.2 405.9L84.5 404.6L85.8 407.2L87.2 394.0L87.9 386.1L89.8 386.1L91.1 384.8L91.9 391.4L92.7 320.1L93.5 396.6L94.3 456.0L95.1 399.3L96.4 398.0L97.7 399.3L98.5 436.2L99.0 399.3L100.3 395.3L101.7 395.3L103.8 386.1L105.1 386.1L106.9 394.0L108.3 401.9L110.9 407.2L112.2 413.8L113.5 432.3L114.9 391.4L116.2 388.7L117.5 395.3L118.8 383.5L120.1 380.8L121.5 374.2L122.8 362.3L124.1 372.9L125.4 391.4L125.9 428.3L126.7 405.9L128.0 411.2L129.4 417.8L130.7 420.4L132.0 415.1L132.8 462.5L133.3 413.8L134.1 423.0L134.6 462.5L136.0 436.2L137.3 462.5L138.1 301.7L139.1 462.5L139.9 438.9L140.7 401.9L142.6 383.5L143.9 375.5L145.2 376.9L146.5 386.1L147.8 399.3L150.5 400.6L153.1 401.9L155.8 404.6L158.4 405.9L159.7 396.6L162.3 394.0L163.7 388.7L165.0 396.6L166.3 407.2L167.6 399.3L170.3 398.0L172.9 400.6L174.2 399.3L175.5 394.0L176.9 371.6L178.2 372.9L179.5 386.1L180.8 394.0L182.1 401.9L183.5 338.6L184.2 416.4L186.1 417.8L187.4 419.1L188.7 452.1L189.5 321.5L190.3 306.9L191.4 460.0L192.2 407.2L194.0 391.4L196.1 383.5L198.0 375.5L199.3 378.2L200.6 386.1L201.9 391.4L204.6 394.0L205.9 398.0L207.2 407.2L208.5 417.8L209.8 423.0L211.2 423.0L212.5 417.8L213.8 401.9L215.1 388.7L216.4 380.8L217.8 383.5L219.1 388.7L220.4 388.7L221.7 394.0L223.0 391.4L224.4 396.6L225.7 390.1L227.0 405.9L228.3 416.4L229.6 404.6L230.9 415.1L232.3 403.2L233.6 401.9L234.9 403.2L236.2 412.5L237.5 417.8L238.9 461.3L240.2 386.1L241.5 461.3L242.8 390.1L244.1 394.0L245.5 396.6L246.8 380.8" stroke="#0000ff" stroke-width="2.0" fill="none" stroke-linejoin="round" stroke-linecap="round" />
<path d="M246.9 379.4L249.2 379.4L250.0 461.2L251.1 424.3L251.9 458.6L252.7 420.3L253.5 453.3L254.0 416.4L254.8 461.2L255.3 421.6L256.4 461.2L257.2 423.0L257.9 461.2L258.5 453.3L259.3 461.2L259.8 459.9L260.6 453.3L261.1 458.6L262.4 378.1L263.7 371.5L264.5 461.2L265.6 458.6L266.4 417.7L267.2 461.2L268.5 453.3L270.3 437.5L271.7 428.2L273.0 426.9L273.8 371.5L274.8 374.1L275.6 308.2L276.9 289.7L278.3 295.0L279.1 292.3L279.6 316.1L280.9 335.9L282.2 330.6L283.0 331.9L283.5 355.7L284.9 329.3L286.2 283.1L287.0 310.8L287.5 342.5L288.3 339.8L288.8 359.6L289.6 329.3L290.7 313.5L292.0 317.4L293.3 310.8L294.1 317.4L295.4 280.5L296.2 358.3L297.5 374.1L298.6 384.7L299.6 405.8L300.7 339.8L301.5 324.0L302.3 291.0L303.3 308.2L304.1 292.3L304.9 308.2L306.0 292.3L307.3 331.9L308.6 347.8L309.9 372.8L311.2 371.5L312.0 363.6L312.8 396.6L313.9 321.4L315.2 277.8L316.5 337.2L317.8 376.8L318.6 367.5L319.2 408.4L320.5 364.9L321.8 382.1L323.1 368.9L323.9 400.5L325.0 401.8L326.0 350.4L327.1 349.1L328.4 347.8L329.7 322.7L331.0 333.2L332.3 283.1L333.7 285.8L334.5 284.4L335.5 322.7L336.6 324.0L337.6 371.5L338.9 397.9L339.7 430.9L340.8 403.2L341.6 363.6L342.9 362.3L343.7 339.8L344.7 280.5L346.1 287.1L346.9 333.2L348.2 379.4L349.0 387.3L350.3 380.7L351.3 392.6L352.9 388.7L354.0 393.9L355.3 413.7L356.1 334.6L357.4 333.2L358.7 289.7L360.1 288.4L360.8 316.1L361.9 287.1L363.2 316.1L364.0 339.8L365.3 300.3L366.6 316.1L368.0 388.7L369.3 384.7L370.3 339.8L371.1 321.4L371.9 317.4L372.7 280.5L374.0 295.0L375.4 321.4L376.7 339.8L377.2 412.4L378.5 411.1L379.3 357.0L380.4 382.1L381.2 415.0L382.5 359.6L383.3 309.5L384.1 279.2L384.6 324.0L385.6 325.3L386.4 314.8L387.2 324.0L388.3 316.1L389.3 357.0L390.4 357.0L391.7 372.8L392.5 355.7L393.6 312.1L394.4 330.6L395.1 368.9L396.2 355.7L397.5 330.6L398.3 355.7L399.6 347.8L400.9 372.8L402.3 416.4L403.6 321.4L404.9 400.5L405.7 379.4L406.8 375.5L408.1 412.4L408.9 376.8L410.2 382.1L411.5 395.2L412.8 404.5L413.6 374.1L414.7 355.7L415.5 334.6L416.8 347.8L418.1 359.6L419.4 368.9L420.7 405.8L422.1 376.8L423.4 390.0L424.7 405.8L426.0 380.7L427.3 411.1L428.7 421.6" stroke="#0000ff" stroke-width="2.5" fill="none" stroke-linejoin="round" stroke-linecap="round" />
<path d="M246.9 380.8L249.2 380.8L250.0 462.5L251.1 425.7L251.9 460.0L252.7 421.7L253.5 454.7L254.0 417.8L254.8 462.5L255.3 423.0L256.4 462.5L257.2 424.4L257.9 462.5L258.5 454.7L259.3 462.5L259.8 461.3L260.6 454.7L261.1 460.0L262.4 379.5L263.7 372.9L264.5 462.5L265.6 460.0L266.4 419.1L267.2 462.5L268.5 454.7L270.3 438.9L271.7 429.6L273.0 428.3L273.8 372.9L274.8 375.5L275.6 309.6L276.9 291.1L278.3 296.4L279.1 293.7L279.6 317.5L280.9 337.3L282.2 332.0L283.0 333.3L283.5 357.1L284.9 330.7L286.2 284.5L287.0 312.2L287.5 343.9L288.3 341.2L288.8 361.0L289.6 330.7L290.7 314.9L292.0 318.8L293.3 312.2L294.1 318.8L295.4 281.9L296.2 359.7L297.5 375.5L298.6 386.1L299.6 407.2L300.7 341.2L301.5 325.4L302.3 292.4L303.3 309.6L304.1 293.7L304.9 309.6L306.0 293.7L307.3 333.3L308.6 349.2L309.9 374.2L311.2 372.9L312.0 365.0L312.8 398.0L313.9 322.8L315.2 279.2L316.5 338.6L317.8 378.2L318.6 368.9L319.2 409.8L320.5 366.3L321.8 383.5L323.1 370.3L323.9 401.9L325.0 403.2L326.0 351.8L327.1 350.5L328.4 349.2L329.7 324.1L331.0 334.6L332.3 284.5L333.7 287.2L334.5 285.8L335.5 324.1L336.6 325.4L337.6 372.9L338.9 399.3L339.7 432.3L340.8 404.6L341.6 365.0L342.9 363.7L343.7 341.2L344.7 281.9L346.1 288.5L346.9 334.6L348.2 380.8L349.0 388.7L350.3 382.1L351.3 394.0L352.9 390.1L354.0 395.3L355.3 415.1L356.1 336.0L357.4 334.6L358.7 291.1L360.1 289.8L360.8 317.5L361.9 288.5L363.2 317.5L364.0 341.2L365.3 301.7L366.6 317.5L368.0 390.1L369.3 386.1L370.3 341.2L371.1 322.8L371.9 318.8L372.7 281.9L374.0 296.4L375.4 322.8L376.7 341.2L377.2 413.8L378.5 412.5L379.3 358.4L380.4 383.5L381.2 416.4L382.5 361.0L383.3 310.9L384.1 280.6L384.6 325.4L385.6 326.7L386.4 316.2L387.2 325.4L388.3 317.5L389.3 358.4L390.4 358.4L391.7 374.2L392.5 357.1L393.6 313.5L394.4 332.0L395.1 370.3L396.2 357.1L397.5 332.0L398.3 357.1L399.6 349.2L400.9 374.2L402.3 417.8L403.6 322.8L404.9 401.9L405.7 380.8L406.8 376.9L408.1 413.8L408.9 378.2L410.2 383.5L411.5 396.6L412.8 405.9L413.6 375.5L414.7 357.1L415.5 336.0L416.8 349.2L418.1 361.0L419.4 370.3L420.7 407.2L422.1 378.2L423.4 391.4L424.7 407.2L426.0 382.1L427.3 412.5L428.7 423.0" stroke="#ff0000" stroke-width="2.0" fill="none" stroke-linejoin="round" stroke-linecap="round" />
<path d="M446.3 394.0L449.0 396.6L451.6 386.1L454.2 376.9L455.6 394.0L456.9 412.5L458.2 417.8L459.5 407.2L460.8 394.0L463.5 383.5L466.1 380.8L468.7 370.3L470.6 362.9L472.2 380.8L473.5 407.2L476.7 404.6L480.6 403.2L483.3 383.5L484.6 375.5L486.7 366.3L488.5 375.5L491.2 407.2L493.8 405.9L496.5 401.9L499.1 388.7L500.9 380.8L502.5 378.2L504.4 386.1L507.0 407.2L509.6 409.8L512.3 394.0L514.9 378.2L517.6 380.8L520.2 376.9L522.8 388.7L525.5 407.2L528.1 409.8L530.8 380.8L532.9 371.6L534.7 375.5L536.8 407.2L538.7 386.1L540.0 383.5L543.2 388.7L545.3 404.6L547.9 388.7L548.7 362.9L550.5 375.5L551.9 415.1L553.2 401.9L555.8 396.6L558.5 399.3L561.1 401.9L563.7 407.2L566.4 408.5L569.0 409.8L571.6 394.0L574.3 390.1L576.9 383.5L579.6 375.5L581.4 372.9L582.7 386.1L584.8 407.2L586.7 417.8L588.8 421.7L591.4 409.8L594.1 391.4L596.7 375.5L598.0 372.9L600.7 380.8L603.3 396.6L605.9 412.5L608.6 401.9L611.2 394.0L613.9 394.0L616.5 388.7L619.1 396.6L621.8 386.1L620.3 394.0L622.9 394.0L625.6 383.5L628.2 372.9L629.5 371.6L630.8 383.5L633.5 396.6L636.1 401.9L638.7 391.4L641.4 380.8L644.0 370.3L646.1 372.9L648.0 394.0L650.6 396.6L653.3 386.1L654.6 380.8L657.2 388.7L659.9 372.9L662.5 375.5L663.8 420.4L666.5 404.6L669.1 401.9L671.7 388.7L674.4 376.9L676.2 375.5L678.3 386.1L681.0 401.9L683.6 407.2L686.2 394.0L688.9 383.5L691.5 372.9L694.2 380.8L696.8 401.9L699.4 407.2L702.1 396.6L704.7 386.1L707.3 375.5L709.2 371.6L711.3 383.5L713.9 401.9L716.6 412.5L719.2 415.1L721.9 401.9L724.5 383.5L727.1 378.2L729.8 375.5L732.4 383.5L735.1 394.0L737.7 407.2L740.3 411.2L743.0 401.9L745.6 380.8L748.2 386.1L750.9 396.6L752.2 409.8L754.8 401.9L757.5 376.9L759.6 375.5L761.4 388.7L764.1 409.8L766.7 412.5L769.4 394.0L772.0 383.5L774.6 375.5L777.3 386.1L779.9 401.9L782.5 412.5L785.2 394.0L787.8 380.8L790.5 371.6L792.3 370.3L794.4 388.7L797.1 399.3L799.7 399.3L802.3 404.6L803.7 428.3" stroke="#0000ff" stroke-width="2.2" fill="none" stroke-linejoin="round" stroke-linecap="round" />
<path d="M446.3 394.9L447.1 395.7L447.9 396.5L448.7 397.3L449.5 395.8L450.7 414.0L452.0 385.8L452.9 412.1L454.3 379.2L455.7 381.4L456.5 381.8L457.5 413.9L459.1 375.4L460.5 398.4L461.3 393.1L462.1 389.9L462.9 386.7L463.7 384.1L464.5 383.3L465.3 382.5L466.1 414.5L467.8 375.1L468.9 410.9L470.4 364.1L472.0 401.3L473.0 397.1L474.7 411.2L476.2 405.9L477.0 405.4L477.8 405.1L478.6 404.8L479.4 404.6L480.2 404.3L481.0 401.4L481.8 394.7L483.5 405.3L484.5 377.3L485.4 412.8L486.9 367.1L488.1 414.3L489.6 388.2L490.8 388.6L491.6 384.2L492.7 379.7L493.7 406.8L494.5 405.7L495.3 404.5L496.1 403.3L496.9 400.4L497.7 396.4L498.5 392.4L499.3 388.3L500.4 408.5L501.6 380.2L502.9 398.1L503.8 384.9L504.8 418.4L505.8 383.0L507.2 408.3L508.0 409.1L508.8 409.9L509.6 410.7L510.4 406.4L511.2 401.6L512.0 396.8L512.8 409.1L514.4 381.1L516.0 411.3L517.4 381.3L519.0 408.3L520.6 378.8L521.8 411.1L523.1 378.3L524.8 373.3L526.1 408.8L526.9 409.6L527.7 398.0L529.4 397.2L530.2 386.5L531.6 417.3L532.9 373.0L534.4 389.5L536.0 396.4L537.6 399.2L538.4 390.1L539.2 385.9L540.0 384.4L540.8 385.7L541.6 418.6L542.9 388.6L544.2 404.7L545.6 401.3L547.1 416.9L548.3 376.5L549.7 415.3L550.7 382.2L552.1 400.5L552.9 402.5L553.9 401.5L554.7 399.9L555.5 398.3L556.3 398.0L557.1 398.8L557.9 399.6L558.7 400.4L559.5 410.0L560.7 401.6L562.1 415.1L563.7 393.5L565.0 411.2L566.6 389.0L568.2 411.3L569.3 381.7L570.5 419.5L571.7 375.9L572.6 373.7L573.6 391.9L574.4 390.6L575.2 388.6L576.0 386.6L576.8 384.6L577.6 382.2L578.4 379.8L579.2 377.4L580.0 375.8L580.8 374.6L581.6 376.0L582.4 384.0L583.2 392.0L584.0 400.0L584.8 408.0L585.6 390.6L586.6 411.5L587.6 380.2L588.8 375.1L590.3 376.1L591.3 409.7L592.5 382.6L593.5 416.4L594.9 386.7L596.4 404.6L598.1 372.7L599.3 406.9L600.4 380.9L601.2 384.9L602.0 389.7L602.8 394.5L603.6 399.3L604.4 404.1L605.2 408.9L606.0 413.2L606.8 410.0L607.6 406.8L608.4 403.6L609.2 393.4L610.8 414.7L612.3 390.8L613.7 420.0L615.4 390.1L617.0 382.9L617.9 381.0L619.2 397.5L620.0 394.3L620.8 391.1L621.6 387.9L622.4 415.5L623.9 391.2L624.8 415.5L626.4 381.6L627.6 400.3L628.6 373.5L630.0 417.8L631.1 385.5L631.9 389.5L632.7 393.5L633.5 397.5L634.3 399.1L635.1 400.7L635.9 402.3L636.7 373.0L637.6 374.9L638.9 388.1L640.2 392.8L641.8 380.1L643.1 414.5L644.4 372.1L645.5 410.9L647.0 383.3L648.1 417.3L649.0 386.5L650.0 415.5L651.1 395.6L651.9 392.4L652.7 389.2L653.5 386.0L654.3 382.8L655.1 383.3L655.9 385.7L656.7 388.1L657.5 387.9L658.3 383.1L659.1 378.3L659.9 373.9L660.7 373.5L662.2 413.6L663.1 389.4L664.3 410.3L665.7 378.3L667.2 377.3L668.3 379.4L669.9 398.9L670.7 394.9L671.5 390.9L672.3 387.2L673.1 383.6L673.9 380.0L674.7 377.5L675.5 414.5L676.5 378.1L677.4 415.6L678.3 386.2L679.8 414.4L680.6 383.9L682.3 415.6L683.5 374.3L684.4 410.5L685.7 380.7L686.6 390.6L688.3 387.3L689.5 403.6L690.7 377.1L691.5 373.9L692.3 376.2L693.1 378.6L693.9 381.0L694.7 386.1L695.5 392.5L696.3 386.4L697.1 383.8L698.1 378.9L699.1 412.7L700.7 372.6L702.2 379.9L703.6 389.9L704.6 397.0L706.1 381.4L706.9 378.2L707.7 375.7L708.5 374.0L709.3 373.1L710.1 377.6L710.9 382.1L711.7 387.2L712.5 392.8L713.3 398.4L714.1 403.5L714.9 406.7L715.7 409.9L716.5 382.8L718.1 380.0L719.6 377.5L721.1 413.0L721.9 378.1L722.9 381.0L724.0 384.3L725.3 419.6L726.7 380.5L727.5 399.7L728.5 376.7L729.7 413.9L731.0 379.8L732.7 409.5L733.5 387.5L735.2 412.9L736.4 385.9L738.1 408.7L738.9 409.9L739.7 415.1L740.8 390.9L741.9 393.7L742.7 399.3L744.1 419.1L745.0 387.1L745.9 403.1L747.1 383.8L748.4 383.7L749.6 377.6L750.9 415.4L751.9 381.1L753.1 389.9L754.1 399.4L755.4 410.4L756.9 383.9L758.4 377.2L759.2 376.7L760.0 379.3L760.8 385.0L761.6 390.8L762.4 397.2L763.2 403.6L764.0 410.0L764.8 411.4L765.6 412.2L766.4 413.0L767.2 410.1L768.0 404.5L768.8 385.6L769.8 392.7L771.2 401.5L772.1 384.4L773.7 410.3L774.9 376.3L776.2 411.5L777.5 387.7L778.7 414.1L780.3 378.6L781.6 371.6L782.8 371.2L784.2 373.0L785.5 386.4L786.7 412.4L787.6 382.6L789.0 377.7L789.8 374.9L790.6 372.4L791.4 415.3L792.4 370.4L793.4 404.5L794.5 390.0L795.6 428.6L797.2 400.6L798.4 427.5L799.5 400.6L800.6 427.8L801.7 404.2L802.5 408.6L803.3 423.0" stroke="#ff0000" stroke-width="1.9" fill="none" stroke-linejoin="round" stroke-linecap="round" />
<path d="M820.8 415.3L822.9 416.6L825.6 411.3L826.9 395.5L828.2 406.1L829.0 382.3L829.5 385.0L830.3 374.4L830.8 403.4L831.4 377.0L832.2 382.3L832.9 395.5L834.8 392.9L837.4 398.1L840.1 400.8L842.7 404.7L844.6 395.5L846.1 385.0L848.0 383.6L849.3 392.9L850.1 408.7L850.6 388.9L851.4 411.3L851.9 387.6L852.7 414.0L853.3 395.5L854.1 419.3L854.6 392.9L855.4 424.5L855.9 406.1L856.7 427.2L857.2 419.3L858.0 429.8L858.5 408.7L859.9 387.6L860.4 419.3L861.2 382.3L862.0 374.4L862.5 424.5L863.3 379.7L863.8 429.8L864.6 387.6L865.1 408.7L866.5 427.2L867.8 432.4L869.1 433.8L870.4 419.3L873.0 420.6L875.7 419.3L877.0 408.7L878.3 390.2L879.6 382.3L880.4 414.0L881.0 369.1L881.8 419.3L882.3 371.8L883.1 414.0L883.6 392.9L884.4 419.3L884.9 403.4L886.2 406.1L888.9 414.0L891.5 417.9L894.2 411.3L896.8 408.7L898.9 387.6L899.4 408.7L900.0 381.0L900.8 414.0L901.5 387.6L903.4 403.4L906.0 411.3L908.7 406.1L911.3 398.1L913.9 387.6L916.1 385.0L917.9 390.2L919.2 398.1L921.1 403.4L923.2 414.0L925.8 419.3L928.5 424.5L931.1 408.7L933.2 382.3L933.7 411.3L935.1 377.0L935.8 408.7L936.4 379.7L937.7 387.6L939.0 395.5L941.1 408.7L943.8 419.3L945.1 461.5L946.1 424.5L948.2 425.9L949.0 286.8L950.1 424.5L951.7 408.7L953.5 387.6L954.8 378.4L957.0 382.3L958.8 387.6L960.1 395.5L962.8 398.1L965.4 403.4L968.0 406.1L970.7 395.5L972.0 400.8L972.8 419.3L973.3 461.5L974.6 429.8L975.9 461.5L977.3 440.4L978.6 461.5L979.9 445.6L981.2 461.5L982.5 450.9L983.9 461.5L985.2 443.0L986.5 461.5L987.8 440.4L989.1 461.5L990.5 437.7L991.8 461.5L993.1 435.1L994.4 461.5L995.7 432.4L997.1 456.2L998.4 458.8L999.7 453.6L1001.0 429.8L1001.8 377.0L1002.9 374.4L1004.2 385.0L1005.0 408.7L1006.3 416.6L1007.6 414.0L1008.9 419.3L1000.5 377.0L1001.3 429.8L1002.1 382.3L1002.9 443.0L1003.7 385.0L1004.5 435.1L1005.3 403.4L1006.6 408.7L1007.9 419.3" stroke="#ff0000" stroke-width="2.0" fill="none" stroke-linejoin="round" stroke-linecap="round" />
<path d="M820.8 413.8L822.9 415.1L825.6 409.8L826.9 394.0L828.2 404.6L829.0 380.8L829.5 383.5L830.3 372.9L830.8 401.9L831.4 375.5L832.2 380.8L832.9 394.0L834.8 391.4L837.4 396.6L840.1 399.3L842.7 403.2L844.6 394.0L846.1 383.5L848.0 382.1L849.3 391.4L850.1 407.2L850.6 387.4L851.4 409.8L851.9 386.1L852.7 412.5L853.3 394.0L854.1 417.8L854.6 391.4L855.4 423.0L855.9 404.6L856.7 425.7L857.2 417.8L858.0 428.3L858.5 407.2L859.9 386.1L860.4 417.8L861.2 380.8L862.0 372.9L862.5 423.0L863.3 378.2L863.8 428.3L864.6 386.1L865.1 407.2L866.5 425.7L867.8 430.9L869.1 432.3L870.4 417.8L873.0 419.1L875.7 417.8L877.0 407.2L878.3 388.7L879.6 380.8L880.4 412.5L881.0 367.6L881.8 417.8L882.3 370.3L883.1 412.5L883.6 391.4L884.4 417.8L884.9 401.9L886.2 404.6L888.9 412.5L891.5 416.4L894.2 409.8L896.8 407.2L898.9 386.1L899.4 407.2L900.0 379.5L900.8 412.5L901.5 386.1L903.4 401.9L906.0 409.8L908.7 404.6L911.3 396.6L913.9 386.1L916.1 383.5L917.9 388.7L919.2 396.6L921.1 401.9L923.2 412.5L925.8 417.8L928.5 423.0L931.1 407.2L933.2 380.8L933.7 409.8L935.1 375.5L935.8 407.2L936.4 378.2L937.7 386.1L939.0 394.0L941.1 407.2L943.8 417.8L945.1 460.0L946.1 423.0L948.2 424.4L949.0 285.3L950.1 423.0L951.7 407.2L953.5 386.1L954.8 376.9L957.0 380.8L958.8 386.1L960.1 394.0L962.8 396.6L965.4 401.9L968.0 404.6L970.7 394.0L972.0 399.3L972.8 417.8L973.3 460.0L974.6 428.3L975.9 460.0L977.3 438.9L978.6 460.0L979.9 444.1L981.2 460.0L982.5 449.4L983.9 460.0L985.2 441.5L986.5 460.0L987.8 438.9L989.1 460.0L990.5 436.2L991.8 460.0L993.1 433.6L994.4 460.0L995.7 430.9L997.1 454.7L998.4 457.3L999.7 452.1L1001.0 428.3L1001.8 375.5L1002.9 372.9L1004.2 383.5L1005.0 407.2L1006.3 415.1L1007.6 412.5L1008.9 417.8L1000.5 375.5L1001.3 428.3L1002.1 380.8L1002.9 441.5L1003.7 383.5L1004.5 433.6L1005.3 401.9L1006.6 407.2L1007.9 417.8" stroke="#0000ff" stroke-width="2.0" fill="none" stroke-linejoin="round" stroke-linecap="round" />
<path d="M1007.9 417.8L1009.2 419.1L1010.6 425.7L1012.7 428.3L1014.5 417.8L1016.4 401.9L1018.5 380.8L1020.6 376.9L1022.4 376.9L1024.3 383.5L1025.9 401.9L1027.7 409.8L1030.3 413.8L1033.0 417.8L1035.6 419.1L1037.5 412.5L1039.6 396.6L1041.4 380.8L1043.0 382.1L1044.3 391.4L1046.2 396.6L1048.8 400.6L1051.5 401.9L1054.1 401.9L1055.9 391.4L1057.3 384.8L1058.6 391.4L1060.7 404.6L1062.8 409.8L1064.6 401.9L1066.5 396.6L1069.1 394.0L1071.8 387.4L1073.9 378.2L1075.2 380.8L1076.5 391.4L1078.6 401.9L1080.5 412.5L1083.1 419.1L1085.8 423.0L1088.4 427.0L1091.0 427.8L1092.9 420.4L1095.0 396.6L1096.3 383.5L1097.6 376.9L1098.9 380.8L1100.3 394.0L1102.4 401.9L1105.0 407.2L1107.7 409.8L1109.5 411.2L1111.3 404.6L1113.5 391.4L1115.3 386.1L1116.9 387.4L1118.7 396.6L1120.1 401.9L1121.9 403.2L1124.0 400.6L1126.6 396.6L1128.8 391.4L1130.6 386.1L1132.5 386.1L1134.0 394.0L1135.9 407.2L1137.7 419.1L1139.8 423.0L1142.5 421.7L1144.6 420.4L1146.4 412.5L1148.3 391.4L1149.9 380.8L1151.2 374.2L1153.0 374.2L1154.4 383.5L1155.7 407.2L1157.0 428.3L1158.3 454.7L1159.1 462.5L1160.2 454.7L1161.5 444.1L1162.3 454.7L1163.1 304.3L1164.1 309.6L1164.9 460.0L1165.7 318.8L1166.8 333.3L1167.5 454.7L1168.3 404.6L1169.1 454.7L1170.2 404.6L1171.0 454.7L1172.0 375.5L1172.8 293.7L1174.1 460.0L1174.9 375.5L1175.5 372.9L1176.3 412.5" stroke="#ff0000" stroke-width="1.9" fill="none" stroke-linejoin="round" stroke-linecap="round" />
<path d="M849.3 392.9L850.2 415.2L851.8 396.9L853.2 419.2L854.3 400.7L855.6 419.9L856.9 403.9L858.1 428.1L858.9 398.4L859.8 421.4L861.1 383.3L862.6 429.4L864.2 397.3L865.1 420.6L866.5 399.5L867.9 432.1" stroke="#ff0000" stroke-width="1.6" fill="none" stroke-linejoin="round" stroke-linecap="round" />
<path d="M849.3 391.4L850.2 413.7L851.8 395.4L853.2 417.7L854.3 399.2L855.6 418.4L856.9 402.4L858.1 426.6L858.9 396.9L859.8 419.9L861.1 381.8L862.6 427.9L864.2 395.8L865.1 419.1L866.5 398.0L867.9 430.6" stroke="#0000ff" stroke-width="1.6" fill="none" stroke-linejoin="round" stroke-linecap="round" />
<path d="M972.3 403.2L972.9 441.6L973.8 414.3L975.0 451.5L975.8 415.6L976.5 461.3L977.6 416.2L978.4 456.7L979.6 424.5L980.7 456.3L981.4 435.0L982.7 461.3L983.5 441.1L984.4 463.4L985.2 441.8L986.4 458.5L987.7 440.6L989.2 461.6L990.3 442.7L991.5 458.2L992.7 440.9L993.4 462.5L994.3 435.7L995.2 462.9L996.1 438.6L997.1 459.7L997.9 434.7" stroke="#ff0000" stroke-width="1.6" fill="none" stroke-linejoin="round" stroke-linecap="round" />
<path d="M972.3 401.7L972.9 440.1L973.8 412.8L975.0 450.0L975.8 414.1L976.5 459.8L977.6 414.7L978.4 455.2L979.6 423.0L980.7 454.8L981.4 433.5L982.7 459.8L983.5 439.6L984.4 461.9L985.2 440.3L986.4 457.0L987.7 439.1L989.2 460.1L990.3 441.2L991.5 456.7L992.7 439.4L993.4 461.0L994.3 434.2L995.2 461.4L996.1 437.1L997.1 458.2L997.9 433.2" stroke="#0000ff" stroke-width="1.6" fill="none" stroke-linejoin="round" stroke-linecap="round" />
<path d="M825.6 382.6L826.9 410.1L828.1 382.5L829.6 402.6L830.8 377.2L831.9 399.0" stroke="#ff0000" stroke-width="1.6" fill="none" stroke-linejoin="round" stroke-linecap="round" />
<path d="M825.6 381.1L826.9 408.6L828.1 381.0L829.6 401.1L830.8 375.7L831.9 397.5" stroke="#0000ff" stroke-width="1.6" fill="none" stroke-linejoin="round" stroke-linecap="round" />
<path d="M999.7 387.7L1000.9 423.9L1001.8 379.4L1002.6 434.3L1003.3 380.3L1004.5 412.7L1005.9 393.2L1007.0 415.4L1008.0 403.7" stroke="#ff0000" stroke-width="1.6" fill="none" stroke-linejoin="round" stroke-linecap="round" />
<path d="M999.7 386.2L1000.9 422.4L1001.8 377.9L1002.6 432.8L1003.3 378.8L1004.5 411.2L1005.9 391.7L1007.0 413.9L1008.0 402.2" stroke="#0000ff" stroke-width="1.6" fill="none" stroke-linejoin="round" stroke-linecap="round" />
<path d="M248.0 422.8L249.0 458.9L250.3 427.6L251.3 451.1L252.2 434.4L253.4 454.2L254.5 427.6L255.4 449.6L256.3 436.6L257.6 460.5L258.4 434.6L259.7 459.2L260.8 431.9L262.0 450.2L263.2 421.4L264.4 456.3L265.7 438.4L267.0 454.7L268.3 448.4L269.5 458.6L270.2 453.8L271.2 460.8" stroke="#0000ff" stroke-width="1.6" fill="none" stroke-linejoin="round" stroke-linecap="round" />
<path d="M248.0 424.0L249.0 460.1L250.3 428.8L251.3 452.3L252.2 435.6L253.4 455.4L254.5 428.8L255.4 450.8L256.3 437.8L257.6 461.7L258.4 435.8L259.7 460.4L260.8 433.1L262.0 451.4L263.2 422.6L264.4 457.5L265.7 439.6L267.0 455.9L268.3 449.6L269.5 459.8L270.2 455.0L271.2 462.0" stroke="#ff0000" stroke-width="1.7" fill="none" stroke-linejoin="round" stroke-linecap="round" />
<path d="M246.6 688.7L247.9 690.5L249.2 687.9L250.6 691.3L251.9 689.4L253.2 692.3L254.5 690.0L255.8 691.6L257.2 688.7L258.5 692.1L259.8 690.0L261.1 691.6L262.4 690.5L263.7 692.3L265.1 691.6L266.4 687.3L267.7 682.1L269.0 676.8L270.3 668.9L271.7 663.6L273.0 647.8L274.3 613.5L275.6 579.2L276.9 552.8L278.3 550.1L279.6 563.3L280.9 566.0L282.2 563.3L283.5 568.6L284.9 566.0L286.2 568.6L287.5 563.3L288.8 548.8L290.1 546.2L291.5 550.1L292.8 550.1L294.1 550.1L295.4 571.2L296.7 600.3L298.0 616.1L299.4 600.3L300.7 581.8L302.0 552.8L303.3 529.0L304.6 539.6L306.0 566.0L307.3 584.4L308.6 602.9L309.9 605.5L311.2 589.7L312.6 571.2L313.9 566.0L315.2 564.6L316.5 568.6L317.8 600.3L319.2 608.2L320.5 597.6L321.8 610.8L323.1 618.7L324.4 616.1L325.8 584.4L327.1 579.2L328.4 568.6L329.7 563.3L331.0 542.2L332.3 523.7L333.7 518.5L335.0 539.6L336.3 573.9L337.6 608.2L338.9 629.3L340.3 616.1L341.6 600.3L342.9 584.4L344.2 573.9L345.5 600.3L346.9 621.4L348.2 624.0L349.5 616.1L350.8 622.7L352.1 624.0L353.5 621.4L354.8 613.5L356.1 576.5L357.4 550.1L358.7 547.5L360.1 536.9L361.4 535.6L362.7 550.1L364.0 547.5L366.1 548.8L368.0 547.5L370.6 548.8L373.2 539.6L374.6 535.6L375.9 547.5L377.2 558.0L378.5 579.2L379.8 589.7L381.2 584.4L382.5 573.9L383.8 566.0L385.1 555.4L386.4 558.0L387.8 566.0L389.1 576.5L390.4 587.1L391.7 602.9L393.0 605.5L394.4 595.0L395.7 587.1L397.0 573.9L398.3 579.2L399.6 589.7L400.9 581.8L402.3 573.9L403.6 560.7L404.9 571.2L406.2 600.3L407.5 610.8L408.9 616.1L410.2 605.5L411.5 600.3L412.8 610.8L414.1 600.3L415.5 581.8L416.8 587.1L418.1 600.3L419.4 610.8L420.7 616.1L422.1 624.0L423.4 618.7L424.7 610.8L426.0 608.2L427.3 610.8L428.7 616.1" stroke="#ff0000" stroke-width="1.85" fill="none" stroke-linejoin="round" stroke-linecap="round" />
<path d="M72.6 605.5L73.7 597.6L74.7 600.3L75.8 618.7L77.4 633.2L79.2 637.2L81.1 641.2L82.7 637.2L84.5 634.6L85.8 637.2L87.2 624.0L88.5 620.1L89.8 616.1L91.1 618.7L92.4 624.0L93.7 626.6L95.9 629.3L97.7 628.0L99.6 625.3L101.7 625.3L103.5 617.4L104.8 616.1L106.1 622.7L107.5 629.3L109.1 634.6L110.9 639.8L112.2 646.4L113.5 631.9L114.9 621.4L116.2 620.1L117.5 624.0L119.3 613.5L120.9 608.2L122.2 601.6L123.6 613.5L124.9 629.3L126.7 637.2L128.0 646.4L129.4 654.4L130.7 651.7L132.5 653.0L134.1 651.7L136.0 657.0L137.3 654.4L138.6 642.5L139.9 626.6L141.2 613.5L142.6 608.2L143.9 606.9L145.2 610.8L146.5 621.4L147.8 629.3L150.5 629.3L153.1 630.6L155.8 634.6L157.1 635.9L158.4 629.3L159.7 624.0L161.0 621.4L162.3 620.1L163.7 622.7L165.0 631.9L166.3 637.2L167.6 630.6L168.9 629.3L170.3 630.6L172.4 629.3L174.2 624.0L175.5 613.5L176.9 602.9L178.2 608.2L179.5 618.7L180.8 626.6L182.1 634.6L183.5 646.4L185.3 650.4L187.4 651.7L188.7 653.0L190.1 650.4L191.4 642.5L192.7 626.6L194.0 618.7L195.3 613.5L197.2 606.9L199.3 613.5L200.6 618.7L201.9 624.0L204.6 629.3L205.9 637.2L207.2 645.1L208.5 651.7L209.8 654.4L211.7 651.7L213.0 642.5L214.6 624.0L215.6 616.1L217.0 610.8L218.3 618.7L219.9 620.1L221.2 621.4L222.5 624.0L223.8 620.1L225.1 621.4L226.5 631.9L227.8 646.4L229.1 637.2L230.4 634.6L232.3 633.2L233.6 631.9L234.9 634.6L236.2 642.5L237.5 649.1L238.9 626.6L240.2 616.1L241.5 618.7L242.8 624.0L244.1 629.3L245.5 613.5L246.8 610.8L242.6 624.0L244.0 616.1L245.3 613.5L246.6 624.0L247.9 642.5L249.2 655.7L250.6 658.3L251.9 653.0L253.2 650.4L254.5 647.8L255.8 653.0L257.2 647.8L258.5 642.5L260.6 624.0L262.4 610.8L263.7 608.2L265.1 624.0L266.4 642.5L267.7 651.7L269.0 658.3L270.3 668.9L271.7 684.7L273.0 691.3L274.3 691.3L276.1 690.0L277.5 671.5L279.1 647.8L280.4 633.2L281.7 634.6L283.5 642.5L285.4 643.8L287.5 641.2L290.1 642.5L292.8 647.8L294.1 643.8L295.4 637.2L296.7 634.6L298.6 634.6L300.2 639.8L301.2 653.0L303.3 658.3L304.6 642.5L306.0 629.3L307.8 618.7L309.1 624.0L311.2 626.6L313.4 629.3L315.2 637.2L317.0 643.8L319.2 637.2L320.5 635.9L321.8 639.8L323.9 634.6L325.8 624.0L327.1 618.7L328.4 624.0L329.7 637.2L331.0 647.8L333.7 651.7L335.0 658.3L336.3 663.6L337.6 666.2L338.9 663.6L340.3 655.7L341.6 647.8L342.9 637.2L344.2 626.6L345.5 629.3L346.9 647.8L348.2 671.5L350.3 682.1L352.1 690.0L353.5 684.7L354.8 663.6L356.1 653.0L357.4 647.8L358.7 650.4L360.1 655.7L361.4 655.7L363.5 655.7L364.5 642.5L366.1 629.3L368.0 616.1L369.3 605.5L370.6 610.8L371.9 621.4L373.2 634.6L374.6 645.1L375.9 642.5L377.2 637.2L378.5 643.8L379.8 646.4L381.2 637.2L382.5 642.5L383.8 639.8L385.1 642.5L386.4 631.9L387.8 618.7L389.1 621.4L390.4 624.0L391.7 621.4L393.0 631.9L394.4 645.1L395.7 647.8L398.3 642.5L400.9 639.8L403.6 642.5L406.2 639.8L408.9 643.8L411.5 638.5L414.1 634.6L416.8 637.2L418.1 634.6L419.4 637.2L422.1 637.2L424.7 639.8L426.0 647.8L428.7 655.7" stroke="#0000ff" stroke-width="1.85" fill="none" stroke-linejoin="round" stroke-linecap="round" />
<path d="M445.0 629.3L447.6 626.6L450.3 616.1L452.9 608.2L454.2 610.8L455.6 616.1L456.9 624.0L458.2 629.3L459.5 626.6L460.8 618.7L462.2 616.1L463.5 621.4L464.8 626.6L466.1 618.7L468.2 602.9L469.3 593.7L470.9 600.3L472.7 621.4L474.0 634.6L475.3 637.2L476.7 634.6L478.0 629.3L479.3 624.0L480.6 621.4L481.9 618.7L483.3 610.8L484.6 602.9L485.9 597.6L487.2 605.5L488.5 616.1L489.9 626.6L491.2 631.9L492.5 637.2L493.8 631.9L495.1 621.4L496.5 616.1L497.8 616.1L499.1 613.5L500.4 605.5L501.7 601.6L503.0 610.8L504.4 616.1L505.7 617.4L507.0 618.7L508.3 620.1L509.6 616.1L511.0 621.4L512.3 624.0L513.6 610.8L514.9 608.2L516.2 613.5L517.6 624.0L518.9 629.3L520.2 631.9L521.5 633.2L522.8 624.0L524.2 616.1L525.5 613.5L526.8 608.2L528.1 605.5L529.4 602.9L530.8 601.6L532.1 605.5L533.4 616.1L534.7 621.4L536.0 626.6L537.3 616.1L538.7 613.5L540.0 618.7L541.3 624.0L542.6 629.3L543.9 621.4L545.3 610.8L546.6 600.3L547.9 593.7L549.2 602.9L550.5 618.7L551.9 626.6L553.2 631.9L554.5 634.6L555.8 633.2L557.1 631.9L558.5 631.9L559.8 629.3L561.1 626.6L562.4 631.9L563.7 633.2L565.1 634.6L566.4 639.8L567.7 637.2L569.0 629.3L570.3 621.4L571.6 618.7L573.0 624.0L574.3 626.6L575.6 629.3L576.9 624.0L578.2 618.7L579.6 621.4L580.9 626.6L582.2 629.3L583.5 634.6L584.8 639.8L586.2 643.8L587.5 651.7L588.8 647.8L590.1 639.8L591.4 631.9L592.8 621.4L594.1 610.8L595.4 605.5L596.7 604.2L598.0 610.8L599.4 618.7L600.7 624.0L602.0 626.6L603.3 629.3L604.6 631.9L605.9 633.2L607.3 629.3L608.6 626.6L609.9 629.3L611.2 631.9L612.5 629.3L613.9 624.0L615.2 621.4L615.0 622.7L617.6 624.0L620.3 626.6L622.9 624.0L625.6 613.5L626.9 605.5L628.2 601.6L629.5 605.5L630.8 618.7L632.2 626.6L633.5 629.3L634.8 631.9L636.1 634.6L637.4 639.8L638.7 642.5L640.1 643.8L641.4 639.8L642.7 637.2L644.0 634.6L645.3 633.2L646.7 631.9L648.0 631.9L649.3 629.3L650.6 625.3L651.9 626.6L653.3 629.3L654.6 626.6L655.9 624.0L657.2 616.1L658.5 605.5L659.9 601.6L661.2 602.9L662.5 613.5L663.8 624.0L665.1 631.9L666.5 634.6L667.8 637.2L669.1 635.9L670.4 634.6L671.7 626.6L673.0 616.1L674.4 605.5L675.7 604.2L677.0 608.2L678.3 616.1L679.6 621.4L681.0 626.6L682.3 629.3L683.6 631.9L684.9 629.3L686.2 621.4L687.6 616.1L688.9 610.8L690.2 604.2L691.5 608.2L692.8 624.0L694.2 631.9L695.5 633.2L696.8 631.9L698.1 634.6L699.4 635.9L700.8 631.9L702.1 629.3L703.4 629.3L704.7 628.0L706.0 626.6L707.3 629.3L708.7 631.9L710.0 634.6L711.3 633.2L712.6 631.9L713.9 639.8L715.3 643.8L716.6 645.1L717.9 646.4L719.2 645.1L720.5 646.4L721.9 643.8L723.2 639.8L724.5 634.6L725.8 629.3L727.1 626.6L728.5 631.9L729.8 634.6L731.1 635.9L732.4 634.6L733.7 631.9L735.1 629.3L736.4 626.6L737.7 629.3L739.0 633.2L740.3 631.9L741.6 629.3L744.3 626.6L746.9 624.0L748.2 626.6L749.6 634.6L750.9 637.2L752.2 634.6L753.5 631.9L754.8 633.2L756.2 634.6L757.5 637.2L758.8 639.8L760.1 637.2L761.4 631.9L762.8 626.6L764.1 624.0L765.4 621.4L766.7 624.0L768.0 626.6L769.4 624.0L770.7 616.1L772.0 610.8L773.3 605.5L774.6 608.2L775.9 616.1L777.3 624.0L778.6 629.3L779.9 631.9L781.2 629.3L782.5 626.6L783.9 624.0L785.2 618.7L786.5 613.5L787.8 608.2L789.1 602.9L790.5 601.6L791.8 610.8L793.1 624.0L794.4 629.3L797.1 630.6L799.7 631.9L802.3 634.6" stroke="#ff0000" stroke-width="1.85" fill="none" stroke-linejoin="round" stroke-linecap="round" />
<path d="M446.3 616.1L447.6 626.6L449.0 637.2L450.3 642.5L452.9 647.8L455.0 650.4L456.9 645.1L458.2 637.2L459.5 626.6L460.8 621.4L462.2 624.0L463.5 613.5L464.8 600.3L466.1 610.8L467.4 631.9L468.7 643.8L470.1 642.5L471.4 637.2L472.7 633.2L474.0 629.3L475.3 626.6L476.7 628.0L478.0 626.1L479.3 626.6L480.6 624.0L481.9 621.4L483.3 624.0L484.6 629.3L485.9 634.6L487.2 639.8L488.5 642.5L489.9 642.5L491.2 639.8L492.5 637.2L493.8 629.3L495.1 624.0L496.5 618.7L497.8 616.1L499.1 612.1L500.4 613.5L501.7 621.4L503.0 629.3L504.4 634.6L505.7 637.2L507.0 639.8L508.3 641.2L509.6 642.5L511.0 643.8L512.3 642.5L513.6 637.2L514.9 626.6L516.2 618.7L517.6 613.5L518.9 610.8L520.2 606.9L521.5 613.5L522.8 624.0L524.2 631.9L525.5 637.2L526.8 642.5L528.1 643.8L529.4 643.8L532.1 645.1L533.4 637.2L534.7 631.9L536.0 630.6L537.3 637.2L538.7 635.9L540.0 634.6L541.3 631.9L542.6 630.6L543.9 626.6L545.3 629.3L546.6 637.2L547.9 642.5L549.2 645.1L550.5 646.4L551.9 642.5L553.2 631.9L554.5 621.4L555.8 610.8L557.1 608.2L558.5 610.8L559.8 618.7L561.1 624.0L562.4 616.1L563.7 605.5L565.1 601.6L566.4 608.2L567.7 624.0L569.0 629.3L570.3 631.9L571.6 626.6L574.3 621.4L576.9 613.5L579.6 605.5L582.2 610.8L584.8 624.0L586.2 637.2L587.5 645.1L588.8 634.6L590.1 629.3L591.4 624.0L592.8 618.7L595.4 624.0L598.0 626.6L600.7 634.6L603.3 642.5L604.6 637.2L605.9 631.9L607.3 629.3L608.6 626.6L610.7 610.8L611.8 597.6L612.8 600.3L613.9 618.7L615.2 629.3L616.5 631.9L615.0 612.1L616.3 618.7L617.6 629.3L619.0 637.2L620.3 643.8L621.6 646.4L622.9 642.5L624.2 631.9L625.6 626.6L626.9 624.0L628.2 621.4L629.5 624.0L630.8 622.7L632.2 621.4L633.5 626.6L634.8 637.2L636.1 634.6L637.4 626.6L638.7 618.7L640.1 610.8L641.4 608.2L642.7 602.9L644.0 601.6L645.3 610.8L646.7 624.0L648.0 626.6L649.3 624.0L650.6 618.7L651.9 614.8L653.3 613.5L654.6 618.7L655.9 626.6L657.2 634.6L658.5 642.5L659.9 647.8L661.2 651.7L662.5 652.5L663.8 651.7L665.1 649.1L666.5 645.1L667.8 639.8L669.1 631.9L670.4 624.0L671.7 618.7L673.0 616.1L674.4 624.0L675.7 631.9L677.0 637.2L678.3 641.2L679.6 643.8L681.0 639.8L682.3 634.6L683.6 639.8L684.9 637.2L686.2 631.9L687.6 626.6L688.9 621.4L690.2 616.1L691.5 613.5L692.8 617.4L694.2 624.0L695.5 634.6L696.8 642.5L698.1 645.1L699.4 643.8L700.8 639.8L702.1 634.6L703.4 626.6L704.7 616.1L706.0 608.2L707.3 602.9L708.7 602.9L710.0 610.8L711.3 621.4L712.6 629.3L713.9 634.6L715.3 639.8L716.6 637.2L717.9 629.3L719.2 618.7L720.5 610.8L721.9 607.7L723.2 606.9L724.5 608.2L725.8 616.1L727.1 610.8L728.5 606.9L729.8 608.2L731.1 616.1L732.4 624.0L733.7 629.3L735.1 639.8L736.4 642.5L737.7 634.6L739.0 624.0L740.3 613.5L741.6 608.2L743.0 610.8L744.3 616.1L745.6 621.4L746.9 624.0L748.2 621.4L749.6 616.1L750.9 610.8L752.2 608.2L754.8 605.5L757.5 608.2L758.8 616.1L760.1 621.4L761.4 629.3L762.8 631.9L764.1 626.6L765.4 621.4L766.7 618.7L768.0 624.0L769.4 629.3L770.7 637.2L772.0 642.5L773.3 643.8L775.9 643.8L778.6 642.5L779.9 643.8L781.2 639.8L783.9 631.9L785.2 624.0L786.5 618.7L787.8 616.1L789.1 621.4L790.5 629.3L791.8 634.6L794.4 642.5L797.1 649.1L799.7 654.4L802.3 659.6" stroke="#0000ff" stroke-width="1.85" fill="none" stroke-linejoin="round" stroke-linecap="round" />
<path d="M820.8 642.5L822.9 646.4L825.6 637.2L828.2 621.4L829.5 610.8L830.8 604.2L832.2 610.8L833.5 621.4L834.8 629.3L836.1 634.6L837.4 637.2L838.7 631.9L840.1 626.6L841.4 624.0L842.7 629.3L844.0 621.4L845.3 613.5L846.7 612.1L848.0 616.1L849.3 626.6L850.6 637.2L851.9 639.8L853.3 634.6L854.6 637.2L855.9 642.5L857.2 647.8L858.5 653.0L859.9 655.7L862.5 658.3L865.1 659.6L867.8 662.3L869.1 663.6L870.4 658.3L871.7 647.8L873.0 637.2L874.4 626.6L875.7 618.7L877.0 614.8L878.3 618.7L879.6 610.8L881.0 600.3L882.3 602.9L883.6 616.1L884.9 631.9L886.2 642.5L887.6 647.8L888.9 651.7L890.2 655.7L891.5 657.0L892.8 655.7L894.2 650.4L895.5 645.1L896.8 637.2L898.1 626.6L899.4 616.1L900.8 610.8L902.1 621.4L903.4 631.9L904.7 637.2L906.0 639.8L907.3 638.5L908.7 634.6L910.0 631.9L911.3 629.3L912.6 626.6L913.9 624.0L915.3 621.4L916.6 618.7L917.9 616.1L919.2 621.4L920.5 631.9L923.2 642.5L925.8 650.4L928.5 654.4L931.1 653.0L933.7 650.4L936.4 645.1L937.7 637.2L939.0 629.3L940.3 618.7L941.6 617.4L943.0 624.0L944.3 631.9L946.9 639.8L949.6 647.8L952.2 642.5L954.8 637.2L957.5 634.6L960.1 637.2L961.4 642.5L962.8 631.9L965.4 631.9L968.0 637.2L970.7 642.5L973.3 647.8L975.9 655.7L978.6 663.6L981.2 671.5L983.9 675.5L986.5 671.5L989.1 667.5L991.8 664.9L994.4 660.9L997.1 653.0L999.7 634.6L1001.0 616.1L1002.3 604.2L1003.7 608.2L1005.0 621.4L1006.3 637.2L1007.6 645.1L1008.9 647.8L1010.3 647.8L1009.2 649.1L1010.6 650.4L1011.9 655.7L1013.2 658.3L1014.5 650.4L1015.8 634.6L1017.2 621.4L1018.5 610.8L1019.8 608.2L1021.1 606.9L1022.4 608.2L1023.7 616.1L1025.1 631.9L1026.4 639.8L1029.0 645.1L1031.7 647.8L1034.3 650.4L1036.9 642.5L1039.6 626.6L1040.9 616.1L1042.2 612.1L1043.5 616.1L1044.9 624.0L1046.2 626.6L1047.5 629.3L1050.1 631.9L1052.8 633.2L1054.1 629.3L1055.4 621.4L1056.7 616.1L1058.0 618.7L1059.4 626.6L1060.7 634.6L1062.0 639.8L1063.3 639.8L1064.6 631.9L1066.0 629.3L1068.6 626.6L1071.2 621.4L1073.4 613.5L1074.7 609.5L1076.0 613.5L1077.3 624.0L1078.6 634.6L1080.5 645.1L1083.1 650.4L1085.8 653.0L1088.4 657.0L1091.0 658.3L1092.9 653.0L1095.0 637.2L1096.3 618.7L1097.6 608.2L1098.9 608.2L1100.3 616.1L1101.6 629.3L1104.2 637.2L1106.9 639.8L1109.5 641.2L1112.1 634.6L1114.0 624.0L1115.3 617.4L1116.9 618.7L1118.7 629.3L1120.1 631.9L1122.7 631.9L1125.3 629.3L1128.0 626.6L1130.6 618.7L1132.5 616.1L1134.0 621.4L1135.9 634.6L1137.7 645.1L1139.8 653.0L1142.5 653.0L1144.6 651.7L1146.4 645.1L1148.3 629.3L1149.9 616.1L1151.2 608.2L1152.5 604.2L1153.6 610.8L1154.9 626.6L1156.2 647.8L1157.5 666.2L1158.8 684.7L1159.6 692.3L1160.9 684.7L1162.3 676.8L1163.6 678.1L1164.9 684.7L1166.2 682.1L1167.5 686.0L1168.9 684.7L1170.2 683.4L1171.5 684.7L1172.8 683.4L1174.1 687.3L1176.3 691.3" stroke="#ff0000" stroke-width="1.85" fill="none" stroke-linejoin="round" stroke-linecap="round" />
<path d="M820.8 647.8L822.9 645.1L825.6 639.8L828.2 634.6L830.8 630.6L833.5 628.0L836.1 626.6L838.7 629.3L841.4 631.9L844.0 634.6L846.7 631.9L849.3 624.0L850.6 617.4L851.9 618.7L853.3 624.0L854.6 626.6L857.2 624.0L859.9 616.1L862.5 604.2L863.8 608.2L865.1 624.0L866.5 634.6L867.8 642.5L869.1 647.8L870.4 650.4L873.0 650.4L875.7 650.4L878.3 637.2L879.6 624.0L881.0 631.9L882.3 639.8L883.6 645.1L884.9 637.2L886.2 633.2L887.6 634.6L888.9 639.8L891.5 645.1L894.2 642.5L896.8 637.2L899.4 634.6L902.1 633.2L904.7 639.8L906.0 647.8L908.7 643.8L911.3 634.6L913.9 624.0L916.6 614.8L917.9 616.1L919.2 626.6L920.5 631.9L923.2 639.8L925.8 645.1L928.5 646.4L931.1 639.8L932.4 631.9L933.7 616.1L935.1 605.5L936.4 608.2L937.7 621.4L939.0 631.9L941.6 639.8L944.3 645.1L946.9 647.8L949.6 653.0L952.2 639.8L953.5 616.1L954.8 608.2L956.2 610.8L957.5 624.0L958.8 631.9L960.1 634.6L962.8 634.6L965.4 631.9L968.0 629.3L970.7 626.6L972.0 637.2L972.8 653.0L973.3 674.1L974.1 692.3L975.9 692.3L978.6 692.3L981.2 692.3L983.9 692.3L986.5 692.3L989.1 692.3L991.8 692.3L994.4 691.3L997.1 690.0L999.7 682.1L1002.3 663.6L1003.7 655.7L1005.0 647.8L1006.3 643.8L1007.6 642.5" stroke="#0000ff" stroke-width="1.85" fill="none" stroke-linejoin="round" stroke-linecap="round" />
<rect x="400" y="48.5" width="12" height="644.8" fill="rgb(212,212,212)" fill-opacity="0.4"/>
<rect x="557.7" y="48.5" width="15.5" height="644.8" fill="rgb(212,212,212)" fill-opacity="0.4"/>
<rect x="743.9" y="48.5" width="12.899999999999977" height="644.8" fill="rgb(212,212,212)" fill-opacity="0.4"/>
<rect x="869.9" y="48.5" width="15.5" height="644.8" fill="rgb(212,212,212)" fill-opacity="0.4"/>
<circle cx="124.1" cy="583.1" r="7.9" fill="rgb(65,65,255)" fill-opacity="0.8"/>
<path d="M124.1 561.2V605.5M116.1 561.2H132.1M116.1 605.5H132.1" stroke="#0000ff" stroke-width="1.8" fill="none"/>
<circle cx="179.5" cy="560.7" r="7.9" fill="rgb(65,65,255)" fill-opacity="0.8"/>
<path d="M179.5 538.3V582.6M171.5 538.3H187.5M171.5 582.6H187.5" stroke="#0000ff" stroke-width="1.8" fill="none"/>
<circle cx="235.4" cy="683.9" r="7.9" fill="rgb(65,65,255)" fill-opacity="0.8"/>
<path d="M235.4 662.8V693.9M227.4 662.8H243.4M227.4 693.9H243.4" stroke="#0000ff" stroke-width="1.8" fill="none"/>
<circle cx="290.7" cy="662.3" r="7.9" fill="rgb(65,65,255)" fill-opacity="0.8"/>
<path d="M290.7 639.3V683.4M282.7 639.3H298.7M282.7 683.4H298.7" stroke="#0000ff" stroke-width="1.8" fill="none"/>
<circle cx="290.7" cy="683.9" r="7.9" fill="rgb(255,75,75)" fill-opacity="0.8"/>
<path d="M290.7 662.3V693.4M282.7 662.3H298.7M282.7 693.4H298.7" stroke="#ff0000" stroke-width="1.8" fill="none"/>
<circle cx="346.9" cy="546.2" r="7.9" fill="rgb(255,75,75)" fill-opacity="0.8"/>
<path d="M346.9 523.7V568.1M338.9 523.7H354.9M338.9 568.1H354.9" stroke="#ff0000" stroke-width="1.8" fill="none"/>
<circle cx="346.9" cy="610.8" r="7.9" fill="rgb(65,65,255)" fill-opacity="0.8"/>
<path d="M346.9 588.9V632.7M338.9 588.9H354.9M338.9 632.7H354.9" stroke="#0000ff" stroke-width="1.8" fill="none"/>
<circle cx="404.9" cy="626.6" r="7.9" fill="rgb(255,75,75)" fill-opacity="0.8"/>
<path d="M404.9 604.7V649.1M396.9 604.7H412.9M396.9 649.1H412.9" stroke="#ff0000" stroke-width="1.8" fill="none"/>
<circle cx="404.9" cy="663.0" r="7.9" fill="rgb(65,65,255)" fill-opacity="0.8"/>
<path d="M404.9 640.6V684.7M396.9 640.6H412.9M396.9 684.7H412.9" stroke="#0000ff" stroke-width="1.8" fill="none"/>
<circle cx="464.8" cy="574.7" r="7.9" fill="rgb(255,75,75)" fill-opacity="0.8"/>
<path d="M464.8 552.0V596.3M456.8 552.0H472.8M456.8 596.3H472.8" stroke="#ff0000" stroke-width="1.8" fill="none"/>
<circle cx="464.8" cy="617.4" r="7.9" fill="rgb(65,65,255)" fill-opacity="0.8"/>
<path d="M464.8 595.5V639.3M456.8 595.5H472.8M456.8 639.3H472.8" stroke="#0000ff" stroke-width="1.8" fill="none"/>
<circle cx="521.5" cy="537.7" r="7.9" fill="rgb(255,75,75)" fill-opacity="0.8"/>
<path d="M521.5 515.8V560.2M513.5 515.8H529.5M513.5 560.2H529.5" stroke="#ff0000" stroke-width="1.8" fill="none"/>
<circle cx="521.5" cy="578.4" r="7.9" fill="rgb(65,65,255)" fill-opacity="0.8"/>
<path d="M521.5 555.9V600.3M513.5 555.9H529.5M513.5 600.3H529.5" stroke="#0000ff" stroke-width="1.8" fill="none"/>
<circle cx="578.2" cy="589.7" r="7.9" fill="rgb(255,75,75)" fill-opacity="0.8"/>
<path d="M578.2 568.1V612.1M570.2 568.1H586.2M570.2 612.1H586.2" stroke="#ff0000" stroke-width="1.8" fill="none"/>
<circle cx="578.2" cy="626.6" r="7.9" fill="rgb(65,65,255)" fill-opacity="0.8"/>
<path d="M578.2 604.2V649.1M570.2 604.2H586.2M570.2 649.1H586.2" stroke="#0000ff" stroke-width="1.8" fill="none"/>
<circle cx="634.8" cy="649.1" r="7.9" fill="rgb(65,65,255)" fill-opacity="0.8"/>
<path d="M634.8 627.4V671.5M626.8 627.4H642.8M626.8 671.5H642.8" stroke="#0000ff" stroke-width="1.8" fill="none"/>
<circle cx="634.8" cy="678.6" r="7.9" fill="rgb(255,75,75)" fill-opacity="0.8"/>
<path d="M634.8 657.0V693.9M626.8 657.0H642.8M626.8 693.9H642.8" stroke="#ff0000" stroke-width="1.8" fill="none"/>
<circle cx="691.5" cy="672.0" r="7.9" fill="rgb(255,75,75)" fill-opacity="0.8"/>
<path d="M691.5 651.7V692.6M683.5 651.7H699.5M683.5 692.6H699.5" stroke="#ff0000" stroke-width="1.8" fill="none"/>
<circle cx="691.5" cy="670.2" r="7.9" fill="rgb(65,65,255)" fill-opacity="0.8"/>
<path d="M691.5 648.3V692.1M683.5 648.3H699.5M683.5 692.1H699.5" stroke="#0000ff" stroke-width="1.8" fill="none"/>
<circle cx="746.9" cy="589.2" r="7.9" fill="rgb(255,75,75)" fill-opacity="0.8"/>
<path d="M746.9 567.3V611.3M738.9 567.3H754.9M738.9 611.3H754.9" stroke="#ff0000" stroke-width="1.8" fill="none"/>
<circle cx="746.9" cy="625.3" r="7.9" fill="rgb(65,65,255)" fill-opacity="0.8"/>
<path d="M746.9 603.7V647.8M738.9 603.7H754.9M738.9 647.8H754.9" stroke="#0000ff" stroke-width="1.8" fill="none"/>
<circle cx="854.1" cy="535.1" r="7.9" fill="rgb(255,75,75)" fill-opacity="0.8"/>
<path d="M854.1 512.7V557.3M846.1 512.7H862.1M846.1 557.3H862.1" stroke="#ff0000" stroke-width="1.8" fill="none"/>
<circle cx="854.1" cy="563.3" r="7.9" fill="rgb(65,65,255)" fill-opacity="0.8"/>
<path d="M854.1 541.4V585.8M846.1 541.4H862.1M846.1 585.8H862.1" stroke="#0000ff" stroke-width="1.8" fill="none"/>
<circle cx="907.9" cy="650.4" r="7.9" fill="rgb(65,65,255)" fill-opacity="0.8"/>
<path d="M907.9 628.8V672.8M899.9 628.8H915.9M899.9 672.8H915.9" stroke="#0000ff" stroke-width="1.8" fill="none"/>
<circle cx="907.9" cy="671.0" r="7.9" fill="rgb(255,75,75)" fill-opacity="0.8"/>
<path d="M907.9 648.5V692.6M899.9 648.5H915.9M899.9 692.6H915.9" stroke="#ff0000" stroke-width="1.8" fill="none"/>
<circle cx="963.5" cy="569.1" r="7.9" fill="rgb(255,75,75)" fill-opacity="0.8"/>
<path d="M963.5 547.0V591.0M955.5 547.0H971.5M955.5 591.0H971.5" stroke="#ff0000" stroke-width="1.8" fill="none"/>
<circle cx="963.5" cy="633.2" r="7.9" fill="rgb(65,65,255)" fill-opacity="0.8"/>
<path d="M963.5 611.3V655.7M955.5 611.3H971.5M955.5 655.7H971.5" stroke="#0000ff" stroke-width="1.8" fill="none"/>
<circle cx="1017.9" cy="667.0" r="7.9" fill="rgb(255,75,75)" fill-opacity="0.8"/>
<path d="M1017.9 644.6V689.2M1009.9 644.6H1025.9M1009.9 689.2H1025.9" stroke="#ff0000" stroke-width="1.8" fill="none"/>
<circle cx="1072.6" cy="681.3" r="7.9" fill="rgb(255,75,75)" fill-opacity="0.8"/>
<path d="M1072.6 659.1V693.4M1064.6 659.1H1080.6M1064.6 693.4H1080.6" stroke="#ff0000" stroke-width="1.8" fill="none"/>
<circle cx="1127.4" cy="576.5" r="7.9" fill="rgb(255,75,75)" fill-opacity="0.8"/>
<path d="M1127.4 554.1V598.9M1119.4 554.1H1135.4M1119.4 598.9H1135.4" stroke="#ff0000" stroke-width="1.8" fill="none"/>
<path d="M88.82 239.2V234.90M88.82 48.5V52.80M106.44 239.2V234.90M106.44 48.5V52.80M124.06 239.2V234.90M124.06 48.5V52.80M141.68 239.2V234.90M141.68 48.5V52.80M159.30 239.2V232.20M159.30 48.5V55.50M176.92 239.2V234.90M176.92 48.5V52.80M194.54 239.2V234.90M194.54 48.5V52.80M212.16 239.2V234.90M212.16 48.5V52.80M229.78 239.2V234.90M229.78 48.5V52.80M247.40 239.2V232.20M247.40 48.5V55.50M265.02 239.2V234.90M265.02 48.5V52.80M282.64 239.2V234.90M282.64 48.5V52.80M300.26 239.2V234.90M300.26 48.5V52.80M317.88 239.2V234.90M317.88 48.5V52.80M335.50 239.2V232.20M335.50 48.5V55.50M353.12 239.2V234.90M353.12 48.5V52.80M370.74 239.2V234.90M370.74 48.5V52.80M388.36 239.2V234.90M388.36 48.5V52.80M405.98 239.2V234.90M405.98 48.5V52.80M423.60 239.2V232.20M423.60 48.5V55.50M72.5 231.64H76.80M429.5 231.64H425.20M72.5 221.78H76.80M429.5 221.78H425.20M72.5 211.92H76.80M429.5 211.92H425.20M72.5 202.06H76.80M429.5 202.06H425.20M72.5 192.20H79.50M429.5 192.20H422.50M72.5 182.34H76.80M429.5 182.34H425.20M72.5 172.48H76.80M429.5 172.48H425.20M72.5 162.62H76.80M429.5 162.62H425.20M72.5 152.76H76.80M429.5 152.76H425.20M72.5 142.90H79.50M429.5 142.90H422.50M72.5 133.04H76.80M429.5 133.04H425.20M72.5 123.18H76.80M429.5 123.18H425.20M72.5 113.32H76.80M429.5 113.32H425.20M72.5 103.46H76.80M429.5 103.46H425.20M72.5 93.60H79.50M429.5 93.60H422.50M72.5 83.74H76.80M429.5 83.74H425.20M72.5 73.88H76.80M429.5 73.88H425.20M72.5 64.02H76.80M429.5 64.02H425.20M72.5 54.16H76.80M429.5 54.16H425.20" stroke="#4a4a4a" stroke-width="1.1" fill="none"/>
<rect x="72.5" y="48.5" width="357.0" height="190.7" stroke="#4a4a4a" stroke-width="1.3" fill="none"/>
<path d="M88.42 463.5V459.20M88.42 275.4V279.70M106.04 463.5V459.20M106.04 275.4V279.70M123.66 463.5V459.20M123.66 275.4V279.70M141.28 463.5V459.20M141.28 275.4V279.70M158.90 463.5V456.50M158.90 275.4V282.40M176.52 463.5V459.20M176.52 275.4V279.70M194.14 463.5V459.20M194.14 275.4V279.70M211.76 463.5V459.20M211.76 275.4V279.70M229.38 463.5V459.20M229.38 275.4V279.70M247.00 463.5V456.50M247.00 275.4V282.40M264.62 463.5V459.20M264.62 275.4V279.70M282.24 463.5V459.20M282.24 275.4V279.70M299.86 463.5V459.20M299.86 275.4V279.70M317.48 463.5V459.20M317.48 275.4V279.70M335.10 463.5V456.50M335.10 275.4V282.40M352.72 463.5V459.20M352.72 275.4V279.70M370.34 463.5V459.20M370.34 275.4V279.70M387.96 463.5V459.20M387.96 275.4V279.70M405.58 463.5V459.20M405.58 275.4V279.70M423.20 463.5V456.50M423.20 275.4V282.40M72 456.34H76.30M429.5 456.34H425.20M72 446.78H76.30M429.5 446.78H425.20M72 437.22H76.30M429.5 437.22H425.20M72 427.66H76.30M429.5 427.66H425.20M72 418.10H79.00M429.5 418.10H422.50M72 408.54H76.30M429.5 408.54H425.20M72 398.98H76.30M429.5 398.98H425.20M72 389.42H76.30M429.5 389.42H425.20M72 379.86H76.30M429.5 379.86H425.20M72 370.30H79.00M429.5 370.30H422.50M72 360.74H76.30M429.5 360.74H425.20M72 351.18H76.30M429.5 351.18H425.20M72 341.62H76.30M429.5 341.62H425.20M72 332.06H76.30M429.5 332.06H425.20M72 322.50H79.00M429.5 322.50H422.50M72 312.94H76.30M429.5 312.94H425.20M72 303.38H76.30M429.5 303.38H425.20M72 293.82H76.30M429.5 293.82H425.20M72 284.26H76.30M429.5 284.26H425.20" stroke="#4a4a4a" stroke-width="1.1" fill="none"/>
<rect x="72" y="275.4" width="357.5" height="188.10000000000002" stroke="#4a4a4a" stroke-width="1.3" fill="none"/>
<path d="M87.42 693.3V689.00M87.42 505.4V509.70M105.04 693.3V689.00M105.04 505.4V509.70M122.66 693.3V689.00M122.66 505.4V509.70M140.28 693.3V689.00M140.28 505.4V509.70M157.90 693.3V686.30M157.90 505.4V512.40M175.52 693.3V689.00M175.52 505.4V509.70M193.14 693.3V689.00M193.14 505.4V509.70M210.76 693.3V689.00M210.76 505.4V509.70M228.38 693.3V689.00M228.38 505.4V509.70M246.00 693.3V686.30M246.00 505.4V512.40M263.62 693.3V689.00M263.62 505.4V509.70M281.24 693.3V689.00M281.24 505.4V509.70M298.86 693.3V689.00M298.86 505.4V509.70M316.48 693.3V689.00M316.48 505.4V509.70M334.10 693.3V686.30M334.10 505.4V512.40M351.72 693.3V689.00M351.72 505.4V509.70M369.34 693.3V689.00M369.34 505.4V509.70M386.96 693.3V689.00M386.96 505.4V509.70M404.58 693.3V689.00M404.58 505.4V509.70M422.20 693.3V686.30M422.20 505.4V512.40M71.7 686.57H76.00M429.5 686.57H425.20M71.7 677.04H76.00M429.5 677.04H425.20M71.7 667.51H76.00M429.5 667.51H425.20M71.7 657.98H76.00M429.5 657.98H425.20M71.7 648.45H78.70M429.5 648.45H422.50M71.7 638.92H76.00M429.5 638.92H425.20M71.7 629.39H76.00M429.5 629.39H425.20M71.7 619.86H76.00M429.5 619.86H425.20M71.7 610.33H76.00M429.5 610.33H425.20M71.7 600.80H78.70M429.5 600.80H422.50M71.7 591.27H76.00M429.5 591.27H425.20M71.7 581.74H76.00M429.5 581.74H425.20M71.7 572.21H76.00M429.5 572.21H425.20M71.7 562.68H76.00M429.5 562.68H425.20M71.7 553.15H78.70M429.5 553.15H422.50M71.7 543.62H76.00M429.5 543.62H425.20M71.7 534.09H76.00M429.5 534.09H425.20M71.7 524.56H76.00M429.5 524.56H425.20M71.7 515.03H76.00M429.5 515.03H425.20" stroke="#4a4a4a" stroke-width="1.1" fill="none"/>
<rect x="71.7" y="505.4" width="357.8" height="187.89999999999998" stroke="#4a4a4a" stroke-width="1.3" fill="none"/>
<path d="M462.40 239.2V234.90M462.40 48.5V52.80M480.00 239.2V234.90M480.00 48.5V52.80M497.60 239.2V234.90M497.60 48.5V52.80M515.20 239.2V234.90M515.20 48.5V52.80M532.80 239.2V232.20M532.80 48.5V55.50M550.40 239.2V234.90M550.40 48.5V52.80M568.00 239.2V234.90M568.00 48.5V52.80M585.60 239.2V234.90M585.60 48.5V52.80M603.20 239.2V234.90M603.20 48.5V52.80M620.80 239.2V232.20M620.80 48.5V55.50M638.40 239.2V234.90M638.40 48.5V52.80M656.00 239.2V234.90M656.00 48.5V52.80M673.60 239.2V234.90M673.60 48.5V52.80M691.20 239.2V234.90M691.20 48.5V52.80M708.80 239.2V232.20M708.80 48.5V55.50M726.40 239.2V234.90M726.40 48.5V52.80M744.00 239.2V234.90M744.00 48.5V52.80M761.60 239.2V234.90M761.60 48.5V52.80M779.20 239.2V234.90M779.20 48.5V52.80M796.80 239.2V232.20M796.80 48.5V55.50M447.20000000000005 231.64H451.50M802.7 231.64H798.40M447.20000000000005 221.78H451.50M802.7 221.78H798.40M447.20000000000005 211.92H451.50M802.7 211.92H798.40M447.20000000000005 202.06H451.50M802.7 202.06H798.40M447.20000000000005 192.20H454.20M802.7 192.20H795.70M447.20000000000005 182.34H451.50M802.7 182.34H798.40M447.20000000000005 172.48H451.50M802.7 172.48H798.40M447.20000000000005 162.62H451.50M802.7 162.62H798.40M447.20000000000005 152.76H451.50M802.7 152.76H798.40M447.20000000000005 142.90H454.20M802.7 142.90H795.70M447.20000000000005 133.04H451.50M802.7 133.04H798.40M447.20000000000005 123.18H451.50M802.7 123.18H798.40M447.20000000000005 113.32H451.50M802.7 113.32H798.40M447.20000000000005 103.46H451.50M802.7 103.46H798.40M447.20000000000005 93.60H454.20M802.7 93.60H795.70M447.20000000000005 83.74H451.50M802.7 83.74H798.40M447.20000000000005 73.88H451.50M802.7 73.88H798.40M447.20000000000005 64.02H451.50M802.7 64.02H798.40M447.20000000000005 54.16H451.50M802.7 54.16H798.40" stroke="#4a4a4a" stroke-width="1.1" fill="none"/>
<rect x="447.20000000000005" y="48.5" width="355.5" height="190.7" stroke="#4a4a4a" stroke-width="1.3" fill="none"/>
<path d="M462.00 463.5V459.20M462.00 275.4V279.70M479.60 463.5V459.20M479.60 275.4V279.70M497.20 463.5V459.20M497.20 275.4V279.70M514.80 463.5V459.20M514.80 275.4V279.70M532.40 463.5V456.50M532.40 275.4V282.40M550.00 463.5V459.20M550.00 275.4V279.70M567.60 463.5V459.20M567.60 275.4V279.70M585.20 463.5V459.20M585.20 275.4V279.70M602.80 463.5V459.20M602.80 275.4V279.70M620.40 463.5V456.50M620.40 275.4V282.40M638.00 463.5V459.20M638.00 275.4V279.70M655.60 463.5V459.20M655.60 275.4V279.70M673.20 463.5V459.20M673.20 275.4V279.70M690.80 463.5V459.20M690.80 275.4V279.70M708.40 463.5V456.50M708.40 275.4V282.40M726.00 463.5V459.20M726.00 275.4V279.70M743.60 463.5V459.20M743.60 275.4V279.70M761.20 463.5V459.20M761.20 275.4V279.70M778.80 463.5V459.20M778.80 275.4V279.70M796.40 463.5V456.50M796.40 275.4V282.40M447.20000000000005 456.34H451.50M802.7 456.34H798.40M447.20000000000005 446.78H451.50M802.7 446.78H798.40M447.20000000000005 437.22H451.50M802.7 437.22H798.40M447.20000000000005 427.66H451.50M802.7 427.66H798.40M447.20000000000005 418.10H454.20M802.7 418.10H795.70M447.20000000000005 408.54H451.50M802.7 408.54H798.40M447.20000000000005 398.98H451.50M802.7 398.98H798.40M447.20000000000005 389.42H451.50M802.7 389.42H798.40M447.20000000000005 379.86H451.50M802.7 379.86H798.40M447.20000000000005 370.30H454.20M802.7 370.30H795.70M447.20000000000005 360.74H451.50M802.7 360.74H798.40M447.20000000000005 351.18H451.50M802.7 351.18H798.40M447.20000000000005 341.62H451.50M802.7 341.62H798.40M447.20000000000005 332.06H451.50M802.7 332.06H798.40M447.20000000000005 322.50H454.20M802.7 322.50H795.70M447.20000000000005 312.94H451.50M802.7 312.94H798.40M447.20000000000005 303.38H451.50M802.7 303.38H798.40M447.20000000000005 293.82H451.50M802.7 293.82H798.40M447.20000000000005 284.26H451.50M802.7 284.26H798.40" stroke="#4a4a4a" stroke-width="1.1" fill="none"/>
<rect x="447.20000000000005" y="275.4" width="355.5" height="188.10000000000002" stroke="#4a4a4a" stroke-width="1.3" fill="none"/>
<path d="M461.00 693.3V689.00M461.00 505.4V509.70M478.60 693.3V689.00M478.60 505.4V509.70M496.20 693.3V689.00M496.20 505.4V509.70M513.80 693.3V689.00M513.80 505.4V509.70M531.40 693.3V686.30M531.40 505.4V512.40M549.00 693.3V689.00M549.00 505.4V509.70M566.60 693.3V689.00M566.60 505.4V509.70M584.20 693.3V689.00M584.20 505.4V509.70M601.80 693.3V689.00M601.80 505.4V509.70M619.40 693.3V686.30M619.40 505.4V512.40M637.00 693.3V689.00M637.00 505.4V509.70M654.60 693.3V689.00M654.60 505.4V509.70M672.20 693.3V689.00M672.20 505.4V509.70M689.80 693.3V689.00M689.80 505.4V509.70M707.40 693.3V686.30M707.40 505.4V512.40M725.00 693.3V689.00M725.00 505.4V509.70M742.60 693.3V689.00M742.60 505.4V509.70M760.20 693.3V689.00M760.20 505.4V509.70M777.80 693.3V689.00M777.80 505.4V509.70M795.40 693.3V686.30M795.40 505.4V512.40M445.70000000000005 686.57H450.00M802.7 686.57H798.40M445.70000000000005 677.04H450.00M802.7 677.04H798.40M445.70000000000005 667.51H450.00M802.7 667.51H798.40M445.70000000000005 657.98H450.00M802.7 657.98H798.40M445.70000000000005 648.45H452.70M802.7 648.45H795.70M445.70000000000005 638.92H450.00M802.7 638.92H798.40M445.70000000000005 629.39H450.00M802.7 629.39H798.40M445.70000000000005 619.86H450.00M802.7 619.86H798.40M445.70000000000005 610.33H450.00M802.7 610.33H798.40M445.70000000000005 600.80H452.70M802.7 600.80H795.70M445.70000000000005 591.27H450.00M802.7 591.27H798.40M445.70000000000005 581.74H450.00M802.7 581.74H798.40M445.70000000000005 572.21H450.00M802.7 572.21H798.40M445.70000000000005 562.68H450.00M802.7 562.68H798.40M445.70000000000005 553.15H452.70M802.7 553.15H795.70M445.70000000000005 543.62H450.00M802.7 543.62H798.40M445.70000000000005 534.09H450.00M802.7 534.09H798.40M445.70000000000005 524.56H450.00M802.7 524.56H798.40M445.70000000000005 515.03H450.00M802.7 515.03H798.40" stroke="#4a4a4a" stroke-width="1.1" fill="none"/>
<rect x="445.70000000000005" y="505.4" width="357.0" height="187.89999999999998" stroke="#4a4a4a" stroke-width="1.3" fill="none"/>
<path d="M838.00 239.2V234.90M838.00 48.5V52.80M855.60 239.2V234.90M855.60 48.5V52.80M873.20 239.2V234.90M873.20 48.5V52.80M890.80 239.2V234.90M890.80 48.5V52.80M908.40 239.2V232.20M908.40 48.5V55.50M926.00 239.2V234.90M926.00 48.5V52.80M943.60 239.2V234.90M943.60 48.5V52.80M961.20 239.2V234.90M961.20 48.5V52.80M978.80 239.2V234.90M978.80 48.5V52.80M996.40 239.2V232.20M996.40 48.5V55.50M1014.00 239.2V234.90M1014.00 48.5V52.80M1031.60 239.2V234.90M1031.60 48.5V52.80M1049.20 239.2V234.90M1049.20 48.5V52.80M1066.80 239.2V234.90M1066.80 48.5V52.80M1084.40 239.2V232.20M1084.40 48.5V55.50M1102.00 239.2V234.90M1102.00 48.5V52.80M1119.60 239.2V234.90M1119.60 48.5V52.80M1137.20 239.2V234.90M1137.20 48.5V52.80M1154.80 239.2V234.90M1154.80 48.5V52.80M1172.40 239.2V232.20M1172.40 48.5V55.50M821.1 231.64H825.40M1176.6 231.64H1172.30M821.1 221.78H825.40M1176.6 221.78H1172.30M821.1 211.92H825.40M1176.6 211.92H1172.30M821.1 202.06H825.40M1176.6 202.06H1172.30M821.1 192.20H828.10M1176.6 192.20H1169.60M821.1 182.34H825.40M1176.6 182.34H1172.30M821.1 172.48H825.40M1176.6 172.48H1172.30M821.1 162.62H825.40M1176.6 162.62H1172.30M821.1 152.76H825.40M1176.6 152.76H1172.30M821.1 142.90H828.10M1176.6 142.90H1169.60M821.1 133.04H825.40M1176.6 133.04H1172.30M821.1 123.18H825.40M1176.6 123.18H1172.30M821.1 113.32H825.40M1176.6 113.32H1172.30M821.1 103.46H825.40M1176.6 103.46H1172.30M821.1 93.60H828.10M1176.6 93.60H1169.60M821.1 83.74H825.40M1176.6 83.74H1172.30M821.1 73.88H825.40M1176.6 73.88H1172.30M821.1 64.02H825.40M1176.6 64.02H1172.30M821.1 54.16H825.40M1176.6 54.16H1172.30" stroke="#4a4a4a" stroke-width="1.1" fill="none"/>
<rect x="821.1" y="48.5" width="355.4999999999999" height="190.7" stroke="#4a4a4a" stroke-width="1.3" fill="none"/>
<path d="M837.60 463.5V459.20M837.60 275.4V279.70M855.20 463.5V459.20M855.20 275.4V279.70M872.80 463.5V459.20M872.80 275.4V279.70M890.40 463.5V459.20M890.40 275.4V279.70M908.00 463.5V456.50M908.00 275.4V282.40M925.60 463.5V459.20M925.60 275.4V279.70M943.20 463.5V459.20M943.20 275.4V279.70M960.80 463.5V459.20M960.80 275.4V279.70M978.40 463.5V459.20M978.40 275.4V279.70M996.00 463.5V456.50M996.00 275.4V282.40M1013.60 463.5V459.20M1013.60 275.4V279.70M1031.20 463.5V459.20M1031.20 275.4V279.70M1048.80 463.5V459.20M1048.80 275.4V279.70M1066.40 463.5V459.20M1066.40 275.4V279.70M1084.00 463.5V456.50M1084.00 275.4V282.40M1101.60 463.5V459.20M1101.60 275.4V279.70M1119.20 463.5V459.20M1119.20 275.4V279.70M1136.80 463.5V459.20M1136.80 275.4V279.70M1154.40 463.5V459.20M1154.40 275.4V279.70M1172.00 463.5V456.50M1172.00 275.4V282.40M821.1 456.34H825.40M1176.6 456.34H1172.30M821.1 446.78H825.40M1176.6 446.78H1172.30M821.1 437.22H825.40M1176.6 437.22H1172.30M821.1 427.66H825.40M1176.6 427.66H1172.30M821.1 418.10H828.10M1176.6 418.10H1169.60M821.1 408.54H825.40M1176.6 408.54H1172.30M821.1 398.98H825.40M1176.6 398.98H1172.30M821.1 389.42H825.40M1176.6 389.42H1172.30M821.1 379.86H825.40M1176.6 379.86H1172.30M821.1 370.30H828.10M1176.6 370.30H1169.60M821.1 360.74H825.40M1176.6 360.74H1172.30M821.1 351.18H825.40M1176.6 351.18H1172.30M821.1 341.62H825.40M1176.6 341.62H1172.30M821.1 332.06H825.40M1176.6 332.06H1172.30M821.1 322.50H828.10M1176.6 322.50H1169.60M821.1 312.94H825.40M1176.6 312.94H1172.30M821.1 303.38H825.40M1176.6 303.38H1172.30M821.1 293.82H825.40M1176.6 293.82H1172.30M821.1 284.26H825.40M1176.6 284.26H1172.30" stroke="#4a4a4a" stroke-width="1.1" fill="none"/>
<rect x="821.1" y="275.4" width="355.4999999999999" height="188.10000000000002" stroke="#4a4a4a" stroke-width="1.3" fill="none"/>
<path d="M836.60 693.3V689.00M836.60 505.4V509.70M854.20 693.3V689.00M854.20 505.4V509.70M871.80 693.3V689.00M871.80 505.4V509.70M889.40 693.3V689.00M889.40 505.4V509.70M907.00 693.3V686.30M907.00 505.4V512.40M924.60 693.3V689.00M924.60 505.4V509.70M942.20 693.3V689.00M942.20 505.4V509.70M959.80 693.3V689.00M959.80 505.4V509.70M977.40 693.3V689.00M977.40 505.4V509.70M995.00 693.3V686.30M995.00 505.4V512.40M1012.60 693.3V689.00M1012.60 505.4V509.70M1030.20 693.3V689.00M1030.20 505.4V509.70M1047.80 693.3V689.00M1047.80 505.4V509.70M1065.40 693.3V689.00M1065.40 505.4V509.70M1083.00 693.3V686.30M1083.00 505.4V512.40M1100.60 693.3V689.00M1100.60 505.4V509.70M1118.20 693.3V689.00M1118.20 505.4V509.70M1135.80 693.3V689.00M1135.80 505.4V509.70M1153.40 693.3V689.00M1153.40 505.4V509.70M1171.00 693.3V686.30M1171.00 505.4V512.40M821.1 686.57H825.40M1176.6 686.57H1172.30M821.1 677.04H825.40M1176.6 677.04H1172.30M821.1 667.51H825.40M1176.6 667.51H1172.30M821.1 657.98H825.40M1176.6 657.98H1172.30M821.1 648.45H828.10M1176.6 648.45H1169.60M821.1 638.92H825.40M1176.6 638.92H1172.30M821.1 629.39H825.40M1176.6 629.39H1172.30M821.1 619.86H825.40M1176.6 619.86H1172.30M821.1 610.33H825.40M1176.6 610.33H1172.30M821.1 600.80H828.10M1176.6 600.80H1169.60M821.1 591.27H825.40M1176.6 591.27H1172.30M821.1 581.74H825.40M1176.6 581.74H1172.30M821.1 572.21H825.40M1176.6 572.21H1172.30M821.1 562.68H825.40M1176.6 562.68H1172.30M821.1 553.15H828.10M1176.6 553.15H1169.60M821.1 543.62H825.40M1176.6 543.62H1172.30M821.1 534.09H825.40M1176.6 534.09H1172.30M821.1 524.56H825.40M1176.6 524.56H1172.30M821.1 515.03H825.40M1176.6 515.03H1172.30" stroke="#4a4a4a" stroke-width="1.1" fill="none"/>
<rect x="821.1" y="505.4" width="355.4999999999999" height="187.89999999999998" stroke="#4a4a4a" stroke-width="1.3" fill="none"/>
<rect x="618.6" y="367.1" width="41.8" height="54.6" fill="none" stroke="#000" stroke-width="1.8" stroke-dasharray="6 3.5"/>
<rect x="605.9" y="283" width="125.39999999999998" height="51.10000000000002" fill="#fff" stroke="#c8c8c8" stroke-width="0.8" stroke-dasharray="1 1.2"/>
<path d="M606.2 308.9L606.4 311.1L606.6 312.3L606.9 313.2L607.1 314.0L607.3 314.7L607.5 315.3L607.8 315.9L608.0 316.5L608.2 317.0L608.4 317.5L608.7 317.9L608.9 318.4L609.1 318.7L609.3 319.1L609.6 319.4L609.8 319.7L610.0 320.0L610.2 320.3L610.5 320.5L610.7 320.7L610.9 320.9L611.1 321.1L611.4 321.2L611.6 321.4L611.8 321.5L612.0 321.5L612.3 321.6L612.5 321.6L612.7 321.6L612.9 321.6L613.2 321.6L613.4 321.5L613.6 311.1L613.8 315.2L614.1 318.6L614.3 321.2L614.5 322.5L614.7 322.5L615.0 321.2L615.2 318.6L615.4 315.2L615.6 311.1L615.9 311.1L616.1 315.2L616.3 318.6L616.5 321.2L616.8 322.5L617.0 322.5L617.2 321.2L617.4 318.6L617.7 315.2L617.9 311.1L618.1 314.3L618.3 313.6L618.6 312.7L618.8 311.7L619.0 310.4L619.2 308.9L619.5 308.9L619.7 308.9L619.9 308.9L620.1 308.9L620.4 308.9L620.6 308.9L620.8 308.9L621.0 308.9L621.3 308.9L621.5 308.9L621.7 308.9L621.9 308.9L622.2 308.9L622.4 308.9L622.6 308.9L622.8 308.9L623.1 308.9L623.3 309.7L623.5 309.5L623.7 309.2L624.0 308.9L624.2 308.7L624.4 308.4L624.6 308.2L624.9 307.9L625.1 307.7L625.3 307.4L625.5 307.2L625.8 306.9L626.0 306.7L626.2 306.4L626.4 306.1L626.7 305.9L626.9 305.6L627.1 305.4L627.3 305.1L627.6 304.9L627.8 304.6L628.0 304.4L628.2 304.1L628.5 303.9L628.7 303.6L628.9 304.4L629.1 303.2L629.4 302.6L629.6 302.7L629.8 303.3L630.0 304.6L630.3 306.3L630.5 308.4L630.7 310.6L630.9 312.8L631.2 314.7L631.4 316.3L631.6 317.2L631.8 317.4L632.1 316.9L632.3 315.7L632.5 313.7L632.7 311.3L633.0 308.4L633.2 305.4L633.4 302.5L633.6 299.9L633.9 297.8L634.1 296.4L634.3 295.7L634.5 295.9L634.8 296.8L635.0 298.6L635.2 300.9L635.4 303.6L635.7 306.6L635.9 309.5L636.1 312.2L636.3 314.4L636.6 316.1L636.8 317.0L637.0 317.3L637.2 316.7L637.5 315.6L637.7 313.9L637.9 311.9L638.1 309.7L638.4 307.6L638.6 305.7L638.8 304.2L639.0 303.3L639.3 303.0L639.5 303.3L639.7 304.4L639.9 307.3L640.2 304.8L640.4 304.9L640.6 305.0L640.8 305.2L641.1 305.3L641.3 305.4L641.5 305.6L641.7 305.7L642.0 305.8L642.2 305.9L642.4 306.1L642.6 306.2L642.9 306.3L643.1 306.4L643.3 306.6L643.5 306.7L643.8 306.8L644.0 306.9L644.2 307.1L644.4 307.2L644.7 307.3L644.9 307.5L645.1 307.6L645.3 307.7L645.6 307.8L645.8 308.0L646.0 308.1L646.2 308.2L646.5 308.3L646.7 308.5L646.9 308.6L647.1 308.7L647.4 308.9L647.6 309.0L647.8 309.1L648.0 309.2L648.3 309.4L648.5 309.5L648.7 309.6L648.9 309.7L649.2 309.9L649.4 310.0L649.6 310.1L649.8 310.3L650.1 310.4L650.3 310.5L650.5 310.6L650.7 310.8L651.0 310.9L651.2 311.0L651.4 311.1L651.6 311.3L651.9 311.4L652.1 311.5L652.3 311.7L652.5 311.8L652.8 311.9L653.0 312.0L653.2 312.2L653.4 312.3L653.7 312.4L653.9 312.5L654.1 312.6L654.3 312.6L654.6 312.6L654.8 312.6L655.0 312.6L655.2 312.6L655.5 312.6L655.7 312.6L655.9 312.6L656.1 312.6L656.4 312.6L656.6 312.6L656.8 312.6L657.0 312.6L657.3 312.6L657.5 312.6L657.7 312.6L657.9 312.6L658.2 312.6L658.4 312.6L658.6 312.6L658.8 312.6L659.1 312.6L659.3 312.6L659.5 312.6L659.7 312.6L660.0 312.6L660.2 312.6L660.4 312.6L660.6 312.6L660.9 312.6L661.1 312.6L661.3 312.6L661.5 312.6L661.8 312.6L662.0 312.6L662.2 312.6L662.4 312.6L662.7 312.6L662.9 312.6L663.1 312.6L663.3 312.6L663.6 312.6L663.8 312.6L664.0 312.6L664.2 312.6L664.5 312.6L664.7 312.6L664.9 312.6L665.1 312.6L665.4 312.6L665.6 312.6L665.8 312.6L666.0 312.6L666.3 312.6L666.5 312.6L666.7 312.6L666.9 312.6L667.2 312.6L667.4 312.6L667.6 312.6L667.8 312.6L668.1 312.6L668.3 312.6L668.5 312.6L668.7 312.6L669.0 312.6L669.2 312.6L669.4 312.6L669.6 312.6L669.9 312.6L670.1 312.6L670.3 312.6L670.5 312.6L670.8 312.6L671.0 307.5L671.2 306.8L671.4 306.1L671.7 305.5L671.9 305.0L672.1 304.8L672.3 304.9L672.6 305.4L672.8 306.1L673.0 307.2L673.2 308.5L673.5 309.9L673.7 311.4L673.9 312.7L674.1 313.7L674.4 314.4L674.6 314.7L674.8 314.4L675.0 313.6L675.3 312.4L675.5 310.7L675.7 308.7L675.9 306.5L676.2 304.2L676.4 302.2L676.6 300.4L676.8 299.1L677.1 298.4L677.3 298.3L677.5 298.9L677.7 300.2L678.0 302.1L678.2 304.5L678.4 307.1L678.6 310.0L678.9 312.7L679.1 315.2L679.3 317.2L679.5 318.6L679.8 319.3L680.0 319.1L680.2 318.2L680.4 316.5L680.7 314.2L680.9 311.4L681.1 308.2L681.3 305.0L681.6 302.0L681.8 299.3L682.0 297.3L682.2 295.9L682.5 295.3L682.7 295.7L682.9 296.9L683.1 298.8L683.4 301.5L683.6 304.5L683.8 307.8L684.0 311.2L684.3 314.3L684.5 316.9L684.7 318.9L684.9 320.2L685.2 320.5L685.4 320.0L685.6 318.6L685.8 316.5L686.1 313.8L686.3 310.7L686.5 307.4L686.7 304.2L687.0 301.3L687.2 298.8L687.4 297.0L687.6 296.0L687.9 295.9L688.1 296.5L688.3 298.0L688.5 300.1L688.8 302.7L689.0 305.6L689.2 308.6L689.4 311.5L689.7 314.0L689.9 316.1L690.1 317.5L690.3 318.2L690.6 318.2L690.8 317.5L691.0 316.1L691.2 314.2L691.5 311.9L691.7 309.4L691.9 306.9L692.1 304.6L692.4 302.6L692.6 301.1L692.8 300.1L693.0 299.7L693.3 299.9L693.5 300.7L693.7 301.9L693.9 303.4L694.2 305.2L694.4 307.0L694.6 308.7L694.8 310.2L695.1 311.4L695.3 312.2L695.5 312.6L695.7 312.6L696.0 312.2L696.2 311.6L696.4 310.7L696.6 309.8L696.9 308.9L697.1 308.1L697.3 307.5L697.5 307.3L697.8 307.4L698.0 313.1L698.2 313.1L698.4 313.1L698.7 313.1L698.9 313.1L699.1 312.2L699.3 311.7L699.6 311.3L699.8 311.0L700.0 310.8L700.2 310.8L700.5 310.8L700.7 311.0L700.9 311.3L701.1 311.6L701.4 312.1L701.6 312.6L701.8 313.1L702.0 313.7L702.3 314.2L702.5 314.6L702.7 315.0L702.9 315.3L703.2 315.5L703.4 315.5L703.6 315.4L703.8 315.2L704.1 314.9L704.3 314.5L704.5 314.1L704.7 313.5L705.0 313.0L705.2 312.5L705.4 312.0L705.6 311.5L705.9 311.2L706.1 310.9L706.3 310.8L706.5 310.8L706.8 310.9L707.0 311.1L707.2 311.4L707.4 311.9L707.7 312.3L707.9 312.9L708.1 313.4L708.3 313.9L708.6 314.4L708.8 314.9L709.0 315.2L709.2 315.4L709.5 315.5L709.7 315.5L709.9 315.4L710.1 315.1L710.4 306.6L710.6 307.2L710.8 307.8L711.0 308.2L711.3 308.5L711.5 308.6L711.7 308.6L711.9 308.3L712.2 307.9L712.4 307.4L712.6 306.7L712.8 306.1L713.1 305.4L713.3 304.8L713.5 304.4L713.7 304.0L714.0 303.9L714.2 303.9L714.4 304.1L714.6 304.5L714.9 305.0L715.1 305.6L715.3 306.2L715.5 306.9L715.8 307.5L716.0 308.0L716.2 308.4L716.4 308.6L716.7 308.6L716.9 308.5L717.1 308.1L717.3 307.7L717.6 307.1L717.8 306.4L718.0 305.8L718.2 305.1L718.5 304.6L718.7 304.2L718.9 303.9L719.1 303.9L719.4 304.0L719.6 304.3L719.8 304.7L720.0 305.3L720.3 305.9L720.5 306.6L720.7 307.2L720.9 307.8L721.2 308.2L721.4 308.5L721.6 308.6L721.8 308.6L722.1 308.3L722.3 307.9L722.5 307.4L722.7 306.7L723.0 306.1L723.2 305.4L723.4 304.8L723.6 304.4L723.9 304.0L724.1 303.9L724.3 303.9L724.5 313.2L724.8 314.0L725.0 314.7L725.2 315.1L725.4 315.3L725.7 315.1L725.9 314.7L726.1 314.0L726.3 313.2L726.6 312.1L726.8 310.9L727.0 309.6L727.2 308.2L727.5 306.9L727.7 305.7L727.9 304.6L728.1 303.8L728.4 303.1L728.6 302.7L728.8 302.5L729.0 302.7L729.3 303.1L729.5 303.8L729.7 304.6L729.9 305.7L730.2 306.9L730.4 308.2L730.6 309.6L730.8 310.9L731.1 312.1" stroke="#ff0000" stroke-width="0.8" fill="none" stroke-linejoin="round" stroke-linecap="round" />
<path d="M606.2 308.9L606.4 308.9L606.6 308.9L606.9 308.9L607.1 308.9L607.3 308.9L607.5 308.9L607.8 308.9L608.0 308.9L608.2 308.9L608.4 308.9L608.7 308.9L608.9 308.9L609.1 308.9L609.3 308.9L609.6 308.9L609.8 308.9L610.0 308.9L610.2 308.9L610.5 308.9L610.7 308.9L610.9 308.9L611.1 308.9L611.4 308.9L611.6 308.9L611.8 308.9L612.0 308.9L612.3 308.9L612.5 308.9L612.7 308.9L612.9 308.9L613.2 308.9L613.4 308.9L613.6 308.9L613.8 308.9L614.1 308.9L614.3 308.9L614.5 308.9L614.7 308.9L615.0 308.9L615.2 308.9L615.4 308.9L615.6 308.9L615.9 308.9L616.1 308.9L616.3 308.9L616.5 308.9L616.8 308.9L617.0 308.9L617.2 308.9L617.4 308.9L617.7 308.9L617.9 308.9L618.1 308.9L618.3 308.9L618.6 308.9L618.8 308.9L619.0 308.9L619.2 308.9L619.5 308.9L619.7 308.9L619.9 308.9L620.1 308.9L620.4 308.9L620.6 308.9L620.8 308.9L621.0 308.9L621.3 308.9L621.5 308.9L621.7 308.9L621.9 308.9L622.2 308.9L622.4 308.9L622.6 308.9L622.8 308.9L623.1 308.9L623.3 309.7L623.5 309.5L623.7 309.2L624.0 308.9L624.2 308.7L624.4 308.4L624.6 308.2L624.9 307.9L625.1 307.7L625.3 307.4L625.5 307.2L625.8 306.9L626.0 306.7L626.2 306.4L626.4 306.1L626.7 305.9L626.9 305.6L627.1 305.4L627.3 305.1L627.6 304.9L627.8 304.6L628.0 304.4L628.2 304.1L628.5 303.9L628.7 303.6L628.9 310.2L629.1 311.4L629.4 312.0L629.6 312.0L629.8 311.3L630.0 310.0L630.3 308.3L630.5 306.2L630.7 304.0L630.9 301.8L631.2 299.9L631.4 298.4L631.6 297.4L631.8 297.2L632.1 297.7L632.3 299.0L632.5 300.9L632.7 303.4L633.0 306.2L633.2 309.2L633.4 312.1L633.6 314.7L633.9 316.8L634.1 318.3L634.3 318.9L634.5 318.8L634.8 317.8L635.0 316.1L635.2 313.7L635.4 311.0L635.7 308.1L635.9 305.1L636.1 302.4L636.3 300.2L636.6 298.5L636.8 297.6L637.0 297.4L637.2 297.9L637.5 299.1L637.7 300.7L637.9 302.8L638.1 304.9L638.4 307.1L638.6 308.9L638.8 310.4L639.0 311.3L639.3 311.6L639.5 311.3L639.7 310.2L639.9 307.3L640.2 304.8L640.4 304.9L640.6 305.0L640.8 305.2L641.1 305.3L641.3 305.4L641.5 305.6L641.7 305.7L642.0 305.8L642.2 305.9L642.4 306.1L642.6 306.2L642.9 306.3L643.1 306.4L643.3 306.6L643.5 306.7L643.8 306.8L644.0 306.9L644.2 307.1L644.4 307.2L644.7 307.3L644.9 307.5L645.1 307.6L645.3 307.7L645.6 307.8L645.8 308.0L646.0 308.1L646.2 308.2L646.5 308.3L646.7 308.5L646.9 308.6L647.1 308.7L647.4 308.9L647.6 309.0L647.8 309.1L648.0 309.2L648.3 309.4L648.5 309.5L648.7 309.6L648.9 309.7L649.2 309.9L649.4 310.0L649.6 310.1L649.8 310.3L650.1 310.4L650.3 310.5L650.5 310.6L650.7 310.8L651.0 310.9L651.2 311.0L651.4 311.1L651.6 311.3L651.9 311.4L652.1 311.5L652.3 311.7L652.5 311.8L652.8 311.9L653.0 312.0L653.2 312.2L653.4 312.3L653.7 312.4L653.9 312.5L654.1 312.6L654.3 312.6L654.6 312.6L654.8 312.6L655.0 312.6L655.2 312.6L655.5 312.6L655.7 312.6L655.9 312.6L656.1 312.6L656.4 312.6L656.6 312.6L656.8 312.6L657.0 312.6L657.3 312.6L657.5 312.6L657.7 312.6L657.9 312.6L658.2 312.6L658.4 312.6L658.6 312.6L658.8 312.6L659.1 312.6L659.3 312.6L659.5 312.6L659.7 312.6L660.0 312.6L660.2 312.6L660.4 312.6L660.6 312.6L660.9 312.6L661.1 312.6L661.3 312.6L661.5 312.6L661.8 312.6L662.0 312.6L662.2 312.6L662.4 312.6L662.7 312.6L662.9 312.6L663.1 312.6L663.3 312.6L663.6 312.6L663.8 312.6L664.0 312.6L664.2 312.6L664.5 312.6L664.7 312.6L664.9 312.6L665.1 312.6L665.4 312.6L665.6 312.6L665.8 312.6L666.0 312.6L666.3 312.6L666.5 312.6L666.7 312.6L666.9 312.6L667.2 312.6L667.4 312.6L667.6 312.6L667.8 312.6L668.1 312.6L668.3 312.6L668.5 312.6L668.7 312.6L669.0 312.6L669.2 312.6L669.4 312.6L669.6 312.6L669.9 312.6L670.1 312.6L670.3 312.6L670.5 312.6L670.8 312.6L671.0 308.2L671.2 308.9L671.4 309.6L671.7 310.2L671.9 310.7L672.1 310.9L672.3 310.8L672.6 310.3L672.8 309.5L673.0 308.5L673.2 307.2L673.5 305.7L673.7 304.3L673.9 303.0L674.1 301.9L674.4 301.2L674.6 301.0L674.8 301.3L675.0 302.0L675.3 303.3L675.5 305.0L675.7 307.0L675.9 309.2L676.2 311.4L676.4 313.5L676.6 315.3L676.8 316.6L677.1 317.3L677.3 317.4L677.5 316.8L677.7 315.5L678.0 313.6L678.2 311.2L678.4 308.5L678.6 305.7L678.9 303.0L679.1 300.5L679.3 298.5L679.5 297.1L679.8 296.4L680.0 296.5L680.2 297.5L680.4 299.2L680.7 301.5L680.9 304.3L681.1 307.4L681.3 310.6L681.6 313.7L681.8 316.3L682.0 318.4L682.2 319.8L682.5 320.3L682.7 320.0L682.9 318.8L683.1 316.8L683.4 314.2L683.6 311.2L683.8 307.8L684.0 304.5L684.3 301.4L684.5 298.8L684.7 296.8L684.9 295.5L685.2 295.2L685.4 295.7L685.6 297.0L685.8 299.2L686.1 301.9L686.3 305.0L686.5 308.3L686.7 311.5L687.0 314.4L687.2 316.8L687.4 318.6L687.6 319.6L687.9 319.8L688.1 319.1L688.3 317.7L688.5 315.6L688.8 313.0L689.0 310.1L689.2 307.1L689.4 304.2L689.7 301.7L689.9 299.6L690.1 298.2L690.3 297.4L690.6 297.5L690.8 298.2L691.0 299.6L691.2 301.5L691.5 303.8L691.7 306.3L691.9 308.8L692.1 311.1L692.4 313.1L692.6 314.6L692.8 315.6L693.0 315.9L693.3 315.7L693.5 315.0L693.7 313.8L693.9 312.3L694.2 310.5L694.4 308.7L694.6 307.0L694.8 305.5L695.1 304.3L695.3 303.5L695.5 303.1L695.7 303.1L696.0 303.5L696.2 304.1L696.4 305.0L696.6 305.9L696.9 306.8L697.1 307.6L697.3 308.2L697.5 308.4L697.8 308.2L698.0 313.1L698.2 313.1L698.4 313.1L698.7 313.1L698.9 313.1L699.1 314.1L699.3 314.5L699.6 314.9L699.8 315.2L700.0 315.4L700.2 315.5L700.5 315.5L700.7 315.3L700.9 315.0L701.1 314.6L701.4 314.2L701.6 313.7L701.8 313.1L702.0 312.6L702.3 312.1L702.5 311.6L702.7 311.3L702.9 311.0L703.2 310.8L703.4 310.8L703.6 310.8L703.8 311.0L704.1 311.3L704.3 311.7L704.5 312.2L704.7 312.7L705.0 313.3L705.2 313.8L705.4 314.3L705.6 314.8L705.9 315.1L706.1 315.4L706.3 315.5L706.5 315.5L706.8 315.4L707.0 315.2L707.2 314.9L707.4 314.4L707.7 313.9L707.9 313.4L708.1 312.9L708.3 312.3L708.6 311.9L708.8 311.4L709.0 311.1L709.2 310.9L709.5 310.8L709.7 310.8L709.9 310.9L710.1 311.2L710.4 305.9L710.6 305.3L710.8 304.7L711.0 304.3L711.3 304.0L711.5 303.9L711.7 303.9L711.9 304.2L712.2 304.6L712.4 305.1L712.6 305.8L712.8 306.4L713.1 307.1L713.3 307.7L713.5 308.1L713.7 308.5L714.0 308.6L714.2 308.6L714.4 308.4L714.6 308.0L714.9 307.5L715.1 306.9L715.3 306.3L715.5 305.6L715.8 305.0L716.0 304.5L716.2 304.1L716.4 303.9L716.7 303.9L716.9 304.0L717.1 304.4L717.3 304.8L717.6 305.4L717.8 306.1L718.0 306.7L718.2 307.4L718.5 307.9L718.7 308.3L718.9 308.6L719.1 308.6L719.4 308.5L719.6 308.2L719.8 307.8L720.0 307.2L720.3 306.6L720.5 305.9L720.7 305.3L720.9 304.7L721.2 304.3L721.4 304.0L721.6 303.9L721.8 303.9L722.1 304.2L722.3 304.6L722.5 305.1L722.7 305.8L723.0 306.4L723.2 307.1L723.4 307.7L723.6 308.1L723.9 308.5L724.1 308.6L724.3 308.6L724.5 304.6L724.8 303.8L725.0 303.1L725.2 302.7L725.4 302.5L725.7 302.7L725.9 303.1L726.1 303.8L726.3 304.6L726.6 305.7L726.8 306.9L727.0 308.2L727.2 309.6L727.5 310.9L727.7 312.1L727.9 313.2L728.1 314.0L728.4 314.7L728.6 315.1L728.8 315.3L729.0 315.1L729.3 314.7L729.5 314.0L729.7 313.2L729.9 312.1L730.2 310.9L730.4 309.6L730.6 308.2L730.8 306.9L731.1 305.7" stroke="#0000ff" stroke-width="0.8" fill="none" stroke-linejoin="round" stroke-linecap="round" />
<text x="604" y="290.7" font-size="9" text-anchor="end" fill="#222">12</text>
<text x="604" y="301.4" font-size="9" text-anchor="end" fill="#222">10</text>
<text x="604" y="312.1" font-size="9" text-anchor="end" fill="#222">8</text>
<text x="604" y="322.2" font-size="9" text-anchor="end" fill="#222">6</text>
<text x="604" y="332.9" font-size="9" text-anchor="end" fill="#222">4</text>
<text x="609" y="345.5" font-size="9" text-anchor="middle" fill="#222">0.1</text>
<text x="636.7" y="345.5" font-size="9" text-anchor="middle" fill="#222">0.105</text>
<text x="664.7" y="345.5" font-size="9" text-anchor="middle" fill="#222">0.11</text>
<text x="692.9" y="345.5" font-size="9" text-anchor="middle" fill="#222">0.115</text>
<text x="721.5" y="345.5" font-size="9" text-anchor="middle" fill="#222">0.12</text>
<text x="667" y="357" font-size="9.5" text-anchor="middle" fill="#222">t [s]</text>
<text transform="translate(590,309.5) rotate(-90)" font-size="9.5" text-anchor="middle" fill="#222">v<tspan font-size="7" dy="2">p</tspan><tspan dy="-2"> [cm/s]</tspan></text>
<path d="M291.3 220V204" stroke="#000" stroke-width="1.6"/><path d="M287.6 205.5L291.3 198.5L295 205.5Z" fill="#000"/>
<path d="M549.2 105.5V120" stroke="#000" stroke-width="1.6"/><path d="M545.5 119L549.2 126.5L552.9 119Z" fill="#000"/>
<rect x="127.7" y="60.2" width="108.99999999999999" height="58.599999999999994" fill="#fff" stroke="#b4b4b4" stroke-width="0.9"/>
<path d="M141.3 118.8v-2M141.3 60.2v2M154.9 118.8v-2M154.9 60.2v2M168.6 118.8v-2M168.6 60.2v2M182.2 118.8v-2M182.2 60.2v2M195.8 118.8v-2M195.8 60.2v2M209.4 118.8v-2M209.4 60.2v2M223.1 118.8v-2M223.1 60.2v2" stroke="#c0c0c0" stroke-width="0.7"/>
<path d="M128.7 94.4L129.1 96.8L129.4 98.0L129.8 99.8L130.1 97.4L130.5 100.0L130.8 92.9L131.2 92.3L131.6 99.0L131.9 104.9L132.3 98.8L132.6 110.1L133.0 98.4L133.3 102.8L133.7 97.7L134.0 103.2L134.4 99.8L134.8 101.8L135.1 106.7L135.5 113.3L135.8 97.8L136.2 109.6L136.5 99.6L136.9 109.7L137.3 99.5L137.6 101.2L138.0 94.5L138.3 93.1L138.7 104.0L139.0 106.4L139.4 98.0L139.8 103.6L140.1 101.2L140.5 98.9L140.8 99.9L141.2 101.2L141.5 100.9L141.9 94.6L142.3 98.3L142.6 98.1L143.0 111.7L143.3 107.4L143.7 97.7L144.0 94.0L144.4 107.4L144.8 100.7L145.1 104.1L145.5 97.5L145.8 88.5L146.2 97.6L146.5 96.3L146.9 111.0L147.2 96.9L147.6 94.5L148.0 97.5L148.3 98.3L148.7 108.6L149.0 104.7L149.4 94.4L149.7 104.3L150.1 89.4L150.5 98.6L150.8 98.1L151.2 105.9L151.5 104.7L151.9 106.9L152.2 99.7L152.6 104.5L153.0 95.2L153.3 99.2L153.7 101.8L154.0 101.5L154.4 105.7L154.7 102.6L155.1 97.7L155.4 88.1L155.8 110.1L156.2 105.7L156.5 105.9L156.9 93.8L157.2 103.5L157.6 98.0L157.9 98.3L158.3 102.4L158.7 96.9L159.0 94.9L159.4 103.7L159.7 101.2L160.1 98.7L160.4 98.1L160.8 101.0L161.2 111.5L161.5 106.9L161.9 104.1L162.2 102.4L162.6 99.7L162.9 109.5L163.3 104.3L163.7 101.5L164.0 108.2L164.4 104.8L164.7 93.6L165.1 113.2L165.4 95.5L165.8 100.2L166.1 94.7L166.5 104.6L166.9 99.1L167.2 101.6L167.6 103.7L167.9 108.1L168.3 98.2L168.6 96.5L169.0 104.1L169.4 97.1L169.7 92.7L170.1 98.6L170.4 109.3L170.8 88.5L171.1 98.8L171.5 103.9L171.9 97.8L172.2 95.2L172.6 118.3L172.9 106.9L173.3 94.5L173.6 97.9L174.0 93.5L174.4 89.4L174.7 94.8L175.1 111.0L175.4 87.7L175.8 96.9L176.1 93.1L176.5 112.6L176.8 101.1L177.2 101.1L177.6 102.4L177.9 90.3L178.3 114.6L178.6 93.5L179.0 106.4L179.3 107.7L179.7 100.6L180.1 108.9L180.4 107.6L180.8 100.2L181.1 102.7L181.5 92.5L181.8 96.3L182.2 92.4L182.6 104.3L182.9 106.6L183.3 100.1L183.6 106.2L184.0 98.6L184.3 103.2L184.7 98.3L185.1 92.0L185.4 91.2L185.8 109.9L186.1 97.0L186.5 95.8L186.8 90.9L187.2 102.9L187.5 90.8L187.9 89.6L188.3 93.2L188.6 89.3L189.0 86.0L189.3 103.8L189.7 98.2L190.0 100.3L190.4 90.4L190.8 95.7L191.1 90.5L191.5 90.5L191.8 98.0L192.2 89.8L192.5 91.3L192.9 89.7L193.3 89.0L193.6 93.7L194.0 86.4L194.3 96.3L194.7 84.4L195.0 86.2L195.4 88.8L195.8 90.3L196.1 86.6L196.5 90.1L196.8 87.3L197.2 83.8L197.5 90.8L197.9 91.6L198.2 85.8L198.6 86.5L199.0 92.9L199.3 87.1L199.7 85.5L200.0 88.5L200.4 78.5L200.7 87.7L201.1 88.6L201.5 83.5L201.8 77.7L202.2 86.8L202.5 75.9L202.9 88.1L203.2 84.9L203.6 76.5L204.0 79.3L204.3 74.7L204.7 76.8L205.0 90.1L205.4 82.6L205.7 78.5L206.1 91.5L206.5 78.5L206.8 77.1L207.2 77.9L207.5 76.5L207.9 78.0L208.2 78.7L208.6 79.4L208.9 78.4L209.3 79.7L209.7 76.8L210.0 74.9L210.4 76.4L210.7 72.8L211.1 74.1L211.4 75.2L211.8 77.9L212.2 76.7L212.5 76.6L212.9 71.2L213.2 70.6L213.6 68.5L213.9 66.3L214.3 66.8L214.7 68.6L215.0 70.6L215.4 74.2L215.7 78.7L216.1 82.9L216.4 89.0L216.8 91.4L217.2 86.6L217.5 93.8L217.9 101.9L218.2 108.4L218.6 93.3L218.9 109.4L219.3 106.2L219.6 109.0L220.0 104.9L220.4 108.8L220.7 97.8L221.1 102.2L221.4 107.6L221.8 97.0L222.1 105.4L222.5 96.5L222.9 95.2L223.2 112.2L223.6 106.5L223.9 105.8L224.3 103.4L224.6 99.7L225.0 110.4L225.4 99.8L225.7 107.9L226.1 109.5L226.4 102.5L226.8 96.5L227.1 110.8L227.5 107.8L227.9 97.4L228.2 103.3L228.6 105.7L228.9 106.7L229.3 109.3L229.6 104.5L230.0 107.7L230.3 110.0L230.7 99.1L231.1 115.3L231.4 108.0L231.8 93.5L232.1 106.2L232.5 103.0L232.8 91.9L233.2 111.1L233.6 99.7L233.9 99.8L234.3 98.7L234.6 94.9L235.0 107.8L235.3 106.6L235.7 109.2" stroke="#1818e8" stroke-width="1.0" fill="none"/>
<path d="M128.7 103.6L129.1 105.9L129.4 105.3L129.8 92.6L130.1 99.5L130.5 94.6L130.8 103.2L131.2 100.8L131.6 97.9L131.9 97.5L132.3 98.5L132.6 92.5L133.0 106.9L133.3 99.0L133.7 97.9L134.0 107.5L134.4 94.2L134.8 92.7L135.1 102.0L135.5 102.0L135.8 92.6L136.2 95.3L136.5 94.8L136.9 92.9L137.3 90.3L137.6 111.2L138.0 101.0L138.3 103.1L138.7 95.7L139.0 101.9L139.4 97.8L139.8 99.0L140.1 100.5L140.5 101.4L140.8 95.3L141.2 97.7L141.5 103.3L141.9 86.9L142.3 97.2L142.6 97.3L143.0 99.8L143.3 100.9L143.7 97.9L144.0 101.9L144.4 91.4L144.8 97.6L145.1 106.0L145.5 99.0L145.8 98.9L146.2 99.0L146.5 101.6L146.9 96.4L147.2 90.9L147.6 99.4L148.0 88.9L148.3 91.8L148.7 106.4L149.0 96.2L149.4 100.8L149.7 99.5L150.1 106.7L150.5 95.4L150.8 97.2L151.2 102.2L151.5 97.0L151.9 102.6L152.2 107.6L152.6 104.8L153.0 95.7L153.3 99.9L153.7 96.5L154.0 97.2L154.4 104.6L154.7 98.5L155.1 100.6L155.4 102.4L155.8 93.7L156.2 105.3L156.5 90.6L156.9 98.5L157.2 96.5L157.6 108.0L157.9 91.4L158.3 109.1L158.7 87.6L159.0 99.6L159.4 100.4L159.7 92.0L160.1 93.6L160.4 95.6L160.8 97.5L161.2 91.7L161.5 90.5L161.9 109.8L162.2 101.1L162.6 102.8L162.9 97.2L163.3 96.7L163.7 100.8L164.0 91.0L164.4 103.1L164.7 97.7L165.1 99.0L165.4 99.1L165.8 94.8L166.1 93.8L166.5 97.1L166.9 95.8L167.2 95.5L167.6 97.5L167.9 95.9L168.3 102.0L168.6 101.0L169.0 91.5L169.4 97.2L169.7 102.8L170.1 94.1L170.4 102.0L170.8 108.6L171.1 105.6L171.5 100.1L171.9 98.7L172.2 93.3L172.6 103.2L172.9 102.0L173.3 97.2L173.6 96.3L174.0 98.3L174.4 98.1L174.7 110.0L175.1 95.5L175.4 88.7L175.8 96.6L176.1 96.4L176.5 93.0L176.8 102.8L177.2 92.2L177.6 95.0L177.9 94.4L178.3 98.3L178.6 96.4L179.0 99.8L179.3 101.1L179.7 93.4L180.1 99.8L180.4 96.1L180.8 96.6L181.1 86.8L181.5 97.6L181.8 98.7L182.2 96.9L182.6 97.1L182.9 99.2L183.3 92.4L183.6 98.2L184.0 97.5L184.3 99.5L184.7 96.9L185.1 103.9L185.4 93.3L185.8 91.4L186.1 90.4L186.5 98.7L186.8 95.5L187.2 93.9L187.5 97.8L187.9 93.4L188.3 83.8L188.6 92.7L189.0 94.9L189.3 92.0L189.7 99.6L190.0 90.1L190.4 99.1L190.8 91.1L191.1 96.7L191.5 86.7L191.8 83.1L192.2 81.5L192.5 89.6L192.9 103.1L193.3 90.6L193.6 95.0L194.0 94.8L194.3 87.8L194.7 92.2L195.0 102.1L195.4 93.6L195.8 86.1L196.1 95.3L196.5 87.6L196.8 81.6L197.2 95.2L197.5 87.2L197.9 88.1L198.2 80.8L198.6 77.6L199.0 93.9L199.3 88.5L199.7 85.9L200.0 83.4L200.4 84.1L200.7 82.3L201.1 81.1L201.5 88.8L201.8 80.9L202.2 82.3L202.5 81.9L202.9 89.8L203.2 81.6L203.6 80.2L204.0 85.5L204.3 80.6L204.7 75.4L205.0 79.2L205.4 80.0L205.7 79.4L206.1 85.3L206.5 83.3L206.8 78.3L207.2 77.0L207.5 75.2L207.9 76.3L208.2 81.2L208.6 78.2L208.9 78.3L209.3 76.1L209.7 75.1L210.0 77.6L210.4 76.4L210.7 77.9L211.1 74.1L211.4 72.0L211.8 76.6L212.2 76.7L212.5 74.7L212.9 72.2L213.2 69.6L213.6 67.3L213.9 66.2L214.3 65.3L214.7 67.2L215.0 69.7L215.4 72.3L215.7 74.7L216.1 79.0L216.4 81.7L216.8 96.1L217.2 88.5L217.5 99.2L217.9 98.7L218.2 95.5L218.6 92.7L218.9 97.2L219.3 96.8L219.6 96.4L220.0 91.9L220.4 103.5L220.7 100.0L221.1 103.9L221.4 107.8L221.8 98.2L222.1 106.0L222.5 97.7L222.9 106.6L223.2 96.8L223.6 102.7L223.9 100.8L224.3 96.7L224.6 98.7L225.0 99.1L225.4 99.4L225.7 102.6L226.1 102.5L226.4 100.1L226.8 103.1L227.1 108.0L227.5 97.6L227.9 93.1L228.2 98.2L228.6 96.3L228.9 101.1L229.3 101.3L229.6 106.7L230.0 91.9L230.3 105.9L230.7 108.0L231.1 94.4L231.4 110.0L231.8 100.9L232.1 98.7L232.5 108.4L232.8 101.3L233.2 101.0L233.6 93.3L233.9 98.6L234.3 98.7L234.6 98.2L235.0 99.9L235.3 99.0L235.7 93.8" stroke="#5a5aff" stroke-width="0.8" fill="none" opacity="0.85"/>
<text x="125.2" y="70.3" font-size="10" text-anchor="end" fill="#222">-50</text>
<text x="125.2" y="121.3" font-size="10" text-anchor="end" fill="#222">-100</text>
<text x="127.7" y="131.0" font-size="10" text-anchor="middle" fill="#222">0</text>
<text x="182.2" y="131.0" font-size="10" text-anchor="middle" fill="#222">200</text>
<text x="236.7" y="131.0" font-size="10" text-anchor="middle" fill="#222">400</text>
<text x="182.0" y="141.3" font-size="10" text-anchor="middle" fill="#222">f [kHz]</text>
<text transform="translate(87.4,96.2) rotate(-90)" font-size="10.6" text-anchor="middle" fill="#222">Power</text>
<text transform="translate(99.8,96.2) rotate(-90)" font-size="10.6" text-anchor="middle" fill="#222">spectrum [dB]</text>
<rect x="622.5" y="59.4" width="108.89999999999998" height="58.9" fill="#fff" stroke="#b4b4b4" stroke-width="0.9"/>
<path d="M636.1 118.3v-2M636.1 59.4v2M649.7 118.3v-2M649.7 59.4v2M663.3 118.3v-2M663.3 59.4v2M677.0 118.3v-2M677.0 59.4v2M690.6 118.3v-2M690.6 59.4v2M704.2 118.3v-2M704.2 59.4v2M717.8 118.3v-2M717.8 59.4v2" stroke="#c0c0c0" stroke-width="0.7"/>
<path d="M623.5 92.7L623.9 89.6L624.2 97.9L624.6 87.8L624.9 78.8L625.3 88.4L625.6 94.1L626.0 92.3L626.4 98.7L626.7 88.8L627.1 91.7L627.4 89.2L627.8 100.5L628.1 99.9L628.5 93.9L628.8 90.9L629.2 86.8L629.6 94.7L629.9 102.6L630.3 90.1L630.6 88.6L631.0 98.7L631.3 85.9L631.7 93.1L632.1 86.0L632.4 88.6L632.8 90.2L633.1 94.0L633.5 91.9L633.8 91.2L634.2 90.7L634.5 85.5L634.9 108.3L635.3 88.4L635.6 103.7L636.0 88.6L636.3 95.2L636.7 86.7L637.0 94.9L637.4 94.8L637.8 100.0L638.1 94.9L638.5 78.9L638.8 99.3L639.2 87.8L639.5 87.8L639.9 88.7L640.2 82.9L640.6 77.3L641.0 98.0L641.3 92.7L641.7 89.5L642.0 86.4L642.4 98.5L642.7 96.2L643.1 95.9L643.5 89.0L643.8 89.3L644.2 90.5L644.5 89.8L644.9 105.1L645.2 83.8L645.6 96.7L645.9 91.0L646.3 99.8L646.7 90.3L647.0 89.4L647.4 89.5L647.7 100.3L648.1 90.5L648.4 104.7L648.8 98.3L649.2 95.2L649.5 105.2L649.9 95.5L650.2 88.5L650.6 81.0L650.9 75.4L651.3 72.3L651.7 69.8L652.0 76.4L652.4 75.3L652.7 85.9L653.1 86.9L653.4 88.2L653.8 93.2L654.1 93.0L654.5 90.9L654.9 97.0L655.2 102.5L655.6 90.7L655.9 91.3L656.3 83.2L656.6 88.6L657.0 88.1L657.4 102.2L657.7 94.6L658.1 87.6L658.4 89.1L658.8 94.1L659.1 90.2L659.5 98.5L659.8 83.7L660.2 88.3L660.6 86.7L660.9 87.4L661.3 87.9L661.6 100.8L662.0 89.8L662.3 85.8L662.7 96.7L663.1 94.3L663.4 91.8L663.8 97.1L664.1 86.9L664.5 93.5L664.8 88.6L665.2 87.1L665.5 94.5L665.9 94.7L666.3 91.4L666.6 93.0L667.0 98.2L667.3 98.5L667.7 96.6L668.0 93.8L668.4 91.6L668.8 88.9L669.1 74.9L669.5 76.1L669.8 70.9L670.2 70.0L670.5 67.3L670.9 63.7L671.2 63.0L671.6 66.8L672.0 65.5L672.3 71.8L672.7 75.9L673.0 83.5L673.4 79.7L673.7 91.1L674.1 92.5L674.5 90.1L674.8 88.2L675.2 80.1L675.5 85.7L675.9 88.5L676.2 91.5L676.6 89.3L677.0 82.5L677.3 96.6L677.7 96.4L678.0 84.9L678.4 99.2L678.7 91.3L679.1 98.1L679.4 91.8L679.8 79.3L680.2 91.9L680.5 90.0L680.9 100.1L681.2 93.1L681.6 78.1L681.9 91.4L682.3 92.8L682.7 89.8L683.0 94.2L683.4 102.0L683.7 93.8L684.1 89.9L684.4 87.8L684.8 80.4L685.1 99.0L685.5 81.4L685.9 92.3L686.2 89.8L686.6 94.2L686.9 85.9L687.3 82.9L687.6 91.5L688.0 97.1L688.4 91.3L688.7 89.3L689.1 88.3L689.4 91.1L689.8 91.8L690.1 89.5L690.5 93.5L690.8 92.8L691.2 93.7L691.6 82.9L691.9 87.2L692.3 83.4L692.6 82.1L693.0 91.6L693.3 80.3L693.7 91.7L694.1 78.8L694.4 93.1L694.8 97.1L695.1 85.6L695.5 93.0L695.8 84.7L696.2 88.0L696.5 88.3L696.9 78.3L697.3 84.0L697.6 85.3L698.0 88.1L698.3 95.9L698.7 98.1L699.0 94.2L699.4 89.6L699.8 90.4L700.1 97.4L700.5 96.1L700.8 84.0L701.2 84.9L701.5 89.3L701.9 92.6L702.2 78.3L702.6 93.5L703.0 110.1L703.3 80.2L703.7 90.2L704.0 93.2L704.4 83.0L704.7 87.9L705.1 94.1L705.5 102.1L705.8 91.5L706.2 99.6L706.5 90.6L706.9 98.5L707.2 98.8L707.6 86.7L708.0 86.3L708.3 94.6L708.7 82.8L709.0 87.4L709.4 100.5L709.7 89.2L710.1 90.0L710.4 84.9L710.8 91.8L711.2 85.2L711.5 90.2L711.9 101.6L712.2 91.2L712.6 84.1L712.9 81.3L713.3 95.9L713.7 85.8L714.0 85.1L714.4 96.6L714.7 100.0L715.1 95.6L715.4 87.7L715.8 80.7L716.1 87.3L716.5 105.6L716.9 95.5L717.2 95.1L717.6 94.2L717.9 88.0L718.3 91.7L718.6 89.7L719.0 84.4L719.4 86.5L719.7 89.4L720.1 87.9L720.4 90.0L720.8 95.1L721.1 98.4L721.5 91.4L721.8 98.9L722.2 80.1L722.6 96.9L722.9 97.7L723.3 92.3L723.6 92.0L724.0 85.8L724.3 77.6L724.7 92.5L725.1 87.2L725.4 84.5L725.8 91.0L726.1 90.4L726.5 81.2L726.8 92.5L727.2 87.5L727.5 85.4L727.9 96.8L728.3 84.4L728.6 97.9L729.0 91.2L729.3 89.8L729.7 88.8L730.0 95.3L730.4 87.4" stroke="#1818e8" stroke-width="1.0" fill="none"/>
<path d="M623.5 90.0L623.9 91.2L624.2 99.3L624.6 84.0L624.9 89.5L625.3 85.1L625.6 82.6L626.0 94.2L626.4 79.9L626.7 95.6L627.1 83.6L627.4 88.4L627.8 96.6L628.1 86.6L628.5 88.7L628.8 89.7L629.2 90.1L629.6 89.9L629.9 88.1L630.3 86.9L630.6 84.8L631.0 97.8L631.3 89.9L631.7 81.2L632.1 89.4L632.4 88.1L632.8 92.5L633.1 90.9L633.5 82.5L633.8 95.2L634.2 91.0L634.5 96.4L634.9 89.2L635.3 96.7L635.6 89.0L636.0 89.8L636.3 94.4L636.7 82.9L637.0 89.7L637.4 94.2L637.8 95.0L638.1 80.9L638.5 96.1L638.8 89.6L639.2 89.7L639.5 94.7L639.9 92.2L640.2 84.0L640.6 89.2L641.0 86.4L641.3 94.2L641.7 92.0L642.0 85.2L642.4 89.4L642.7 89.5L643.1 84.7L643.5 93.5L643.8 88.3L644.2 88.3L644.5 83.6L644.9 88.0L645.2 89.7L645.6 90.9L645.9 82.2L646.3 87.4L646.7 80.8L647.0 88.6L647.4 95.3L647.7 96.5L648.1 87.9L648.4 86.8L648.8 90.7L649.2 83.1L649.5 84.1L649.9 86.3L650.2 90.0L650.6 82.0L650.9 71.5L651.3 69.5L651.7 67.0L652.0 73.5L652.4 82.5L652.7 92.4L653.1 85.6L653.4 85.7L653.8 90.9L654.1 90.3L654.5 88.5L654.9 94.7L655.2 92.8L655.6 87.6L655.9 83.7L656.3 88.8L656.6 94.4L657.0 79.1L657.4 86.7L657.7 95.1L658.1 83.8L658.4 87.5L658.8 87.1L659.1 87.9L659.5 92.0L659.8 90.4L660.2 87.8L660.6 97.9L660.9 89.8L661.3 100.1L661.6 90.8L662.0 92.6L662.3 91.6L662.7 95.6L663.1 87.0L663.4 95.4L663.8 88.8L664.1 88.2L664.5 88.0L664.8 88.0L665.2 91.1L665.5 86.4L665.9 101.0L666.3 92.9L666.6 102.5L667.0 88.0L667.3 99.0L667.7 87.6L668.0 88.4L668.4 100.0L668.8 76.4L669.1 77.1L669.5 77.0L669.8 70.9L670.2 69.2L670.5 64.7L670.9 60.9L671.2 62.9L671.6 65.3L672.0 68.0L672.3 70.7L672.7 74.8L673.0 83.7L673.4 76.5L673.7 97.0L674.1 91.2L674.5 88.1L674.8 87.6L675.2 91.3L675.5 83.3L675.9 85.6L676.2 86.2L676.6 87.4L677.0 90.3L677.3 85.4L677.7 86.1L678.0 96.8L678.4 88.6L678.7 85.0L679.1 85.5L679.4 84.6L679.8 91.7L680.2 90.0L680.5 88.5L680.9 86.1L681.2 92.9L681.6 96.8L681.9 88.9L682.3 90.9L682.7 99.4L683.0 91.5L683.4 93.0L683.7 102.6L684.1 94.9L684.4 92.2L684.8 91.8L685.1 85.5L685.5 86.0L685.9 86.2L686.2 90.7L686.6 90.7L686.9 92.7L687.3 85.2L687.6 92.6L688.0 87.7L688.4 88.3L688.7 92.3L689.1 89.7L689.4 88.6L689.8 91.7L690.1 88.3L690.5 86.8L690.8 87.8L691.2 91.6L691.6 85.8L691.9 91.0L692.3 81.8L692.6 86.8L693.0 89.8L693.3 103.2L693.7 83.2L694.1 94.7L694.4 92.0L694.8 86.1L695.1 93.0L695.5 95.1L695.8 83.9L696.2 93.4L696.5 86.0L696.9 92.4L697.3 91.7L697.6 88.4L698.0 86.2L698.3 85.9L698.7 91.5L699.0 83.7L699.4 88.8L699.8 93.5L700.1 84.1L700.5 92.8L700.8 84.0L701.2 94.2L701.5 89.0L701.9 83.1L702.2 92.3L702.6 89.4L703.0 96.4L703.3 94.5L703.7 85.4L704.0 86.8L704.4 91.8L704.7 84.4L705.1 82.1L705.5 94.9L705.8 90.2L706.2 85.1L706.5 85.9L706.9 90.5L707.2 93.2L707.6 84.6L708.0 83.2L708.3 86.3L708.7 89.6L709.0 88.5L709.4 101.9L709.7 96.8L710.1 84.7L710.4 89.3L710.8 84.5L711.2 93.1L711.5 95.7L711.9 96.8L712.2 80.9L712.6 81.8L712.9 89.0L713.3 93.4L713.7 86.1L714.0 95.9L714.4 83.7L714.7 88.5L715.1 87.3L715.4 91.6L715.8 92.4L716.1 94.4L716.5 91.3L716.9 91.3L717.2 92.7L717.6 92.8L717.9 91.7L718.3 81.5L718.6 92.5L719.0 97.0L719.4 95.2L719.7 101.1L720.1 92.1L720.4 94.5L720.8 82.8L721.1 79.4L721.5 85.9L721.8 91.9L722.2 90.4L722.6 100.3L722.9 94.0L723.3 87.1L723.6 94.3L724.0 90.2L724.3 84.9L724.7 90.1L725.1 79.2L725.4 82.5L725.8 90.5L726.1 96.7L726.5 81.3L726.8 88.2L727.2 85.7L727.5 88.4L727.9 86.3L728.3 84.6L728.6 89.9L729.0 84.5L729.3 90.1L729.7 94.6L730.0 85.7L730.4 96.7" stroke="#5a5aff" stroke-width="0.8" fill="none" opacity="0.85"/>
<text x="620.0" y="72.1" font-size="10" text-anchor="end" fill="#222">-60</text>
<text x="620.0" y="95.5" font-size="10" text-anchor="end" fill="#222">-80</text>
<text x="620.0" y="118.9" font-size="10" text-anchor="end" fill="#222">-100</text>
<text x="622.5" y="130.5" font-size="10" text-anchor="middle" fill="#222">0</text>
<text x="677.0" y="130.5" font-size="10" text-anchor="middle" fill="#222">200</text>
<text x="731.4" y="130.5" font-size="10" text-anchor="middle" fill="#222">400</text>
<text x="678.0" y="140.8" font-size="10" text-anchor="middle" fill="#222">f [kHz]</text>
<text transform="translate(582.6,95.5) rotate(-90)" font-size="10.6" text-anchor="middle" fill="#222">Power</text>
<text transform="translate(595.8,95.5) rotate(-90)" font-size="10.6" text-anchor="middle" fill="#222">spectrum [dB]</text>
<line x1="246.8" y1="48" x2="246.8" y2="694" stroke="#000" stroke-width="1.9" stroke-dasharray="13.1 7.8" stroke-dashoffset="14.1"/>
<line x1="1009.5" y1="48" x2="1009.5" y2="694" stroke="#000" stroke-width="1.9" stroke-dasharray="13.1 7.8" stroke-dashoffset="14.1"/>
<text x="66.8" y="198.8" font-size="21" text-anchor="end" >1</text>
<text x="66.8" y="149.5" font-size="21" text-anchor="end" >2</text>
<text x="66.8" y="100.2" font-size="21" text-anchor="end" >3</text>
<text x="72.4" y="46.7" font-size="21" font-family="DejaVu Sans" font-weight="200">×</text>
<text x="90" y="44.7" font-size="20.5" letter-spacing="-0.6">10</text>
<text x="111.3" y="34.7" font-size="17">2</text>
<text x="66.8" y="424.7" font-size="21" text-anchor="end" >1</text>
<text x="66.8" y="376.9" font-size="21" text-anchor="end" >2</text>
<text x="66.8" y="329.1" font-size="21" text-anchor="end" >3</text>
<text x="66.8" y="281.3" font-size="21" text-anchor="end" >4</text>
<text x="72.4" y="270.2" font-size="21" font-family="DejaVu Sans" font-weight="200">×</text>
<text x="90" y="268.2" font-size="20.5" letter-spacing="-0.6">10</text>
<text x="111.3" y="258.2" font-size="17">2</text>
<text x="66.8" y="655.1" font-size="21" text-anchor="end" >1</text>
<text x="66.8" y="607.4" font-size="21" text-anchor="end" >2</text>
<text x="66.8" y="559.8" font-size="21" text-anchor="end" >3</text>
<text x="66.8" y="512.1" font-size="21" text-anchor="end" >4</text>
<text x="72.4" y="499.9" font-size="21" font-family="DejaVu Sans" font-weight="200">×</text>
<text x="90" y="497.9" font-size="20.5" letter-spacing="-0.6">10</text>
<text x="111.3" y="487.9" font-size="17">2</text>
<text transform="translate(42,143) rotate(-90)" font-size="21" text-anchor="middle">f [kHz]</text>
<text transform="translate(42,371) rotate(-90)" font-size="21" text-anchor="middle">f [kHz]</text>
<text transform="translate(42,601) rotate(-90)" font-size="21" text-anchor="middle">f [kHz]</text>
<text x="157.9" y="716.3" font-size="21" text-anchor="middle" >0.05</text>
<text x="246.0" y="716.3" font-size="21" text-anchor="middle" >0.1</text>
<text x="334.1" y="716.3" font-size="21" text-anchor="middle" >0.15</text>
<text x="422.2" y="716.3" font-size="21" text-anchor="middle" >0.2</text>
<text x="253.8" y="741.0" font-size="21" text-anchor="middle" >t [s]</text>
<text x="531.4" y="716.3" font-size="21" text-anchor="middle" >0.05</text>
<text x="619.4" y="716.3" font-size="21" text-anchor="middle" >0.1</text>
<text x="707.4" y="716.3" font-size="21" text-anchor="middle" >0.15</text>
<text x="795.4" y="716.3" font-size="21" text-anchor="middle" >0.2</text>
<text x="627.7" y="741.0" font-size="21" text-anchor="middle" >t [s]</text>
<text x="907.0" y="716.3" font-size="21" text-anchor="middle" >0.05</text>
<text x="995.0" y="716.3" font-size="21" text-anchor="middle" >0.1</text>
<text x="1083.0" y="716.3" font-size="21" text-anchor="middle" >0.15</text>
<text x="1171.0" y="716.3" font-size="21" text-anchor="middle" >0.2</text>
<text x="1001.8" y="741.0" font-size="21" text-anchor="middle" >t [s]</text>
<text x="1185.5" y="425.3" font-size="21" text-anchor="start" >5</text>
<text x="1185.5" y="377.5" font-size="21" text-anchor="start" >10</text>
<text x="1185.5" y="329.7" font-size="21" text-anchor="start" >15</text>
<text x="1185.5" y="281.9" font-size="21" text-anchor="start" >20</text>
<text transform="translate(1235.5,368) rotate(90)" font-size="21" text-anchor="middle">v<tspan font-size="14" dy="4">p</tspan><tspan dy="-4"> [cm/s]</tspan></text>
<text x="1185.5" y="655.7" font-size="21" text-anchor="start" >5</text>
<text x="1185.5" y="608.0" font-size="21" text-anchor="start" >10</text>
<text x="1185.5" y="560.4" font-size="21" text-anchor="start" >15</text>
<text x="1185.5" y="512.7" font-size="21" text-anchor="start" >20</text>
<text transform="translate(1235.5,599) rotate(90)" font-size="21" text-anchor="middle">v<tspan font-size="14" dy="4">p</tspan><tspan dy="-4"> [cm/s]</tspan></text>
<text x="10.5" y="25.6" font-size="21" text-anchor="start" >(a)</text>
<text x="11.0" y="269.3" font-size="21" text-anchor="start" >(b)</text>
<text x="11.0" y="499.0" font-size="21" text-anchor="start" >(c)</text>
<text x="136.5" y="38.7" font-size="21" text-anchor="start" >Particle 1</text>
<text x="279.5" y="38.7" font-size="21" text-anchor="start" >Particle 1+2</text>
<text x="565.7" y="38.7" font-size="21" text-anchor="start" >Particle 1+2</text>
<text x="858.5" y="38.7" font-size="21" text-anchor="start" >Particle 1+2</text>
<text x="1046.5" y="38.7" font-size="21" text-anchor="start" >Particle 2</text>
<text x="81.0" y="227.0" font-size="21" text-anchor="start" >a1</text>
<text x="81.0" y="452.0" font-size="21" text-anchor="start" >b1</text>
<text x="81.0" y="682.0" font-size="21" text-anchor="start" >c1</text>
<text x="456.0" y="227.0" font-size="21" text-anchor="start" >a2</text>
<text x="456.0" y="452.0" font-size="21" text-anchor="start" >b2</text>
<text x="456.0" y="682.0" font-size="21" text-anchor="start" >c2</text>
<text x="831.0" y="227.0" font-size="21" text-anchor="start" >a3</text>
<text x="831.0" y="452.0" font-size="21" text-anchor="start" >b3</text>
<text x="831.0" y="682.0" font-size="21" text-anchor="start" >c3</text>
<text x="1100.5" y="307.5" font-size="24" text-anchor="start" >PVS</text>
<text x="1101.0" y="540.0" font-size="24" text-anchor="start" >TFR</text>
<defs><linearGradient id="jet" x1="0" y1="1" x2="0" y2="0"><stop offset="0" stop-color="#f4f4fc"/><stop offset="0.1" stop-color="#0000ff"/><stop offset="0.22" stop-color="#0060ff"/><stop offset="0.36" stop-color="#00ffff"/><stop offset="0.5" stop-color="#80ff80"/><stop offset="0.62" stop-color="#ffff00"/><stop offset="0.76" stop-color="#ff8000"/><stop offset="0.88" stop-color="#ff0000"/><stop offset="1" stop-color="#800000"/></linearGradient></defs>
<rect x="1192.5" y="48" width="12.5" height="190" fill="url(#jet)" stroke="#777" stroke-width="0.8"/>
<text x="1209.8" y="86.5" font-size="18.5" text-anchor="start" >-50</text>
<path d="M1205 79.9h-2M1192.5 79.9h2" stroke="#444" stroke-width="0.8"/>
<text x="1209.8" y="133.2" font-size="18.5" text-anchor="start" >-55</text>
<path d="M1205 126.6h-2M1192.5 126.6h2" stroke="#444" stroke-width="0.8"/>
<text x="1209.8" y="179.9" font-size="18.5" text-anchor="start" >-60</text>
<path d="M1205 173.3h-2M1192.5 173.3h2" stroke="#444" stroke-width="0.8"/>
<text x="1209.8" y="226.6" font-size="18.5" text-anchor="start" >-65</text>
<path d="M1205 220.0h-2M1192.5 220.0h2" stroke="#444" stroke-width="0.8"/>
<text transform="translate(1244.3,143.5) rotate(90)" font-size="21" text-anchor="middle">Power spectrum [dB]</text></svg>
</body></html>
